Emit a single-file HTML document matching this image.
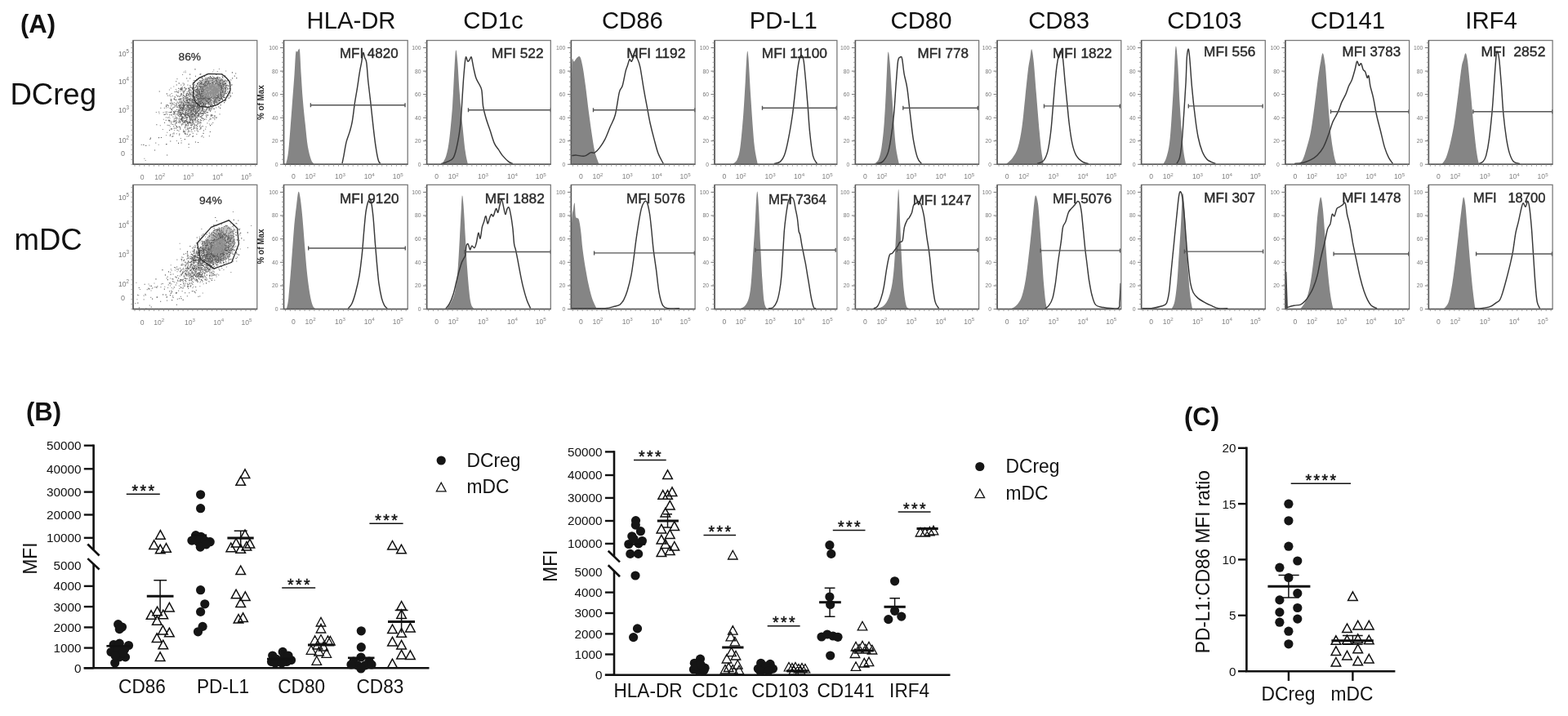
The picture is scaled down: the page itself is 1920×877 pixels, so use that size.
<!DOCTYPE html><html><head><meta charset="utf-8"><title>DCreg vs mDC</title><style>html,body{margin:0;padding:0;background:#fff;width:1920px;height:877px;overflow:hidden}svg{display:block}</style></head><body><svg width="1920" height="877" viewBox="0 0 1920 877" font-family="'Liberation Sans', Arial, sans-serif"><rect width="1920" height="877" fill="#fff"/><text x="25" y="40" font-size="31" fill="#111" text-anchor="start" font-weight="bold">(A)</text><text x="32" y="514.5" font-size="31" fill="#111" text-anchor="start" font-weight="bold">(B)</text><text x="1450" y="521" font-size="31" fill="#111" text-anchor="start" font-weight="bold">(C)</text><text x="12.5" y="128" font-size="36.5" fill="#111" text-anchor="start">DCreg</text><text x="17.5" y="305.7" font-size="36.5" fill="#111" text-anchor="start">mDC</text><text x="430" y="35" font-size="29.3" fill="#111" text-anchor="middle">HLA-DR</text><text x="604" y="35" font-size="29.3" fill="#111" text-anchor="middle">CD1c</text><text x="774.4" y="35" font-size="29.3" fill="#111" text-anchor="middle">CD86</text><text x="959.3" y="35" font-size="29.3" fill="#111" text-anchor="middle">PD-L1</text><text x="1128" y="35" font-size="29.3" fill="#111" text-anchor="middle">CD80</text><text x="1296.6" y="35" font-size="29.3" fill="#111" text-anchor="middle">CD83</text><text x="1474.9" y="35" font-size="29.3" fill="#111" text-anchor="middle">CD103</text><text x="1650.4" y="35" font-size="29.3" fill="#111" text-anchor="middle">CD141</text><text x="1826" y="35" font-size="29.3" fill="#111" text-anchor="middle">IRF4</text><clipPath id="sc0"><rect x="163" y="49.5" width="151.8" height="151.8"/></clipPath><g clip-path="url(#sc0)"><polygon points="241.9,101.6 253.2,95 269.6,95 276.8,101.6 276.2,113.9 269.6,123.2 257.3,128.3 245,126.2 240.9,118" fill="#b4b4b4" opacity="0.8"/><path d="M227.8 132.5h1.1v1.1h-1.1zM222.7 141.8h1.1v1.1h-1.1zM244.6 121.2h1.1v1.1h-1.1zM238.3 128.5h1.1v1.1h-1.1zM227.2 158.5h1.1v1.1h-1.1zM242.5 129.4h1.1v1.1h-1.1zM235.2 127.9h1.1v1.1h-1.1zM239.7 131.1h1.1v1.1h-1.1zM244.7 152.6h1.1v1.1h-1.1zM250 133.9h1.1v1.1h-1.1zM220.1 134.2h1.1v1.1h-1.1zM228.9 135.4h1.1v1.1h-1.1zM240.9 147.2h1.1v1.1h-1.1zM228.4 143.6h1.1v1.1h-1.1zM228.6 155.9h1.1v1.1h-1.1zM248.5 130.7h1.1v1.1h-1.1zM249.3 117.1h1.1v1.1h-1.1zM220.8 121.1h1.1v1.1h-1.1zM216.2 128.3h1.1v1.1h-1.1zM251.5 118.6h1.1v1.1h-1.1zM190.8 136.9h1.1v1.1h-1.1zM228.6 122.3h1.1v1.1h-1.1zM239.6 132.2h1.1v1.1h-1.1zM253.2 117.1h1.1v1.1h-1.1zM243.1 129.7h1.1v1.1h-1.1zM232.3 160.5h1.1v1.1h-1.1zM237.9 159.7h1.1v1.1h-1.1zM236.3 124.2h1.1v1.1h-1.1zM242.4 132.8h1.1v1.1h-1.1zM223 137.1h1.1v1.1h-1.1zM242.4 119.5h1.1v1.1h-1.1zM234.9 149.6h1.1v1.1h-1.1zM228.7 131.7h1.1v1.1h-1.1zM232.6 146.2h1.1v1.1h-1.1zM251.6 124.5h1.1v1.1h-1.1zM240.2 134.3h1.1v1.1h-1.1zM234.3 136.2h1.1v1.1h-1.1zM245.4 126.8h1.1v1.1h-1.1zM253.8 109.8h1.1v1.1h-1.1zM242.3 138.9h1.1v1.1h-1.1zM234 138.9h1.1v1.1h-1.1zM223 90.9h1.1v1.1h-1.1zM225.7 147.5h1.1v1.1h-1.1zM238.9 128.9h1.1v1.1h-1.1zM235.9 142h1.1v1.1h-1.1zM257.8 104.9h1.1v1.1h-1.1zM204.2 161.7h1.1v1.1h-1.1zM229.9 111.2h1.1v1.1h-1.1zM214.6 150.2h1.1v1.1h-1.1zM236.4 140.7h1.1v1.1h-1.1zM223.8 112.8h1.1v1.1h-1.1zM241.4 123.3h1.1v1.1h-1.1zM247.8 144.2h1.1v1.1h-1.1zM239.2 117.1h1.1v1.1h-1.1zM241.3 135.5h1.1v1.1h-1.1zM241.4 133.9h1.1v1.1h-1.1zM204.3 139.7h1.1v1.1h-1.1zM228.6 117.5h1.1v1.1h-1.1zM209.1 133.8h1.1v1.1h-1.1zM251.6 122h1.1v1.1h-1.1zM221.4 123.7h1.1v1.1h-1.1zM241.1 154.2h1.1v1.1h-1.1zM230.1 166.3h1.1v1.1h-1.1zM240.7 130.1h1.1v1.1h-1.1zM235.7 106.3h1.1v1.1h-1.1zM236.9 148.5h1.1v1.1h-1.1zM242.7 112.7h1.1v1.1h-1.1zM225.1 160.6h1.1v1.1h-1.1zM229.6 123.7h1.1v1.1h-1.1zM241.4 138.2h1.1v1.1h-1.1zM236.1 146.6h1.1v1.1h-1.1zM205.6 147h1.1v1.1h-1.1zM222.1 146.9h1.1v1.1h-1.1zM231 134.1h1.1v1.1h-1.1zM249.1 110.5h1.1v1.1h-1.1zM218.5 125.3h1.1v1.1h-1.1zM239.1 146.6h1.1v1.1h-1.1zM212.6 147.7h1.1v1.1h-1.1zM249.9 125.5h1.1v1.1h-1.1zM241.3 137.8h1.1v1.1h-1.1zM222.5 121.4h1.1v1.1h-1.1zM212.9 146.4h1.1v1.1h-1.1zM235.3 116.6h1.1v1.1h-1.1zM217.3 137.4h1.1v1.1h-1.1zM218.4 149.8h1.1v1.1h-1.1zM215.7 163.2h1.1v1.1h-1.1zM236.5 121.2h1.1v1.1h-1.1zM204.6 152.8h1.1v1.1h-1.1zM230.9 125.1h1.1v1.1h-1.1zM247.4 127.9h1.1v1.1h-1.1zM251.3 120.5h1.1v1.1h-1.1zM254.1 130.6h1.1v1.1h-1.1zM225.6 132.2h1.1v1.1h-1.1zM231.9 148.3h1.1v1.1h-1.1zM248.2 108.1h1.1v1.1h-1.1zM224.2 142.4h1.1v1.1h-1.1zM243.9 134.4h1.1v1.1h-1.1zM220.5 141.8h1.1v1.1h-1.1zM241.8 121.9h1.1v1.1h-1.1zM217 136.3h1.1v1.1h-1.1zM212.2 105.4h1.1v1.1h-1.1zM243.3 127.9h1.1v1.1h-1.1zM237.7 136.6h1.1v1.1h-1.1zM226.5 163.2h1.1v1.1h-1.1zM228.7 122.9h1.1v1.1h-1.1zM237.4 129.8h1.1v1.1h-1.1zM219.6 129.8h1.1v1.1h-1.1zM262 113.7h1.1v1.1h-1.1zM257.9 118.4h1.1v1.1h-1.1zM228 144.5h1.1v1.1h-1.1zM237.8 136.5h1.1v1.1h-1.1zM225.4 140h1.1v1.1h-1.1zM225 125.4h1.1v1.1h-1.1zM227.5 139.6h1.1v1.1h-1.1zM233.6 134.5h1.1v1.1h-1.1zM234.8 133.3h1.1v1.1h-1.1zM234.9 125.3h1.1v1.1h-1.1zM217.1 155.6h1.1v1.1h-1.1zM196.8 126.1h1.1v1.1h-1.1zM240 156.2h1.1v1.1h-1.1zM215.7 126.7h1.1v1.1h-1.1zM239.1 127.2h1.1v1.1h-1.1zM253.1 119h1.1v1.1h-1.1zM257.3 118.9h1.1v1.1h-1.1zM230.9 111.6h1.1v1.1h-1.1zM241.3 143.4h1.1v1.1h-1.1zM260.2 149.8h1.1v1.1h-1.1zM238.9 142.5h1.1v1.1h-1.1zM240.1 122.6h1.1v1.1h-1.1zM245.9 125.5h1.1v1.1h-1.1zM218.2 121.3h1.1v1.1h-1.1zM232.8 144.5h1.1v1.1h-1.1zM233.6 112.2h1.1v1.1h-1.1zM249.3 129.3h1.1v1.1h-1.1zM220.6 111.5h1.1v1.1h-1.1zM206.2 146.5h1.1v1.1h-1.1zM235.8 133.4h1.1v1.1h-1.1zM216.4 144.3h1.1v1.1h-1.1zM232.3 133h1.1v1.1h-1.1zM222 146.9h1.1v1.1h-1.1zM228.1 132.2h1.1v1.1h-1.1zM224.7 127.2h1.1v1.1h-1.1zM242.7 126h1.1v1.1h-1.1zM225.4 128.2h1.1v1.1h-1.1zM224.8 144.2h1.1v1.1h-1.1zM221.9 151.8h1.1v1.1h-1.1zM220.3 120.2h1.1v1.1h-1.1zM227.6 132.8h1.1v1.1h-1.1zM212.9 131h1.1v1.1h-1.1zM222.1 144.7h1.1v1.1h-1.1zM243.8 119.4h1.1v1.1h-1.1zM218.6 101.1h1.1v1.1h-1.1zM235.9 124.6h1.1v1.1h-1.1zM233 110.2h1.1v1.1h-1.1zM231.2 134.9h1.1v1.1h-1.1zM243.4 118h1.1v1.1h-1.1zM245.3 130.1h1.1v1.1h-1.1zM231 125.6h1.1v1.1h-1.1zM234 120.3h1.1v1.1h-1.1zM234.3 145.7h1.1v1.1h-1.1zM244.5 115.7h1.1v1.1h-1.1zM235.7 134.9h1.1v1.1h-1.1zM257.8 121.6h1.1v1.1h-1.1zM251.7 154.9h1.1v1.1h-1.1zM241 137.7h1.1v1.1h-1.1zM203.4 138.6h1.1v1.1h-1.1zM238.6 114.3h1.1v1.1h-1.1zM229.3 130.5h1.1v1.1h-1.1zM235.5 135.1h1.1v1.1h-1.1zM234.7 124.6h1.1v1.1h-1.1zM226.7 144.2h1.1v1.1h-1.1zM238.5 121.8h1.1v1.1h-1.1zM221.7 132.6h1.1v1.1h-1.1zM240.8 132.2h1.1v1.1h-1.1zM227 140.7h1.1v1.1h-1.1zM230.2 139.6h1.1v1.1h-1.1zM238.5 133.1h1.1v1.1h-1.1zM241.3 137h1.1v1.1h-1.1zM207.5 148.7h1.1v1.1h-1.1zM230.3 149.3h1.1v1.1h-1.1zM233.8 144.5h1.1v1.1h-1.1zM242.6 125.1h1.1v1.1h-1.1zM220.4 149h1.1v1.1h-1.1zM232.7 129.1h1.1v1.1h-1.1zM233.8 116h1.1v1.1h-1.1zM240.6 129.2h1.1v1.1h-1.1zM210.3 134.6h1.1v1.1h-1.1zM225.8 149.3h1.1v1.1h-1.1zM252.1 114.5h1.1v1.1h-1.1zM257.9 145.2h1.1v1.1h-1.1zM221.6 133.4h1.1v1.1h-1.1zM243.2 129.5h1.1v1.1h-1.1zM238.1 130.2h1.1v1.1h-1.1zM219.5 146.5h1.1v1.1h-1.1zM232.9 142h1.1v1.1h-1.1zM240.6 144h1.1v1.1h-1.1zM241.4 112.4h1.1v1.1h-1.1zM232.7 116.2h1.1v1.1h-1.1zM241.3 136.6h1.1v1.1h-1.1zM242.3 110.7h1.1v1.1h-1.1zM220.1 150.4h1.1v1.1h-1.1zM203 131.4h1.1v1.1h-1.1zM236 133.4h1.1v1.1h-1.1zM221.2 114.8h1.1v1.1h-1.1zM226.9 140.1h1.1v1.1h-1.1zM229 123.5h1.1v1.1h-1.1zM251.1 157.6h1.1v1.1h-1.1zM200.8 131.8h1.1v1.1h-1.1zM246.4 130.4h1.1v1.1h-1.1zM265.2 143.5h1.1v1.1h-1.1zM234.9 102.7h1.1v1.1h-1.1zM263 136.4h1.1v1.1h-1.1zM234 144.3h1.1v1.1h-1.1zM234 132h1.1v1.1h-1.1zM240.8 140.8h1.1v1.1h-1.1zM235.9 124.9h1.1v1.1h-1.1zM237.3 122.8h1.1v1.1h-1.1zM237.7 156.6h1.1v1.1h-1.1zM227.3 119.4h1.1v1.1h-1.1zM245.9 121.3h1.1v1.1h-1.1zM235.7 162.8h1.1v1.1h-1.1zM245 134.4h1.1v1.1h-1.1zM230.3 129.5h1.1v1.1h-1.1zM236.9 128.3h1.1v1.1h-1.1zM235.1 121.1h1.1v1.1h-1.1zM210.9 116.9h1.1v1.1h-1.1zM236.2 142.1h1.1v1.1h-1.1zM248 111.8h1.1v1.1h-1.1zM236.5 111.9h1.1v1.1h-1.1zM245.5 138.8h1.1v1.1h-1.1zM233 142.6h1.1v1.1h-1.1zM228.8 148.5h1.1v1.1h-1.1zM235.2 123h1.1v1.1h-1.1zM223.9 111.5h1.1v1.1h-1.1zM221.3 136.5h1.1v1.1h-1.1zM238.2 143.1h1.1v1.1h-1.1zM236.8 134.6h1.1v1.1h-1.1zM246.5 118.8h1.1v1.1h-1.1zM247.1 165.8h1.1v1.1h-1.1zM236.9 135.5h1.1v1.1h-1.1zM244.4 138.3h1.1v1.1h-1.1zM213.1 118.2h1.1v1.1h-1.1zM221.3 139.9h1.1v1.1h-1.1zM225.8 127.8h1.1v1.1h-1.1zM221.9 138.5h1.1v1.1h-1.1zM236.8 126.1h1.1v1.1h-1.1zM220 156.4h1.1v1.1h-1.1zM224.4 103.8h1.1v1.1h-1.1zM242.1 114.5h1.1v1.1h-1.1zM235.3 125.4h1.1v1.1h-1.1zM215 140.2h1.1v1.1h-1.1zM244.2 136.5h1.1v1.1h-1.1zM246.4 142.3h1.1v1.1h-1.1zM224 132.8h1.1v1.1h-1.1zM224.7 131.2h1.1v1.1h-1.1zM223.8 118.9h1.1v1.1h-1.1zM238.5 128.1h1.1v1.1h-1.1zM227.1 133h1.1v1.1h-1.1zM231.4 143.6h1.1v1.1h-1.1zM240.8 146.7h1.1v1.1h-1.1zM226.5 86.5h1.1v1.1h-1.1zM234.3 140.9h1.1v1.1h-1.1zM225.4 128.3h1.1v1.1h-1.1zM252.6 106.3h1.1v1.1h-1.1zM227.3 158.3h1.1v1.1h-1.1zM229.7 161.4h1.1v1.1h-1.1zM229.4 140.1h1.1v1.1h-1.1zM245.2 117.5h1.1v1.1h-1.1zM250.8 123h1.1v1.1h-1.1zM234.6 148.2h1.1v1.1h-1.1zM243.9 130.6h1.1v1.1h-1.1zM248.3 126.3h1.1v1.1h-1.1zM245.6 93.9h1.1v1.1h-1.1zM236.2 118h1.1v1.1h-1.1zM235 112.3h1.1v1.1h-1.1zM230 124.9h1.1v1.1h-1.1zM227.4 125h1.1v1.1h-1.1zM230 124.2h1.1v1.1h-1.1zM244.8 136.7h1.1v1.1h-1.1zM243.1 129.2h1.1v1.1h-1.1zM208.7 120.8h1.1v1.1h-1.1zM247.2 119.2h1.1v1.1h-1.1zM230.3 129.8h1.1v1.1h-1.1zM221.6 134.8h1.1v1.1h-1.1zM228.3 152.8h1.1v1.1h-1.1zM227.7 146.9h1.1v1.1h-1.1zM247.1 116.7h1.1v1.1h-1.1zM216.7 117.6h1.1v1.1h-1.1zM247.2 128.6h1.1v1.1h-1.1zM230.3 135.4h1.1v1.1h-1.1zM227.4 133h1.1v1.1h-1.1zM229.8 135.9h1.1v1.1h-1.1zM224.3 143.7h1.1v1.1h-1.1zM235.8 124.5h1.1v1.1h-1.1zM224.6 87.7h1.1v1.1h-1.1zM212.6 121.2h1.1v1.1h-1.1zM268.5 139.3h1.1v1.1h-1.1zM212.5 163.5h1.1v1.1h-1.1zM234.5 123.5h1.1v1.1h-1.1zM215 109h1.1v1.1h-1.1zM244.2 124.3h1.1v1.1h-1.1zM227.2 127.4h1.1v1.1h-1.1zM233.6 120.7h1.1v1.1h-1.1zM213.1 159.2h1.1v1.1h-1.1zM242.4 135h1.1v1.1h-1.1zM225 142.4h1.1v1.1h-1.1zM264.1 131.3h1.1v1.1h-1.1zM256 132.7h1.1v1.1h-1.1zM220.3 134.4h1.1v1.1h-1.1zM274.3 115.6h1.1v1.1h-1.1zM219.6 135.1h1.1v1.1h-1.1zM230.2 140.7h1.1v1.1h-1.1zM229.7 129.9h1.1v1.1h-1.1zM228.8 123h1.1v1.1h-1.1zM194.5 138.5h1.1v1.1h-1.1zM214.2 141.9h1.1v1.1h-1.1zM239.1 126.1h1.1v1.1h-1.1zM218.9 136.5h1.1v1.1h-1.1zM242.6 129.9h1.1v1.1h-1.1zM241.3 120.7h1.1v1.1h-1.1zM245.4 127.2h1.1v1.1h-1.1zM248.1 138.9h1.1v1.1h-1.1zM224.4 136.4h1.1v1.1h-1.1zM217.8 136.1h1.1v1.1h-1.1zM239 135.9h1.1v1.1h-1.1zM251.5 123.5h1.1v1.1h-1.1zM232 143.1h1.1v1.1h-1.1zM255.2 147.5h1.1v1.1h-1.1zM253.5 116.7h1.1v1.1h-1.1zM229.3 124.9h1.1v1.1h-1.1zM256.9 112.2h1.1v1.1h-1.1zM220.1 116.7h1.1v1.1h-1.1zM221.3 124.3h1.1v1.1h-1.1zM221.4 124.7h1.1v1.1h-1.1zM236.1 133.7h1.1v1.1h-1.1zM208.8 126.7h1.1v1.1h-1.1zM223.6 128.7h1.1v1.1h-1.1zM246.3 144.1h1.1v1.1h-1.1zM237.4 122.6h1.1v1.1h-1.1zM240 137.9h1.1v1.1h-1.1zM207.7 115.6h1.1v1.1h-1.1zM223.8 125.8h1.1v1.1h-1.1zM196.3 131.8h1.1v1.1h-1.1zM208.4 126.2h1.1v1.1h-1.1zM226.3 154.6h1.1v1.1h-1.1zM263.2 120.4h1.1v1.1h-1.1zM236 128.9h1.1v1.1h-1.1zM257.3 115.4h1.1v1.1h-1.1zM241.9 128.6h1.1v1.1h-1.1zM236.5 130.8h1.1v1.1h-1.1zM227 108.3h1.1v1.1h-1.1zM238.8 144.3h1.1v1.1h-1.1zM240.7 123.4h1.1v1.1h-1.1zM234.4 144h1.1v1.1h-1.1zM240.4 116h1.1v1.1h-1.1zM228.9 113.8h1.1v1.1h-1.1zM243.9 121.1h1.1v1.1h-1.1zM238.2 152.2h1.1v1.1h-1.1zM232.1 126.1h1.1v1.1h-1.1zM238.9 123.8h1.1v1.1h-1.1zM206.9 109.4h1.1v1.1h-1.1zM243.5 118.1h1.1v1.1h-1.1zM218.4 154.4h1.1v1.1h-1.1zM248 134.1h1.1v1.1h-1.1zM239.3 156.5h1.1v1.1h-1.1zM256 151.4h1.1v1.1h-1.1zM218.5 128.4h1.1v1.1h-1.1zM251.8 125.2h1.1v1.1h-1.1zM211.1 126.9h1.1v1.1h-1.1zM220.5 135h1.1v1.1h-1.1zM231.8 146.2h1.1v1.1h-1.1zM233.1 126h1.1v1.1h-1.1zM234.4 115.3h1.1v1.1h-1.1zM234.4 160.8h1.1v1.1h-1.1zM245.2 138.6h1.1v1.1h-1.1zM218.6 121.2h1.1v1.1h-1.1zM211.2 132.3h1.1v1.1h-1.1zM221.5 120.2h1.1v1.1h-1.1zM209.4 125.4h1.1v1.1h-1.1zM242.2 138.3h1.1v1.1h-1.1zM227 138.6h1.1v1.1h-1.1zM236.1 139.9h1.1v1.1h-1.1zM244.4 110.7h1.1v1.1h-1.1zM266.5 118h1.1v1.1h-1.1zM218.1 135.2h1.1v1.1h-1.1zM230.6 155.3h1.1v1.1h-1.1zM234.9 117h1.1v1.1h-1.1zM212.5 144.7h1.1v1.1h-1.1zM246.6 126h1.1v1.1h-1.1zM220 116.9h1.1v1.1h-1.1zM229.6 147.6h1.1v1.1h-1.1zM219.3 135.9h1.1v1.1h-1.1zM224.6 122.8h1.1v1.1h-1.1zM256.1 131.4h1.1v1.1h-1.1zM238.3 115h1.1v1.1h-1.1zM250.1 124.8h1.1v1.1h-1.1zM215.5 147.8h1.1v1.1h-1.1zM228.3 166.5h1.1v1.1h-1.1zM271.5 121.3h1.1v1.1h-1.1zM241.8 141.1h1.1v1.1h-1.1zM242.9 120h1.1v1.1h-1.1zM228.7 154h1.1v1.1h-1.1zM235.3 142.3h1.1v1.1h-1.1zM251.8 140.6h1.1v1.1h-1.1zM238.3 114.8h1.1v1.1h-1.1zM232.7 141.7h1.1v1.1h-1.1zM262.3 145.8h1.1v1.1h-1.1zM237.1 150.8h1.1v1.1h-1.1zM222.7 110.4h1.1v1.1h-1.1zM227.6 143.2h1.1v1.1h-1.1zM228.9 120.4h1.1v1.1h-1.1zM230.6 121.7h1.1v1.1h-1.1zM247.2 112.7h1.1v1.1h-1.1zM239.2 139.1h1.1v1.1h-1.1zM240.8 144.3h1.1v1.1h-1.1zM228.1 152.2h1.1v1.1h-1.1zM220.4 132.4h1.1v1.1h-1.1zM239.8 104.2h1.1v1.1h-1.1zM240.3 129h1.1v1.1h-1.1zM252.1 142.4h1.1v1.1h-1.1zM235 139.4h1.1v1.1h-1.1zM260.7 132.6h1.1v1.1h-1.1zM210 140.5h1.1v1.1h-1.1zM205.2 131.2h1.1v1.1h-1.1zM218.1 113h1.1v1.1h-1.1zM252.1 136.5h1.1v1.1h-1.1zM215.7 149.4h1.1v1.1h-1.1zM230.1 136.3h1.1v1.1h-1.1zM224.6 149.2h1.1v1.1h-1.1zM235.4 126.6h1.1v1.1h-1.1zM246.2 166.7h1.1v1.1h-1.1zM233.2 128.3h1.1v1.1h-1.1zM216.6 125.4h1.1v1.1h-1.1zM215.4 150.7h1.1v1.1h-1.1zM245.8 136.4h1.1v1.1h-1.1zM209.4 133.6h1.1v1.1h-1.1zM237 142.7h1.1v1.1h-1.1zM242.7 124.1h1.1v1.1h-1.1zM236.9 112.6h1.1v1.1h-1.1zM214.3 137.9h1.1v1.1h-1.1zM216.2 128.2h1.1v1.1h-1.1zM218.4 131.7h1.1v1.1h-1.1zM236.5 132.4h1.1v1.1h-1.1zM223.7 111.1h1.1v1.1h-1.1zM223.8 138.6h1.1v1.1h-1.1zM240.1 143.3h1.1v1.1h-1.1zM201.8 136.7h1.1v1.1h-1.1zM238.5 126.9h1.1v1.1h-1.1zM241.4 117.2h1.1v1.1h-1.1zM232 138.6h1.1v1.1h-1.1zM223.8 133.2h1.1v1.1h-1.1zM235.4 131.8h1.1v1.1h-1.1zM267.7 122.2h1.1v1.1h-1.1zM225.9 128.2h1.1v1.1h-1.1zM252.7 115.9h1.1v1.1h-1.1zM209.6 123.5h1.1v1.1h-1.1zM212 137h1.1v1.1h-1.1zM258.7 151.6h1.1v1.1h-1.1zM231.2 131.3h1.1v1.1h-1.1zM230.7 127.3h1.1v1.1h-1.1zM243 150.3h1.1v1.1h-1.1zM259.2 132.3h1.1v1.1h-1.1zM230.3 136.5h1.1v1.1h-1.1zM235.1 149.8h1.1v1.1h-1.1zM235.9 151.4h1.1v1.1h-1.1zM233.2 156.5h1.1v1.1h-1.1zM241.3 107.6h1.1v1.1h-1.1zM210 125.6h1.1v1.1h-1.1zM221.8 136.7h1.1v1.1h-1.1zM225.8 161.6h1.1v1.1h-1.1zM227.8 122.9h1.1v1.1h-1.1zM223.2 138.2h1.1v1.1h-1.1zM234.4 137.5h1.1v1.1h-1.1zM228.7 141.2h1.1v1.1h-1.1zM249.5 144.7h1.1v1.1h-1.1zM224.6 120.7h1.1v1.1h-1.1zM256.1 120.1h1.1v1.1h-1.1zM232.8 115h1.1v1.1h-1.1zM253 134.2h1.1v1.1h-1.1zM237 131.6h1.1v1.1h-1.1zM241.3 120.1h1.1v1.1h-1.1zM251.6 124.8h1.1v1.1h-1.1zM221.1 137.4h1.1v1.1h-1.1zM265.5 100.3h1.1v1.1h-1.1zM231 116.4h1.1v1.1h-1.1zM223.6 138.3h1.1v1.1h-1.1zM241.3 108.2h1.1v1.1h-1.1zM218.7 101.9h1.1v1.1h-1.1zM240.8 134h1.1v1.1h-1.1zM209.2 149.9h1.1v1.1h-1.1zM219 165.2h1.1v1.1h-1.1zM266.7 122.1h1.1v1.1h-1.1zM245.6 142.1h1.1v1.1h-1.1zM199.5 137.3h1.1v1.1h-1.1zM219.9 131.5h1.1v1.1h-1.1zM230 140.2h1.1v1.1h-1.1zM235.8 101.3h1.1v1.1h-1.1zM220.5 116.5h1.1v1.1h-1.1zM194.1 136.6h1.1v1.1h-1.1zM239.5 127h1.1v1.1h-1.1zM209.6 113.9h1.1v1.1h-1.1zM211.4 142.6h1.1v1.1h-1.1zM244.6 127.4h1.1v1.1h-1.1zM238 136h1.1v1.1h-1.1zM230.9 131.8h1.1v1.1h-1.1zM225.3 129h1.1v1.1h-1.1zM229.4 103.6h1.1v1.1h-1.1zM227.8 114h1.1v1.1h-1.1zM228.1 144.6h1.1v1.1h-1.1zM227 118.4h1.1v1.1h-1.1zM225.6 133.8h1.1v1.1h-1.1zM217.9 126.5h1.1v1.1h-1.1zM260.1 128.4h1.1v1.1h-1.1zM243.6 131.4h1.1v1.1h-1.1zM229.4 120.6h1.1v1.1h-1.1zM269.8 119.8h1.1v1.1h-1.1zM257.9 113.1h1.1v1.1h-1.1zM252.6 104h1.1v1.1h-1.1zM243.7 127.2h1.1v1.1h-1.1zM233.3 127.1h1.1v1.1h-1.1zM223.5 127.5h1.1v1.1h-1.1zM234.3 129.7h1.1v1.1h-1.1zM246.7 134h1.1v1.1h-1.1zM226.3 136.3h1.1v1.1h-1.1zM217.6 137.7h1.1v1.1h-1.1zM212.2 139.2h1.1v1.1h-1.1zM221.7 126h1.1v1.1h-1.1zM227.4 121.8h1.1v1.1h-1.1zM231.5 134.2h1.1v1.1h-1.1zM235.2 115.8h1.1v1.1h-1.1zM232 121.2h1.1v1.1h-1.1zM234.8 150.4h1.1v1.1h-1.1zM227.2 148.8h1.1v1.1h-1.1zM254.1 125.9h1.1v1.1h-1.1zM221.5 108.8h1.1v1.1h-1.1zM221.3 146.2h1.1v1.1h-1.1zM230.8 134.1h1.1v1.1h-1.1zM237.6 122.4h1.1v1.1h-1.1zM239 132.7h1.1v1.1h-1.1zM237.7 127.2h1.1v1.1h-1.1zM246.3 116.7h1.1v1.1h-1.1zM217.9 141.1h1.1v1.1h-1.1zM227.3 130.4h1.1v1.1h-1.1zM230.7 110.3h1.1v1.1h-1.1zM237.3 136.8h1.1v1.1h-1.1zM232.2 139.7h1.1v1.1h-1.1zM207.5 144.4h1.1v1.1h-1.1zM250.4 130h1.1v1.1h-1.1zM226.8 127.8h1.1v1.1h-1.1zM221.2 103.6h1.1v1.1h-1.1zM231.3 165.6h1.1v1.1h-1.1zM225.2 123.6h1.1v1.1h-1.1zM242.6 137.9h1.1v1.1h-1.1zM221.7 171.7h1.1v1.1h-1.1zM247 121h1.1v1.1h-1.1zM243.7 139.6h1.1v1.1h-1.1zM220.2 134.7h1.1v1.1h-1.1zM229 136h1.1v1.1h-1.1zM228.5 148.7h1.1v1.1h-1.1zM238.5 125.9h1.1v1.1h-1.1zM219.9 108.7h1.1v1.1h-1.1zM222.6 131h1.1v1.1h-1.1zM207.8 154.4h1.1v1.1h-1.1zM237.3 120.6h1.1v1.1h-1.1zM242.5 147.9h1.1v1.1h-1.1zM250.9 126.8h1.1v1.1h-1.1zM239.8 115.5h1.1v1.1h-1.1zM240.1 130.1h1.1v1.1h-1.1zM240.6 142.5h1.1v1.1h-1.1zM238.8 139.4h1.1v1.1h-1.1zM249 123.7h1.1v1.1h-1.1zM227.6 114.6h1.1v1.1h-1.1zM252.4 137.1h1.1v1.1h-1.1zM218.1 137.1h1.1v1.1h-1.1zM241.8 121.2h1.1v1.1h-1.1zM219.4 142.4h1.1v1.1h-1.1zM237.9 131.8h1.1v1.1h-1.1zM244.8 123.6h1.1v1.1h-1.1zM225.9 154.9h1.1v1.1h-1.1zM242.4 128.5h1.1v1.1h-1.1zM245.1 131.2h1.1v1.1h-1.1zM237.3 151.7h1.1v1.1h-1.1zM222.1 122.9h1.1v1.1h-1.1zM220.4 116.7h1.1v1.1h-1.1zM232.9 130.7h1.1v1.1h-1.1zM211 163.5h1.1v1.1h-1.1zM223.4 127.7h1.1v1.1h-1.1zM233.2 144.3h1.1v1.1h-1.1zM223.6 145.2h1.1v1.1h-1.1zM243.9 133.5h1.1v1.1h-1.1zM250.5 129.7h1.1v1.1h-1.1zM235.4 119.4h1.1v1.1h-1.1zM226.1 107.6h1.1v1.1h-1.1zM218.9 141.8h1.1v1.1h-1.1zM237.8 107.5h1.1v1.1h-1.1zM221.2 145.7h1.1v1.1h-1.1zM220.3 130.2h1.1v1.1h-1.1zM236.3 149.9h1.1v1.1h-1.1zM240.3 163.8h1.1v1.1h-1.1zM207.6 147.7h1.1v1.1h-1.1zM240.8 120.7h1.1v1.1h-1.1zM213.7 151.5h1.1v1.1h-1.1zM228.4 137.6h1.1v1.1h-1.1zM234 110.4h1.1v1.1h-1.1zM216.4 96.1h1.1v1.1h-1.1zM233.1 117.4h1.1v1.1h-1.1zM244 131.4h1.1v1.1h-1.1zM214.8 136.1h1.1v1.1h-1.1zM229.1 132.7h1.1v1.1h-1.1zM242.9 149h1.1v1.1h-1.1zM240.6 121.8h1.1v1.1h-1.1zM228 115h1.1v1.1h-1.1zM224.3 131.8h1.1v1.1h-1.1zM222.1 147.6h1.1v1.1h-1.1zM220.3 139.8h1.1v1.1h-1.1zM214.3 152.6h1.1v1.1h-1.1zM225.1 124.2h1.1v1.1h-1.1zM222 127.8h1.1v1.1h-1.1zM243.3 132.3h1.1v1.1h-1.1zM261.2 119.8h1.1v1.1h-1.1zM221.3 138.5h1.1v1.1h-1.1zM257.5 113h1.1v1.1h-1.1zM227 151.5h1.1v1.1h-1.1zM236.1 134.2h1.1v1.1h-1.1zM245.6 156.6h1.1v1.1h-1.1zM228.1 122.2h1.1v1.1h-1.1zM199.8 145.7h1.1v1.1h-1.1zM212.4 162.3h1.1v1.1h-1.1zM243.5 138.7h1.1v1.1h-1.1zM224.7 128.7h1.1v1.1h-1.1zM245.9 154.9h1.1v1.1h-1.1zM239.5 136.2h1.1v1.1h-1.1zM234.5 140.6h1.1v1.1h-1.1zM238.6 121h1.1v1.1h-1.1zM232.5 137.2h1.1v1.1h-1.1zM235.9 133.7h1.1v1.1h-1.1zM220.9 132h1.1v1.1h-1.1zM253.8 130.8h1.1v1.1h-1.1zM224.2 158.6h1.1v1.1h-1.1zM235.2 166.8h1.1v1.1h-1.1zM226.5 140.6h1.1v1.1h-1.1zM230.2 139.3h1.1v1.1h-1.1zM234.4 113.2h1.1v1.1h-1.1zM234.2 142.2h1.1v1.1h-1.1zM232.4 125h1.1v1.1h-1.1zM248.4 147.1h1.1v1.1h-1.1zM222.5 139h1.1v1.1h-1.1zM258.3 134.2h1.1v1.1h-1.1zM241 149.4h1.1v1.1h-1.1zM249.9 125.8h1.1v1.1h-1.1zM235.5 147.8h1.1v1.1h-1.1zM235.7 135.9h1.1v1.1h-1.1zM237.4 140.1h1.1v1.1h-1.1zM241.3 141.7h1.1v1.1h-1.1zM243.8 129.7h1.1v1.1h-1.1zM248.8 115.9h1.1v1.1h-1.1zM229.9 152.8h1.1v1.1h-1.1zM229.9 119.9h1.1v1.1h-1.1zM224.5 134h1.1v1.1h-1.1zM215.6 122.5h1.1v1.1h-1.1zM239.6 142.6h1.1v1.1h-1.1zM242.4 123.3h1.1v1.1h-1.1zM227.9 115.6h1.1v1.1h-1.1zM235.3 134.9h1.1v1.1h-1.1zM241.5 124.9h1.1v1.1h-1.1zM228.7 128.9h1.1v1.1h-1.1zM213.7 118.7h1.1v1.1h-1.1zM238.1 117.4h1.1v1.1h-1.1zM212.7 120h1.1v1.1h-1.1zM251 118h1.1v1.1h-1.1zM234.8 124.6h1.1v1.1h-1.1zM230.2 129.6h1.1v1.1h-1.1zM210.8 125.9h1.1v1.1h-1.1zM245 142.2h1.1v1.1h-1.1zM242.4 113h1.1v1.1h-1.1zM231.6 141.5h1.1v1.1h-1.1zM222.5 144.4h1.1v1.1h-1.1zM241.1 154.8h1.1v1.1h-1.1zM252.5 132.6h1.1v1.1h-1.1zM244 128.4h1.1v1.1h-1.1zM234.5 141.1h1.1v1.1h-1.1zM252.4 136.5h1.1v1.1h-1.1zM230.6 138.8h1.1v1.1h-1.1zM238.8 145.5h1.1v1.1h-1.1zM246.7 111.1h1.1v1.1h-1.1zM253.1 121.1h1.1v1.1h-1.1zM231.6 133.3h1.1v1.1h-1.1zM236.9 111.6h1.1v1.1h-1.1zM222.9 132.8h1.1v1.1h-1.1zM238.7 135.8h1.1v1.1h-1.1zM250.9 113.4h1.1v1.1h-1.1zM251.2 134.7h1.1v1.1h-1.1zM236.2 139.7h1.1v1.1h-1.1zM235 149.2h1.1v1.1h-1.1zM235.8 157.7h1.1v1.1h-1.1zM236.1 133.9h1.1v1.1h-1.1zM216 143.5h1.1v1.1h-1.1zM236.7 97.9h1.1v1.1h-1.1zM244.2 131.5h1.1v1.1h-1.1zM227.9 134.9h1.1v1.1h-1.1zM225.4 130.7h1.1v1.1h-1.1zM220.8 169h1.1v1.1h-1.1zM225.4 107h1.1v1.1h-1.1zM224.7 121.6h1.1v1.1h-1.1zM222.9 144h1.1v1.1h-1.1zM237.3 145.6h1.1v1.1h-1.1zM208.4 131.7h1.1v1.1h-1.1zM233.8 123.5h1.1v1.1h-1.1zM240.9 143.3h1.1v1.1h-1.1zM221.9 139.8h1.1v1.1h-1.1zM238.3 133.2h1.1v1.1h-1.1zM247.8 102.9h1.1v1.1h-1.1zM242.3 145.7h1.1v1.1h-1.1zM221.7 133.3h1.1v1.1h-1.1zM251.7 122h1.1v1.1h-1.1zM234.7 150.1h1.1v1.1h-1.1zM233.3 114.3h1.1v1.1h-1.1zM259.3 122.9h1.1v1.1h-1.1zM237.5 135.4h1.1v1.1h-1.1zM227.8 134.7h1.1v1.1h-1.1zM257.6 121.8h1.1v1.1h-1.1zM228.3 127.1h1.1v1.1h-1.1zM230 128.8h1.1v1.1h-1.1zM243.5 138h1.1v1.1h-1.1zM246 116.6h1.1v1.1h-1.1zM220.2 128h1.1v1.1h-1.1zM233.2 112.5h1.1v1.1h-1.1zM231.4 114.4h1.1v1.1h-1.1zM238.1 103.3h1.1v1.1h-1.1zM239.4 153.6h1.1v1.1h-1.1zM208.9 129.3h1.1v1.1h-1.1zM206.7 116.7h1.1v1.1h-1.1zM229.6 130.5h1.1v1.1h-1.1zM212.5 149h1.1v1.1h-1.1zM263.2 121.7h1.1v1.1h-1.1zM223 131.3h1.1v1.1h-1.1zM235.7 131.1h1.1v1.1h-1.1zM256.7 123.5h1.1v1.1h-1.1zM249.3 134.4h1.1v1.1h-1.1zM244.7 147.4h1.1v1.1h-1.1zM210 128h1.1v1.1h-1.1zM233.8 129.7h1.1v1.1h-1.1zM231.1 129.1h1.1v1.1h-1.1zM256.8 134.9h1.1v1.1h-1.1zM220.1 130.7h1.1v1.1h-1.1zM244.1 125.3h1.1v1.1h-1.1zM224.5 149.6h1.1v1.1h-1.1zM232.9 145.1h1.1v1.1h-1.1zM245 116.3h1.1v1.1h-1.1zM215.8 172h1.1v1.1h-1.1zM243.3 142.6h1.1v1.1h-1.1zM212.6 146.8h1.1v1.1h-1.1zM214 135.9h1.1v1.1h-1.1zM234.7 143h1.1v1.1h-1.1zM244.3 150.5h1.1v1.1h-1.1zM220.2 124.3h1.1v1.1h-1.1zM220.6 134.4h1.1v1.1h-1.1zM243.8 124.2h1.1v1.1h-1.1zM248.6 167.6h1.1v1.1h-1.1zM240.7 136.9h1.1v1.1h-1.1zM251.6 108h1.1v1.1h-1.1zM237.9 132.1h1.1v1.1h-1.1zM218.7 125.2h1.1v1.1h-1.1zM236.8 119.2h1.1v1.1h-1.1zM195.8 153.2h1.1v1.1h-1.1zM237.4 154.9h1.1v1.1h-1.1zM226.1 160.5h1.1v1.1h-1.1zM233.8 120.6h1.1v1.1h-1.1zM235.1 133.7h1.1v1.1h-1.1zM232.3 141.5h1.1v1.1h-1.1zM206.8 142.7h1.1v1.1h-1.1zM204.7 116.6h1.1v1.1h-1.1zM220.2 109.1h1.1v1.1h-1.1zM235.1 138.9h1.1v1.1h-1.1zM248.8 134.6h1.1v1.1h-1.1zM235.1 122.2h1.1v1.1h-1.1zM241.3 152.1h1.1v1.1h-1.1zM219.4 133.4h1.1v1.1h-1.1zM221.3 130.8h1.1v1.1h-1.1zM245.2 122.8h1.1v1.1h-1.1zM248.8 118.4h1.1v1.1h-1.1zM223 136.5h1.1v1.1h-1.1zM232 134.2h1.1v1.1h-1.1zM237.1 113.7h1.1v1.1h-1.1zM235.1 137.4h1.1v1.1h-1.1zM229 128.3h1.1v1.1h-1.1zM218.5 145.5h1.1v1.1h-1.1zM221.3 136.9h1.1v1.1h-1.1zM224.8 126.9h1.1v1.1h-1.1zM212.7 125h1.1v1.1h-1.1zM208.7 107.4h1.1v1.1h-1.1zM208.9 158.2h1.1v1.1h-1.1zM234.8 131.6h1.1v1.1h-1.1zM222.7 151.2h1.1v1.1h-1.1zM224.7 123.4h1.1v1.1h-1.1zM238.8 122.9h1.1v1.1h-1.1zM238.6 126.2h1.1v1.1h-1.1zM247 121.8h1.1v1.1h-1.1zM237.1 118.6h1.1v1.1h-1.1zM241.3 131.2h1.1v1.1h-1.1zM208.6 117.8h1.1v1.1h-1.1zM236.2 131.9h1.1v1.1h-1.1zM220.7 134.3h1.1v1.1h-1.1zM225.3 120.1h1.1v1.1h-1.1zM244.2 157.9h1.1v1.1h-1.1zM254.4 124h1.1v1.1h-1.1zM250.4 120.1h1.1v1.1h-1.1zM243.1 140.7h1.1v1.1h-1.1zM240.5 135.9h1.1v1.1h-1.1zM219.2 120.6h1.1v1.1h-1.1zM255.8 166.1h1.1v1.1h-1.1zM248.3 137.9h1.1v1.1h-1.1zM214.2 118.3h1.1v1.1h-1.1zM240.3 140.6h1.1v1.1h-1.1zM218.7 138.4h1.1v1.1h-1.1zM207.1 147h1.1v1.1h-1.1zM236.9 155.3h1.1v1.1h-1.1zM226.7 88.2h1.1v1.1h-1.1zM268.8 119.5h1.1v1.1h-1.1zM254.8 130h1.1v1.1h-1.1zM240.9 128.5h1.1v1.1h-1.1zM227.4 131.3h1.1v1.1h-1.1zM229.5 131.4h1.1v1.1h-1.1zM226.4 140.7h1.1v1.1h-1.1zM231.3 138.7h1.1v1.1h-1.1zM244.8 155.8h1.1v1.1h-1.1zM247.2 129.3h1.1v1.1h-1.1zM252.7 134h1.1v1.1h-1.1zM254.9 129.6h1.1v1.1h-1.1zM236.3 147.4h1.1v1.1h-1.1zM235.4 118.8h1.1v1.1h-1.1zM238.5 137.6h1.1v1.1h-1.1zM236.5 135.2h1.1v1.1h-1.1zM230.8 150.1h1.1v1.1h-1.1zM233.3 134h1.1v1.1h-1.1zM214.5 128.9h1.1v1.1h-1.1zM218.9 144.3h1.1v1.1h-1.1zM197 125.5h1.1v1.1h-1.1zM233 145.8h1.1v1.1h-1.1zM231.9 139.9h1.1v1.1h-1.1zM202.9 143.3h1.1v1.1h-1.1zM246.6 142.5h1.1v1.1h-1.1zM233.6 142.3h1.1v1.1h-1.1zM233.6 127.5h1.1v1.1h-1.1zM221.9 129.7h1.1v1.1h-1.1zM247.5 111.9h1.1v1.1h-1.1zM248.5 140.5h1.1v1.1h-1.1zM222.7 125.4h1.1v1.1h-1.1zM218.8 146.9h1.1v1.1h-1.1zM221.6 131h1.1v1.1h-1.1zM216.3 135.9h1.1v1.1h-1.1zM248.8 139.1h1.1v1.1h-1.1zM253.4 150.3h1.1v1.1h-1.1zM222 153.2h1.1v1.1h-1.1zM237.1 114.6h1.1v1.1h-1.1zM228.6 123.6h1.1v1.1h-1.1zM257.3 133.3h1.1v1.1h-1.1zM230.1 126h1.1v1.1h-1.1zM224.8 118.8h1.1v1.1h-1.1zM230.7 137.9h1.1v1.1h-1.1zM230.6 180h1.1v1.1h-1.1zM220 155.4h1.1v1.1h-1.1zM227.5 127.5h1.1v1.1h-1.1zM220.7 130.7h1.1v1.1h-1.1zM225.7 140.2h1.1v1.1h-1.1zM223.6 128.2h1.1v1.1h-1.1zM236.9 140.9h1.1v1.1h-1.1zM245.9 135.5h1.1v1.1h-1.1zM222.6 117.8h1.1v1.1h-1.1zM233.4 136.1h1.1v1.1h-1.1zM223 128.5h1.1v1.1h-1.1zM227.2 121.5h1.1v1.1h-1.1zM233.2 150.4h1.1v1.1h-1.1zM235.1 122.8h1.1v1.1h-1.1zM234.8 136.7h1.1v1.1h-1.1zM221 144.7h1.1v1.1h-1.1zM228.9 118.9h1.1v1.1h-1.1zM218.4 159.8h1.1v1.1h-1.1zM211.5 131.1h1.1v1.1h-1.1zM232.6 136.1h1.1v1.1h-1.1zM216.6 130.3h1.1v1.1h-1.1zM242.4 129.1h1.1v1.1h-1.1zM238.6 129.7h1.1v1.1h-1.1zM250.6 118.4h1.1v1.1h-1.1zM219.2 127.3h1.1v1.1h-1.1zM229.6 150.8h1.1v1.1h-1.1zM232.3 124.3h1.1v1.1h-1.1zM238.3 147h1.1v1.1h-1.1zM242.8 124.1h1.1v1.1h-1.1zM229.9 107.6h1.1v1.1h-1.1zM231 121.8h1.1v1.1h-1.1zM222.5 141.9h1.1v1.1h-1.1zM225.8 147.7h1.1v1.1h-1.1zM228.4 124.8h1.1v1.1h-1.1zM236.4 113.9h1.1v1.1h-1.1zM172.7 176.8h1.1v1.1h-1.1zM177.6 195.9h1.1v1.1h-1.1zM176.3 193.7h1.1v1.1h-1.1zM182.3 177.4h1.1v1.1h-1.1zM190.2 174.6h1.1v1.1h-1.1zM198.8 158h1.1v1.1h-1.1zM210.3 167h1.1v1.1h-1.1zM193.7 176.7h1.1v1.1h-1.1zM203 165.2h1.1v1.1h-1.1zM203.2 176.3h1.1v1.1h-1.1z" fill="#8c8c8c"/><path d="M236 138.8h1.1v1.1h-1.1zM247 121.5h1.1v1.1h-1.1zM200.5 140h1.1v1.1h-1.1zM220.5 139.5h1.1v1.1h-1.1zM231 121h1.1v1.1h-1.1zM241 126.1h1.1v1.1h-1.1zM219.4 130.5h1.1v1.1h-1.1zM221.6 116h1.1v1.1h-1.1zM246.7 140.9h1.1v1.1h-1.1zM212.2 154.2h1.1v1.1h-1.1zM223.8 127.4h1.1v1.1h-1.1zM236.7 125.5h1.1v1.1h-1.1zM232.1 120h1.1v1.1h-1.1zM219.2 139.9h1.1v1.1h-1.1zM223.6 101.5h1.1v1.1h-1.1zM222.7 151.5h1.1v1.1h-1.1zM233.2 152.8h1.1v1.1h-1.1zM244.2 119.7h1.1v1.1h-1.1zM246.7 124.2h1.1v1.1h-1.1zM209.3 151.5h1.1v1.1h-1.1zM221.9 108.6h1.1v1.1h-1.1zM241.8 141.7h1.1v1.1h-1.1zM245.7 138.9h1.1v1.1h-1.1zM241.3 110.9h1.1v1.1h-1.1zM219.6 147.9h1.1v1.1h-1.1zM234.8 107.4h1.1v1.1h-1.1zM231.1 107.4h1.1v1.1h-1.1zM237.5 128.8h1.1v1.1h-1.1zM238 125h1.1v1.1h-1.1zM225.5 134.5h1.1v1.1h-1.1zM230.2 124.8h1.1v1.1h-1.1zM227.2 138h1.1v1.1h-1.1zM230.4 134.3h1.1v1.1h-1.1zM242.1 139.7h1.1v1.1h-1.1zM255.6 132.4h1.1v1.1h-1.1zM215.2 99.2h1.1v1.1h-1.1zM227.8 108.2h1.1v1.1h-1.1zM246.7 138.5h1.1v1.1h-1.1zM233.6 135.2h1.1v1.1h-1.1zM245.3 90.2h1.1v1.1h-1.1zM238.3 118.9h1.1v1.1h-1.1zM236.3 107.2h1.1v1.1h-1.1zM255.8 134.2h1.1v1.1h-1.1zM239.8 118.7h1.1v1.1h-1.1zM226 128.8h1.1v1.1h-1.1zM258 129h1.1v1.1h-1.1zM243.8 113h1.1v1.1h-1.1zM235.3 131.5h1.1v1.1h-1.1zM209 157.2h1.1v1.1h-1.1zM247.2 140.7h1.1v1.1h-1.1zM243 140.3h1.1v1.1h-1.1zM262.4 125.5h1.1v1.1h-1.1zM226.7 163.7h1.1v1.1h-1.1zM230.2 140.9h1.1v1.1h-1.1zM247.8 132.8h1.1v1.1h-1.1zM226.4 149h1.1v1.1h-1.1zM207.7 125.7h1.1v1.1h-1.1zM242.1 126.2h1.1v1.1h-1.1zM215.7 111.3h1.1v1.1h-1.1zM232.1 95.5h1.1v1.1h-1.1zM261.7 143.9h1.1v1.1h-1.1zM247.1 131.7h1.1v1.1h-1.1zM230.7 131h1.1v1.1h-1.1zM267.9 107.8h1.1v1.1h-1.1zM252 114.6h1.1v1.1h-1.1zM263 129h1.1v1.1h-1.1zM214 144.3h1.1v1.1h-1.1zM208.9 136.8h1.1v1.1h-1.1zM257.1 115.7h1.1v1.1h-1.1zM206.5 152.9h1.1v1.1h-1.1zM240.8 129.1h1.1v1.1h-1.1zM240.7 125.7h1.1v1.1h-1.1zM238.2 141.7h1.1v1.1h-1.1zM219 124.5h1.1v1.1h-1.1zM247.4 134.5h1.1v1.1h-1.1zM227.1 119.5h1.1v1.1h-1.1zM232.4 148.7h1.1v1.1h-1.1zM231.6 145.1h1.1v1.1h-1.1zM238.9 136.6h1.1v1.1h-1.1zM239.1 139.1h1.1v1.1h-1.1zM247.4 131.3h1.1v1.1h-1.1zM257 153.1h1.1v1.1h-1.1zM241.6 115.3h1.1v1.1h-1.1zM241.6 120.1h1.1v1.1h-1.1zM224.7 147.6h1.1v1.1h-1.1zM247.6 135.8h1.1v1.1h-1.1zM235.4 129.9h1.1v1.1h-1.1zM237.9 140h1.1v1.1h-1.1zM217.4 140.3h1.1v1.1h-1.1zM208.8 122.7h1.1v1.1h-1.1zM237.4 124.7h1.1v1.1h-1.1zM216.6 124.5h1.1v1.1h-1.1zM254.2 113.5h1.1v1.1h-1.1zM212.9 121h1.1v1.1h-1.1zM215.9 154.8h1.1v1.1h-1.1zM213.2 129.5h1.1v1.1h-1.1zM245.7 129.4h1.1v1.1h-1.1zM257.9 122.1h1.1v1.1h-1.1zM212.8 137.1h1.1v1.1h-1.1zM221.1 114.5h1.1v1.1h-1.1zM203.8 114.3h1.1v1.1h-1.1zM243.2 130.8h1.1v1.1h-1.1zM224 126.3h1.1v1.1h-1.1zM231.1 133.3h1.1v1.1h-1.1zM242.4 125.2h1.1v1.1h-1.1zM222.2 131.2h1.1v1.1h-1.1zM229.8 138.8h1.1v1.1h-1.1zM233.4 122.6h1.1v1.1h-1.1zM250 101.3h1.1v1.1h-1.1zM229 143h1.1v1.1h-1.1zM262 141.6h1.1v1.1h-1.1zM248.8 137.4h1.1v1.1h-1.1zM249.3 129.5h1.1v1.1h-1.1zM226.5 117.9h1.1v1.1h-1.1zM256.7 144.4h1.1v1.1h-1.1zM228.6 143.7h1.1v1.1h-1.1zM244.1 154.2h1.1v1.1h-1.1zM247.7 111.8h1.1v1.1h-1.1zM238.2 109.6h1.1v1.1h-1.1zM235.3 146.2h1.1v1.1h-1.1zM226.9 139.6h1.1v1.1h-1.1zM235.9 166.3h1.1v1.1h-1.1zM232.6 106.5h1.1v1.1h-1.1zM220.9 125.6h1.1v1.1h-1.1zM218.6 121.3h1.1v1.1h-1.1zM244.7 149.3h1.1v1.1h-1.1zM221.2 140.9h1.1v1.1h-1.1zM259.3 140.3h1.1v1.1h-1.1zM238.4 84.3h1.1v1.1h-1.1zM234.6 137.6h1.1v1.1h-1.1zM222.5 124.5h1.1v1.1h-1.1zM236.4 125h1.1v1.1h-1.1zM231.6 122.6h1.1v1.1h-1.1zM239.7 138.7h1.1v1.1h-1.1zM231.8 147.4h1.1v1.1h-1.1zM243.6 105.2h1.1v1.1h-1.1zM249.7 115.5h1.1v1.1h-1.1zM232.8 132.1h1.1v1.1h-1.1zM232.2 164.1h1.1v1.1h-1.1zM223.1 108.3h1.1v1.1h-1.1zM238.2 122h1.1v1.1h-1.1zM217.8 148.7h1.1v1.1h-1.1zM240.2 109.6h1.1v1.1h-1.1zM212.3 135.9h1.1v1.1h-1.1zM231.1 132.8h1.1v1.1h-1.1zM234.4 134.3h1.1v1.1h-1.1zM230.9 142.9h1.1v1.1h-1.1zM237.2 145.2h1.1v1.1h-1.1zM224.5 130.9h1.1v1.1h-1.1zM238.8 120.5h1.1v1.1h-1.1zM252.5 140.4h1.1v1.1h-1.1zM227.6 140h1.1v1.1h-1.1zM244.9 137.3h1.1v1.1h-1.1zM237.4 131.3h1.1v1.1h-1.1zM244.9 123.3h1.1v1.1h-1.1zM194.7 111.5h1.1v1.1h-1.1zM236.3 119.4h1.1v1.1h-1.1zM230.4 130.2h1.1v1.1h-1.1zM220.1 132h1.1v1.1h-1.1zM233.2 128.5h1.1v1.1h-1.1zM229.4 158h1.1v1.1h-1.1zM241 113h1.1v1.1h-1.1zM248 145h1.1v1.1h-1.1zM237.6 141.3h1.1v1.1h-1.1zM234 128.9h1.1v1.1h-1.1zM247.1 98h1.1v1.1h-1.1zM221.9 114.3h1.1v1.1h-1.1zM229.7 128.1h1.1v1.1h-1.1zM253.8 136.9h1.1v1.1h-1.1zM232.1 90.6h1.1v1.1h-1.1zM248.2 125.1h1.1v1.1h-1.1zM219.9 127.7h1.1v1.1h-1.1zM213 137.8h1.1v1.1h-1.1zM226.3 132h1.1v1.1h-1.1zM229.8 121.4h1.1v1.1h-1.1zM240.7 137.3h1.1v1.1h-1.1zM260.7 129.9h1.1v1.1h-1.1zM230.6 176.1h1.1v1.1h-1.1zM226.3 140.6h1.1v1.1h-1.1zM223.7 115.7h1.1v1.1h-1.1zM242.2 123.7h1.1v1.1h-1.1zM241.6 129.4h1.1v1.1h-1.1zM236.5 118.4h1.1v1.1h-1.1zM231.1 117.2h1.1v1.1h-1.1zM249.7 145.9h1.1v1.1h-1.1zM242 130.6h1.1v1.1h-1.1zM241.4 121.6h1.1v1.1h-1.1zM237.1 139.7h1.1v1.1h-1.1zM232.1 149.8h1.1v1.1h-1.1zM253.4 131.9h1.1v1.1h-1.1zM248.9 159.5h1.1v1.1h-1.1zM235.6 145.8h1.1v1.1h-1.1zM203.6 136.6h1.1v1.1h-1.1zM210.2 157.4h1.1v1.1h-1.1zM215.7 103.4h1.1v1.1h-1.1zM239.5 133.5h1.1v1.1h-1.1zM230.5 136.3h1.1v1.1h-1.1zM230.2 159.4h1.1v1.1h-1.1zM223.3 143.1h1.1v1.1h-1.1zM231 125.7h1.1v1.1h-1.1zM216.5 139.1h1.1v1.1h-1.1zM229.4 150.8h1.1v1.1h-1.1zM227.1 141.3h1.1v1.1h-1.1zM229.4 140.6h1.1v1.1h-1.1zM229.7 138.3h1.1v1.1h-1.1zM246.9 125.2h1.1v1.1h-1.1zM213.9 121.7h1.1v1.1h-1.1zM229.8 125.6h1.1v1.1h-1.1zM239.9 125.5h1.1v1.1h-1.1zM205.5 129.1h1.1v1.1h-1.1zM249.3 126.7h1.1v1.1h-1.1zM231.5 114.5h1.1v1.1h-1.1zM207 146.9h1.1v1.1h-1.1zM227.4 123.7h1.1v1.1h-1.1zM243.6 115.4h1.1v1.1h-1.1zM236.8 154.8h1.1v1.1h-1.1zM233.4 132.7h1.1v1.1h-1.1zM212.8 156.6h1.1v1.1h-1.1zM230.2 132.2h1.1v1.1h-1.1zM264.5 125.8h1.1v1.1h-1.1zM230.7 108.1h1.1v1.1h-1.1zM246.6 115.2h1.1v1.1h-1.1zM221.9 139.9h1.1v1.1h-1.1zM218.5 133.8h1.1v1.1h-1.1zM239.7 109.1h1.1v1.1h-1.1zM246.8 120h1.1v1.1h-1.1zM231.8 142.4h1.1v1.1h-1.1zM245 117.3h1.1v1.1h-1.1zM235.5 124.2h1.1v1.1h-1.1zM249.9 136.2h1.1v1.1h-1.1zM219.9 149h1.1v1.1h-1.1zM238.3 141.5h1.1v1.1h-1.1zM250.6 109h1.1v1.1h-1.1zM238.4 134.5h1.1v1.1h-1.1zM240.1 152.8h1.1v1.1h-1.1zM220.6 141.7h1.1v1.1h-1.1zM223.5 119.9h1.1v1.1h-1.1zM232.9 129.6h1.1v1.1h-1.1zM232.5 119.6h1.1v1.1h-1.1zM256.4 146h1.1v1.1h-1.1zM212.4 136.6h1.1v1.1h-1.1zM220.3 157.6h1.1v1.1h-1.1zM222.5 138.8h1.1v1.1h-1.1zM249.7 137.8h1.1v1.1h-1.1zM260.4 115.8h1.1v1.1h-1.1zM236.1 131.6h1.1v1.1h-1.1zM234.9 139.1h1.1v1.1h-1.1zM215.1 128.5h1.1v1.1h-1.1zM212.6 127.3h1.1v1.1h-1.1zM249.1 121h1.1v1.1h-1.1zM236.7 156.9h1.1v1.1h-1.1zM221.4 107.2h1.1v1.1h-1.1zM238.5 97.9h1.1v1.1h-1.1zM208 137h1.1v1.1h-1.1zM222 134.4h1.1v1.1h-1.1zM238.9 129.5h1.1v1.1h-1.1zM226.4 126.7h1.1v1.1h-1.1zM246 147.2h1.1v1.1h-1.1zM226 156.2h1.1v1.1h-1.1zM225.4 139.1h1.1v1.1h-1.1zM229.6 124.8h1.1v1.1h-1.1zM238.6 138.7h1.1v1.1h-1.1zM255.1 119.5h1.1v1.1h-1.1zM233 128.8h1.1v1.1h-1.1zM242.5 134.9h1.1v1.1h-1.1zM215.3 149.6h1.1v1.1h-1.1zM235.9 143.6h1.1v1.1h-1.1zM258.6 130.4h1.1v1.1h-1.1zM247.1 132.5h1.1v1.1h-1.1zM247.9 128.2h1.1v1.1h-1.1zM232.9 121.7h1.1v1.1h-1.1zM243.7 134h1.1v1.1h-1.1zM240.8 131.5h1.1v1.1h-1.1zM245.9 126.6h1.1v1.1h-1.1zM246.6 109.1h1.1v1.1h-1.1zM221.2 125.6h1.1v1.1h-1.1zM250.8 136h1.1v1.1h-1.1zM241.9 128.6h1.1v1.1h-1.1zM233 135.7h1.1v1.1h-1.1zM231.2 157h1.1v1.1h-1.1zM218.2 129h1.1v1.1h-1.1zM251.2 129.3h1.1v1.1h-1.1zM231 142.2h1.1v1.1h-1.1zM209.3 121.6h1.1v1.1h-1.1zM219.4 118h1.1v1.1h-1.1zM228.6 112.2h1.1v1.1h-1.1zM218.3 134.2h1.1v1.1h-1.1zM241.5 148.1h1.1v1.1h-1.1zM222.8 134.3h1.1v1.1h-1.1zM203 129.8h1.1v1.1h-1.1zM251.7 134.4h1.1v1.1h-1.1zM211.2 166.3h1.1v1.1h-1.1zM246.6 119.3h1.1v1.1h-1.1zM219.5 148.6h1.1v1.1h-1.1zM227.2 117.2h1.1v1.1h-1.1zM251.2 138.1h1.1v1.1h-1.1zM232.2 155.9h1.1v1.1h-1.1zM233.9 136.5h1.1v1.1h-1.1zM254 140.6h1.1v1.1h-1.1zM256.2 126.6h1.1v1.1h-1.1zM224.1 116.1h1.1v1.1h-1.1zM224.5 149.2h1.1v1.1h-1.1zM227.1 136.9h1.1v1.1h-1.1zM233.7 142.5h1.1v1.1h-1.1zM230.9 141.1h1.1v1.1h-1.1zM255 115.4h1.1v1.1h-1.1zM235.7 107.2h1.1v1.1h-1.1zM258.3 128h1.1v1.1h-1.1zM230.7 132.5h1.1v1.1h-1.1zM256.2 103.3h1.1v1.1h-1.1zM222.9 132.6h1.1v1.1h-1.1zM235.5 106.9h1.1v1.1h-1.1zM224.2 161.1h1.1v1.1h-1.1zM223.9 139.1h1.1v1.1h-1.1zM239 135.3h1.1v1.1h-1.1zM229.4 139.5h1.1v1.1h-1.1zM223.4 146.8h1.1v1.1h-1.1zM211.2 152h1.1v1.1h-1.1zM250.5 109.2h1.1v1.1h-1.1zM207.7 131.9h1.1v1.1h-1.1zM234.1 146.3h1.1v1.1h-1.1zM213.9 135.5h1.1v1.1h-1.1zM247.3 117.3h1.1v1.1h-1.1zM203.2 128.3h1.1v1.1h-1.1zM222.2 145.5h1.1v1.1h-1.1zM241 157.1h1.1v1.1h-1.1zM235 147.4h1.1v1.1h-1.1zM229.3 150h1.1v1.1h-1.1zM228.9 121.9h1.1v1.1h-1.1zM228 119.6h1.1v1.1h-1.1zM225.9 141.6h1.1v1.1h-1.1zM208.2 164.3h1.1v1.1h-1.1zM242.3 146.1h1.1v1.1h-1.1zM209.5 136.6h1.1v1.1h-1.1zM250.6 116h1.1v1.1h-1.1zM232.8 114.5h1.1v1.1h-1.1zM238.9 124.3h1.1v1.1h-1.1zM209.6 133h1.1v1.1h-1.1zM235.6 112.5h1.1v1.1h-1.1zM224.1 131h1.1v1.1h-1.1zM228.6 128.2h1.1v1.1h-1.1zM213.7 111.9h1.1v1.1h-1.1zM220.2 132.7h1.1v1.1h-1.1zM238.9 144.4h1.1v1.1h-1.1zM248.1 120.3h1.1v1.1h-1.1zM224.9 117.3h1.1v1.1h-1.1zM235.9 116.6h1.1v1.1h-1.1zM242.5 120.6h1.1v1.1h-1.1zM202.7 146.7h1.1v1.1h-1.1zM246.7 113.8h1.1v1.1h-1.1zM258.8 118.8h1.1v1.1h-1.1zM235.5 131.4h1.1v1.1h-1.1zM224.3 128.4h1.1v1.1h-1.1zM228.3 129.6h1.1v1.1h-1.1zM219.2 163.6h1.1v1.1h-1.1zM247 115.4h1.1v1.1h-1.1zM226.6 153.1h1.1v1.1h-1.1zM256.9 128.9h1.1v1.1h-1.1zM219.1 135.2h1.1v1.1h-1.1zM222.9 138.8h1.1v1.1h-1.1zM265.1 108.7h1.1v1.1h-1.1zM239.2 148.8h1.1v1.1h-1.1zM246.6 107.3h1.1v1.1h-1.1zM234.3 153h1.1v1.1h-1.1zM205.2 143.6h1.1v1.1h-1.1zM239.9 122.5h1.1v1.1h-1.1zM229.1 150.9h1.1v1.1h-1.1zM220.9 107.8h1.1v1.1h-1.1zM254 113.3h1.1v1.1h-1.1zM220.7 109.2h1.1v1.1h-1.1zM227.6 108.2h1.1v1.1h-1.1zM204.7 128h1.1v1.1h-1.1zM212.3 148.3h1.1v1.1h-1.1zM253.6 137.3h1.1v1.1h-1.1zM235.7 121.7h1.1v1.1h-1.1zM213.2 139.6h1.1v1.1h-1.1zM226.6 125.5h1.1v1.1h-1.1zM206.3 147.4h1.1v1.1h-1.1zM223.5 149.5h1.1v1.1h-1.1zM241.3 133.4h1.1v1.1h-1.1zM235.6 149.4h1.1v1.1h-1.1zM231.4 149.1h1.1v1.1h-1.1zM228.4 126.2h1.1v1.1h-1.1zM231 134.3h1.1v1.1h-1.1zM224.1 122.1h1.1v1.1h-1.1zM235.8 134.1h1.1v1.1h-1.1zM237.1 129.8h1.1v1.1h-1.1zM233.7 126.8h1.1v1.1h-1.1zM219.9 137.8h1.1v1.1h-1.1zM252.7 90.3h1.1v1.1h-1.1zM236.2 133.4h1.1v1.1h-1.1zM242.2 139.2h1.1v1.1h-1.1zM231.7 128.1h1.1v1.1h-1.1zM222.1 131.1h1.1v1.1h-1.1zM228.5 139.9h1.1v1.1h-1.1zM239 135.5h1.1v1.1h-1.1zM257.7 108.5h1.1v1.1h-1.1zM260 143.4h1.1v1.1h-1.1zM247.6 129.6h1.1v1.1h-1.1zM262.8 118.6h1.1v1.1h-1.1zM236.9 133.7h1.1v1.1h-1.1zM242.5 140.7h1.1v1.1h-1.1zM248.3 132.3h1.1v1.1h-1.1zM245.2 157.2h1.1v1.1h-1.1zM223.9 131.8h1.1v1.1h-1.1zM227.1 142.8h1.1v1.1h-1.1zM239.5 137.3h1.1v1.1h-1.1zM238.9 173.5h1.1v1.1h-1.1zM227.1 121.9h1.1v1.1h-1.1zM233.8 131.9h1.1v1.1h-1.1zM227.5 116.9h1.1v1.1h-1.1zM234.5 122h1.1v1.1h-1.1zM255.2 134.4h1.1v1.1h-1.1zM225.1 129.3h1.1v1.1h-1.1zM238.4 128.9h1.1v1.1h-1.1zM238.9 138.1h1.1v1.1h-1.1zM224.9 117h1.1v1.1h-1.1zM237.5 133.2h1.1v1.1h-1.1zM229.1 130.3h1.1v1.1h-1.1zM225.5 106.5h1.1v1.1h-1.1zM257.1 135.6h1.1v1.1h-1.1zM234 140.1h1.1v1.1h-1.1zM243.9 117.5h1.1v1.1h-1.1zM241.5 150.6h1.1v1.1h-1.1zM233.8 155.2h1.1v1.1h-1.1zM257.2 114.6h1.1v1.1h-1.1zM239.4 115.9h1.1v1.1h-1.1zM251.7 145.5h1.1v1.1h-1.1zM224.8 130h1.1v1.1h-1.1zM238.8 127h1.1v1.1h-1.1zM223.2 146.7h1.1v1.1h-1.1zM232.9 146.6h1.1v1.1h-1.1zM228.2 116.5h1.1v1.1h-1.1zM218.3 107.8h1.1v1.1h-1.1zM221.6 109.7h1.1v1.1h-1.1zM246.4 100.1h1.1v1.1h-1.1zM244.5 108.9h1.1v1.1h-1.1zM238.8 112.1h1.1v1.1h-1.1zM232.9 128.3h1.1v1.1h-1.1zM222.5 133.6h1.1v1.1h-1.1zM222.9 134.9h1.1v1.1h-1.1zM222.4 143.9h1.1v1.1h-1.1zM243.2 141.7h1.1v1.1h-1.1zM226.9 137.9h1.1v1.1h-1.1zM215.3 143.5h1.1v1.1h-1.1zM225.5 149.1h1.1v1.1h-1.1zM237.6 140.4h1.1v1.1h-1.1zM246.9 138h1.1v1.1h-1.1zM233.4 150.5h1.1v1.1h-1.1zM231.4 122.1h1.1v1.1h-1.1zM256.8 160.9h1.1v1.1h-1.1zM245.5 149.9h1.1v1.1h-1.1zM231.6 117.3h1.1v1.1h-1.1zM242.6 109.6h1.1v1.1h-1.1zM207.1 140.2h1.1v1.1h-1.1zM226.5 117.7h1.1v1.1h-1.1zM215.3 121.5h1.1v1.1h-1.1zM234.2 124.6h1.1v1.1h-1.1zM220.7 120.8h1.1v1.1h-1.1zM220.2 140.1h1.1v1.1h-1.1zM216.5 112.4h1.1v1.1h-1.1zM220.1 136.9h1.1v1.1h-1.1zM227.1 147.3h1.1v1.1h-1.1zM232.6 149.9h1.1v1.1h-1.1zM217.7 112.7h1.1v1.1h-1.1zM227.6 135h1.1v1.1h-1.1zM236.9 122.8h1.1v1.1h-1.1zM225.8 163.1h1.1v1.1h-1.1zM235.9 128.4h1.1v1.1h-1.1zM194 168.1h1.1v1.1h-1.1zM217.1 130.7h1.1v1.1h-1.1zM245.6 126.5h1.1v1.1h-1.1zM231.5 150.2h1.1v1.1h-1.1zM240.2 116.4h1.1v1.1h-1.1zM226.9 151.6h1.1v1.1h-1.1zM244.5 132.5h1.1v1.1h-1.1zM246.6 107.6h1.1v1.1h-1.1zM221.8 145.8h1.1v1.1h-1.1zM241.1 133.3h1.1v1.1h-1.1zM242 173.9h1.1v1.1h-1.1zM229.4 157h1.1v1.1h-1.1zM246.3 144.2h1.1v1.1h-1.1zM196.9 168h1.1v1.1h-1.1zM240.8 129.8h1.1v1.1h-1.1zM228.4 128.2h1.1v1.1h-1.1zM241 128.6h1.1v1.1h-1.1zM209 140.2h1.1v1.1h-1.1zM234.9 130.6h1.1v1.1h-1.1zM227.9 145.7h1.1v1.1h-1.1zM201 149.7h1.1v1.1h-1.1zM240.1 104.2h1.1v1.1h-1.1zM219.4 154.8h1.1v1.1h-1.1zM227.1 136.2h1.1v1.1h-1.1zM222.5 142.3h1.1v1.1h-1.1zM258 125.2h1.1v1.1h-1.1zM235.2 141.8h1.1v1.1h-1.1zM243.3 133.9h1.1v1.1h-1.1zM243.2 127.1h1.1v1.1h-1.1zM230.7 125.5h1.1v1.1h-1.1zM229.1 125.5h1.1v1.1h-1.1zM237.6 153.1h1.1v1.1h-1.1zM262.7 141.4h1.1v1.1h-1.1zM223.6 129.1h1.1v1.1h-1.1zM223.9 135.4h1.1v1.1h-1.1zM221.1 146.5h1.1v1.1h-1.1zM233.3 152.4h1.1v1.1h-1.1zM232.9 138h1.1v1.1h-1.1zM254.2 126.6h1.1v1.1h-1.1zM236.2 107.5h1.1v1.1h-1.1zM232.3 104.3h1.1v1.1h-1.1zM220.7 132.1h1.1v1.1h-1.1zM223.6 129.7h1.1v1.1h-1.1zM262.3 122.5h1.1v1.1h-1.1zM236.1 129.1h1.1v1.1h-1.1zM241.8 131.9h1.1v1.1h-1.1zM224.6 133.5h1.1v1.1h-1.1zM224 128.5h1.1v1.1h-1.1zM227 153.4h1.1v1.1h-1.1zM233.1 132.6h1.1v1.1h-1.1zM225.4 110.5h1.1v1.1h-1.1zM229.2 114h1.1v1.1h-1.1zM256.4 123.7h1.1v1.1h-1.1zM259.6 140.9h1.1v1.1h-1.1zM220.5 129.3h1.1v1.1h-1.1zM236.6 136.1h1.1v1.1h-1.1zM238.5 110.3h1.1v1.1h-1.1zM218.3 135.5h1.1v1.1h-1.1zM228.9 148.9h1.1v1.1h-1.1zM224.5 139.4h1.1v1.1h-1.1zM244.1 123.8h1.1v1.1h-1.1zM236.4 138.1h1.1v1.1h-1.1zM214.9 126.4h1.1v1.1h-1.1zM241 136.7h1.1v1.1h-1.1zM236.8 118.9h1.1v1.1h-1.1zM247.6 154.1h1.1v1.1h-1.1zM250.2 129.4h1.1v1.1h-1.1zM213.8 148h1.1v1.1h-1.1zM218.5 138.3h1.1v1.1h-1.1zM215.6 116h1.1v1.1h-1.1zM242.6 125h1.1v1.1h-1.1zM234.2 140.2h1.1v1.1h-1.1zM234.8 130.8h1.1v1.1h-1.1zM242.5 115.2h1.1v1.1h-1.1zM248.3 126.4h1.1v1.1h-1.1zM230.5 141.1h1.1v1.1h-1.1zM201.7 139.6h1.1v1.1h-1.1zM229.7 121.4h1.1v1.1h-1.1zM225.1 102.5h1.1v1.1h-1.1zM256 132.6h1.1v1.1h-1.1zM225.3 111.8h1.1v1.1h-1.1zM228.5 121.4h1.1v1.1h-1.1zM224.4 113.6h1.1v1.1h-1.1zM223.2 146.6h1.1v1.1h-1.1zM236.7 130.2h1.1v1.1h-1.1zM230.2 141.1h1.1v1.1h-1.1zM232.1 131.6h1.1v1.1h-1.1zM245 146.2h1.1v1.1h-1.1zM238.8 145.3h1.1v1.1h-1.1zM228.1 95.4h1.1v1.1h-1.1zM241.4 113.1h1.1v1.1h-1.1zM230.8 128h1.1v1.1h-1.1zM215.2 130.5h1.1v1.1h-1.1zM239.2 116.2h1.1v1.1h-1.1zM240.6 158.7h1.1v1.1h-1.1zM239.7 125h1.1v1.1h-1.1zM218.9 130.6h1.1v1.1h-1.1zM230 149.5h1.1v1.1h-1.1zM220.9 140.4h1.1v1.1h-1.1zM241.4 129.2h1.1v1.1h-1.1zM225 140.1h1.1v1.1h-1.1zM222.8 148.1h1.1v1.1h-1.1zM247.8 139h1.1v1.1h-1.1zM248.9 126.6h1.1v1.1h-1.1zM232.3 137.5h1.1v1.1h-1.1zM224.4 160h1.1v1.1h-1.1zM214.8 146.8h1.1v1.1h-1.1zM228.2 128.2h1.1v1.1h-1.1zM246 111.8h1.1v1.1h-1.1zM232.8 140.6h1.1v1.1h-1.1zM240.6 114.5h1.1v1.1h-1.1zM243 135.6h1.1v1.1h-1.1zM254.7 132.5h1.1v1.1h-1.1zM245.9 128.4h1.1v1.1h-1.1zM227 134.4h1.1v1.1h-1.1zM246.7 134.8h1.1v1.1h-1.1zM227.6 115.4h1.1v1.1h-1.1zM233.3 139.8h1.1v1.1h-1.1zM231.8 114.9h1.1v1.1h-1.1zM235.1 139.3h1.1v1.1h-1.1zM215 156.6h1.1v1.1h-1.1zM228.8 139.7h1.1v1.1h-1.1zM229.5 119.1h1.1v1.1h-1.1zM231.4 113.1h1.1v1.1h-1.1zM257.9 141.6h1.1v1.1h-1.1zM229.2 133.9h1.1v1.1h-1.1zM245.4 132.4h1.1v1.1h-1.1zM233.9 134.5h1.1v1.1h-1.1zM239.3 126.6h1.1v1.1h-1.1zM222.5 131.5h1.1v1.1h-1.1zM245.3 142.6h1.1v1.1h-1.1zM207 158.9h1.1v1.1h-1.1zM235.2 128.7h1.1v1.1h-1.1zM230.9 108.3h1.1v1.1h-1.1zM218.2 110.9h1.1v1.1h-1.1zM239.4 110.8h1.1v1.1h-1.1zM221.3 141.5h1.1v1.1h-1.1zM225.8 144.4h1.1v1.1h-1.1zM234.7 139h1.1v1.1h-1.1zM227.1 147h1.1v1.1h-1.1zM222.7 138.8h1.1v1.1h-1.1zM238.9 141.3h1.1v1.1h-1.1zM236.8 113.2h1.1v1.1h-1.1zM240.9 127.5h1.1v1.1h-1.1zM247 122.7h1.1v1.1h-1.1zM243.4 132h1.1v1.1h-1.1zM224.4 129.5h1.1v1.1h-1.1zM224.2 133h1.1v1.1h-1.1zM227.7 134.2h1.1v1.1h-1.1zM231.6 112.3h1.1v1.1h-1.1zM238.1 146.5h1.1v1.1h-1.1zM235.7 127.7h1.1v1.1h-1.1zM211.7 139.1h1.1v1.1h-1.1zM240.4 131.6h1.1v1.1h-1.1zM226.8 120h1.1v1.1h-1.1zM215.9 145.2h1.1v1.1h-1.1zM225.6 124.1h1.1v1.1h-1.1zM228.6 143.1h1.1v1.1h-1.1zM228.7 128.6h1.1v1.1h-1.1zM225.6 137.7h1.1v1.1h-1.1zM226.7 125.1h1.1v1.1h-1.1zM241.9 116.8h1.1v1.1h-1.1zM230.5 160.3h1.1v1.1h-1.1zM248.3 120.8h1.1v1.1h-1.1zM228.7 163.8h1.1v1.1h-1.1zM239.7 112.4h1.1v1.1h-1.1zM241.7 136h1.1v1.1h-1.1zM259.5 130.6h1.1v1.1h-1.1zM231.8 121.2h1.1v1.1h-1.1zM216.6 159h1.1v1.1h-1.1zM253.1 131.6h1.1v1.1h-1.1zM257.9 140.3h1.1v1.1h-1.1zM231.7 123.4h1.1v1.1h-1.1zM234.6 134.3h1.1v1.1h-1.1zM253.5 106.1h1.1v1.1h-1.1zM241.8 160.3h1.1v1.1h-1.1zM208.7 122.6h1.1v1.1h-1.1zM234.9 128.6h1.1v1.1h-1.1zM252.4 142.7h1.1v1.1h-1.1zM263.4 97.7h1.1v1.1h-1.1zM248.4 127.5h1.1v1.1h-1.1zM228.7 137.9h1.1v1.1h-1.1zM263.9 143.6h1.1v1.1h-1.1zM232.5 109.4h1.1v1.1h-1.1zM246.3 120.3h1.1v1.1h-1.1zM231.3 110.1h1.1v1.1h-1.1zM232.1 144.4h1.1v1.1h-1.1zM225.8 170.1h1.1v1.1h-1.1zM233.9 130.7h1.1v1.1h-1.1zM239.2 133.5h1.1v1.1h-1.1zM226.6 109.6h1.1v1.1h-1.1zM216.1 134h1.1v1.1h-1.1zM248.5 162.8h1.1v1.1h-1.1zM229.6 116.3h1.1v1.1h-1.1zM191.3 152.2h1.1v1.1h-1.1zM221.1 127.8h1.1v1.1h-1.1zM221.6 144.6h1.1v1.1h-1.1zM239.4 134.7h1.1v1.1h-1.1zM220.6 145.4h1.1v1.1h-1.1zM224.5 151.5h1.1v1.1h-1.1zM222.6 106.3h1.1v1.1h-1.1zM232.5 128h1.1v1.1h-1.1zM233.9 158.3h1.1v1.1h-1.1zM243.1 131.3h1.1v1.1h-1.1zM245.3 127h1.1v1.1h-1.1zM219.3 129h1.1v1.1h-1.1zM234.3 144.5h1.1v1.1h-1.1zM233.1 134.6h1.1v1.1h-1.1zM249 136.2h1.1v1.1h-1.1zM240.4 126.5h1.1v1.1h-1.1zM231.1 126.6h1.1v1.1h-1.1zM206.5 137h1.1v1.1h-1.1zM228.6 145.4h1.1v1.1h-1.1zM230.5 152.5h1.1v1.1h-1.1zM243.7 111h1.1v1.1h-1.1zM234.8 152.3h1.1v1.1h-1.1zM223.4 124.5h1.1v1.1h-1.1zM235 108.2h1.1v1.1h-1.1zM246.7 117.4h1.1v1.1h-1.1zM226.2 147.1h1.1v1.1h-1.1zM227.9 148.3h1.1v1.1h-1.1zM215.4 153.7h1.1v1.1h-1.1zM217.5 117.1h1.1v1.1h-1.1zM256 118.3h1.1v1.1h-1.1zM220.1 122.3h1.1v1.1h-1.1zM250.8 118.2h1.1v1.1h-1.1zM248.9 109.4h1.1v1.1h-1.1zM260.3 96.3h1.1v1.1h-1.1zM239.8 139.1h1.1v1.1h-1.1zM237.6 140.8h1.1v1.1h-1.1zM230 115h1.1v1.1h-1.1zM223.2 144.2h1.1v1.1h-1.1zM237 133.1h1.1v1.1h-1.1zM220.9 138.6h1.1v1.1h-1.1zM243 123.9h1.1v1.1h-1.1zM222.1 142.7h1.1v1.1h-1.1zM183.9 168.6h1.1v1.1h-1.1zM189 183.4h1.1v1.1h-1.1zM178.2 177.8h1.1v1.1h-1.1zM175.3 176.8h1.1v1.1h-1.1zM183.3 170h1.1v1.1h-1.1zM203.3 176h1.1v1.1h-1.1zM207.7 165.7h1.1v1.1h-1.1zM208.2 172.4h1.1v1.1h-1.1zM209.7 148.4h1.1v1.1h-1.1zM204.1 189.5h1.1v1.1h-1.1zM218 174.8h1.1v1.1h-1.1zM221.5 174.4h1.1v1.1h-1.1zM251.4 121.6h1.1v1.1h-1.1zM264.5 119.1h1.1v1.1h-1.1zM269.9 111.8h1.1v1.1h-1.1zM283.9 88.3h1.1v1.1h-1.1zM255.8 101.7h1.1v1.1h-1.1zM239.9 119.1h1.1v1.1h-1.1zM247 108.8h1.1v1.1h-1.1zM262 127.3h1.1v1.1h-1.1zM233.8 106.7h1.1v1.1h-1.1zM251.2 130.3h1.1v1.1h-1.1zM256.2 119.6h1.1v1.1h-1.1zM263.8 122.8h1.1v1.1h-1.1zM270.9 119.7h1.1v1.1h-1.1zM271.3 108.2h1.1v1.1h-1.1zM272.9 112.5h1.1v1.1h-1.1zM270.4 114.6h1.1v1.1h-1.1zM276.1 122h1.1v1.1h-1.1zM254.3 126.5h1.1v1.1h-1.1zM269.3 113.2h1.1v1.1h-1.1zM264.9 116.6h1.1v1.1h-1.1zM265.8 125.2h1.1v1.1h-1.1zM238.2 117.9h1.1v1.1h-1.1zM283.1 103.6h1.1v1.1h-1.1zM241.9 117.8h1.1v1.1h-1.1zM263.1 120.5h1.1v1.1h-1.1zM245 106.8h1.1v1.1h-1.1zM260.2 101.2h1.1v1.1h-1.1zM267.4 104.2h1.1v1.1h-1.1zM264 122.5h1.1v1.1h-1.1zM252.4 133.2h1.1v1.1h-1.1zM276.4 103.9h1.1v1.1h-1.1zM247.9 115.8h1.1v1.1h-1.1zM257 92.9h1.1v1.1h-1.1zM255.2 99.8h1.1v1.1h-1.1zM267 118.9h1.1v1.1h-1.1zM264.8 96h1.1v1.1h-1.1zM274.5 112.3h1.1v1.1h-1.1zM272.5 102.8h1.1v1.1h-1.1zM264.3 90.9h1.1v1.1h-1.1zM269.9 98.6h1.1v1.1h-1.1zM263.5 95.5h1.1v1.1h-1.1zM248.5 109.4h1.1v1.1h-1.1zM262.6 95.9h1.1v1.1h-1.1zM270 103.9h1.1v1.1h-1.1zM275.1 101.7h1.1v1.1h-1.1zM259 98.1h1.1v1.1h-1.1zM274.4 99.2h1.1v1.1h-1.1zM243.9 102.7h1.1v1.1h-1.1zM255 121.6h1.1v1.1h-1.1zM270.5 106.6h1.1v1.1h-1.1zM260.3 101.8h1.1v1.1h-1.1zM248.5 108.6h1.1v1.1h-1.1zM251.7 126.2h1.1v1.1h-1.1zM253 103.9h1.1v1.1h-1.1zM245.3 102.4h1.1v1.1h-1.1zM278 107.6h1.1v1.1h-1.1zM239.2 106.2h1.1v1.1h-1.1zM251.8 119.3h1.1v1.1h-1.1zM269.4 103.9h1.1v1.1h-1.1zM243.2 120.6h1.1v1.1h-1.1zM264.2 100.8h1.1v1.1h-1.1zM247.2 128.5h1.1v1.1h-1.1zM268 99.4h1.1v1.1h-1.1zM252.7 122.4h1.1v1.1h-1.1zM243.8 114.3h1.1v1.1h-1.1zM247 132.5h1.1v1.1h-1.1zM250.7 103.6h1.1v1.1h-1.1zM244.9 120.2h1.1v1.1h-1.1zM277.2 98.6h1.1v1.1h-1.1zM270 115.4h1.1v1.1h-1.1zM249.1 123h1.1v1.1h-1.1zM248.3 112h1.1v1.1h-1.1zM251.1 100.7h1.1v1.1h-1.1zM269.1 114.7h1.1v1.1h-1.1zM282.2 97.5h1.1v1.1h-1.1zM270.9 124h1.1v1.1h-1.1zM242.7 121.4h1.1v1.1h-1.1zM244.2 104.7h1.1v1.1h-1.1zM256.4 101.9h1.1v1.1h-1.1zM243.8 111.5h1.1v1.1h-1.1zM249.3 128.5h1.1v1.1h-1.1zM261.8 99.7h1.1v1.1h-1.1zM271.7 110.4h1.1v1.1h-1.1zM255.2 99.1h1.1v1.1h-1.1zM246.3 123.2h1.1v1.1h-1.1zM237.5 100.8h1.1v1.1h-1.1zM245.8 105.6h1.1v1.1h-1.1zM272 121.6h1.1v1.1h-1.1zM239.7 117.3h1.1v1.1h-1.1zM249.5 104.3h1.1v1.1h-1.1zM250.4 119.9h1.1v1.1h-1.1zM258.4 94.9h1.1v1.1h-1.1zM270.9 116.5h1.1v1.1h-1.1zM272.4 94.7h1.1v1.1h-1.1zM253.1 96.9h1.1v1.1h-1.1zM272.6 115.3h1.1v1.1h-1.1zM241.3 107.4h1.1v1.1h-1.1zM240.3 96.7h1.1v1.1h-1.1zM273 105.7h1.1v1.1h-1.1zM270.1 109.8h1.1v1.1h-1.1zM278.2 107.4h1.1v1.1h-1.1zM255.9 121.3h1.1v1.1h-1.1zM267.3 122.3h1.1v1.1h-1.1zM268.9 122.6h1.1v1.1h-1.1zM260.2 100.2h1.1v1.1h-1.1zM276.7 106.8h1.1v1.1h-1.1zM271.1 107.9h1.1v1.1h-1.1zM244.9 105.7h1.1v1.1h-1.1zM249 109.8h1.1v1.1h-1.1zM245.6 114.5h1.1v1.1h-1.1zM253.3 103.5h1.1v1.1h-1.1zM268.7 120h1.1v1.1h-1.1zM268 119.8h1.1v1.1h-1.1zM243.2 111.4h1.1v1.1h-1.1zM274.4 102.5h1.1v1.1h-1.1zM278 97.4h1.1v1.1h-1.1zM252 99.7h1.1v1.1h-1.1zM279.1 104.6h1.1v1.1h-1.1zM269.5 117h1.1v1.1h-1.1zM250.7 127.9h1.1v1.1h-1.1zM259.8 101.4h1.1v1.1h-1.1zM272.6 117.7h1.1v1.1h-1.1zM230.9 125.4h1.1v1.1h-1.1zM271.4 98h1.1v1.1h-1.1zM246.9 111h1.1v1.1h-1.1zM281.2 104.9h1.1v1.1h-1.1zM246.7 95.1h1.1v1.1h-1.1zM269.1 105.7h1.1v1.1h-1.1zM261.3 94.5h1.1v1.1h-1.1zM265.5 119.1h1.1v1.1h-1.1zM263.2 95.9h1.1v1.1h-1.1zM240.4 104.8h1.1v1.1h-1.1zM245.4 116.7h1.1v1.1h-1.1zM271.7 112.8h1.1v1.1h-1.1zM247.4 117.8h1.1v1.1h-1.1zM249.7 115.5h1.1v1.1h-1.1zM247.9 102.6h1.1v1.1h-1.1zM263.9 121h1.1v1.1h-1.1zM252.1 104h1.1v1.1h-1.1zM277.3 118.3h1.1v1.1h-1.1zM269.1 131.8h1.1v1.1h-1.1zM244.8 105.2h1.1v1.1h-1.1zM275.8 102.1h1.1v1.1h-1.1zM266.7 127.3h1.1v1.1h-1.1zM265.8 120.5h1.1v1.1h-1.1zM270.1 101.3h1.1v1.1h-1.1zM273.6 102.9h1.1v1.1h-1.1zM270.5 120.6h1.1v1.1h-1.1zM268 115.9h1.1v1.1h-1.1zM278.3 103.7h1.1v1.1h-1.1zM240.1 112h1.1v1.1h-1.1zM245.2 115.3h1.1v1.1h-1.1zM241.6 108.3h1.1v1.1h-1.1zM263.3 95.3h1.1v1.1h-1.1zM270.8 104.6h1.1v1.1h-1.1zM251.3 96.9h1.1v1.1h-1.1zM250.8 102.7h1.1v1.1h-1.1zM249.7 120.3h1.1v1.1h-1.1zM241 101.8h1.1v1.1h-1.1zM272.3 97.2h1.1v1.1h-1.1zM246.1 100.2h1.1v1.1h-1.1zM275 123.1h1.1v1.1h-1.1zM246.1 120h1.1v1.1h-1.1zM269.5 111.8h1.1v1.1h-1.1zM272.8 104h1.1v1.1h-1.1zM272.3 99.7h1.1v1.1h-1.1zM261.8 118.2h1.1v1.1h-1.1zM271.7 93.3h1.1v1.1h-1.1zM255.1 124.8h1.1v1.1h-1.1zM256.5 93.7h1.1v1.1h-1.1zM259.1 100.4h1.1v1.1h-1.1zM276.7 113.8h1.1v1.1h-1.1zM257.2 122.2h1.1v1.1h-1.1zM253.3 120.4h1.1v1.1h-1.1zM244.2 113.5h1.1v1.1h-1.1zM244.1 126.3h1.1v1.1h-1.1zM259.8 128.2h1.1v1.1h-1.1zM244.5 90.6h1.1v1.1h-1.1zM266.4 116h1.1v1.1h-1.1zM249.3 102h1.1v1.1h-1.1zM274.6 107.1h1.1v1.1h-1.1zM271.9 103.1h1.1v1.1h-1.1zM244.7 109h1.1v1.1h-1.1zM269.8 113h1.1v1.1h-1.1zM273 102.9h1.1v1.1h-1.1zM261.2 124.1h1.1v1.1h-1.1zM258.3 119h1.1v1.1h-1.1zM266 95.8h1.1v1.1h-1.1zM248.7 105.2h1.1v1.1h-1.1zM278.7 104.9h1.1v1.1h-1.1zM281.5 118.2h1.1v1.1h-1.1zM252 123.4h1.1v1.1h-1.1zM244.8 101.8h1.1v1.1h-1.1zM245 118.9h1.1v1.1h-1.1zM263.2 118.1h1.1v1.1h-1.1zM254.2 119.6h1.1v1.1h-1.1zM255 101h1.1v1.1h-1.1zM271.2 90.2h1.1v1.1h-1.1zM269.1 103.2h1.1v1.1h-1.1zM267.3 103.1h1.1v1.1h-1.1zM269.9 105.5h1.1v1.1h-1.1zM249.5 105.6h1.1v1.1h-1.1zM270.5 107.8h1.1v1.1h-1.1zM254.9 101.5h1.1v1.1h-1.1zM263.4 118.9h1.1v1.1h-1.1zM264.6 119.8h1.1v1.1h-1.1zM269.1 120h1.1v1.1h-1.1zM235.5 109h1.1v1.1h-1.1zM249.2 121.5h1.1v1.1h-1.1zM228.9 122.8h1.1v1.1h-1.1zM269.9 106.5h1.1v1.1h-1.1zM269.6 128.1h1.1v1.1h-1.1zM273.1 119h1.1v1.1h-1.1zM272.5 105.6h1.1v1.1h-1.1zM243 111.3h1.1v1.1h-1.1zM282 117h1.1v1.1h-1.1zM245.6 113.8h1.1v1.1h-1.1zM244.7 125.4h1.1v1.1h-1.1zM281.7 108.2h1.1v1.1h-1.1zM248.8 104.7h1.1v1.1h-1.1zM280.4 111h1.1v1.1h-1.1zM243.7 114.2h1.1v1.1h-1.1zM275.5 110.7h1.1v1.1h-1.1zM246.3 101.6h1.1v1.1h-1.1zM270.4 106.9h1.1v1.1h-1.1zM248.3 102.4h1.1v1.1h-1.1zM263 118h1.1v1.1h-1.1zM241.6 128.6h1.1v1.1h-1.1zM246.3 102.7h1.1v1.1h-1.1zM272.2 111h1.1v1.1h-1.1zM269.8 102.6h1.1v1.1h-1.1zM252.9 123.2h1.1v1.1h-1.1zM246.9 130.9h1.1v1.1h-1.1zM247.2 105.4h1.1v1.1h-1.1zM269 120.6h1.1v1.1h-1.1zM261.5 99.2h1.1v1.1h-1.1zM266.3 93.8h1.1v1.1h-1.1zM271.5 106.9h1.1v1.1h-1.1zM269.8 118.2h1.1v1.1h-1.1zM261.8 122.8h1.1v1.1h-1.1zM280.6 115.7h1.1v1.1h-1.1zM255.7 120.6h1.1v1.1h-1.1zM257.2 119.2h1.1v1.1h-1.1zM245.2 106.3h1.1v1.1h-1.1zM262.4 124.3h1.1v1.1h-1.1zM268.9 102.2h1.1v1.1h-1.1zM259.5 95.7h1.1v1.1h-1.1zM271.9 112.1h1.1v1.1h-1.1zM260.2 95.8h1.1v1.1h-1.1zM249.4 104.6h1.1v1.1h-1.1zM261.3 118.6h1.1v1.1h-1.1zM242.6 113.7h1.1v1.1h-1.1zM275.4 107.2h1.1v1.1h-1.1zM246.1 105.2h1.1v1.1h-1.1zM256.4 95.6h1.1v1.1h-1.1zM256.7 123.8h1.1v1.1h-1.1zM273 109.4h1.1v1.1h-1.1zM275 97.4h1.1v1.1h-1.1zM269.8 113.5h1.1v1.1h-1.1zM253.2 102.4h1.1v1.1h-1.1zM257.2 120h1.1v1.1h-1.1zM250.5 99.4h1.1v1.1h-1.1zM276.8 95.3h1.1v1.1h-1.1zM246.6 118.4h1.1v1.1h-1.1zM279.8 100.7h1.1v1.1h-1.1zM275.8 110.3h1.1v1.1h-1.1zM257.5 102h1.1v1.1h-1.1zM268.2 116.2h1.1v1.1h-1.1zM270.9 119h1.1v1.1h-1.1zM262.5 123.2h1.1v1.1h-1.1zM271.9 94.2h1.1v1.1h-1.1zM235.8 122.6h1.1v1.1h-1.1zM244.7 118.7h1.1v1.1h-1.1zM274.1 125.1h1.1v1.1h-1.1zM276.3 113.9h1.1v1.1h-1.1zM261.7 119.1h1.1v1.1h-1.1zM270.6 118.7h1.1v1.1h-1.1zM245.5 123.2h1.1v1.1h-1.1zM264.7 100h1.1v1.1h-1.1zM276 105.2h1.1v1.1h-1.1zM238.8 106.6h1.1v1.1h-1.1zM265.4 95.3h1.1v1.1h-1.1zM268 125.7h1.1v1.1h-1.1zM249.2 120.5h1.1v1.1h-1.1zM268.6 97.7h1.1v1.1h-1.1zM265.9 127.1h1.1v1.1h-1.1zM252.2 98.8h1.1v1.1h-1.1zM265.2 94.5h1.1v1.1h-1.1zM272.4 100.3h1.1v1.1h-1.1zM249.1 103h1.1v1.1h-1.1zM247.7 111.8h1.1v1.1h-1.1zM253.9 125h1.1v1.1h-1.1zM260.5 90h1.1v1.1h-1.1zM257.5 122.3h1.1v1.1h-1.1zM265.9 102.1h1.1v1.1h-1.1zM269.3 98.6h1.1v1.1h-1.1zM256.6 127.4h1.1v1.1h-1.1zM240.5 108.9h1.1v1.1h-1.1zM247.4 113.6h1.1v1.1h-1.1zM244.2 124.7h1.1v1.1h-1.1zM272.6 102.2h1.1v1.1h-1.1zM278.8 116.6h1.1v1.1h-1.1zM272.7 108h1.1v1.1h-1.1zM246.5 120.6h1.1v1.1h-1.1zM247.2 95.8h1.1v1.1h-1.1zM267 117.5h1.1v1.1h-1.1zM244.3 115.8h1.1v1.1h-1.1zM279.7 119.6h1.1v1.1h-1.1zM249.3 128.8h1.1v1.1h-1.1zM274.9 92.3h1.1v1.1h-1.1zM235.7 117.7h1.1v1.1h-1.1zM243.3 105h1.1v1.1h-1.1zM248.8 119.5h1.1v1.1h-1.1zM250.2 118.6h1.1v1.1h-1.1zM251.2 99.5h1.1v1.1h-1.1zM266.4 118.6h1.1v1.1h-1.1zM251.5 99.3h1.1v1.1h-1.1zM251.1 100.3h1.1v1.1h-1.1zM261.5 125.7h1.1v1.1h-1.1zM268 104.1h1.1v1.1h-1.1zM259.4 98.1h1.1v1.1h-1.1zM254.4 124.7h1.1v1.1h-1.1zM266.8 115.1h1.1v1.1h-1.1zM257.3 120.4h1.1v1.1h-1.1zM266.4 116.7h1.1v1.1h-1.1zM237.1 126.9h1.1v1.1h-1.1zM235.9 120.7h1.1v1.1h-1.1zM244.4 94.6h1.1v1.1h-1.1zM264.7 97.3h1.1v1.1h-1.1zM253.6 122h1.1v1.1h-1.1zM266.4 103.6h1.1v1.1h-1.1zM243.9 111.8h1.1v1.1h-1.1zM250.1 93.1h1.1v1.1h-1.1zM265.5 96h1.1v1.1h-1.1zM244.3 109h1.1v1.1h-1.1zM251.8 130.4h1.1v1.1h-1.1zM248.6 111.7h1.1v1.1h-1.1zM270.2 97.2h1.1v1.1h-1.1zM249.7 127.6h1.1v1.1h-1.1zM254.6 120.6h1.1v1.1h-1.1zM270 101.3h1.1v1.1h-1.1zM251.2 121h1.1v1.1h-1.1zM254.4 125.9h1.1v1.1h-1.1zM270.6 117.3h1.1v1.1h-1.1zM277.4 109.4h1.1v1.1h-1.1zM281.3 112.7h1.1v1.1h-1.1zM253.3 95.7h1.1v1.1h-1.1zM267.2 97.3h1.1v1.1h-1.1zM240.4 97.4h1.1v1.1h-1.1zM247.3 133h1.1v1.1h-1.1zM289.2 95.1h1.1v1.1h-1.1zM253.1 123.9h1.1v1.1h-1.1zM244.6 121.3h1.1v1.1h-1.1zM248 110.2h1.1v1.1h-1.1zM266.3 100h1.1v1.1h-1.1zM256.2 118.8h1.1v1.1h-1.1zM275.4 98.6h1.1v1.1h-1.1zM268.1 101.6h1.1v1.1h-1.1zM276.8 104.5h1.1v1.1h-1.1zM248.5 120.8h1.1v1.1h-1.1zM242.7 110.6h1.1v1.1h-1.1zM279.1 97.8h1.1v1.1h-1.1zM270.6 97.7h1.1v1.1h-1.1zM258.4 95.4h1.1v1.1h-1.1zM273.8 104.3h1.1v1.1h-1.1zM256.3 124.5h1.1v1.1h-1.1zM261.7 121.2h1.1v1.1h-1.1zM274.1 119.1h1.1v1.1h-1.1zM272.1 99.7h1.1v1.1h-1.1zM272.6 117.1h1.1v1.1h-1.1zM237.1 110.2h1.1v1.1h-1.1zM248.6 109.6h1.1v1.1h-1.1zM264.2 101.9h1.1v1.1h-1.1zM253.3 100.4h1.1v1.1h-1.1zM270.3 112.1h1.1v1.1h-1.1zM248.3 128.3h1.1v1.1h-1.1zM288.1 89.4h1.1v1.1h-1.1zM249.1 119h1.1v1.1h-1.1zM260.7 96.5h1.1v1.1h-1.1zM243.3 128.4h1.1v1.1h-1.1zM271 105.3h1.1v1.1h-1.1zM264.1 124.3h1.1v1.1h-1.1zM270.6 108.3h1.1v1.1h-1.1zM278.2 112.1h1.1v1.1h-1.1zM251.5 99.7h1.1v1.1h-1.1zM251.6 129.7h1.1v1.1h-1.1zM266.5 117h1.1v1.1h-1.1zM267.8 103.2h1.1v1.1h-1.1zM268.2 100.6h1.1v1.1h-1.1zM274.8 102.1h1.1v1.1h-1.1zM263.2 101.7h1.1v1.1h-1.1zM280.3 113.6h1.1v1.1h-1.1zM242.3 120.2h1.1v1.1h-1.1zM279.2 98.5h1.1v1.1h-1.1zM248.6 111.4h1.1v1.1h-1.1zM248.3 116.3h1.1v1.1h-1.1zM284.1 95.3h1.1v1.1h-1.1zM270.1 115.1h1.1v1.1h-1.1zM247.7 106.7h1.1v1.1h-1.1zM271.9 101.7h1.1v1.1h-1.1zM248.5 130.2h1.1v1.1h-1.1zM248.2 106.5h1.1v1.1h-1.1zM265.4 98.5h1.1v1.1h-1.1zM257.8 132.3h1.1v1.1h-1.1zM267.3 130.3h1.1v1.1h-1.1zM244.2 98.1h1.1v1.1h-1.1zM273.6 104.5h1.1v1.1h-1.1zM269.8 109.3h1.1v1.1h-1.1zM240.7 108.7h1.1v1.1h-1.1zM271.7 120.4h1.1v1.1h-1.1zM262.4 126.7h1.1v1.1h-1.1zM268.2 105.3h1.1v1.1h-1.1zM274.5 113.9h1.1v1.1h-1.1zM286.7 92.6h1.1v1.1h-1.1zM253.7 101.8h1.1v1.1h-1.1zM241.3 108.9h1.1v1.1h-1.1zM246.1 110.3h1.1v1.1h-1.1zM250.3 119.3h1.1v1.1h-1.1zM270.1 111.8h1.1v1.1h-1.1zM245.4 101.3h1.1v1.1h-1.1zM248.8 117.2h1.1v1.1h-1.1zM269.2 101.4h1.1v1.1h-1.1zM235.4 117.6h1.1v1.1h-1.1zM264 98.6h1.1v1.1h-1.1zM269.9 116.5h1.1v1.1h-1.1zM271.1 109.7h1.1v1.1h-1.1zM253.9 98.8h1.1v1.1h-1.1zM251.4 105.3h1.1v1.1h-1.1zM238.9 92.7h1.1v1.1h-1.1zM249.2 121.7h1.1v1.1h-1.1zM271.6 110.5h1.1v1.1h-1.1zM250.6 104.8h1.1v1.1h-1.1zM273.5 98.9h1.1v1.1h-1.1zM231.7 109.5h1.1v1.1h-1.1zM275.2 108.4h1.1v1.1h-1.1zM243.1 109.5h1.1v1.1h-1.1zM253.7 123.2h1.1v1.1h-1.1zM251.8 123.1h1.1v1.1h-1.1zM261.9 132.7h1.1v1.1h-1.1zM274.7 112.2h1.1v1.1h-1.1zM265.3 99.1h1.1v1.1h-1.1zM274.8 119h1.1v1.1h-1.1zM251 122.1h1.1v1.1h-1.1zM251.3 127.1h1.1v1.1h-1.1zM266.1 117.6h1.1v1.1h-1.1zM253.1 119.9h1.1v1.1h-1.1zM260.2 120h1.1v1.1h-1.1zM248.7 114.1h1.1v1.1h-1.1zM256.7 98.2h1.1v1.1h-1.1z" fill="#5a5a5a"/><path d="M250.3 110h1.1v1.1h-1.1zM253.1 110.8h1.1v1.1h-1.1zM265.2 104.3h1.1v1.1h-1.1zM260.8 105.8h1.1v1.1h-1.1zM260.1 87.4h1.1v1.1h-1.1zM257.5 112.4h1.1v1.1h-1.1zM254.7 103.1h1.1v1.1h-1.1zM255.7 107.9h1.1v1.1h-1.1zM260.2 106.3h1.1v1.1h-1.1zM268.9 103h1.1v1.1h-1.1zM259.1 118.1h1.1v1.1h-1.1zM262.4 107.6h1.1v1.1h-1.1zM264.4 111h1.1v1.1h-1.1zM261.4 104.6h1.1v1.1h-1.1zM260.9 108.8h1.1v1.1h-1.1zM256.5 109.1h1.1v1.1h-1.1zM258.9 113.6h1.1v1.1h-1.1zM254.4 110.8h1.1v1.1h-1.1zM241 112.3h1.1v1.1h-1.1zM248.2 109.1h1.1v1.1h-1.1zM255.4 118.4h1.1v1.1h-1.1zM254.5 107.8h1.1v1.1h-1.1zM264.7 101.5h1.1v1.1h-1.1zM262.6 112.2h1.1v1.1h-1.1zM261.6 106.6h1.1v1.1h-1.1zM246.9 115.2h1.1v1.1h-1.1zM268.2 116.2h1.1v1.1h-1.1zM249.5 113.6h1.1v1.1h-1.1zM261.9 113.7h1.1v1.1h-1.1zM243.6 110.6h1.1v1.1h-1.1zM265.7 122.1h1.1v1.1h-1.1zM265.2 113.7h1.1v1.1h-1.1zM269.2 108.4h1.1v1.1h-1.1zM250.6 112.8h1.1v1.1h-1.1zM261.5 107.3h1.1v1.1h-1.1zM251.7 110.2h1.1v1.1h-1.1zM242 108.3h1.1v1.1h-1.1zM257.2 108.2h1.1v1.1h-1.1zM261.8 109.2h1.1v1.1h-1.1zM260.3 102.9h1.1v1.1h-1.1zM260.1 109.5h1.1v1.1h-1.1zM256.1 113.6h1.1v1.1h-1.1zM255.1 107.5h1.1v1.1h-1.1zM257.2 115h1.1v1.1h-1.1zM263.1 114.7h1.1v1.1h-1.1zM256.9 115.4h1.1v1.1h-1.1zM257.4 106.5h1.1v1.1h-1.1zM263 103.8h1.1v1.1h-1.1zM263.2 107.6h1.1v1.1h-1.1zM264 124.9h1.1v1.1h-1.1zM261.5 115.2h1.1v1.1h-1.1zM252.5 114.5h1.1v1.1h-1.1zM237.7 119.1h1.1v1.1h-1.1zM248.9 101.9h1.1v1.1h-1.1zM248.6 123.7h1.1v1.1h-1.1zM256.1 113.6h1.1v1.1h-1.1zM263.9 95.8h1.1v1.1h-1.1zM263.9 109.1h1.1v1.1h-1.1zM257.1 116.3h1.1v1.1h-1.1zM251.4 108.4h1.1v1.1h-1.1zM266.8 111.2h1.1v1.1h-1.1zM272.7 114.4h1.1v1.1h-1.1zM264.2 114.8h1.1v1.1h-1.1zM267.3 105.3h1.1v1.1h-1.1zM268 124.9h1.1v1.1h-1.1zM265.2 107.8h1.1v1.1h-1.1zM260.4 105.6h1.1v1.1h-1.1zM258.7 110.6h1.1v1.1h-1.1zM275.6 122.7h1.1v1.1h-1.1zM261.5 117.5h1.1v1.1h-1.1zM271.1 112.5h1.1v1.1h-1.1zM273 110.9h1.1v1.1h-1.1zM238.1 125.5h1.1v1.1h-1.1zM250.6 107.5h1.1v1.1h-1.1zM266.9 102.1h1.1v1.1h-1.1zM278.4 109.1h1.1v1.1h-1.1zM268.5 98.3h1.1v1.1h-1.1zM258.3 108.5h1.1v1.1h-1.1zM257.9 115h1.1v1.1h-1.1zM255.9 110.4h1.1v1.1h-1.1zM252.2 107.6h1.1v1.1h-1.1zM257.4 104.1h1.1v1.1h-1.1zM272.6 103.9h1.1v1.1h-1.1zM260.1 98h1.1v1.1h-1.1zM245.3 130.4h1.1v1.1h-1.1zM259.6 115.3h1.1v1.1h-1.1zM240.2 110.1h1.1v1.1h-1.1zM259 102.9h1.1v1.1h-1.1zM262.1 105.9h1.1v1.1h-1.1zM256.9 106.1h1.1v1.1h-1.1zM258.6 113.3h1.1v1.1h-1.1zM258.7 118.6h1.1v1.1h-1.1zM264.4 115.3h1.1v1.1h-1.1zM264.5 106.5h1.1v1.1h-1.1zM257.1 119.4h1.1v1.1h-1.1zM266.3 112h1.1v1.1h-1.1zM253 117.9h1.1v1.1h-1.1zM266.1 106.4h1.1v1.1h-1.1zM258.2 115.3h1.1v1.1h-1.1zM256.9 104.4h1.1v1.1h-1.1zM250.6 112.3h1.1v1.1h-1.1zM252.2 108.2h1.1v1.1h-1.1zM258.6 108.2h1.1v1.1h-1.1zM250 129.9h1.1v1.1h-1.1zM260.3 116.3h1.1v1.1h-1.1zM267 112.3h1.1v1.1h-1.1zM257.8 102.5h1.1v1.1h-1.1zM272.5 100.5h1.1v1.1h-1.1zM255.9 118.8h1.1v1.1h-1.1zM259.7 102.8h1.1v1.1h-1.1zM246.6 113h1.1v1.1h-1.1zM243.5 100.1h1.1v1.1h-1.1zM266.8 113.4h1.1v1.1h-1.1zM269.5 110.2h1.1v1.1h-1.1zM261.4 125.9h1.1v1.1h-1.1zM256.1 101.5h1.1v1.1h-1.1zM242.4 102.5h1.1v1.1h-1.1zM251.5 102h1.1v1.1h-1.1zM259.4 113.5h1.1v1.1h-1.1zM259.9 116h1.1v1.1h-1.1zM260.9 113.5h1.1v1.1h-1.1zM259.5 102.7h1.1v1.1h-1.1zM256.8 108.2h1.1v1.1h-1.1zM261.6 103.2h1.1v1.1h-1.1zM265.8 113.3h1.1v1.1h-1.1zM240.5 112h1.1v1.1h-1.1zM265.7 112h1.1v1.1h-1.1zM251 107.8h1.1v1.1h-1.1zM256.3 112.9h1.1v1.1h-1.1zM267.4 124.4h1.1v1.1h-1.1zM276.7 103.6h1.1v1.1h-1.1zM267 105.8h1.1v1.1h-1.1zM262.7 108.9h1.1v1.1h-1.1zM254 113h1.1v1.1h-1.1zM245.9 119h1.1v1.1h-1.1zM257 115.9h1.1v1.1h-1.1zM253.7 116.4h1.1v1.1h-1.1zM248.2 113.5h1.1v1.1h-1.1zM263.6 115.1h1.1v1.1h-1.1zM265.9 110.2h1.1v1.1h-1.1zM252.8 101h1.1v1.1h-1.1zM260.8 117.8h1.1v1.1h-1.1zM267.3 107.1h1.1v1.1h-1.1zM265.4 109.6h1.1v1.1h-1.1zM263.5 111.3h1.1v1.1h-1.1zM241.6 119.2h1.1v1.1h-1.1zM263.2 111.9h1.1v1.1h-1.1zM262.9 115.3h1.1v1.1h-1.1zM255.2 103.5h1.1v1.1h-1.1zM260.4 111h1.1v1.1h-1.1zM258.3 111.6h1.1v1.1h-1.1zM256.3 112h1.1v1.1h-1.1zM266.2 101.1h1.1v1.1h-1.1zM267.9 110.5h1.1v1.1h-1.1zM263 115.2h1.1v1.1h-1.1zM265.5 103.4h1.1v1.1h-1.1zM264.9 112.4h1.1v1.1h-1.1zM245.6 105.3h1.1v1.1h-1.1zM256 112.8h1.1v1.1h-1.1zM257.6 108.2h1.1v1.1h-1.1zM255.5 110h1.1v1.1h-1.1zM263 117.5h1.1v1.1h-1.1zM258.4 95.3h1.1v1.1h-1.1zM263.5 109.7h1.1v1.1h-1.1zM262.2 110h1.1v1.1h-1.1zM264.7 105.2h1.1v1.1h-1.1zM260.5 111.3h1.1v1.1h-1.1zM257.9 106.9h1.1v1.1h-1.1zM275.6 113.7h1.1v1.1h-1.1zM272 93.6h1.1v1.1h-1.1zM262.3 110.6h1.1v1.1h-1.1zM250.5 111.6h1.1v1.1h-1.1zM258.2 111.4h1.1v1.1h-1.1zM258.3 108.9h1.1v1.1h-1.1zM254.5 113.3h1.1v1.1h-1.1zM253.5 107.8h1.1v1.1h-1.1zM255.3 113.6h1.1v1.1h-1.1zM257.3 114.1h1.1v1.1h-1.1zM260.6 106.7h1.1v1.1h-1.1zM255.1 117.3h1.1v1.1h-1.1zM257.9 106.1h1.1v1.1h-1.1zM232.8 105.4h1.1v1.1h-1.1zM258.8 109.6h1.1v1.1h-1.1zM263.9 110.6h1.1v1.1h-1.1zM247.8 113.4h1.1v1.1h-1.1zM252.2 97.9h1.1v1.1h-1.1zM257.8 108.9h1.1v1.1h-1.1zM243 123.7h1.1v1.1h-1.1zM261.2 116.9h1.1v1.1h-1.1zM255.9 117.8h1.1v1.1h-1.1zM267.9 83.9h1.1v1.1h-1.1zM256.9 104.4h1.1v1.1h-1.1zM266.3 108.6h1.1v1.1h-1.1zM264.4 107.5h1.1v1.1h-1.1zM234.9 114.5h1.1v1.1h-1.1zM242.8 95.7h1.1v1.1h-1.1zM265.8 111.2h1.1v1.1h-1.1zM266.8 108.2h1.1v1.1h-1.1zM254 98.1h1.1v1.1h-1.1zM261.2 116.3h1.1v1.1h-1.1zM263 115.4h1.1v1.1h-1.1zM244.1 108.4h1.1v1.1h-1.1zM258.7 113.5h1.1v1.1h-1.1zM260.7 110.5h1.1v1.1h-1.1zM256.6 115h1.1v1.1h-1.1zM262.1 112.9h1.1v1.1h-1.1zM252.3 104.4h1.1v1.1h-1.1zM257.2 107.4h1.1v1.1h-1.1zM266.2 104.7h1.1v1.1h-1.1zM259.6 108.4h1.1v1.1h-1.1zM260.6 104.5h1.1v1.1h-1.1zM253.3 106.6h1.1v1.1h-1.1zM265.5 108.5h1.1v1.1h-1.1zM262.9 106.3h1.1v1.1h-1.1zM248.8 104.7h1.1v1.1h-1.1zM254.2 107.7h1.1v1.1h-1.1zM262.7 112.2h1.1v1.1h-1.1zM268.3 106.2h1.1v1.1h-1.1zM260.6 113h1.1v1.1h-1.1zM273.9 116.5h1.1v1.1h-1.1zM261.5 117.7h1.1v1.1h-1.1zM254.1 111.7h1.1v1.1h-1.1zM264.1 123.8h1.1v1.1h-1.1zM259.5 118.5h1.1v1.1h-1.1zM257.7 104.9h1.1v1.1h-1.1zM263.2 114.6h1.1v1.1h-1.1zM253.7 117.8h1.1v1.1h-1.1zM249.6 106.5h1.1v1.1h-1.1zM260.5 107.9h1.1v1.1h-1.1zM259.9 112.2h1.1v1.1h-1.1zM255 113.6h1.1v1.1h-1.1zM263.9 111.1h1.1v1.1h-1.1zM253.2 113.3h1.1v1.1h-1.1zM262.4 111.4h1.1v1.1h-1.1zM269.2 102.6h1.1v1.1h-1.1zM266.1 110.5h1.1v1.1h-1.1zM261 106.6h1.1v1.1h-1.1zM261.1 114.9h1.1v1.1h-1.1zM262.1 105h1.1v1.1h-1.1zM266.8 111h1.1v1.1h-1.1zM257.5 107.7h1.1v1.1h-1.1zM251.4 115.4h1.1v1.1h-1.1zM266.9 119.7h1.1v1.1h-1.1zM256.9 114.6h1.1v1.1h-1.1zM260 111.3h1.1v1.1h-1.1zM245.2 107.9h1.1v1.1h-1.1zM273.8 117.2h1.1v1.1h-1.1zM272.7 100.8h1.1v1.1h-1.1zM262.8 102.7h1.1v1.1h-1.1zM263.1 105.9h1.1v1.1h-1.1zM261.7 107.5h1.1v1.1h-1.1zM260.3 112.3h1.1v1.1h-1.1zM254.5 113.9h1.1v1.1h-1.1zM283.5 103.2h1.1v1.1h-1.1zM263.3 118.6h1.1v1.1h-1.1zM234.6 117.9h1.1v1.1h-1.1zM252.7 108.7h1.1v1.1h-1.1zM260.7 104.9h1.1v1.1h-1.1zM257.1 119h1.1v1.1h-1.1zM254.3 122.8h1.1v1.1h-1.1zM268.8 108.1h1.1v1.1h-1.1zM261.5 119h1.1v1.1h-1.1zM265.3 113h1.1v1.1h-1.1zM263.4 112.6h1.1v1.1h-1.1zM260.9 107.9h1.1v1.1h-1.1zM261.2 114.8h1.1v1.1h-1.1zM248.2 109.7h1.1v1.1h-1.1zM244.1 101.6h1.1v1.1h-1.1zM265.9 106.2h1.1v1.1h-1.1zM267.4 104.3h1.1v1.1h-1.1zM260.8 110.8h1.1v1.1h-1.1zM259.2 117.2h1.1v1.1h-1.1zM277.4 100.2h1.1v1.1h-1.1zM250 118.8h1.1v1.1h-1.1zM265.4 95.6h1.1v1.1h-1.1zM249.6 105.6h1.1v1.1h-1.1zM265.9 112.3h1.1v1.1h-1.1zM260.1 92.8h1.1v1.1h-1.1zM264.9 107.1h1.1v1.1h-1.1zM252.6 110.5h1.1v1.1h-1.1zM254.3 106.1h1.1v1.1h-1.1zM262.4 117.4h1.1v1.1h-1.1zM248.9 107.4h1.1v1.1h-1.1zM253.9 108.1h1.1v1.1h-1.1zM274.5 101h1.1v1.1h-1.1zM265 106.8h1.1v1.1h-1.1zM263.6 105.2h1.1v1.1h-1.1zM255.6 103.7h1.1v1.1h-1.1zM265.3 112.6h1.1v1.1h-1.1zM262.8 115.6h1.1v1.1h-1.1zM264.5 109.5h1.1v1.1h-1.1zM252 118h1.1v1.1h-1.1zM254 114.4h1.1v1.1h-1.1zM257.2 111.3h1.1v1.1h-1.1zM254.9 107.5h1.1v1.1h-1.1zM255.8 95.6h1.1v1.1h-1.1zM245 94.3h1.1v1.1h-1.1zM258.6 116.9h1.1v1.1h-1.1zM252.5 109.9h1.1v1.1h-1.1zM255.6 105h1.1v1.1h-1.1zM260 110.5h1.1v1.1h-1.1zM266.2 108h1.1v1.1h-1.1zM260.9 109.7h1.1v1.1h-1.1zM264.2 107.7h1.1v1.1h-1.1zM251.7 114h1.1v1.1h-1.1zM263.3 110.1h1.1v1.1h-1.1zM262.3 112.5h1.1v1.1h-1.1zM255.3 104.1h1.1v1.1h-1.1zM252.7 113.1h1.1v1.1h-1.1zM264.9 109.9h1.1v1.1h-1.1zM253 104.8h1.1v1.1h-1.1zM255.6 105.7h1.1v1.1h-1.1zM268.6 119.5h1.1v1.1h-1.1zM260.7 113.6h1.1v1.1h-1.1zM264.5 112.7h1.1v1.1h-1.1zM254.3 110.2h1.1v1.1h-1.1zM252.6 108.1h1.1v1.1h-1.1zM262.7 116.1h1.1v1.1h-1.1zM239.1 105.6h1.1v1.1h-1.1zM263.7 115.9h1.1v1.1h-1.1zM253.2 107h1.1v1.1h-1.1zM264.5 113.6h1.1v1.1h-1.1zM247 93.9h1.1v1.1h-1.1zM259.1 103.4h1.1v1.1h-1.1zM262.1 110.8h1.1v1.1h-1.1zM253.2 112.2h1.1v1.1h-1.1zM253.1 114h1.1v1.1h-1.1zM249.4 112.9h1.1v1.1h-1.1zM258.5 106.7h1.1v1.1h-1.1zM269 110.4h1.1v1.1h-1.1zM251.7 113.8h1.1v1.1h-1.1zM253.9 107.1h1.1v1.1h-1.1zM253.7 119.1h1.1v1.1h-1.1zM254.7 109.3h1.1v1.1h-1.1zM259.3 112.7h1.1v1.1h-1.1zM268.8 113.8h1.1v1.1h-1.1zM251.3 108.4h1.1v1.1h-1.1zM268.9 111.3h1.1v1.1h-1.1zM284 113.6h1.1v1.1h-1.1zM267.4 109.6h1.1v1.1h-1.1zM258.1 106.3h1.1v1.1h-1.1zM262.6 111.2h1.1v1.1h-1.1zM260.5 105.4h1.1v1.1h-1.1zM252.1 116.5h1.1v1.1h-1.1zM265.7 112.5h1.1v1.1h-1.1zM263.6 108.1h1.1v1.1h-1.1zM251.2 109.1h1.1v1.1h-1.1zM257 106.8h1.1v1.1h-1.1zM256.8 116.8h1.1v1.1h-1.1zM264.5 108.2h1.1v1.1h-1.1zM262.4 103.3h1.1v1.1h-1.1zM257 115.8h1.1v1.1h-1.1zM266.7 105.5h1.1v1.1h-1.1zM260.7 118h1.1v1.1h-1.1zM254.3 117.8h1.1v1.1h-1.1zM256.5 114.3h1.1v1.1h-1.1zM261.2 85.2h1.1v1.1h-1.1zM260 104.1h1.1v1.1h-1.1zM251.4 106.4h1.1v1.1h-1.1zM260.6 106.1h1.1v1.1h-1.1zM249.7 112h1.1v1.1h-1.1zM260.6 102.8h1.1v1.1h-1.1zM261.9 106.2h1.1v1.1h-1.1zM279.7 108.1h1.1v1.1h-1.1zM257.6 94.2h1.1v1.1h-1.1zM263.5 116.4h1.1v1.1h-1.1zM260.3 114h1.1v1.1h-1.1zM258.5 112.4h1.1v1.1h-1.1zM259.2 104.6h1.1v1.1h-1.1zM262.8 110.5h1.1v1.1h-1.1zM256.8 105.6h1.1v1.1h-1.1zM249.9 115.8h1.1v1.1h-1.1zM254.2 110.4h1.1v1.1h-1.1zM254 107.3h1.1v1.1h-1.1zM254.9 118.2h1.1v1.1h-1.1zM255.6 113.4h1.1v1.1h-1.1zM240.2 115h1.1v1.1h-1.1zM258.7 102.8h1.1v1.1h-1.1zM266.3 121.7h1.1v1.1h-1.1zM259.4 104.7h1.1v1.1h-1.1zM276.1 86.4h1.1v1.1h-1.1zM251.3 116.7h1.1v1.1h-1.1zM263.7 115.7h1.1v1.1h-1.1zM255.3 124h1.1v1.1h-1.1zM271.7 105.9h1.1v1.1h-1.1zM259.1 105.3h1.1v1.1h-1.1zM267.7 101.6h1.1v1.1h-1.1zM254.7 95h1.1v1.1h-1.1zM260.1 111.9h1.1v1.1h-1.1zM237.8 118h1.1v1.1h-1.1zM253.3 110.8h1.1v1.1h-1.1zM260.7 116.7h1.1v1.1h-1.1zM255 112.7h1.1v1.1h-1.1zM268.1 107.5h1.1v1.1h-1.1zM261.7 116h1.1v1.1h-1.1zM252.7 112.2h1.1v1.1h-1.1zM238.4 106.9h1.1v1.1h-1.1zM261.5 108.3h1.1v1.1h-1.1zM262.7 110.8h1.1v1.1h-1.1zM268.2 114.5h1.1v1.1h-1.1zM229.6 98.6h1.1v1.1h-1.1zM261 115.4h1.1v1.1h-1.1zM251.2 108.4h1.1v1.1h-1.1zM264.3 113.7h1.1v1.1h-1.1zM265.5 111h1.1v1.1h-1.1zM252.9 113.7h1.1v1.1h-1.1zM253.5 109.9h1.1v1.1h-1.1zM261.8 112.4h1.1v1.1h-1.1zM252.9 117.3h1.1v1.1h-1.1zM252 116.7h1.1v1.1h-1.1zM252.9 104.8h1.1v1.1h-1.1zM274.8 118.6h1.1v1.1h-1.1zM257.9 110.5h1.1v1.1h-1.1zM252.4 115.9h1.1v1.1h-1.1zM266.8 114.1h1.1v1.1h-1.1zM262.3 113.2h1.1v1.1h-1.1zM268 108.5h1.1v1.1h-1.1zM248 115.8h1.1v1.1h-1.1zM250.6 114.7h1.1v1.1h-1.1zM258.6 104.2h1.1v1.1h-1.1zM254.3 118.4h1.1v1.1h-1.1zM249.4 128.3h1.1v1.1h-1.1zM250.8 111.8h1.1v1.1h-1.1zM265.6 108.8h1.1v1.1h-1.1zM264.9 113.2h1.1v1.1h-1.1zM267 109.9h1.1v1.1h-1.1zM253 99.2h1.1v1.1h-1.1zM275.7 93.4h1.1v1.1h-1.1zM235.9 112.9h1.1v1.1h-1.1zM253.8 114.6h1.1v1.1h-1.1zM256.5 113.9h1.1v1.1h-1.1zM232.5 106.8h1.1v1.1h-1.1zM262.5 109.9h1.1v1.1h-1.1zM260.9 111.1h1.1v1.1h-1.1zM251.7 101.6h1.1v1.1h-1.1zM264.5 111.8h1.1v1.1h-1.1zM268.1 117.8h1.1v1.1h-1.1zM251.1 116.8h1.1v1.1h-1.1zM260.8 116h1.1v1.1h-1.1zM255.7 106.6h1.1v1.1h-1.1zM262.8 113.5h1.1v1.1h-1.1zM271.5 109.7h1.1v1.1h-1.1zM257.3 109.1h1.1v1.1h-1.1zM264.2 112.7h1.1v1.1h-1.1zM250.6 122.3h1.1v1.1h-1.1zM276.9 104.4h1.1v1.1h-1.1zM258.4 100.7h1.1v1.1h-1.1zM241.8 128.5h1.1v1.1h-1.1zM251 108.5h1.1v1.1h-1.1zM254.9 116.7h1.1v1.1h-1.1zM251.3 113.8h1.1v1.1h-1.1zM262.1 107.7h1.1v1.1h-1.1zM262.4 107.8h1.1v1.1h-1.1zM258.5 106.8h1.1v1.1h-1.1zM259.5 114.4h1.1v1.1h-1.1zM255.8 105.2h1.1v1.1h-1.1zM255.9 105.8h1.1v1.1h-1.1zM252.7 107.1h1.1v1.1h-1.1zM241.5 121.5h1.1v1.1h-1.1zM254.4 112.9h1.1v1.1h-1.1zM257.4 106.3h1.1v1.1h-1.1zM256.8 108.8h1.1v1.1h-1.1zM257.2 106.6h1.1v1.1h-1.1zM250.7 107.2h1.1v1.1h-1.1zM260.6 108.5h1.1v1.1h-1.1zM248.9 116.3h1.1v1.1h-1.1zM262.5 113.5h1.1v1.1h-1.1zM259.7 106.3h1.1v1.1h-1.1zM257.4 115.5h1.1v1.1h-1.1zM258.6 104.3h1.1v1.1h-1.1zM263.9 105.6h1.1v1.1h-1.1zM248.2 106.7h1.1v1.1h-1.1zM260.2 97.9h1.1v1.1h-1.1zM256.8 105.1h1.1v1.1h-1.1zM270.5 117.2h1.1v1.1h-1.1zM262.9 113.1h1.1v1.1h-1.1zM260.6 118h1.1v1.1h-1.1zM241.7 112h1.1v1.1h-1.1zM253.2 109.9h1.1v1.1h-1.1zM264.4 103.2h1.1v1.1h-1.1zM268 105.5h1.1v1.1h-1.1zM250.1 111.6h1.1v1.1h-1.1zM265.9 109h1.1v1.1h-1.1zM266.3 112.7h1.1v1.1h-1.1zM253.3 121.5h1.1v1.1h-1.1zM260.4 110.5h1.1v1.1h-1.1zM252.1 111.1h1.1v1.1h-1.1zM254 112.1h1.1v1.1h-1.1zM263.1 98.2h1.1v1.1h-1.1zM258.7 110.1h1.1v1.1h-1.1zM266.9 106.2h1.1v1.1h-1.1zM257.7 110.5h1.1v1.1h-1.1zM243.6 125.4h1.1v1.1h-1.1zM265.8 108.5h1.1v1.1h-1.1zM281.2 114.2h1.1v1.1h-1.1zM250.1 113h1.1v1.1h-1.1zM256.8 108.3h1.1v1.1h-1.1zM265.7 87h1.1v1.1h-1.1zM259.8 115h1.1v1.1h-1.1zM252.5 122.3h1.1v1.1h-1.1zM272.6 105h1.1v1.1h-1.1zM254.3 108.1h1.1v1.1h-1.1zM250.2 127.9h1.1v1.1h-1.1zM260.3 114.7h1.1v1.1h-1.1zM263.4 113h1.1v1.1h-1.1zM268 115.7h1.1v1.1h-1.1zM262.5 109.5h1.1v1.1h-1.1zM253.5 115.4h1.1v1.1h-1.1zM257.3 104.8h1.1v1.1h-1.1zM260.5 104.3h1.1v1.1h-1.1zM253.8 117.4h1.1v1.1h-1.1zM257.7 105h1.1v1.1h-1.1zM261.5 112.5h1.1v1.1h-1.1zM267.9 111h1.1v1.1h-1.1zM273.2 111.8h1.1v1.1h-1.1zM252.6 116.2h1.1v1.1h-1.1zM260.8 114.8h1.1v1.1h-1.1zM258.3 117.8h1.1v1.1h-1.1zM269.7 99.4h1.1v1.1h-1.1zM254.4 114.4h1.1v1.1h-1.1zM264.2 109.8h1.1v1.1h-1.1zM257.8 114.4h1.1v1.1h-1.1zM252.9 112.4h1.1v1.1h-1.1zM255.7 108.5h1.1v1.1h-1.1zM259.5 109.9h1.1v1.1h-1.1zM263.4 117.3h1.1v1.1h-1.1zM261.5 113.1h1.1v1.1h-1.1zM256.9 117h1.1v1.1h-1.1zM253.9 107h1.1v1.1h-1.1zM254.5 114.2h1.1v1.1h-1.1zM280.8 101.4h1.1v1.1h-1.1zM270.3 112.3h1.1v1.1h-1.1zM252.7 113.2h1.1v1.1h-1.1zM259.8 103.6h1.1v1.1h-1.1zM253.9 113.1h1.1v1.1h-1.1zM254 112.8h1.1v1.1h-1.1zM249.1 102h1.1v1.1h-1.1zM259.2 106.5h1.1v1.1h-1.1zM258.4 113.3h1.1v1.1h-1.1zM258.3 111h1.1v1.1h-1.1zM256.7 107.2h1.1v1.1h-1.1zM261.9 109.5h1.1v1.1h-1.1zM267.6 107.2h1.1v1.1h-1.1zM271 98h1.1v1.1h-1.1zM265 99.8h1.1v1.1h-1.1zM272.2 103.4h1.1v1.1h-1.1zM269.9 103h1.1v1.1h-1.1zM250.4 114.5h1.1v1.1h-1.1zM252 109.9h1.1v1.1h-1.1zM254.2 107.6h1.1v1.1h-1.1zM250.8 112.1h1.1v1.1h-1.1z" fill="#8f8f8f"/><polygon points="236.8,101.6 244,95.4 255.3,90.3 271.7,90.9 277.4,95.4 281.5,100.6 282,110.8 275.8,122.1 265.5,128.3 255.3,131.4 245,130.3 238.8,124.2 236.8,116" fill="none" stroke="#2d2d2d" stroke-width="1.3"/><polygon points="241.9,101.6 253.2,95 269.6,95 276.8,101.6 276.2,113.9 269.6,123.2 257.3,128.3 245,126.2 240.9,118" fill="none" stroke="#555" stroke-width="0.8" stroke-dasharray="2 1.5"/></g><rect x="163" y="49.5" width="151.8" height="151.8" fill="none" stroke="#7a7a7a" stroke-width="1.3"/><path d="M163 49.5V201.3H314.8" stroke="#555" stroke-width="1.5" fill="none"/><path d="M163 52.5h-2.5M163 58.5h-2.5M163 64.4h-2.5M163 70.4h-2.5M163 76.3h-2.5M163 82.3h-2.5M163 88.2h-2.5M163 94.2h-2.5M163 100.1h-2.5M163 106.1h-2.5M163 112h-2.5M163 118h-2.5M163 123.9h-2.5M163 129.9h-2.5M163 135.8h-2.5M163 141.8h-2.5M163 147.7h-2.5M163 153.7h-2.5M163 159.6h-2.5M163 165.6h-2.5M163 171.5h-2.5M163 177.5h-2.5M163 183.4h-2.5M163 189.4h-2.5M163 195.3h-2.5M163 201.3h-2.5M165 201.3v2.5M170.9 201.3v2.5M176.8 201.3v2.5M182.7 201.3v2.5M188.6 201.3v2.5M194.6 201.3v2.5M200.5 201.3v2.5M206.4 201.3v2.5M212.3 201.3v2.5M218.2 201.3v2.5M224.1 201.3v2.5M230 201.3v2.5M235.9 201.3v2.5M241.9 201.3v2.5M247.8 201.3v2.5M253.7 201.3v2.5M259.6 201.3v2.5M265.5 201.3v2.5M271.4 201.3v2.5M277.3 201.3v2.5M283.2 201.3v2.5M289.2 201.3v2.5M295.1 201.3v2.5M301 201.3v2.5M306.9 201.3v2.5M312.8 201.3v2.5" stroke="#8a8a8a" stroke-width="0.8" fill="none"/><text x="218.5" y="73.5" font-size="13" fill="#333" stroke="#333" stroke-width="0.3" textLength="27.5" lengthAdjust="spacingAndGlyphs">86%</text><text x="158" y="68.9" font-size="8.6" fill="#7a7a7a" text-anchor="end">10<tspan dy="-4" font-size="6.3">5</tspan></text><text x="158" y="102.7" font-size="8.6" fill="#7a7a7a" text-anchor="end">10<tspan dy="-4" font-size="6.3">4</tspan></text><text x="158" y="138.1" font-size="8.6" fill="#7a7a7a" text-anchor="end">10<tspan dy="-4" font-size="6.3">3</tspan></text><text x="158" y="174.6" font-size="8.6" fill="#7a7a7a" text-anchor="end">10<tspan dy="-4" font-size="6.3">2</tspan></text><text x="153" y="191" font-size="9" fill="#7a7a7a" text-anchor="end">0</text><text x="174.1" y="219.5" font-size="8.6" fill="#7d7d7d" text-anchor="middle">0</text><text x="195.7" y="219.5" font-size="8.6" fill="#7d7d7d" text-anchor="middle" fill-opacity="0.95">10<tspan dy="-3.6" font-size="6.2">2</tspan></text><text x="230.6" y="219.5" font-size="8.6" fill="#7d7d7d" text-anchor="middle" fill-opacity="0.95">10<tspan dy="-3.6" font-size="6.2">3</tspan></text><text x="266.5" y="219.5" font-size="8.6" fill="#7d7d7d" text-anchor="middle" fill-opacity="0.95">10<tspan dy="-3.6" font-size="6.2">4</tspan></text><text x="301.5" y="219.5" font-size="8.6" fill="#7d7d7d" text-anchor="middle" fill-opacity="0.95">10<tspan dy="-3.6" font-size="6.2">5</tspan></text><text x="323.3" y="125.6" font-size="10.5" font-weight="bold" fill="#2a2a2a" text-anchor="middle" textLength="43" lengthAdjust="spacingAndGlyphs" transform="rotate(-90 323.3 125.6)">% of Max</text><clipPath id="sc1"><rect x="163" y="226.4" width="151.8" height="152.2"/></clipPath><g clip-path="url(#sc1)"><polygon points="247.2,299 260.9,283 278,276.1 286,283 287.1,299 280.3,316.1 263.2,322.9 249.5,313.8" fill="#b4b4b4" opacity="0.8"/><path d="M255.2 309h1.1v1.1h-1.1zM207.2 356.5h1.1v1.1h-1.1zM258.7 300.3h1.1v1.1h-1.1zM268.7 309.8h1.1v1.1h-1.1zM220.6 342.7h1.1v1.1h-1.1zM242.5 321h1.1v1.1h-1.1zM242.9 310.3h1.1v1.1h-1.1zM258 306.1h1.1v1.1h-1.1zM254.9 306.6h1.1v1.1h-1.1zM257.4 312.8h1.1v1.1h-1.1zM263.7 303h1.1v1.1h-1.1zM247.4 316.9h1.1v1.1h-1.1zM229.2 335.7h1.1v1.1h-1.1zM238.5 332.8h1.1v1.1h-1.1zM252.8 297.1h1.1v1.1h-1.1zM263.6 308.8h1.1v1.1h-1.1zM208.8 329.2h1.1v1.1h-1.1zM278.9 285.7h1.1v1.1h-1.1zM271.5 297.5h1.1v1.1h-1.1zM272 311.2h1.1v1.1h-1.1zM217.9 328.9h1.1v1.1h-1.1zM260.7 335.3h1.1v1.1h-1.1zM279.6 306h1.1v1.1h-1.1zM261.2 297h1.1v1.1h-1.1zM244.4 306.9h1.1v1.1h-1.1zM261.8 313.4h1.1v1.1h-1.1zM262.8 312.5h1.1v1.1h-1.1zM240.1 320.6h1.1v1.1h-1.1zM226.7 343.3h1.1v1.1h-1.1zM249.9 335h1.1v1.1h-1.1zM257.4 327.4h1.1v1.1h-1.1zM255.4 287.7h1.1v1.1h-1.1zM259.3 305.4h1.1v1.1h-1.1zM274.7 303.4h1.1v1.1h-1.1zM241.9 322.3h1.1v1.1h-1.1zM257.7 321.1h1.1v1.1h-1.1zM210.9 344.1h1.1v1.1h-1.1zM254 329.3h1.1v1.1h-1.1zM264.1 298.7h1.1v1.1h-1.1zM265.1 304.1h1.1v1.1h-1.1zM266.3 320.9h1.1v1.1h-1.1zM269.4 289.7h1.1v1.1h-1.1zM234.6 314.8h1.1v1.1h-1.1zM268.9 303.8h1.1v1.1h-1.1zM258.9 311.6h1.1v1.1h-1.1zM261.9 297.3h1.1v1.1h-1.1zM272.5 284.6h1.1v1.1h-1.1zM249.7 306.7h1.1v1.1h-1.1zM272.3 304h1.1v1.1h-1.1zM268.7 295.2h1.1v1.1h-1.1zM248.9 325.8h1.1v1.1h-1.1zM245.6 323h1.1v1.1h-1.1zM229 321.2h1.1v1.1h-1.1zM266.2 289.8h1.1v1.1h-1.1zM285.1 297.9h1.1v1.1h-1.1zM209.3 347.3h1.1v1.1h-1.1zM243.5 324.3h1.1v1.1h-1.1zM260.7 298.8h1.1v1.1h-1.1zM266.7 315.6h1.1v1.1h-1.1zM244.6 318.8h1.1v1.1h-1.1zM262.2 342.7h1.1v1.1h-1.1zM258.7 333.3h1.1v1.1h-1.1zM250.4 323.1h1.1v1.1h-1.1zM218.8 349.4h1.1v1.1h-1.1zM248.8 314.9h1.1v1.1h-1.1zM239.3 326.8h1.1v1.1h-1.1zM229.1 330.7h1.1v1.1h-1.1zM237.6 314.1h1.1v1.1h-1.1zM265.7 305.1h1.1v1.1h-1.1zM307.1 275.9h1.1v1.1h-1.1zM264.2 293.9h1.1v1.1h-1.1zM238.3 302.7h1.1v1.1h-1.1zM256.5 326h1.1v1.1h-1.1zM247.9 324.1h1.1v1.1h-1.1zM260.1 294h1.1v1.1h-1.1zM230.4 337.4h1.1v1.1h-1.1zM252.7 311.9h1.1v1.1h-1.1zM242.7 341h1.1v1.1h-1.1zM229.8 333.3h1.1v1.1h-1.1zM254.2 323.8h1.1v1.1h-1.1zM276.4 282.1h1.1v1.1h-1.1zM261.7 305h1.1v1.1h-1.1zM248.1 324h1.1v1.1h-1.1zM244.7 309.9h1.1v1.1h-1.1zM259.5 340.4h1.1v1.1h-1.1zM269.1 294.2h1.1v1.1h-1.1zM249.8 319.8h1.1v1.1h-1.1zM244.5 303.7h1.1v1.1h-1.1zM243.9 335.4h1.1v1.1h-1.1zM259.7 307.5h1.1v1.1h-1.1zM221.4 336.3h1.1v1.1h-1.1zM274.6 314.4h1.1v1.1h-1.1zM237.4 312.9h1.1v1.1h-1.1zM247.1 309.6h1.1v1.1h-1.1zM265.6 308.1h1.1v1.1h-1.1zM292.6 293.9h1.1v1.1h-1.1zM245.2 333h1.1v1.1h-1.1zM255.5 299.5h1.1v1.1h-1.1zM232.8 323.3h1.1v1.1h-1.1zM215.1 359h1.1v1.1h-1.1zM241.7 326.7h1.1v1.1h-1.1zM268 314.1h1.1v1.1h-1.1zM290.9 291.5h1.1v1.1h-1.1zM282.5 309.3h1.1v1.1h-1.1zM231.6 346h1.1v1.1h-1.1zM237.4 335.4h1.1v1.1h-1.1zM256.5 318.7h1.1v1.1h-1.1zM233.8 329.3h1.1v1.1h-1.1zM247.3 316.7h1.1v1.1h-1.1zM259.7 303.9h1.1v1.1h-1.1zM245.1 325.1h1.1v1.1h-1.1zM259.4 314.2h1.1v1.1h-1.1zM258.1 318.4h1.1v1.1h-1.1zM254.6 322.4h1.1v1.1h-1.1zM236.8 325.4h1.1v1.1h-1.1zM266.4 309.8h1.1v1.1h-1.1zM243.3 319.7h1.1v1.1h-1.1zM243.9 333.2h1.1v1.1h-1.1zM237.3 328.9h1.1v1.1h-1.1zM255.6 319.8h1.1v1.1h-1.1zM235.1 316.8h1.1v1.1h-1.1zM284.9 275.9h1.1v1.1h-1.1zM250.6 314.9h1.1v1.1h-1.1zM293.7 304.4h1.1v1.1h-1.1zM232.4 324.4h1.1v1.1h-1.1zM236.1 327.7h1.1v1.1h-1.1zM283 306.4h1.1v1.1h-1.1zM257.6 336.3h1.1v1.1h-1.1zM265.4 322.7h1.1v1.1h-1.1zM234.5 328.3h1.1v1.1h-1.1zM270.1 306.9h1.1v1.1h-1.1zM218.8 343.5h1.1v1.1h-1.1zM257.2 319.7h1.1v1.1h-1.1zM262.2 325.9h1.1v1.1h-1.1zM257.1 312.5h1.1v1.1h-1.1zM231.8 330h1.1v1.1h-1.1zM245.1 322.4h1.1v1.1h-1.1zM259.7 296.9h1.1v1.1h-1.1zM279.1 320.3h1.1v1.1h-1.1zM252.9 304.1h1.1v1.1h-1.1zM228.5 327.6h1.1v1.1h-1.1zM253 318.6h1.1v1.1h-1.1zM245.1 314.5h1.1v1.1h-1.1zM246.8 320h1.1v1.1h-1.1zM260.1 309.7h1.1v1.1h-1.1zM229.7 321.5h1.1v1.1h-1.1zM273.1 295.4h1.1v1.1h-1.1zM247.3 320.3h1.1v1.1h-1.1zM265.9 299h1.1v1.1h-1.1zM252.7 302.2h1.1v1.1h-1.1zM260.2 322.1h1.1v1.1h-1.1zM273 304.8h1.1v1.1h-1.1zM265.2 324.7h1.1v1.1h-1.1zM270.6 317.3h1.1v1.1h-1.1zM224 327.7h1.1v1.1h-1.1zM237.1 317.5h1.1v1.1h-1.1zM265.8 287.5h1.1v1.1h-1.1zM285.4 278.5h1.1v1.1h-1.1zM245 344.2h1.1v1.1h-1.1zM234.7 347.1h1.1v1.1h-1.1zM251.6 314h1.1v1.1h-1.1zM268.6 302h1.1v1.1h-1.1zM282.8 302.5h1.1v1.1h-1.1zM285.7 299.6h1.1v1.1h-1.1zM255 320.6h1.1v1.1h-1.1zM240.3 306.5h1.1v1.1h-1.1zM229.6 336.2h1.1v1.1h-1.1zM244 317.4h1.1v1.1h-1.1zM242.9 307.6h1.1v1.1h-1.1zM271.4 307.4h1.1v1.1h-1.1zM249.2 304.1h1.1v1.1h-1.1zM253.1 308.3h1.1v1.1h-1.1zM240.1 312.5h1.1v1.1h-1.1zM241.4 335h1.1v1.1h-1.1zM260.8 323.4h1.1v1.1h-1.1zM239.6 315.2h1.1v1.1h-1.1zM253.5 331.4h1.1v1.1h-1.1zM259.4 306.9h1.1v1.1h-1.1zM278.9 312.9h1.1v1.1h-1.1zM261.5 317.7h1.1v1.1h-1.1zM235 328.4h1.1v1.1h-1.1zM253.8 329.5h1.1v1.1h-1.1zM242.5 335.9h1.1v1.1h-1.1zM235.9 356.1h1.1v1.1h-1.1zM293 285.9h1.1v1.1h-1.1zM253 318.6h1.1v1.1h-1.1zM249.2 317.1h1.1v1.1h-1.1zM269.6 307.6h1.1v1.1h-1.1zM244.2 341.8h1.1v1.1h-1.1zM209.1 357.7h1.1v1.1h-1.1zM252 309.2h1.1v1.1h-1.1zM262.1 317.3h1.1v1.1h-1.1zM256.4 320.9h1.1v1.1h-1.1zM238.3 321.5h1.1v1.1h-1.1zM238 316h1.1v1.1h-1.1zM237.3 312h1.1v1.1h-1.1zM263.1 314.7h1.1v1.1h-1.1zM248.8 316.7h1.1v1.1h-1.1zM233 336.1h1.1v1.1h-1.1zM236.6 324.8h1.1v1.1h-1.1zM256.2 329.5h1.1v1.1h-1.1zM230.4 334.4h1.1v1.1h-1.1zM238.7 318.6h1.1v1.1h-1.1zM263.8 294.9h1.1v1.1h-1.1zM282.3 299.1h1.1v1.1h-1.1zM229.2 311.1h1.1v1.1h-1.1zM251.9 307.4h1.1v1.1h-1.1zM219.3 352.9h1.1v1.1h-1.1zM246.3 279.9h1.1v1.1h-1.1zM237.6 309.3h1.1v1.1h-1.1zM239.4 337.3h1.1v1.1h-1.1zM238.6 328.2h1.1v1.1h-1.1zM261 334.1h1.1v1.1h-1.1zM224.1 333.1h1.1v1.1h-1.1zM267.8 302.1h1.1v1.1h-1.1zM244.2 324.5h1.1v1.1h-1.1zM261.8 332.5h1.1v1.1h-1.1zM243.2 335.1h1.1v1.1h-1.1zM262.8 306.4h1.1v1.1h-1.1zM281.5 304.4h1.1v1.1h-1.1zM267.2 336.3h1.1v1.1h-1.1zM240.8 315h1.1v1.1h-1.1zM247.9 339.9h1.1v1.1h-1.1zM240.6 323.9h1.1v1.1h-1.1zM255 313.7h1.1v1.1h-1.1zM242.9 326.9h1.1v1.1h-1.1zM237.7 305.1h1.1v1.1h-1.1zM249.8 333.9h1.1v1.1h-1.1zM271.8 296.7h1.1v1.1h-1.1zM228.8 362.1h1.1v1.1h-1.1zM264.5 338.5h1.1v1.1h-1.1zM249.7 336.5h1.1v1.1h-1.1zM261.2 293.5h1.1v1.1h-1.1zM289.2 319.4h1.1v1.1h-1.1zM220 332.1h1.1v1.1h-1.1zM269.9 305.4h1.1v1.1h-1.1zM256.7 330.4h1.1v1.1h-1.1zM240.4 336.1h1.1v1.1h-1.1zM256.6 304.8h1.1v1.1h-1.1zM282.4 305.1h1.1v1.1h-1.1zM255.6 309.4h1.1v1.1h-1.1zM265 275.4h1.1v1.1h-1.1zM263.4 305h1.1v1.1h-1.1zM263.2 309.9h1.1v1.1h-1.1zM247.2 320.6h1.1v1.1h-1.1zM257.3 326.7h1.1v1.1h-1.1zM258.8 313.6h1.1v1.1h-1.1zM280.4 304.5h1.1v1.1h-1.1zM252.1 313.3h1.1v1.1h-1.1zM237.4 320.4h1.1v1.1h-1.1zM250.3 312.6h1.1v1.1h-1.1zM293.2 287.5h1.1v1.1h-1.1zM271.3 328h1.1v1.1h-1.1zM248 315.6h1.1v1.1h-1.1zM274.7 306h1.1v1.1h-1.1zM239.7 329h1.1v1.1h-1.1zM258.7 295.9h1.1v1.1h-1.1zM229.9 328.1h1.1v1.1h-1.1zM254.7 329.8h1.1v1.1h-1.1zM215.9 346.1h1.1v1.1h-1.1zM230.7 328.7h1.1v1.1h-1.1zM236.9 330.8h1.1v1.1h-1.1zM240.4 342.3h1.1v1.1h-1.1zM256.6 308.2h1.1v1.1h-1.1zM209.5 330.7h1.1v1.1h-1.1zM236.5 350.4h1.1v1.1h-1.1zM277.7 311.7h1.1v1.1h-1.1zM240.3 333.4h1.1v1.1h-1.1zM268.9 281.6h1.1v1.1h-1.1zM246.8 312.5h1.1v1.1h-1.1zM249.3 319.8h1.1v1.1h-1.1zM260.4 320.2h1.1v1.1h-1.1zM238.8 317.2h1.1v1.1h-1.1zM243.4 316.9h1.1v1.1h-1.1zM270.8 294.4h1.1v1.1h-1.1zM244.3 321.9h1.1v1.1h-1.1zM253.5 328.8h1.1v1.1h-1.1zM243.1 321.5h1.1v1.1h-1.1zM274.2 291.4h1.1v1.1h-1.1zM249.8 297.2h1.1v1.1h-1.1zM271.9 301.9h1.1v1.1h-1.1zM247.8 309.2h1.1v1.1h-1.1zM258.6 308.5h1.1v1.1h-1.1zM249.6 312.5h1.1v1.1h-1.1zM257.9 312.3h1.1v1.1h-1.1zM238.8 312.4h1.1v1.1h-1.1zM246.4 312.3h1.1v1.1h-1.1zM256.3 295h1.1v1.1h-1.1zM226.1 324h1.1v1.1h-1.1zM258.3 302.5h1.1v1.1h-1.1zM225.6 338.3h1.1v1.1h-1.1zM246 322h1.1v1.1h-1.1zM232 330.6h1.1v1.1h-1.1zM247.7 332h1.1v1.1h-1.1zM223.6 349.7h1.1v1.1h-1.1zM237.1 306.2h1.1v1.1h-1.1zM271.6 309.4h1.1v1.1h-1.1zM220.8 335.5h1.1v1.1h-1.1zM302.9 302.8h1.1v1.1h-1.1zM223.5 344.6h1.1v1.1h-1.1zM252.3 311.8h1.1v1.1h-1.1zM220.6 343.9h1.1v1.1h-1.1zM256 319.8h1.1v1.1h-1.1zM260.2 322.5h1.1v1.1h-1.1zM206.8 346.1h1.1v1.1h-1.1zM266.8 302.4h1.1v1.1h-1.1zM251.9 332.1h1.1v1.1h-1.1zM245.8 321.4h1.1v1.1h-1.1zM275.1 307.7h1.1v1.1h-1.1zM245.8 325.3h1.1v1.1h-1.1zM235.5 333.3h1.1v1.1h-1.1zM255 313.3h1.1v1.1h-1.1zM255.1 318.1h1.1v1.1h-1.1zM205.7 348.3h1.1v1.1h-1.1zM233.7 330h1.1v1.1h-1.1zM237 323.7h1.1v1.1h-1.1zM235.1 338.4h1.1v1.1h-1.1zM265.6 302.3h1.1v1.1h-1.1zM249.7 297.6h1.1v1.1h-1.1zM265.9 321.2h1.1v1.1h-1.1zM260.9 308.7h1.1v1.1h-1.1zM262.5 317.7h1.1v1.1h-1.1zM248.4 316.7h1.1v1.1h-1.1zM282.3 277.7h1.1v1.1h-1.1zM218.2 330.4h1.1v1.1h-1.1zM263.7 299.9h1.1v1.1h-1.1zM251.2 314h1.1v1.1h-1.1zM244.8 303.4h1.1v1.1h-1.1zM247.7 312.5h1.1v1.1h-1.1zM224.3 329h1.1v1.1h-1.1zM261 305.7h1.1v1.1h-1.1zM251.7 284.9h1.1v1.1h-1.1zM235.4 318.6h1.1v1.1h-1.1zM256.4 315.9h1.1v1.1h-1.1zM258.5 302.4h1.1v1.1h-1.1zM258.5 297.7h1.1v1.1h-1.1zM268.8 283.1h1.1v1.1h-1.1zM259.6 326.7h1.1v1.1h-1.1zM250.4 341.4h1.1v1.1h-1.1zM247.1 332.8h1.1v1.1h-1.1zM264.9 303.6h1.1v1.1h-1.1zM284.3 277h1.1v1.1h-1.1zM270.6 321.6h1.1v1.1h-1.1zM223.9 344.4h1.1v1.1h-1.1zM267.7 312.6h1.1v1.1h-1.1zM266.8 313.3h1.1v1.1h-1.1zM273.9 302.6h1.1v1.1h-1.1zM214.3 327.6h1.1v1.1h-1.1zM248.4 320.5h1.1v1.1h-1.1zM244.4 345.5h1.1v1.1h-1.1zM231.5 336.1h1.1v1.1h-1.1zM251.6 310.8h1.1v1.1h-1.1zM251.5 318.8h1.1v1.1h-1.1zM232.7 334.9h1.1v1.1h-1.1zM238.8 337.3h1.1v1.1h-1.1zM239.8 326.5h1.1v1.1h-1.1zM252 313.3h1.1v1.1h-1.1zM263.7 319.8h1.1v1.1h-1.1zM258.7 309.7h1.1v1.1h-1.1zM244.3 350.2h1.1v1.1h-1.1zM262.4 307.7h1.1v1.1h-1.1zM250.8 341.9h1.1v1.1h-1.1zM270.9 274.3h1.1v1.1h-1.1zM249.7 314.1h1.1v1.1h-1.1zM239.2 310.3h1.1v1.1h-1.1zM258.3 320.3h1.1v1.1h-1.1zM229.3 328h1.1v1.1h-1.1zM249.8 336.8h1.1v1.1h-1.1zM254.2 312.7h1.1v1.1h-1.1zM241.5 326.5h1.1v1.1h-1.1zM242.4 310.5h1.1v1.1h-1.1zM203.6 340.3h1.1v1.1h-1.1zM248.9 307.3h1.1v1.1h-1.1zM288.2 301.1h1.1v1.1h-1.1zM289.6 293.2h1.1v1.1h-1.1zM267.6 293.5h1.1v1.1h-1.1zM240.3 308.7h1.1v1.1h-1.1zM253.8 319.9h1.1v1.1h-1.1zM241.8 310.7h1.1v1.1h-1.1zM254.1 324.8h1.1v1.1h-1.1zM259.3 296h1.1v1.1h-1.1zM237.1 304.8h1.1v1.1h-1.1zM238.9 333.7h1.1v1.1h-1.1zM252.7 336h1.1v1.1h-1.1zM251.3 318.5h1.1v1.1h-1.1zM228.1 316.7h1.1v1.1h-1.1zM244.3 362.3h1.1v1.1h-1.1zM241.4 314.2h1.1v1.1h-1.1zM238.9 302.1h1.1v1.1h-1.1zM240.4 331.3h1.1v1.1h-1.1zM241.6 337.5h1.1v1.1h-1.1zM235.8 329.3h1.1v1.1h-1.1zM274.7 302.1h1.1v1.1h-1.1zM234.7 311.6h1.1v1.1h-1.1zM258.8 310.6h1.1v1.1h-1.1zM271.3 300.1h1.1v1.1h-1.1zM237.8 327.9h1.1v1.1h-1.1zM252.9 311.9h1.1v1.1h-1.1zM232.6 320.7h1.1v1.1h-1.1zM216.9 342.6h1.1v1.1h-1.1zM221.4 317.1h1.1v1.1h-1.1zM248.6 347.2h1.1v1.1h-1.1zM243.7 289.5h1.1v1.1h-1.1zM243.7 310.2h1.1v1.1h-1.1zM271.7 303.8h1.1v1.1h-1.1zM253.9 325.5h1.1v1.1h-1.1zM237.9 341.7h1.1v1.1h-1.1zM290.8 311.3h1.1v1.1h-1.1zM247.6 321.9h1.1v1.1h-1.1zM240.1 339h1.1v1.1h-1.1zM298.2 293.6h1.1v1.1h-1.1zM230.8 328h1.1v1.1h-1.1zM246.3 338.4h1.1v1.1h-1.1zM265.5 317.6h1.1v1.1h-1.1zM275.4 304.4h1.1v1.1h-1.1zM224.1 344.4h1.1v1.1h-1.1zM252.9 307.3h1.1v1.1h-1.1zM248.4 318.3h1.1v1.1h-1.1zM251.3 303.5h1.1v1.1h-1.1zM233 315.9h1.1v1.1h-1.1zM263.9 308.7h1.1v1.1h-1.1zM234.6 356.1h1.1v1.1h-1.1zM255.7 321h1.1v1.1h-1.1zM239.5 331.6h1.1v1.1h-1.1zM222 318.7h1.1v1.1h-1.1zM241.3 342.7h1.1v1.1h-1.1zM289.5 273.4h1.1v1.1h-1.1zM234.4 341.9h1.1v1.1h-1.1zM271.8 311.5h1.1v1.1h-1.1zM265.4 284.6h1.1v1.1h-1.1zM264.2 292.5h1.1v1.1h-1.1zM247.9 314.8h1.1v1.1h-1.1zM246.5 319.3h1.1v1.1h-1.1zM219.6 297.7h1.1v1.1h-1.1zM234.4 323.6h1.1v1.1h-1.1zM263.8 302.6h1.1v1.1h-1.1zM282.3 333h1.1v1.1h-1.1zM267.2 300.3h1.1v1.1h-1.1zM274.5 291h1.1v1.1h-1.1zM229.3 312.7h1.1v1.1h-1.1zM276.6 276.7h1.1v1.1h-1.1zM249.9 318.4h1.1v1.1h-1.1zM263.5 304.9h1.1v1.1h-1.1zM252.1 315h1.1v1.1h-1.1zM229.8 318.7h1.1v1.1h-1.1zM230.7 338.4h1.1v1.1h-1.1zM248.7 304.1h1.1v1.1h-1.1zM232.9 336.3h1.1v1.1h-1.1zM236.6 308.2h1.1v1.1h-1.1zM235.4 352h1.1v1.1h-1.1zM243.3 332.9h1.1v1.1h-1.1zM233.7 340.7h1.1v1.1h-1.1zM271.6 301.5h1.1v1.1h-1.1zM254.2 311.9h1.1v1.1h-1.1zM260.7 296.8h1.1v1.1h-1.1zM244.5 326.4h1.1v1.1h-1.1zM259.1 287.4h1.1v1.1h-1.1zM243.3 314.8h1.1v1.1h-1.1zM230.7 336.1h1.1v1.1h-1.1zM256.1 307.6h1.1v1.1h-1.1zM245.5 308.9h1.1v1.1h-1.1zM228 328.4h1.1v1.1h-1.1zM237.3 318h1.1v1.1h-1.1zM250.4 319h1.1v1.1h-1.1zM260.5 298.1h1.1v1.1h-1.1zM232.8 308.5h1.1v1.1h-1.1zM244.8 332.2h1.1v1.1h-1.1zM239.2 300.4h1.1v1.1h-1.1zM241.5 336.8h1.1v1.1h-1.1zM257.5 321.2h1.1v1.1h-1.1zM231.4 341.7h1.1v1.1h-1.1zM243.8 337.7h1.1v1.1h-1.1zM265.8 318.9h1.1v1.1h-1.1zM249 328.4h1.1v1.1h-1.1zM237.4 307h1.1v1.1h-1.1zM223.6 332.6h1.1v1.1h-1.1zM212.1 344.4h1.1v1.1h-1.1zM293.3 279.7h1.1v1.1h-1.1zM270.6 282.8h1.1v1.1h-1.1zM247.6 319.1h1.1v1.1h-1.1zM233.2 323.8h1.1v1.1h-1.1zM217.1 337.1h1.1v1.1h-1.1zM258.2 311.9h1.1v1.1h-1.1zM256.1 329h1.1v1.1h-1.1zM235.5 321.7h1.1v1.1h-1.1zM272.8 301.6h1.1v1.1h-1.1zM275.9 300h1.1v1.1h-1.1zM242.8 317.2h1.1v1.1h-1.1zM229.3 329.1h1.1v1.1h-1.1zM232.9 320.7h1.1v1.1h-1.1zM216.3 317.6h1.1v1.1h-1.1zM246.4 333.4h1.1v1.1h-1.1zM242.1 344.4h1.1v1.1h-1.1zM264.2 319.2h1.1v1.1h-1.1zM247.8 313.3h1.1v1.1h-1.1zM227.2 322.9h1.1v1.1h-1.1zM257 321.3h1.1v1.1h-1.1zM240.8 329h1.1v1.1h-1.1zM272.9 321.6h1.1v1.1h-1.1zM251.6 331.5h1.1v1.1h-1.1zM234.2 310.5h1.1v1.1h-1.1zM244.6 320.6h1.1v1.1h-1.1zM269.5 291.4h1.1v1.1h-1.1zM247.8 313.3h1.1v1.1h-1.1zM224.3 346.5h1.1v1.1h-1.1zM255.6 304.2h1.1v1.1h-1.1zM227.1 335.2h1.1v1.1h-1.1zM257.7 327h1.1v1.1h-1.1zM280.5 292.1h1.1v1.1h-1.1zM242.3 327.7h1.1v1.1h-1.1zM255.7 298.9h1.1v1.1h-1.1zM237.2 307.5h1.1v1.1h-1.1zM213.9 330.5h1.1v1.1h-1.1zM265.7 307.6h1.1v1.1h-1.1zM270.1 315.9h1.1v1.1h-1.1zM252.3 319h1.1v1.1h-1.1zM259.7 315.3h1.1v1.1h-1.1zM230.9 332h1.1v1.1h-1.1zM255.9 315.1h1.1v1.1h-1.1zM265.1 315.2h1.1v1.1h-1.1zM265.6 316.7h1.1v1.1h-1.1zM242.9 308.9h1.1v1.1h-1.1zM254.6 308.8h1.1v1.1h-1.1zM228.9 308.4h1.1v1.1h-1.1zM267 286.2h1.1v1.1h-1.1zM253.7 303.7h1.1v1.1h-1.1zM251.6 320h1.1v1.1h-1.1zM256.1 319.5h1.1v1.1h-1.1zM260 303.7h1.1v1.1h-1.1zM256.1 344.5h1.1v1.1h-1.1zM220.8 362.8h1.1v1.1h-1.1zM251.5 320.9h1.1v1.1h-1.1zM253.5 311.5h1.1v1.1h-1.1zM246.2 303.7h1.1v1.1h-1.1zM256.2 337.6h1.1v1.1h-1.1zM216.8 365.8h1.1v1.1h-1.1zM208.1 345.4h1.1v1.1h-1.1zM261.4 301.8h1.1v1.1h-1.1zM246.8 318.5h1.1v1.1h-1.1zM229 316.2h1.1v1.1h-1.1zM255.4 318.7h1.1v1.1h-1.1zM241.1 311.9h1.1v1.1h-1.1zM263.5 318.5h1.1v1.1h-1.1zM216.5 332.2h1.1v1.1h-1.1zM257.3 303.6h1.1v1.1h-1.1zM275 297.7h1.1v1.1h-1.1zM232 316.5h1.1v1.1h-1.1zM247.9 296.4h1.1v1.1h-1.1zM269.8 316.6h1.1v1.1h-1.1zM254.4 329.4h1.1v1.1h-1.1zM211.5 353.2h1.1v1.1h-1.1zM252.3 343.1h1.1v1.1h-1.1zM237.8 311.9h1.1v1.1h-1.1zM241.4 308.9h1.1v1.1h-1.1zM262.2 309.2h1.1v1.1h-1.1zM242.6 319.4h1.1v1.1h-1.1zM235.8 321.3h1.1v1.1h-1.1zM235.5 348h1.1v1.1h-1.1zM254.9 294.3h1.1v1.1h-1.1zM285.2 282.4h1.1v1.1h-1.1zM274.2 308.9h1.1v1.1h-1.1zM284.9 259h1.1v1.1h-1.1zM208.7 324.2h1.1v1.1h-1.1zM252.8 286.6h1.1v1.1h-1.1zM245.1 317.2h1.1v1.1h-1.1zM240.2 342.5h1.1v1.1h-1.1zM246.6 327.3h1.1v1.1h-1.1zM243.7 314.5h1.1v1.1h-1.1zM225.9 334.7h1.1v1.1h-1.1zM264.4 318.9h1.1v1.1h-1.1zM232 337h1.1v1.1h-1.1zM249.1 319.2h1.1v1.1h-1.1zM238.7 331.7h1.1v1.1h-1.1zM245.6 323.4h1.1v1.1h-1.1zM249.8 323.1h1.1v1.1h-1.1zM249.5 333.6h1.1v1.1h-1.1zM242.2 309h1.1v1.1h-1.1zM273.6 311.3h1.1v1.1h-1.1zM284.2 307.5h1.1v1.1h-1.1zM255.9 314.1h1.1v1.1h-1.1zM226.5 333.7h1.1v1.1h-1.1zM264.9 312.5h1.1v1.1h-1.1zM244.7 302.3h1.1v1.1h-1.1zM264.4 318.4h1.1v1.1h-1.1zM256.5 307.7h1.1v1.1h-1.1zM253.6 314.6h1.1v1.1h-1.1zM236.5 316.4h1.1v1.1h-1.1zM249.4 339.5h1.1v1.1h-1.1zM239.4 314h1.1v1.1h-1.1zM235.3 314.9h1.1v1.1h-1.1zM261.3 328.4h1.1v1.1h-1.1zM249.4 308.5h1.1v1.1h-1.1zM258.1 303.7h1.1v1.1h-1.1zM280.5 284.7h1.1v1.1h-1.1zM246.7 308.2h1.1v1.1h-1.1zM231.7 339.8h1.1v1.1h-1.1zM240.6 325.8h1.1v1.1h-1.1zM261.3 317.4h1.1v1.1h-1.1zM272.6 302.2h1.1v1.1h-1.1zM233.5 323.9h1.1v1.1h-1.1zM247.8 303.7h1.1v1.1h-1.1zM278 314.4h1.1v1.1h-1.1zM239.8 341.7h1.1v1.1h-1.1zM261.7 288.5h1.1v1.1h-1.1zM286.9 275.8h1.1v1.1h-1.1zM245.5 311.2h1.1v1.1h-1.1zM248.1 334.5h1.1v1.1h-1.1zM251.6 311.4h1.1v1.1h-1.1zM229 310.3h1.1v1.1h-1.1zM253.4 316.2h1.1v1.1h-1.1zM250 305.2h1.1v1.1h-1.1zM234.4 340.6h1.1v1.1h-1.1zM252.6 316.2h1.1v1.1h-1.1zM256 339.9h1.1v1.1h-1.1zM244.8 312.4h1.1v1.1h-1.1zM241.2 315.4h1.1v1.1h-1.1zM244.7 335.7h1.1v1.1h-1.1zM258.6 324.4h1.1v1.1h-1.1zM241.7 309.6h1.1v1.1h-1.1zM266.2 307.3h1.1v1.1h-1.1zM240 338.7h1.1v1.1h-1.1zM252.4 312.2h1.1v1.1h-1.1zM228.1 332.7h1.1v1.1h-1.1zM236.1 341.2h1.1v1.1h-1.1zM261.7 310.5h1.1v1.1h-1.1zM243.6 310.4h1.1v1.1h-1.1zM248.3 338.3h1.1v1.1h-1.1zM263.1 316.4h1.1v1.1h-1.1zM223.5 314.9h1.1v1.1h-1.1zM224.8 346.5h1.1v1.1h-1.1zM273.9 308.1h1.1v1.1h-1.1zM247.4 338.9h1.1v1.1h-1.1zM251.2 325.3h1.1v1.1h-1.1zM257.8 332.5h1.1v1.1h-1.1zM227 310.1h1.1v1.1h-1.1zM265.1 326.4h1.1v1.1h-1.1zM249.1 303h1.1v1.1h-1.1zM251.1 316.9h1.1v1.1h-1.1zM238.8 338.3h1.1v1.1h-1.1zM254.5 327.1h1.1v1.1h-1.1zM257.7 321.8h1.1v1.1h-1.1zM243.6 335.9h1.1v1.1h-1.1zM254.3 310.4h1.1v1.1h-1.1zM255.7 325.5h1.1v1.1h-1.1zM223.2 352.6h1.1v1.1h-1.1zM245.4 306.9h1.1v1.1h-1.1zM266.4 308.1h1.1v1.1h-1.1zM238.4 341.2h1.1v1.1h-1.1zM245.6 336.4h1.1v1.1h-1.1zM242.5 332.9h1.1v1.1h-1.1zM255.5 303.2h1.1v1.1h-1.1zM259.8 302.1h1.1v1.1h-1.1zM267.3 296.7h1.1v1.1h-1.1zM246.2 336.1h1.1v1.1h-1.1zM268 292.3h1.1v1.1h-1.1zM251.5 300.8h1.1v1.1h-1.1zM241 321.3h1.1v1.1h-1.1zM252.8 298.3h1.1v1.1h-1.1zM237.2 320.6h1.1v1.1h-1.1zM247.7 358.4h1.1v1.1h-1.1zM243.2 303.9h1.1v1.1h-1.1zM254.4 296.1h1.1v1.1h-1.1zM231.2 358.1h1.1v1.1h-1.1zM286.4 292.2h1.1v1.1h-1.1zM259 301.2h1.1v1.1h-1.1zM252.7 317h1.1v1.1h-1.1zM252.7 302.3h1.1v1.1h-1.1zM250.6 317.7h1.1v1.1h-1.1zM249 332.9h1.1v1.1h-1.1zM237.6 325.2h1.1v1.1h-1.1zM256.8 311.1h1.1v1.1h-1.1zM250.9 323.3h1.1v1.1h-1.1zM251.8 325.5h1.1v1.1h-1.1zM256.9 333.9h1.1v1.1h-1.1zM251.2 301.7h1.1v1.1h-1.1zM245.1 335.4h1.1v1.1h-1.1zM240.6 328.3h1.1v1.1h-1.1zM247.9 318.4h1.1v1.1h-1.1zM243.3 316.3h1.1v1.1h-1.1zM274.5 291.4h1.1v1.1h-1.1zM240.6 313.7h1.1v1.1h-1.1zM232.3 314.4h1.1v1.1h-1.1zM254.4 309h1.1v1.1h-1.1zM271.7 310.6h1.1v1.1h-1.1zM268.4 321.8h1.1v1.1h-1.1zM237.7 308.7h1.1v1.1h-1.1zM254.9 316.6h1.1v1.1h-1.1zM271.9 287.2h1.1v1.1h-1.1zM277.3 300.6h1.1v1.1h-1.1zM231.8 333.9h1.1v1.1h-1.1zM288.1 308.3h1.1v1.1h-1.1zM238 300.2h1.1v1.1h-1.1zM260.1 306.9h1.1v1.1h-1.1zM263.5 327.3h1.1v1.1h-1.1zM254.5 327.7h1.1v1.1h-1.1zM239.1 330.1h1.1v1.1h-1.1zM252.5 286.6h1.1v1.1h-1.1zM256.6 308.2h1.1v1.1h-1.1zM268.3 303.3h1.1v1.1h-1.1zM240.2 310h1.1v1.1h-1.1zM291.3 269.6h1.1v1.1h-1.1zM240 317.6h1.1v1.1h-1.1zM246.6 324h1.1v1.1h-1.1zM249.8 326.2h1.1v1.1h-1.1zM213.3 345.2h1.1v1.1h-1.1zM241.5 330h1.1v1.1h-1.1zM223.9 352h1.1v1.1h-1.1zM252 330.4h1.1v1.1h-1.1zM263 304.5h1.1v1.1h-1.1zM225 336.4h1.1v1.1h-1.1zM229.4 349.4h1.1v1.1h-1.1zM223 333.8h1.1v1.1h-1.1zM245.4 327.2h1.1v1.1h-1.1zM230.6 333.6h1.1v1.1h-1.1zM284.9 292.5h1.1v1.1h-1.1zM207.1 356.1h1.1v1.1h-1.1zM246.5 333.4h1.1v1.1h-1.1zM244.6 307.9h1.1v1.1h-1.1zM220.2 304.5h1.1v1.1h-1.1zM231.8 328h1.1v1.1h-1.1zM227.7 331.6h1.1v1.1h-1.1zM258.6 305.6h1.1v1.1h-1.1zM282.8 292.7h1.1v1.1h-1.1zM237.3 328.3h1.1v1.1h-1.1zM245.2 313.9h1.1v1.1h-1.1zM241.1 304.3h1.1v1.1h-1.1zM270.9 313.4h1.1v1.1h-1.1zM238.9 320.3h1.1v1.1h-1.1zM242.4 318.6h1.1v1.1h-1.1zM266.6 324.2h1.1v1.1h-1.1zM240.9 317.9h1.1v1.1h-1.1zM222.6 356.1h1.1v1.1h-1.1zM241.3 326.6h1.1v1.1h-1.1zM263.1 327.9h1.1v1.1h-1.1zM234.7 344.1h1.1v1.1h-1.1zM256.8 327.3h1.1v1.1h-1.1zM251.8 318.7h1.1v1.1h-1.1zM255.2 303.3h1.1v1.1h-1.1zM254.8 344.2h1.1v1.1h-1.1zM265.9 314h1.1v1.1h-1.1zM251 289.4h1.1v1.1h-1.1zM252.9 319.8h1.1v1.1h-1.1zM273.2 310.9h1.1v1.1h-1.1zM233.3 329.8h1.1v1.1h-1.1zM242.7 315.5h1.1v1.1h-1.1zM232.5 325.4h1.1v1.1h-1.1zM276.9 311.1h1.1v1.1h-1.1zM272.8 319.2h1.1v1.1h-1.1zM240.9 329.2h1.1v1.1h-1.1zM274 311.9h1.1v1.1h-1.1zM274.1 315.4h1.1v1.1h-1.1zM253.7 308.9h1.1v1.1h-1.1zM255.2 321.1h1.1v1.1h-1.1zM219.7 337.6h1.1v1.1h-1.1zM228.8 313.1h1.1v1.1h-1.1zM263.4 311.5h1.1v1.1h-1.1zM229 349.6h1.1v1.1h-1.1zM250.2 327.3h1.1v1.1h-1.1zM270.8 300.8h1.1v1.1h-1.1zM238 326.3h1.1v1.1h-1.1zM258.3 329.5h1.1v1.1h-1.1zM256.6 301.6h1.1v1.1h-1.1zM270.8 311.6h1.1v1.1h-1.1zM251 323.3h1.1v1.1h-1.1zM253.5 325h1.1v1.1h-1.1zM244.2 327.4h1.1v1.1h-1.1zM221.1 330.1h1.1v1.1h-1.1zM265.6 295.7h1.1v1.1h-1.1zM242.9 327.9h1.1v1.1h-1.1zM245.5 294.4h1.1v1.1h-1.1zM209.6 351.9h1.1v1.1h-1.1zM235.8 338.8h1.1v1.1h-1.1zM277.2 296.1h1.1v1.1h-1.1zM240.6 323.8h1.1v1.1h-1.1zM273.4 329.9h1.1v1.1h-1.1zM259.9 311.5h1.1v1.1h-1.1zM224.2 330.5h1.1v1.1h-1.1zM211.5 335.3h1.1v1.1h-1.1zM253.5 318.8h1.1v1.1h-1.1zM234 330h1.1v1.1h-1.1zM241.3 334.4h1.1v1.1h-1.1zM234.3 316.1h1.1v1.1h-1.1zM257.1 340.8h1.1v1.1h-1.1zM238.6 316.5h1.1v1.1h-1.1zM252.5 311.4h1.1v1.1h-1.1zM259.9 322.9h1.1v1.1h-1.1zM251.8 306.1h1.1v1.1h-1.1zM256 310.8h1.1v1.1h-1.1zM253.3 312.3h1.1v1.1h-1.1zM239.8 354.9h1.1v1.1h-1.1zM257.5 304.8h1.1v1.1h-1.1zM239.8 297.3h1.1v1.1h-1.1zM260.2 321.7h1.1v1.1h-1.1zM242.1 328h1.1v1.1h-1.1zM262 335.8h1.1v1.1h-1.1zM248.5 302.6h1.1v1.1h-1.1zM250.1 318.6h1.1v1.1h-1.1zM280.9 306.5h1.1v1.1h-1.1zM285.4 276.1h1.1v1.1h-1.1zM258.6 341.5h1.1v1.1h-1.1zM238 333.9h1.1v1.1h-1.1zM253.6 323.6h1.1v1.1h-1.1zM234.8 327h1.1v1.1h-1.1zM249.5 319.2h1.1v1.1h-1.1zM270.9 299.6h1.1v1.1h-1.1zM271.8 300.9h1.1v1.1h-1.1zM276.9 288.6h1.1v1.1h-1.1zM281.6 273.5h1.1v1.1h-1.1zM233.4 338.7h1.1v1.1h-1.1zM266.1 303.3h1.1v1.1h-1.1zM227.3 337h1.1v1.1h-1.1zM246.1 338.5h1.1v1.1h-1.1zM236.8 318.3h1.1v1.1h-1.1zM240.6 314.3h1.1v1.1h-1.1zM253.9 320.6h1.1v1.1h-1.1zM239.3 325.2h1.1v1.1h-1.1zM252.9 326.6h1.1v1.1h-1.1zM243.5 334.3h1.1v1.1h-1.1zM268.1 298.5h1.1v1.1h-1.1zM232.4 330.2h1.1v1.1h-1.1zM229.7 334.5h1.1v1.1h-1.1zM231.4 341.1h1.1v1.1h-1.1zM229.2 347.7h1.1v1.1h-1.1zM243.1 311.3h1.1v1.1h-1.1zM257.8 310.2h1.1v1.1h-1.1zM265.4 335.2h1.1v1.1h-1.1zM232 343.2h1.1v1.1h-1.1zM249.8 323.4h1.1v1.1h-1.1zM256.7 330.6h1.1v1.1h-1.1zM253.9 310.5h1.1v1.1h-1.1zM263.8 323.7h1.1v1.1h-1.1zM253 329h1.1v1.1h-1.1zM222.7 329.3h1.1v1.1h-1.1zM246.3 337.8h1.1v1.1h-1.1zM218.1 355.6h1.1v1.1h-1.1zM188.4 346.4h1.1v1.1h-1.1zM251.1 332h1.1v1.1h-1.1zM277.2 288.7h1.1v1.1h-1.1zM263.6 318.1h1.1v1.1h-1.1zM257.1 327h1.1v1.1h-1.1zM227.3 321.1h1.1v1.1h-1.1zM269.5 303.5h1.1v1.1h-1.1zM226.5 330h1.1v1.1h-1.1zM255.8 313.9h1.1v1.1h-1.1zM238.1 314.8h1.1v1.1h-1.1zM224.2 323.6h1.1v1.1h-1.1zM246.5 324.9h1.1v1.1h-1.1zM256.3 333.3h1.1v1.1h-1.1zM245.3 308.7h1.1v1.1h-1.1zM261.5 308.7h1.1v1.1h-1.1zM236.6 328.4h1.1v1.1h-1.1zM259.9 287.2h1.1v1.1h-1.1zM245.2 318.5h1.1v1.1h-1.1zM250.4 334.4h1.1v1.1h-1.1zM285 296.7h1.1v1.1h-1.1zM220.5 350.7h1.1v1.1h-1.1zM246.4 289.7h1.1v1.1h-1.1zM241.2 337.1h1.1v1.1h-1.1zM249.2 330.2h1.1v1.1h-1.1zM284.6 284.7h1.1v1.1h-1.1zM227.1 340.7h1.1v1.1h-1.1zM260.4 300.4h1.1v1.1h-1.1zM269.2 288.2h1.1v1.1h-1.1zM253.1 327.8h1.1v1.1h-1.1zM254.1 323.2h1.1v1.1h-1.1zM286.8 302.3h1.1v1.1h-1.1zM279.6 290h1.1v1.1h-1.1zM241.2 325.3h1.1v1.1h-1.1zM255.6 322.8h1.1v1.1h-1.1zM234.8 319.3h1.1v1.1h-1.1zM228.6 330.7h1.1v1.1h-1.1zM248.5 324.1h1.1v1.1h-1.1zM229.3 346.6h1.1v1.1h-1.1zM291.2 287.7h1.1v1.1h-1.1zM226.8 346.6h1.1v1.1h-1.1zM242.5 321.9h1.1v1.1h-1.1zM242.2 312.9h1.1v1.1h-1.1zM244.6 330.6h1.1v1.1h-1.1zM249.4 300.4h1.1v1.1h-1.1zM252.7 336.9h1.1v1.1h-1.1zM272.7 319.4h1.1v1.1h-1.1zM227.7 329.2h1.1v1.1h-1.1zM233.7 332.8h1.1v1.1h-1.1zM244 331h1.1v1.1h-1.1zM280.2 296.5h1.1v1.1h-1.1zM238.5 334.7h1.1v1.1h-1.1zM257.1 304.8h1.1v1.1h-1.1zM237.4 306.7h1.1v1.1h-1.1zM230.7 320.5h1.1v1.1h-1.1zM260.3 328.9h1.1v1.1h-1.1zM234.4 331.3h1.1v1.1h-1.1zM258.3 300.1h1.1v1.1h-1.1zM248.3 302.1h1.1v1.1h-1.1zM241.7 334.1h1.1v1.1h-1.1zM257.2 320.4h1.1v1.1h-1.1zM239.4 316.9h1.1v1.1h-1.1zM266.7 310.7h1.1v1.1h-1.1zM273.4 292.4h1.1v1.1h-1.1zM236.1 334.5h1.1v1.1h-1.1zM255.3 320.8h1.1v1.1h-1.1zM229 340.9h1.1v1.1h-1.1zM269.2 309.7h1.1v1.1h-1.1zM245 339.4h1.1v1.1h-1.1zM246.6 307.6h1.1v1.1h-1.1zM264.6 322.9h1.1v1.1h-1.1zM249.6 311.4h1.1v1.1h-1.1zM283 282.7h1.1v1.1h-1.1zM243 337.2h1.1v1.1h-1.1zM237.9 318.5h1.1v1.1h-1.1zM241.3 323.5h1.1v1.1h-1.1zM237.8 331.4h1.1v1.1h-1.1zM236.2 314.9h1.1v1.1h-1.1zM226.1 340.4h1.1v1.1h-1.1zM165.3 371.1h1.1v1.1h-1.1zM167.4 366.2h1.1v1.1h-1.1zM170.9 354h1.1v1.1h-1.1zM191.7 363.8h1.1v1.1h-1.1zM177.8 361h1.1v1.1h-1.1zM182.7 373.6h1.1v1.1h-1.1zM178.3 377.6h1.1v1.1h-1.1zM175.6 366.3h1.1v1.1h-1.1zM192.3 350h1.1v1.1h-1.1zM186.4 351.7h1.1v1.1h-1.1zM182.6 349.5h1.1v1.1h-1.1zM177.4 359.8h1.1v1.1h-1.1zM184.2 363.8h1.1v1.1h-1.1zM191.2 351.7h1.1v1.1h-1.1zM182.7 353.3h1.1v1.1h-1.1zM205 351.9h1.1v1.1h-1.1zM201.2 350.7h1.1v1.1h-1.1zM208 340.4h1.1v1.1h-1.1zM184.2 378.4h1.1v1.1h-1.1zM204 367.6h1.1v1.1h-1.1zM196.4 351.1h1.1v1.1h-1.1zM185.7 352.9h1.1v1.1h-1.1zM184.8 349.5h1.1v1.1h-1.1zM175.6 361.6h1.1v1.1h-1.1zM168 360.8h1.1v1.1h-1.1zM181.2 352.6h1.1v1.1h-1.1zM169.2 361.2h1.1v1.1h-1.1zM179.7 354.1h1.1v1.1h-1.1zM181.5 347.4h1.1v1.1h-1.1zM184.5 355.5h1.1v1.1h-1.1zM166.4 345.7h1.1v1.1h-1.1zM214.7 358h1.1v1.1h-1.1zM203.8 362.8h1.1v1.1h-1.1zM208.2 332.9h1.1v1.1h-1.1zM197 347.4h1.1v1.1h-1.1zM208 349.5h1.1v1.1h-1.1z" fill="#8c8c8c"/><path d="M260.2 318.7h1.1v1.1h-1.1zM252.4 315.6h1.1v1.1h-1.1zM267.3 308.1h1.1v1.1h-1.1zM272.5 307.4h1.1v1.1h-1.1zM257.8 315.2h1.1v1.1h-1.1zM278.8 308.3h1.1v1.1h-1.1zM243.7 308.5h1.1v1.1h-1.1zM261.5 313.8h1.1v1.1h-1.1zM252.3 316h1.1v1.1h-1.1zM261.5 305.5h1.1v1.1h-1.1zM248.2 318.8h1.1v1.1h-1.1zM226.8 327.9h1.1v1.1h-1.1zM244 319h1.1v1.1h-1.1zM247.6 303.8h1.1v1.1h-1.1zM237.9 356.8h1.1v1.1h-1.1zM237.2 325h1.1v1.1h-1.1zM215.6 339.3h1.1v1.1h-1.1zM243.7 334.6h1.1v1.1h-1.1zM198.6 347h1.1v1.1h-1.1zM234.7 326.3h1.1v1.1h-1.1zM270 301.4h1.1v1.1h-1.1zM250.9 303.4h1.1v1.1h-1.1zM236.8 322.1h1.1v1.1h-1.1zM237.8 327.4h1.1v1.1h-1.1zM243.8 307.8h1.1v1.1h-1.1zM246.5 329.5h1.1v1.1h-1.1zM283.4 291h1.1v1.1h-1.1zM238.1 317.9h1.1v1.1h-1.1zM231 343.2h1.1v1.1h-1.1zM263.7 316.2h1.1v1.1h-1.1zM245.6 302h1.1v1.1h-1.1zM274.5 299h1.1v1.1h-1.1zM210.4 341.2h1.1v1.1h-1.1zM232.5 337.5h1.1v1.1h-1.1zM231.3 334.5h1.1v1.1h-1.1zM254.3 315.8h1.1v1.1h-1.1zM232.5 321.1h1.1v1.1h-1.1zM253.2 299.1h1.1v1.1h-1.1zM272.1 315.8h1.1v1.1h-1.1zM222.4 324.1h1.1v1.1h-1.1zM269.3 308h1.1v1.1h-1.1zM280.7 310.9h1.1v1.1h-1.1zM248.6 317.7h1.1v1.1h-1.1zM253.1 310.5h1.1v1.1h-1.1zM239 324.3h1.1v1.1h-1.1zM243.1 316.3h1.1v1.1h-1.1zM269.1 298.5h1.1v1.1h-1.1zM247.9 337.8h1.1v1.1h-1.1zM238.2 314.3h1.1v1.1h-1.1zM254.3 328h1.1v1.1h-1.1zM242.7 315.2h1.1v1.1h-1.1zM234.4 314.3h1.1v1.1h-1.1zM227.5 341.2h1.1v1.1h-1.1zM243.8 317h1.1v1.1h-1.1zM250.8 342.1h1.1v1.1h-1.1zM240.5 338.4h1.1v1.1h-1.1zM278.5 314h1.1v1.1h-1.1zM256.1 336.5h1.1v1.1h-1.1zM229.7 321.8h1.1v1.1h-1.1zM243.9 312.9h1.1v1.1h-1.1zM252.8 300.6h1.1v1.1h-1.1zM237.5 318.7h1.1v1.1h-1.1zM242.2 324.7h1.1v1.1h-1.1zM209.5 355.4h1.1v1.1h-1.1zM283.7 295.2h1.1v1.1h-1.1zM251.7 312.3h1.1v1.1h-1.1zM241.6 335h1.1v1.1h-1.1zM229.5 326.6h1.1v1.1h-1.1zM262.4 285h1.1v1.1h-1.1zM244.2 318.9h1.1v1.1h-1.1zM287.3 296.7h1.1v1.1h-1.1zM244.4 319.6h1.1v1.1h-1.1zM277 287.8h1.1v1.1h-1.1zM243.9 291.6h1.1v1.1h-1.1zM252.1 293.9h1.1v1.1h-1.1zM226.2 325.5h1.1v1.1h-1.1zM261.9 318.1h1.1v1.1h-1.1zM247.5 344.4h1.1v1.1h-1.1zM255.5 312.7h1.1v1.1h-1.1zM254.8 329.9h1.1v1.1h-1.1zM248.2 305.8h1.1v1.1h-1.1zM275.1 300.1h1.1v1.1h-1.1zM261.8 315.4h1.1v1.1h-1.1zM238.8 338h1.1v1.1h-1.1zM258.9 342.9h1.1v1.1h-1.1zM237.4 318.1h1.1v1.1h-1.1zM239.6 332.6h1.1v1.1h-1.1zM236.1 328.7h1.1v1.1h-1.1zM235.8 318.9h1.1v1.1h-1.1zM241.1 315.4h1.1v1.1h-1.1zM232.6 338.9h1.1v1.1h-1.1zM235.7 311.9h1.1v1.1h-1.1zM237 319.5h1.1v1.1h-1.1zM257.1 305.9h1.1v1.1h-1.1zM273.1 312.7h1.1v1.1h-1.1zM249.4 299.5h1.1v1.1h-1.1zM234.2 340.8h1.1v1.1h-1.1zM234.3 320.4h1.1v1.1h-1.1zM262.5 302h1.1v1.1h-1.1zM241.4 299h1.1v1.1h-1.1zM265.6 280.1h1.1v1.1h-1.1zM258.9 296.2h1.1v1.1h-1.1zM243.7 327.4h1.1v1.1h-1.1zM214.4 338.6h1.1v1.1h-1.1zM252.8 332.6h1.1v1.1h-1.1zM251.6 339.6h1.1v1.1h-1.1zM237.4 314.3h1.1v1.1h-1.1zM268.9 310.5h1.1v1.1h-1.1zM262.4 301.4h1.1v1.1h-1.1zM247 329.9h1.1v1.1h-1.1zM251.4 313.6h1.1v1.1h-1.1zM261.1 304.2h1.1v1.1h-1.1zM242.7 306.4h1.1v1.1h-1.1zM262.3 336.3h1.1v1.1h-1.1zM224.9 317.8h1.1v1.1h-1.1zM248.6 305.1h1.1v1.1h-1.1zM231.7 321h1.1v1.1h-1.1zM236.6 340.3h1.1v1.1h-1.1zM207.5 346.7h1.1v1.1h-1.1zM235.5 334.8h1.1v1.1h-1.1zM222.2 314.5h1.1v1.1h-1.1zM248 324.8h1.1v1.1h-1.1zM264.2 286h1.1v1.1h-1.1zM271.2 319h1.1v1.1h-1.1zM247.1 334.8h1.1v1.1h-1.1zM252.6 341.6h1.1v1.1h-1.1zM233.4 319.9h1.1v1.1h-1.1zM292.4 281.1h1.1v1.1h-1.1zM261.9 310.6h1.1v1.1h-1.1zM245.1 322.1h1.1v1.1h-1.1zM255.5 329.1h1.1v1.1h-1.1zM260.2 300.1h1.1v1.1h-1.1zM261.4 325.7h1.1v1.1h-1.1zM270.2 310h1.1v1.1h-1.1zM243.5 319.3h1.1v1.1h-1.1zM239.8 308.6h1.1v1.1h-1.1zM263.5 295.3h1.1v1.1h-1.1zM258.2 318.4h1.1v1.1h-1.1zM229.7 313.1h1.1v1.1h-1.1zM268.2 306.5h1.1v1.1h-1.1zM258.1 297.9h1.1v1.1h-1.1zM237.4 306.5h1.1v1.1h-1.1zM255.5 331.6h1.1v1.1h-1.1zM224.6 337.8h1.1v1.1h-1.1zM276.4 316.1h1.1v1.1h-1.1zM262.4 316.5h1.1v1.1h-1.1zM261.2 275.3h1.1v1.1h-1.1zM246.7 313h1.1v1.1h-1.1zM265.3 312.8h1.1v1.1h-1.1zM272.5 282.7h1.1v1.1h-1.1zM228.6 331.3h1.1v1.1h-1.1zM235.3 323.8h1.1v1.1h-1.1zM243.5 306.3h1.1v1.1h-1.1zM250.6 312.2h1.1v1.1h-1.1zM254.3 300.6h1.1v1.1h-1.1zM230 324h1.1v1.1h-1.1zM240.9 314.6h1.1v1.1h-1.1zM247.3 315.2h1.1v1.1h-1.1zM237.2 329.2h1.1v1.1h-1.1zM257.9 320.2h1.1v1.1h-1.1zM258.1 302.5h1.1v1.1h-1.1zM261.6 292h1.1v1.1h-1.1zM288.2 284.1h1.1v1.1h-1.1zM242.2 320.4h1.1v1.1h-1.1zM256.4 304.3h1.1v1.1h-1.1zM252.8 311.9h1.1v1.1h-1.1zM248 300.1h1.1v1.1h-1.1zM268 296.6h1.1v1.1h-1.1zM255.5 295.5h1.1v1.1h-1.1zM235.2 316.6h1.1v1.1h-1.1zM259.9 307.1h1.1v1.1h-1.1zM280.7 294.4h1.1v1.1h-1.1zM246.5 295h1.1v1.1h-1.1zM264.1 336.5h1.1v1.1h-1.1zM266.6 297.3h1.1v1.1h-1.1zM243.7 317.8h1.1v1.1h-1.1zM241.4 318h1.1v1.1h-1.1zM243.2 323.4h1.1v1.1h-1.1zM253.7 293.7h1.1v1.1h-1.1zM223.4 332.6h1.1v1.1h-1.1zM248.5 325.4h1.1v1.1h-1.1zM258.8 325.3h1.1v1.1h-1.1zM254.2 309.5h1.1v1.1h-1.1zM250.4 330.9h1.1v1.1h-1.1zM238.8 312.5h1.1v1.1h-1.1zM251.9 311h1.1v1.1h-1.1zM244 303.5h1.1v1.1h-1.1zM227 335.1h1.1v1.1h-1.1zM252.7 324.1h1.1v1.1h-1.1zM239.1 350.9h1.1v1.1h-1.1zM242.5 317.8h1.1v1.1h-1.1zM264.6 313h1.1v1.1h-1.1zM248 295h1.1v1.1h-1.1zM272.5 313.1h1.1v1.1h-1.1zM240.2 318.4h1.1v1.1h-1.1zM233 316.1h1.1v1.1h-1.1zM286.4 294.7h1.1v1.1h-1.1zM245.5 306h1.1v1.1h-1.1zM242.3 308.3h1.1v1.1h-1.1zM251 318.4h1.1v1.1h-1.1zM243.3 315h1.1v1.1h-1.1zM228.3 337.3h1.1v1.1h-1.1zM224.9 340.2h1.1v1.1h-1.1zM258.7 298.8h1.1v1.1h-1.1zM245.1 302.4h1.1v1.1h-1.1zM262.7 313.4h1.1v1.1h-1.1zM250 329.8h1.1v1.1h-1.1zM276 293.4h1.1v1.1h-1.1zM249 307.6h1.1v1.1h-1.1zM227.2 344.2h1.1v1.1h-1.1zM265 317.9h1.1v1.1h-1.1zM273.1 311.1h1.1v1.1h-1.1zM242.4 330.5h1.1v1.1h-1.1zM282.3 291.8h1.1v1.1h-1.1zM236.9 302.2h1.1v1.1h-1.1zM251.7 326.7h1.1v1.1h-1.1zM258.5 309.2h1.1v1.1h-1.1zM259.7 318.2h1.1v1.1h-1.1zM261.2 311.9h1.1v1.1h-1.1zM280.2 317.1h1.1v1.1h-1.1zM265.2 314.2h1.1v1.1h-1.1zM246.6 304.6h1.1v1.1h-1.1zM248.5 307.6h1.1v1.1h-1.1zM252.6 324.9h1.1v1.1h-1.1zM273.6 314.2h1.1v1.1h-1.1zM269.4 303.7h1.1v1.1h-1.1zM260.4 331.6h1.1v1.1h-1.1zM235.1 311.6h1.1v1.1h-1.1zM253.5 318.6h1.1v1.1h-1.1zM281.4 290.2h1.1v1.1h-1.1zM266.4 293.8h1.1v1.1h-1.1zM221.4 342.3h1.1v1.1h-1.1zM258.3 321.9h1.1v1.1h-1.1zM235.2 303.3h1.1v1.1h-1.1zM269.5 311.5h1.1v1.1h-1.1zM245.3 327.8h1.1v1.1h-1.1zM269.1 295.6h1.1v1.1h-1.1zM236.4 320.4h1.1v1.1h-1.1zM230.1 352.7h1.1v1.1h-1.1zM226.2 320.6h1.1v1.1h-1.1zM226.6 330.9h1.1v1.1h-1.1zM255.4 318.5h1.1v1.1h-1.1zM232.3 313.4h1.1v1.1h-1.1zM239.3 318.9h1.1v1.1h-1.1zM216.1 326.5h1.1v1.1h-1.1zM279.8 302.8h1.1v1.1h-1.1zM273.3 297.9h1.1v1.1h-1.1zM243.3 323.1h1.1v1.1h-1.1zM234.1 342.7h1.1v1.1h-1.1zM284.9 304.8h1.1v1.1h-1.1zM261.3 302.8h1.1v1.1h-1.1zM224.5 310.8h1.1v1.1h-1.1zM233.3 342.4h1.1v1.1h-1.1zM259 310.7h1.1v1.1h-1.1zM249.7 312h1.1v1.1h-1.1zM248.1 313.2h1.1v1.1h-1.1zM273.4 293.1h1.1v1.1h-1.1zM241.1 338.5h1.1v1.1h-1.1zM268 308.9h1.1v1.1h-1.1zM222.7 342.6h1.1v1.1h-1.1zM238.7 343.2h1.1v1.1h-1.1zM252.9 311.1h1.1v1.1h-1.1zM271.1 306.6h1.1v1.1h-1.1zM267 318.2h1.1v1.1h-1.1zM238 336.7h1.1v1.1h-1.1zM252.3 324.2h1.1v1.1h-1.1zM238.5 314.2h1.1v1.1h-1.1zM274.7 300.2h1.1v1.1h-1.1zM200.8 353.6h1.1v1.1h-1.1zM228.1 335.5h1.1v1.1h-1.1zM265.4 294.7h1.1v1.1h-1.1zM235 315.7h1.1v1.1h-1.1zM261 311h1.1v1.1h-1.1zM264.8 302.6h1.1v1.1h-1.1zM256.3 321.7h1.1v1.1h-1.1zM276.3 295.3h1.1v1.1h-1.1zM229.9 328.9h1.1v1.1h-1.1zM245 336h1.1v1.1h-1.1zM242.4 362.7h1.1v1.1h-1.1zM249.4 296h1.1v1.1h-1.1zM281.4 280h1.1v1.1h-1.1zM278.3 305.7h1.1v1.1h-1.1zM259 333.6h1.1v1.1h-1.1zM275.4 306.6h1.1v1.1h-1.1zM239.3 329h1.1v1.1h-1.1zM262.2 313.7h1.1v1.1h-1.1zM263.1 314h1.1v1.1h-1.1zM289.9 293.4h1.1v1.1h-1.1zM242.8 309.3h1.1v1.1h-1.1zM288.6 272.9h1.1v1.1h-1.1zM267.1 320h1.1v1.1h-1.1zM244.7 306.4h1.1v1.1h-1.1zM254.1 296.9h1.1v1.1h-1.1zM268.2 296.5h1.1v1.1h-1.1zM267.9 295.4h1.1v1.1h-1.1zM270.8 311h1.1v1.1h-1.1zM236.6 336.3h1.1v1.1h-1.1zM242 297.5h1.1v1.1h-1.1zM284.2 309.4h1.1v1.1h-1.1zM232.8 350.3h1.1v1.1h-1.1zM248.6 319.2h1.1v1.1h-1.1zM294.1 284.8h1.1v1.1h-1.1zM213.3 327h1.1v1.1h-1.1zM280.7 306.3h1.1v1.1h-1.1zM220.4 342h1.1v1.1h-1.1zM222.2 334.9h1.1v1.1h-1.1zM245.8 337.6h1.1v1.1h-1.1zM242 312.1h1.1v1.1h-1.1zM222.1 317.1h1.1v1.1h-1.1zM242.7 337h1.1v1.1h-1.1zM220.7 347.9h1.1v1.1h-1.1zM223.7 342.1h1.1v1.1h-1.1zM262.8 307.9h1.1v1.1h-1.1zM256 329.9h1.1v1.1h-1.1zM235 316.7h1.1v1.1h-1.1zM240.5 307.8h1.1v1.1h-1.1zM261.4 302.5h1.1v1.1h-1.1zM234.1 337.3h1.1v1.1h-1.1zM245.4 329.3h1.1v1.1h-1.1zM259.6 304.4h1.1v1.1h-1.1zM252.9 332.6h1.1v1.1h-1.1zM258 309.7h1.1v1.1h-1.1zM254 315.6h1.1v1.1h-1.1zM264.4 312.2h1.1v1.1h-1.1zM266.8 313.2h1.1v1.1h-1.1zM259.3 315.6h1.1v1.1h-1.1zM235.5 307.2h1.1v1.1h-1.1zM249.9 319h1.1v1.1h-1.1zM246.9 342.8h1.1v1.1h-1.1zM237.6 336h1.1v1.1h-1.1zM250.5 337.9h1.1v1.1h-1.1zM254.5 302.9h1.1v1.1h-1.1zM230.2 348h1.1v1.1h-1.1zM233 331.1h1.1v1.1h-1.1zM270 300.1h1.1v1.1h-1.1zM241.3 344.6h1.1v1.1h-1.1zM243.2 324.8h1.1v1.1h-1.1zM253.3 294.8h1.1v1.1h-1.1zM246 342.1h1.1v1.1h-1.1zM240.1 341.6h1.1v1.1h-1.1zM271.6 289.2h1.1v1.1h-1.1zM275.6 293.8h1.1v1.1h-1.1zM233.6 310.9h1.1v1.1h-1.1zM243.7 335.8h1.1v1.1h-1.1zM211.5 364h1.1v1.1h-1.1zM205.9 332.3h1.1v1.1h-1.1zM243.4 312.6h1.1v1.1h-1.1zM246 306.1h1.1v1.1h-1.1zM198.4 330.1h1.1v1.1h-1.1zM221.4 324.2h1.1v1.1h-1.1zM258 302h1.1v1.1h-1.1zM265.4 302.5h1.1v1.1h-1.1zM244.5 334h1.1v1.1h-1.1zM230.4 350.2h1.1v1.1h-1.1zM302.7 284.3h1.1v1.1h-1.1zM246.8 304.1h1.1v1.1h-1.1zM237 321.1h1.1v1.1h-1.1zM256 296.7h1.1v1.1h-1.1zM251.1 318.1h1.1v1.1h-1.1zM242.6 312h1.1v1.1h-1.1zM248.3 322h1.1v1.1h-1.1zM254 299.8h1.1v1.1h-1.1zM233.1 324.4h1.1v1.1h-1.1zM280.7 308.8h1.1v1.1h-1.1zM250.3 327.4h1.1v1.1h-1.1zM257.6 307.8h1.1v1.1h-1.1zM252.6 328.4h1.1v1.1h-1.1zM242.2 318.5h1.1v1.1h-1.1zM245 315.4h1.1v1.1h-1.1zM289.9 293.3h1.1v1.1h-1.1zM246.6 323.6h1.1v1.1h-1.1zM266.1 309.7h1.1v1.1h-1.1zM265 283.2h1.1v1.1h-1.1zM240.8 307.2h1.1v1.1h-1.1zM233.2 349.2h1.1v1.1h-1.1zM251.4 329.9h1.1v1.1h-1.1zM243.7 329.3h1.1v1.1h-1.1zM254.3 331.6h1.1v1.1h-1.1zM240 328h1.1v1.1h-1.1zM251 328.5h1.1v1.1h-1.1zM266.9 284.9h1.1v1.1h-1.1zM247.6 307.1h1.1v1.1h-1.1zM215.8 358.1h1.1v1.1h-1.1zM267.2 309.4h1.1v1.1h-1.1zM276.7 299.8h1.1v1.1h-1.1zM220.1 343.7h1.1v1.1h-1.1zM254.2 324.5h1.1v1.1h-1.1zM235 332.5h1.1v1.1h-1.1zM272.1 305.5h1.1v1.1h-1.1zM275.9 306h1.1v1.1h-1.1zM221.4 365.1h1.1v1.1h-1.1zM225.6 348.5h1.1v1.1h-1.1zM229.6 312.7h1.1v1.1h-1.1zM227 334.5h1.1v1.1h-1.1zM247.8 320.5h1.1v1.1h-1.1zM237 328.3h1.1v1.1h-1.1zM273.1 315.6h1.1v1.1h-1.1zM255.9 304h1.1v1.1h-1.1zM295.2 291.3h1.1v1.1h-1.1zM275.1 304.6h1.1v1.1h-1.1zM235.4 338h1.1v1.1h-1.1zM238.6 358.2h1.1v1.1h-1.1zM237 316.5h1.1v1.1h-1.1zM266.1 311h1.1v1.1h-1.1zM230.4 315.7h1.1v1.1h-1.1zM271.9 304.6h1.1v1.1h-1.1zM282.7 303.9h1.1v1.1h-1.1zM215.8 372.7h1.1v1.1h-1.1zM220 328h1.1v1.1h-1.1zM289.1 304.9h1.1v1.1h-1.1zM243.8 318.5h1.1v1.1h-1.1zM252 346.3h1.1v1.1h-1.1zM276.8 283.6h1.1v1.1h-1.1zM233.9 338.5h1.1v1.1h-1.1zM243.2 320.9h1.1v1.1h-1.1zM252.8 313h1.1v1.1h-1.1zM269.7 321.3h1.1v1.1h-1.1zM242.5 317.4h1.1v1.1h-1.1zM248.4 304.8h1.1v1.1h-1.1zM242.5 327.1h1.1v1.1h-1.1zM243.2 325.3h1.1v1.1h-1.1zM255.8 310.1h1.1v1.1h-1.1zM227.1 324.9h1.1v1.1h-1.1zM266.2 321.1h1.1v1.1h-1.1zM253.4 298.6h1.1v1.1h-1.1zM256.7 324.1h1.1v1.1h-1.1zM252.3 312.7h1.1v1.1h-1.1zM282.4 304.1h1.1v1.1h-1.1zM282.6 300.1h1.1v1.1h-1.1zM246.1 312.6h1.1v1.1h-1.1zM263.2 265.9h1.1v1.1h-1.1zM244.8 321.2h1.1v1.1h-1.1zM266.3 302.5h1.1v1.1h-1.1zM240.3 343.5h1.1v1.1h-1.1zM244.7 338.3h1.1v1.1h-1.1zM217.3 343.7h1.1v1.1h-1.1zM273.1 306.9h1.1v1.1h-1.1zM275.3 313.4h1.1v1.1h-1.1zM232.3 301.1h1.1v1.1h-1.1zM268 296.3h1.1v1.1h-1.1zM249 305.6h1.1v1.1h-1.1zM256.2 306.5h1.1v1.1h-1.1zM244.6 317.8h1.1v1.1h-1.1zM249.6 320.8h1.1v1.1h-1.1zM271.2 312.1h1.1v1.1h-1.1zM223.6 366.8h1.1v1.1h-1.1zM262.2 293.8h1.1v1.1h-1.1zM232.4 326.7h1.1v1.1h-1.1zM242.6 334.3h1.1v1.1h-1.1zM239.1 313.7h1.1v1.1h-1.1zM258.2 307.1h1.1v1.1h-1.1zM251.5 318.8h1.1v1.1h-1.1zM240.3 335.1h1.1v1.1h-1.1zM237.3 325.6h1.1v1.1h-1.1zM246.5 327.8h1.1v1.1h-1.1zM254.3 310.6h1.1v1.1h-1.1zM256.5 303.9h1.1v1.1h-1.1zM259.3 296.5h1.1v1.1h-1.1zM211.4 341.5h1.1v1.1h-1.1zM246.2 324.1h1.1v1.1h-1.1zM249.6 308.6h1.1v1.1h-1.1zM238.5 313.2h1.1v1.1h-1.1zM246.8 322.1h1.1v1.1h-1.1zM221.3 351.8h1.1v1.1h-1.1zM285.3 294.3h1.1v1.1h-1.1zM269.8 314.2h1.1v1.1h-1.1zM238.2 331.4h1.1v1.1h-1.1zM270.2 317h1.1v1.1h-1.1zM243.4 320.2h1.1v1.1h-1.1zM257 310.4h1.1v1.1h-1.1zM225.6 332.1h1.1v1.1h-1.1zM250.3 304.4h1.1v1.1h-1.1zM275 299.7h1.1v1.1h-1.1zM243.8 317.6h1.1v1.1h-1.1zM229.2 350.8h1.1v1.1h-1.1zM256.8 328.4h1.1v1.1h-1.1zM267.2 292.4h1.1v1.1h-1.1zM264.5 304.4h1.1v1.1h-1.1zM236.3 333.4h1.1v1.1h-1.1zM241.9 317.8h1.1v1.1h-1.1zM236.3 327.9h1.1v1.1h-1.1zM243.3 307.6h1.1v1.1h-1.1zM264.3 293.3h1.1v1.1h-1.1zM235.8 337.6h1.1v1.1h-1.1zM252.5 299.6h1.1v1.1h-1.1zM224.2 347.2h1.1v1.1h-1.1zM267.1 304h1.1v1.1h-1.1zM259.2 328.1h1.1v1.1h-1.1zM244 338.4h1.1v1.1h-1.1zM246.9 322.1h1.1v1.1h-1.1zM252.7 312.9h1.1v1.1h-1.1zM228.3 322.8h1.1v1.1h-1.1zM281 293.8h1.1v1.1h-1.1zM250 295.5h1.1v1.1h-1.1zM272.5 299.8h1.1v1.1h-1.1zM255.8 297.1h1.1v1.1h-1.1zM232.2 325.9h1.1v1.1h-1.1zM224.3 319h1.1v1.1h-1.1zM233.8 346.2h1.1v1.1h-1.1zM268.9 312.3h1.1v1.1h-1.1zM234.2 317.3h1.1v1.1h-1.1zM249.7 320.5h1.1v1.1h-1.1zM229.3 327.4h1.1v1.1h-1.1zM245.4 315.7h1.1v1.1h-1.1zM254 308h1.1v1.1h-1.1zM226.1 358.2h1.1v1.1h-1.1zM236.2 336.7h1.1v1.1h-1.1zM244.2 315.8h1.1v1.1h-1.1zM257.7 303.3h1.1v1.1h-1.1zM258.3 324.9h1.1v1.1h-1.1zM242.8 321.9h1.1v1.1h-1.1zM237.3 313h1.1v1.1h-1.1zM222.5 322.4h1.1v1.1h-1.1zM236.4 330.1h1.1v1.1h-1.1zM230.2 319.8h1.1v1.1h-1.1zM260.4 301.8h1.1v1.1h-1.1zM266.5 301.3h1.1v1.1h-1.1zM267.1 315.3h1.1v1.1h-1.1zM234.5 333.3h1.1v1.1h-1.1zM247.7 310h1.1v1.1h-1.1zM256.1 337.4h1.1v1.1h-1.1zM235.9 345.2h1.1v1.1h-1.1zM242.7 319.6h1.1v1.1h-1.1zM249.8 305h1.1v1.1h-1.1zM246.7 337.6h1.1v1.1h-1.1zM221.9 336.5h1.1v1.1h-1.1zM245.2 331.6h1.1v1.1h-1.1zM278.5 293.6h1.1v1.1h-1.1zM245.9 317h1.1v1.1h-1.1zM275.7 309.5h1.1v1.1h-1.1zM255 302.5h1.1v1.1h-1.1zM241.7 309.3h1.1v1.1h-1.1zM241.1 310.3h1.1v1.1h-1.1zM285.7 268.8h1.1v1.1h-1.1zM271.9 308.3h1.1v1.1h-1.1zM246.7 310.7h1.1v1.1h-1.1zM241.6 315h1.1v1.1h-1.1zM220.4 332.2h1.1v1.1h-1.1zM250.9 333.4h1.1v1.1h-1.1zM262.7 310.4h1.1v1.1h-1.1zM234 322.6h1.1v1.1h-1.1zM242.2 338.7h1.1v1.1h-1.1zM268.5 297.8h1.1v1.1h-1.1zM266.4 293.2h1.1v1.1h-1.1zM233.8 324.3h1.1v1.1h-1.1zM229.7 315.3h1.1v1.1h-1.1zM281.2 282.4h1.1v1.1h-1.1zM264.5 304h1.1v1.1h-1.1zM259.1 319.1h1.1v1.1h-1.1zM273.1 298.7h1.1v1.1h-1.1zM242.4 337.5h1.1v1.1h-1.1zM262.3 288.5h1.1v1.1h-1.1zM243.9 309.1h1.1v1.1h-1.1zM242.1 338.1h1.1v1.1h-1.1zM245.4 330.2h1.1v1.1h-1.1zM243.2 327.6h1.1v1.1h-1.1zM288.9 287.7h1.1v1.1h-1.1zM238.2 335.9h1.1v1.1h-1.1zM255 305.2h1.1v1.1h-1.1zM267.2 286.9h1.1v1.1h-1.1zM256 308.8h1.1v1.1h-1.1zM273.8 317.1h1.1v1.1h-1.1zM236.3 313.8h1.1v1.1h-1.1zM229.1 307.4h1.1v1.1h-1.1zM244.5 337.7h1.1v1.1h-1.1zM260.8 323h1.1v1.1h-1.1zM235.2 326.2h1.1v1.1h-1.1zM228.9 327.2h1.1v1.1h-1.1zM258.7 311.7h1.1v1.1h-1.1zM226.7 334.5h1.1v1.1h-1.1zM216.3 329.3h1.1v1.1h-1.1zM283.7 305.1h1.1v1.1h-1.1zM251.9 301h1.1v1.1h-1.1zM226.1 342.9h1.1v1.1h-1.1zM248.8 321h1.1v1.1h-1.1zM246.8 311.2h1.1v1.1h-1.1zM273.8 320.8h1.1v1.1h-1.1zM221 341.9h1.1v1.1h-1.1zM256 304.9h1.1v1.1h-1.1zM255.3 324.6h1.1v1.1h-1.1zM268.7 320.4h1.1v1.1h-1.1zM272.2 309.7h1.1v1.1h-1.1zM246.7 335.8h1.1v1.1h-1.1zM249.2 318.1h1.1v1.1h-1.1zM282.1 295.2h1.1v1.1h-1.1zM204.6 338.5h1.1v1.1h-1.1zM228.9 307.9h1.1v1.1h-1.1zM243.9 306h1.1v1.1h-1.1zM261.3 300.2h1.1v1.1h-1.1zM258.7 337.4h1.1v1.1h-1.1zM268.2 287.3h1.1v1.1h-1.1zM239.2 317.9h1.1v1.1h-1.1zM260.7 313.4h1.1v1.1h-1.1zM270.7 326h1.1v1.1h-1.1zM269.1 302.7h1.1v1.1h-1.1zM229.5 325.5h1.1v1.1h-1.1zM269.2 325.6h1.1v1.1h-1.1zM242.7 337.4h1.1v1.1h-1.1zM231.9 347.2h1.1v1.1h-1.1zM259.9 317.3h1.1v1.1h-1.1zM264.2 304.1h1.1v1.1h-1.1zM253 310.9h1.1v1.1h-1.1zM252.5 305.4h1.1v1.1h-1.1zM208.5 335.6h1.1v1.1h-1.1zM268.9 297.3h1.1v1.1h-1.1zM236.8 309.8h1.1v1.1h-1.1zM218.1 340.3h1.1v1.1h-1.1zM247.4 327.5h1.1v1.1h-1.1zM254.5 319.6h1.1v1.1h-1.1zM250.9 321h1.1v1.1h-1.1zM236.4 339.7h1.1v1.1h-1.1zM277.9 307.2h1.1v1.1h-1.1zM243.4 317.9h1.1v1.1h-1.1zM236.4 327.5h1.1v1.1h-1.1zM252.4 319.3h1.1v1.1h-1.1zM267.9 305.7h1.1v1.1h-1.1zM240.7 290.4h1.1v1.1h-1.1zM251 318.4h1.1v1.1h-1.1zM260.4 336.8h1.1v1.1h-1.1zM232.5 327.1h1.1v1.1h-1.1zM255.9 314.5h1.1v1.1h-1.1zM270.6 304.5h1.1v1.1h-1.1zM250 317.1h1.1v1.1h-1.1zM236 317.9h1.1v1.1h-1.1zM227.3 335.8h1.1v1.1h-1.1zM233.9 319.4h1.1v1.1h-1.1zM226.8 340.6h1.1v1.1h-1.1zM235.1 328h1.1v1.1h-1.1zM237.9 335.8h1.1v1.1h-1.1zM241.9 322.7h1.1v1.1h-1.1zM259 319.4h1.1v1.1h-1.1zM236.2 318.3h1.1v1.1h-1.1zM212.7 351.3h1.1v1.1h-1.1zM253.1 322.4h1.1v1.1h-1.1zM257.7 302h1.1v1.1h-1.1zM262.6 292.6h1.1v1.1h-1.1zM264.2 310.6h1.1v1.1h-1.1zM240.2 336.7h1.1v1.1h-1.1zM288.3 287.2h1.1v1.1h-1.1zM272.3 300.7h1.1v1.1h-1.1zM268.9 291.4h1.1v1.1h-1.1zM242.7 329.6h1.1v1.1h-1.1zM238.3 318.9h1.1v1.1h-1.1zM271.5 313.1h1.1v1.1h-1.1zM268.4 330.3h1.1v1.1h-1.1zM285.6 274.5h1.1v1.1h-1.1zM242.7 317.2h1.1v1.1h-1.1zM223.1 342.5h1.1v1.1h-1.1zM236.5 317h1.1v1.1h-1.1zM257 324h1.1v1.1h-1.1zM243.1 340.1h1.1v1.1h-1.1zM261.4 290.5h1.1v1.1h-1.1zM270.6 289h1.1v1.1h-1.1zM263.7 320.1h1.1v1.1h-1.1zM254 292.9h1.1v1.1h-1.1zM260.3 324h1.1v1.1h-1.1zM247.4 319.3h1.1v1.1h-1.1zM262.3 329h1.1v1.1h-1.1zM236.9 306.7h1.1v1.1h-1.1zM252.3 297.3h1.1v1.1h-1.1zM248.4 286.3h1.1v1.1h-1.1zM246.3 315.2h1.1v1.1h-1.1zM221.2 330.6h1.1v1.1h-1.1zM201.9 336.3h1.1v1.1h-1.1zM236.8 316h1.1v1.1h-1.1zM252.6 326.9h1.1v1.1h-1.1zM247 296.8h1.1v1.1h-1.1zM271.7 293.3h1.1v1.1h-1.1zM234.1 313.9h1.1v1.1h-1.1zM271.1 290.4h1.1v1.1h-1.1zM270.4 304.2h1.1v1.1h-1.1zM204.8 342.1h1.1v1.1h-1.1zM263.4 294.9h1.1v1.1h-1.1zM245.6 338.7h1.1v1.1h-1.1zM259.6 316.3h1.1v1.1h-1.1zM249.1 309.8h1.1v1.1h-1.1zM239.3 329.8h1.1v1.1h-1.1zM210.1 367.1h1.1v1.1h-1.1zM242.3 334.4h1.1v1.1h-1.1zM268.3 317.4h1.1v1.1h-1.1zM247 324.5h1.1v1.1h-1.1zM240.9 342.7h1.1v1.1h-1.1zM233.5 334.8h1.1v1.1h-1.1zM267 316.7h1.1v1.1h-1.1zM219 365.2h1.1v1.1h-1.1zM251.3 318.5h1.1v1.1h-1.1zM223.1 334.3h1.1v1.1h-1.1zM168.3 370.6h1.1v1.1h-1.1zM176.6 347.7h1.1v1.1h-1.1zM169.9 376.4h1.1v1.1h-1.1zM184.7 375.4h1.1v1.1h-1.1zM186.1 365.6h1.1v1.1h-1.1zM169.7 351.9h1.1v1.1h-1.1zM189.3 351.2h1.1v1.1h-1.1zM203.6 363.7h1.1v1.1h-1.1zM191.4 351.3h1.1v1.1h-1.1zM210.1 356.9h1.1v1.1h-1.1zM211.1 362.2h1.1v1.1h-1.1zM191.8 363.3h1.1v1.1h-1.1zM184.6 350h1.1v1.1h-1.1zM196.1 368.7h1.1v1.1h-1.1zM190.4 341.3h1.1v1.1h-1.1zM181.6 353.3h1.1v1.1h-1.1zM202.6 360.6h1.1v1.1h-1.1zM199.1 360.3h1.1v1.1h-1.1zM225.4 350h1.1v1.1h-1.1zM207.9 361.1h1.1v1.1h-1.1zM208.7 359h1.1v1.1h-1.1zM214.8 348.4h1.1v1.1h-1.1zM202.5 360.4h1.1v1.1h-1.1zM258.4 299.5h1.1v1.1h-1.1zM271 309.8h1.1v1.1h-1.1zM265.6 316.6h1.1v1.1h-1.1zM283.7 283.3h1.1v1.1h-1.1zM286.7 305.6h1.1v1.1h-1.1zM256.7 317.1h1.1v1.1h-1.1zM265.1 313.9h1.1v1.1h-1.1zM279.5 288.5h1.1v1.1h-1.1zM278 295.6h1.1v1.1h-1.1zM272.3 288h1.1v1.1h-1.1zM257.6 297.9h1.1v1.1h-1.1zM250.9 316h1.1v1.1h-1.1zM265.2 324h1.1v1.1h-1.1zM270.2 285.9h1.1v1.1h-1.1zM270.7 282.1h1.1v1.1h-1.1zM275.2 313.4h1.1v1.1h-1.1zM258.6 301.8h1.1v1.1h-1.1zM283.9 296.8h1.1v1.1h-1.1zM263.2 317.3h1.1v1.1h-1.1zM251.8 329.9h1.1v1.1h-1.1zM248.1 331.4h1.1v1.1h-1.1zM268.5 286.9h1.1v1.1h-1.1zM284.5 288.1h1.1v1.1h-1.1zM281.9 316.9h1.1v1.1h-1.1zM285.6 295h1.1v1.1h-1.1zM259.3 312.7h1.1v1.1h-1.1zM276.5 301.9h1.1v1.1h-1.1zM259.4 296.1h1.1v1.1h-1.1zM273.3 290h1.1v1.1h-1.1zM257.8 297.6h1.1v1.1h-1.1zM259.1 320.2h1.1v1.1h-1.1zM264.4 289.6h1.1v1.1h-1.1zM261 297h1.1v1.1h-1.1zM255.8 284.9h1.1v1.1h-1.1zM259.4 335.2h1.1v1.1h-1.1zM283.1 288.4h1.1v1.1h-1.1zM277.4 295.9h1.1v1.1h-1.1zM269 312.3h1.1v1.1h-1.1zM255.5 319.7h1.1v1.1h-1.1zM251.9 303.1h1.1v1.1h-1.1zM259.3 316h1.1v1.1h-1.1zM275.4 294h1.1v1.1h-1.1zM269.4 289.3h1.1v1.1h-1.1zM252.3 308.8h1.1v1.1h-1.1zM245.9 309.1h1.1v1.1h-1.1zM273.4 285.6h1.1v1.1h-1.1zM250.6 314.2h1.1v1.1h-1.1zM279.3 300.8h1.1v1.1h-1.1zM277.1 296.7h1.1v1.1h-1.1zM254.9 304.7h1.1v1.1h-1.1zM268.2 286.7h1.1v1.1h-1.1zM269 288.3h1.1v1.1h-1.1zM248.9 307h1.1v1.1h-1.1zM257.8 296.6h1.1v1.1h-1.1zM260.7 321.4h1.1v1.1h-1.1zM267.5 292h1.1v1.1h-1.1zM275.3 302.6h1.1v1.1h-1.1zM274.1 293.1h1.1v1.1h-1.1zM288.8 309.1h1.1v1.1h-1.1zM265.8 292.6h1.1v1.1h-1.1zM266.2 281.5h1.1v1.1h-1.1zM265.1 287.6h1.1v1.1h-1.1zM257.4 310.1h1.1v1.1h-1.1zM256.9 299.3h1.1v1.1h-1.1zM268.7 285.5h1.1v1.1h-1.1zM245.3 318.7h1.1v1.1h-1.1zM279.8 309h1.1v1.1h-1.1zM247.8 305.8h1.1v1.1h-1.1zM273.2 311.9h1.1v1.1h-1.1zM268 281.9h1.1v1.1h-1.1zM251.9 300.3h1.1v1.1h-1.1zM256 306h1.1v1.1h-1.1zM279.9 308.6h1.1v1.1h-1.1zM281 301.7h1.1v1.1h-1.1zM271.5 287.7h1.1v1.1h-1.1zM270.1 285.5h1.1v1.1h-1.1zM267.9 287.6h1.1v1.1h-1.1zM280.9 300.7h1.1v1.1h-1.1zM257.2 297.4h1.1v1.1h-1.1zM260.8 284h1.1v1.1h-1.1zM273.2 309h1.1v1.1h-1.1zM279.7 287.6h1.1v1.1h-1.1zM282 284.1h1.1v1.1h-1.1zM285.8 306.1h1.1v1.1h-1.1zM275 287h1.1v1.1h-1.1zM284.2 302h1.1v1.1h-1.1zM256 289.1h1.1v1.1h-1.1zM268.5 318.3h1.1v1.1h-1.1zM273 321.1h1.1v1.1h-1.1zM270.3 313.6h1.1v1.1h-1.1zM253.8 303h1.1v1.1h-1.1zM277.5 310.3h1.1v1.1h-1.1zM275.1 303.9h1.1v1.1h-1.1zM258.4 303.3h1.1v1.1h-1.1zM251 305.8h1.1v1.1h-1.1zM250.6 302.6h1.1v1.1h-1.1zM264 290.8h1.1v1.1h-1.1zM272.8 310.2h1.1v1.1h-1.1zM268.5 283.5h1.1v1.1h-1.1zM280.4 285.1h1.1v1.1h-1.1zM257.4 300.7h1.1v1.1h-1.1zM280.6 295.3h1.1v1.1h-1.1zM276 297.7h1.1v1.1h-1.1zM253.7 316.7h1.1v1.1h-1.1zM261.2 312.5h1.1v1.1h-1.1zM264.1 290.3h1.1v1.1h-1.1zM257.9 311.1h1.1v1.1h-1.1zM273.3 289.6h1.1v1.1h-1.1zM262.3 294.7h1.1v1.1h-1.1zM267.6 291.8h1.1v1.1h-1.1zM264.7 318.4h1.1v1.1h-1.1zM264.9 270h1.1v1.1h-1.1zM261.6 312.2h1.1v1.1h-1.1zM264 293.7h1.1v1.1h-1.1zM282 294.5h1.1v1.1h-1.1zM258.7 293.5h1.1v1.1h-1.1zM255.6 319.4h1.1v1.1h-1.1zM260.5 294.1h1.1v1.1h-1.1zM282 287.8h1.1v1.1h-1.1zM251.1 300.4h1.1v1.1h-1.1zM272.5 289h1.1v1.1h-1.1zM254.2 312.4h1.1v1.1h-1.1zM256.9 298.2h1.1v1.1h-1.1zM255.4 301.7h1.1v1.1h-1.1zM269.3 289.6h1.1v1.1h-1.1zM264.4 320h1.1v1.1h-1.1zM278.7 297h1.1v1.1h-1.1zM265.6 292.5h1.1v1.1h-1.1zM279.8 311.5h1.1v1.1h-1.1zM253.1 306.8h1.1v1.1h-1.1zM256.3 315.5h1.1v1.1h-1.1zM273.6 285.6h1.1v1.1h-1.1zM261.8 284.9h1.1v1.1h-1.1zM255.8 323h1.1v1.1h-1.1zM246.3 306.7h1.1v1.1h-1.1zM250.7 298.4h1.1v1.1h-1.1zM270.2 309.9h1.1v1.1h-1.1zM270.5 317.5h1.1v1.1h-1.1zM268.5 289.6h1.1v1.1h-1.1zM273 286.6h1.1v1.1h-1.1zM282.3 297.9h1.1v1.1h-1.1zM279.1 300.1h1.1v1.1h-1.1zM274.4 304.7h1.1v1.1h-1.1zM277 306.9h1.1v1.1h-1.1zM276.2 288.3h1.1v1.1h-1.1zM267.7 288.6h1.1v1.1h-1.1zM270.9 309.1h1.1v1.1h-1.1zM257.2 315.8h1.1v1.1h-1.1zM257.4 317.3h1.1v1.1h-1.1zM261.5 295.8h1.1v1.1h-1.1zM284.4 301.4h1.1v1.1h-1.1zM257.8 321h1.1v1.1h-1.1zM276.2 306.4h1.1v1.1h-1.1zM270.4 290.7h1.1v1.1h-1.1zM264.9 281.2h1.1v1.1h-1.1zM269.9 289.4h1.1v1.1h-1.1zM284.9 310.8h1.1v1.1h-1.1zM284.9 319.4h1.1v1.1h-1.1zM257.3 320h1.1v1.1h-1.1zM252 322.8h1.1v1.1h-1.1zM249.5 310.9h1.1v1.1h-1.1zM276.4 302.9h1.1v1.1h-1.1zM258.9 290.4h1.1v1.1h-1.1zM258.4 301.5h1.1v1.1h-1.1zM254.8 317.8h1.1v1.1h-1.1zM267.3 273.9h1.1v1.1h-1.1zM268 315.9h1.1v1.1h-1.1zM252.1 316.7h1.1v1.1h-1.1zM274.5 305.9h1.1v1.1h-1.1zM278 309.9h1.1v1.1h-1.1zM252.5 311.6h1.1v1.1h-1.1zM255.5 310.1h1.1v1.1h-1.1zM250.6 297.3h1.1v1.1h-1.1zM273.7 309.4h1.1v1.1h-1.1zM278.2 313.7h1.1v1.1h-1.1zM255.2 306.6h1.1v1.1h-1.1zM245.6 306.8h1.1v1.1h-1.1zM279.5 287.6h1.1v1.1h-1.1zM275.5 302.1h1.1v1.1h-1.1zM254.1 305.1h1.1v1.1h-1.1zM274.2 311.3h1.1v1.1h-1.1zM269.1 290.7h1.1v1.1h-1.1zM265.6 316.9h1.1v1.1h-1.1zM271.5 284.4h1.1v1.1h-1.1zM275.7 285.7h1.1v1.1h-1.1zM269.7 318.4h1.1v1.1h-1.1zM280.1 309h1.1v1.1h-1.1zM260.1 321.7h1.1v1.1h-1.1zM257.3 326.6h1.1v1.1h-1.1zM278 279.2h1.1v1.1h-1.1zM280.7 292.2h1.1v1.1h-1.1zM278.9 290.3h1.1v1.1h-1.1zM290 284.7h1.1v1.1h-1.1zM278.9 302.3h1.1v1.1h-1.1zM260.4 314h1.1v1.1h-1.1zM273.9 323.3h1.1v1.1h-1.1zM254.2 305.3h1.1v1.1h-1.1zM245.4 301.9h1.1v1.1h-1.1zM283 291.1h1.1v1.1h-1.1zM250.3 305.6h1.1v1.1h-1.1zM248.2 329.6h1.1v1.1h-1.1zM274.3 293h1.1v1.1h-1.1zM246.7 315.9h1.1v1.1h-1.1zM261.1 314.6h1.1v1.1h-1.1zM251.4 300.1h1.1v1.1h-1.1zM285.5 301h1.1v1.1h-1.1zM249.3 312h1.1v1.1h-1.1zM282.2 297.8h1.1v1.1h-1.1zM264.2 316.7h1.1v1.1h-1.1zM270.3 291.3h1.1v1.1h-1.1zM258.5 308.4h1.1v1.1h-1.1zM254.1 297.7h1.1v1.1h-1.1zM258.2 301.9h1.1v1.1h-1.1zM258.6 311.5h1.1v1.1h-1.1zM271.6 308.7h1.1v1.1h-1.1zM261.2 323.6h1.1v1.1h-1.1zM262.3 313.1h1.1v1.1h-1.1zM260.3 312.5h1.1v1.1h-1.1zM278.6 295.4h1.1v1.1h-1.1zM276 304.8h1.1v1.1h-1.1zM258.7 315.3h1.1v1.1h-1.1zM268.2 287h1.1v1.1h-1.1zM280.2 306.6h1.1v1.1h-1.1zM260 296.9h1.1v1.1h-1.1zM253.8 316h1.1v1.1h-1.1zM270.3 290h1.1v1.1h-1.1zM253.8 310.9h1.1v1.1h-1.1zM256.2 310.6h1.1v1.1h-1.1zM276.1 319.7h1.1v1.1h-1.1zM244.4 304.9h1.1v1.1h-1.1zM270.7 290.9h1.1v1.1h-1.1zM255.3 311.5h1.1v1.1h-1.1zM275.5 288.1h1.1v1.1h-1.1zM265.9 326.7h1.1v1.1h-1.1zM281.3 295h1.1v1.1h-1.1zM255.7 311h1.1v1.1h-1.1zM276.1 303.3h1.1v1.1h-1.1zM266 318.4h1.1v1.1h-1.1zM267 319h1.1v1.1h-1.1zM286.5 280.5h1.1v1.1h-1.1zM265 320.9h1.1v1.1h-1.1zM264.3 318.4h1.1v1.1h-1.1zM276.6 304.2h1.1v1.1h-1.1zM253.4 321.5h1.1v1.1h-1.1zM276.4 301.1h1.1v1.1h-1.1zM276.8 297.2h1.1v1.1h-1.1zM257.3 297.5h1.1v1.1h-1.1zM257.6 313.6h1.1v1.1h-1.1zM270 315.6h1.1v1.1h-1.1zM265.9 314.1h1.1v1.1h-1.1zM276.9 305.9h1.1v1.1h-1.1zM279.9 279.2h1.1v1.1h-1.1zM258.3 300.7h1.1v1.1h-1.1zM275.9 309.7h1.1v1.1h-1.1zM278.8 296.3h1.1v1.1h-1.1zM267.8 279.9h1.1v1.1h-1.1zM253.5 313.9h1.1v1.1h-1.1zM269.7 314.4h1.1v1.1h-1.1zM248.3 313h1.1v1.1h-1.1zM259.2 293.8h1.1v1.1h-1.1zM251.3 318.3h1.1v1.1h-1.1zM253.9 309.6h1.1v1.1h-1.1zM277.5 302.6h1.1v1.1h-1.1zM260 313.5h1.1v1.1h-1.1zM271.7 289.6h1.1v1.1h-1.1zM277.4 288.6h1.1v1.1h-1.1zM268 285.4h1.1v1.1h-1.1zM258 311.6h1.1v1.1h-1.1zM277 302.3h1.1v1.1h-1.1zM273.2 279.4h1.1v1.1h-1.1zM274.3 286.9h1.1v1.1h-1.1zM272.4 284.2h1.1v1.1h-1.1zM275 290.7h1.1v1.1h-1.1zM270.1 287.3h1.1v1.1h-1.1zM279.9 289.6h1.1v1.1h-1.1zM272.2 310.2h1.1v1.1h-1.1zM274.6 288h1.1v1.1h-1.1zM268.8 311.8h1.1v1.1h-1.1zM269.6 289h1.1v1.1h-1.1zM271.9 290.6h1.1v1.1h-1.1zM270.4 310.9h1.1v1.1h-1.1zM267.5 280.7h1.1v1.1h-1.1zM272.3 310.1h1.1v1.1h-1.1zM263.8 315.1h1.1v1.1h-1.1zM278 292.6h1.1v1.1h-1.1zM255.8 316.4h1.1v1.1h-1.1zM267.5 313.9h1.1v1.1h-1.1zM269.3 314.7h1.1v1.1h-1.1zM263.2 312.9h1.1v1.1h-1.1zM249.2 309.4h1.1v1.1h-1.1zM278.5 303h1.1v1.1h-1.1zM256.9 313.8h1.1v1.1h-1.1zM258.4 303.3h1.1v1.1h-1.1zM257.5 314.2h1.1v1.1h-1.1zM270.7 287.2h1.1v1.1h-1.1zM267.3 290.8h1.1v1.1h-1.1zM242.6 327.9h1.1v1.1h-1.1zM292.2 311.6h1.1v1.1h-1.1zM275.1 286.1h1.1v1.1h-1.1zM277.3 281.5h1.1v1.1h-1.1zM244.9 323.7h1.1v1.1h-1.1zM263.6 312.8h1.1v1.1h-1.1zM280.9 309h1.1v1.1h-1.1zM271.5 316.8h1.1v1.1h-1.1zM249.6 297.6h1.1v1.1h-1.1zM273.2 315.9h1.1v1.1h-1.1zM274.3 291.3h1.1v1.1h-1.1zM276.3 321.5h1.1v1.1h-1.1zM272 292.2h1.1v1.1h-1.1zM258.6 300.1h1.1v1.1h-1.1zM266.4 317.7h1.1v1.1h-1.1zM254.5 308.2h1.1v1.1h-1.1zM261.6 278.9h1.1v1.1h-1.1zM256.3 316.8h1.1v1.1h-1.1zM278.3 289.4h1.1v1.1h-1.1zM270.7 280.4h1.1v1.1h-1.1zM258.5 298.9h1.1v1.1h-1.1zM261.2 314.4h1.1v1.1h-1.1zM264.6 312.9h1.1v1.1h-1.1zM262.5 275.6h1.1v1.1h-1.1zM253.5 295.6h1.1v1.1h-1.1zM275.5 304.8h1.1v1.1h-1.1zM270.3 284.6h1.1v1.1h-1.1zM265.8 281.8h1.1v1.1h-1.1zM254.5 315.8h1.1v1.1h-1.1zM258.4 298.8h1.1v1.1h-1.1zM258.8 327h1.1v1.1h-1.1zM261.4 293.4h1.1v1.1h-1.1zM250.3 314.3h1.1v1.1h-1.1zM284.8 300.8h1.1v1.1h-1.1zM258.2 310.6h1.1v1.1h-1.1zM280.4 314h1.1v1.1h-1.1zM261.7 281.4h1.1v1.1h-1.1zM260.1 312.9h1.1v1.1h-1.1zM275.3 294.6h1.1v1.1h-1.1zM278.6 291.9h1.1v1.1h-1.1zM287.1 281.5h1.1v1.1h-1.1zM279 303.7h1.1v1.1h-1.1zM262.5 312.4h1.1v1.1h-1.1zM275.3 301.6h1.1v1.1h-1.1zM279.4 291.1h1.1v1.1h-1.1zM272.9 289.7h1.1v1.1h-1.1zM265.7 313.9h1.1v1.1h-1.1zM256 315.2h1.1v1.1h-1.1zM280.6 298.8h1.1v1.1h-1.1zM256.9 325.5h1.1v1.1h-1.1zM277.3 288.5h1.1v1.1h-1.1zM247.7 314h1.1v1.1h-1.1zM289.5 310.4h1.1v1.1h-1.1zM252.3 314.1h1.1v1.1h-1.1zM288.6 316h1.1v1.1h-1.1zM258.8 299.4h1.1v1.1h-1.1zM282.2 306.3h1.1v1.1h-1.1zM243.3 323.4h1.1v1.1h-1.1zM267.4 286h1.1v1.1h-1.1zM262.8 289.3h1.1v1.1h-1.1zM257.2 293.7h1.1v1.1h-1.1zM274.6 304.9h1.1v1.1h-1.1zM276.6 309.6h1.1v1.1h-1.1zM263 288.5h1.1v1.1h-1.1zM271.3 311.3h1.1v1.1h-1.1zM263.6 286.3h1.1v1.1h-1.1zM261.7 292.2h1.1v1.1h-1.1zM270 291.4h1.1v1.1h-1.1zM275.1 305h1.1v1.1h-1.1zM275.1 291.7h1.1v1.1h-1.1zM264.8 289.5h1.1v1.1h-1.1zM254.7 303.8h1.1v1.1h-1.1zM276.1 289.9h1.1v1.1h-1.1zM254.8 305.4h1.1v1.1h-1.1zM278.8 304.9h1.1v1.1h-1.1zM268 279.8h1.1v1.1h-1.1zM258.4 297.4h1.1v1.1h-1.1zM275.8 275.7h1.1v1.1h-1.1zM259.4 310.4h1.1v1.1h-1.1zM258.6 285.9h1.1v1.1h-1.1zM253.6 316.9h1.1v1.1h-1.1zM257.6 302.8h1.1v1.1h-1.1zM286.7 298.2h1.1v1.1h-1.1zM278.5 290.8h1.1v1.1h-1.1zM265.8 311.9h1.1v1.1h-1.1zM279.5 298h1.1v1.1h-1.1zM260 311.3h1.1v1.1h-1.1zM252.7 307.2h1.1v1.1h-1.1zM269.1 317.3h1.1v1.1h-1.1zM279.2 296.9h1.1v1.1h-1.1zM262.7 280.8h1.1v1.1h-1.1zM260.8 288.1h1.1v1.1h-1.1zM275.6 315h1.1v1.1h-1.1zM273.2 308.2h1.1v1.1h-1.1zM261.5 293.1h1.1v1.1h-1.1zM266.3 286.7h1.1v1.1h-1.1zM281.5 293h1.1v1.1h-1.1zM261.6 314.1h1.1v1.1h-1.1zM256.9 311.5h1.1v1.1h-1.1zM262.6 318.1h1.1v1.1h-1.1zM279.5 318.1h1.1v1.1h-1.1zM278.9 292.6h1.1v1.1h-1.1zM245.4 303h1.1v1.1h-1.1zM280.4 290.8h1.1v1.1h-1.1zM251.8 295.6h1.1v1.1h-1.1zM274.7 294.2h1.1v1.1h-1.1zM290.8 304.4h1.1v1.1h-1.1zM273.2 307.5h1.1v1.1h-1.1zM235.4 307.5h1.1v1.1h-1.1zM257.6 311.7h1.1v1.1h-1.1zM291.8 280.1h1.1v1.1h-1.1zM274.3 310.9h1.1v1.1h-1.1zM274.3 304.9h1.1v1.1h-1.1zM249.2 312.9h1.1v1.1h-1.1zM256.2 310.3h1.1v1.1h-1.1zM261.4 314.6h1.1v1.1h-1.1zM253.9 322.6h1.1v1.1h-1.1zM259.5 318.3h1.1v1.1h-1.1zM276.1 293.8h1.1v1.1h-1.1zM260.8 294.5h1.1v1.1h-1.1zM268 288.5h1.1v1.1h-1.1zM257.9 304.7h1.1v1.1h-1.1zM264.4 293h1.1v1.1h-1.1zM278.6 301.7h1.1v1.1h-1.1zM257.8 302.1h1.1v1.1h-1.1zM258 304.1h1.1v1.1h-1.1zM262.3 329h1.1v1.1h-1.1zM243.3 312.3h1.1v1.1h-1.1zM262.4 312.3h1.1v1.1h-1.1zM261 287h1.1v1.1h-1.1zM277.6 305.9h1.1v1.1h-1.1zM269.2 290.4h1.1v1.1h-1.1zM261 312.7h1.1v1.1h-1.1zM270.8 283.9h1.1v1.1h-1.1zM255.8 315.6h1.1v1.1h-1.1zM279.4 295.3h1.1v1.1h-1.1zM266.5 291.4h1.1v1.1h-1.1zM263.3 316.5h1.1v1.1h-1.1zM240.9 302.8h1.1v1.1h-1.1zM267.5 315h1.1v1.1h-1.1zM246.7 287.7h1.1v1.1h-1.1zM256.3 311.8h1.1v1.1h-1.1zM251.7 314h1.1v1.1h-1.1zM255.3 318.5h1.1v1.1h-1.1zM274.8 303.2h1.1v1.1h-1.1zM272.7 291.4h1.1v1.1h-1.1zM257 312.6h1.1v1.1h-1.1zM265.2 292.4h1.1v1.1h-1.1zM268.6 286.6h1.1v1.1h-1.1z" fill="#5a5a5a"/><path d="M261.3 298.6h1.1v1.1h-1.1zM260.3 306.1h1.1v1.1h-1.1zM269.8 297.8h1.1v1.1h-1.1zM267.6 297.9h1.1v1.1h-1.1zM263.2 315.4h1.1v1.1h-1.1zM263.3 304.1h1.1v1.1h-1.1zM259.4 291.9h1.1v1.1h-1.1zM262.7 302.1h1.1v1.1h-1.1zM270.4 305h1.1v1.1h-1.1zM274.7 295.2h1.1v1.1h-1.1zM276.9 304.9h1.1v1.1h-1.1zM272.5 304.4h1.1v1.1h-1.1zM264.4 311.8h1.1v1.1h-1.1zM263.1 300.2h1.1v1.1h-1.1zM261.8 300.3h1.1v1.1h-1.1zM265.5 299.3h1.1v1.1h-1.1zM271 297h1.1v1.1h-1.1zM270.5 283.5h1.1v1.1h-1.1zM260.8 306.6h1.1v1.1h-1.1zM261.5 300.4h1.1v1.1h-1.1zM267.4 309.2h1.1v1.1h-1.1zM250.1 322.7h1.1v1.1h-1.1zM273.4 297.9h1.1v1.1h-1.1zM267.7 300.8h1.1v1.1h-1.1zM262.3 303.5h1.1v1.1h-1.1zM271.1 302.8h1.1v1.1h-1.1zM271.3 292.5h1.1v1.1h-1.1zM267.7 296.7h1.1v1.1h-1.1zM267.2 293.3h1.1v1.1h-1.1zM272.9 306.2h1.1v1.1h-1.1zM266 303.7h1.1v1.1h-1.1zM273.7 305.3h1.1v1.1h-1.1zM283.6 296.4h1.1v1.1h-1.1zM262.1 302.4h1.1v1.1h-1.1zM272.5 293.6h1.1v1.1h-1.1zM272.3 300.6h1.1v1.1h-1.1zM274.4 309.6h1.1v1.1h-1.1zM265.3 308.2h1.1v1.1h-1.1zM275 297.6h1.1v1.1h-1.1zM264.4 305.8h1.1v1.1h-1.1zM262.6 305h1.1v1.1h-1.1zM263.4 303.4h1.1v1.1h-1.1zM268.2 301.6h1.1v1.1h-1.1zM262.6 307.2h1.1v1.1h-1.1zM269.6 304.9h1.1v1.1h-1.1zM267.5 296.5h1.1v1.1h-1.1zM262.1 315.3h1.1v1.1h-1.1zM271.6 317h1.1v1.1h-1.1zM263.7 302h1.1v1.1h-1.1zM262.7 301.3h1.1v1.1h-1.1zM263.7 308.2h1.1v1.1h-1.1zM260.9 299.3h1.1v1.1h-1.1zM264.9 298.1h1.1v1.1h-1.1zM276 309.7h1.1v1.1h-1.1zM262.2 297.2h1.1v1.1h-1.1zM272.3 307.6h1.1v1.1h-1.1zM263.9 303.5h1.1v1.1h-1.1zM268.6 300.2h1.1v1.1h-1.1zM252.7 298h1.1v1.1h-1.1zM266.7 308.6h1.1v1.1h-1.1zM263.8 299.7h1.1v1.1h-1.1zM272.3 302.7h1.1v1.1h-1.1zM262.1 299.1h1.1v1.1h-1.1zM284.8 296.3h1.1v1.1h-1.1zM267 304.7h1.1v1.1h-1.1zM270 295.8h1.1v1.1h-1.1zM260.5 321.6h1.1v1.1h-1.1zM271.8 308h1.1v1.1h-1.1zM276.7 302.6h1.1v1.1h-1.1zM279 278.4h1.1v1.1h-1.1zM273.3 295.3h1.1v1.1h-1.1zM274.2 302.7h1.1v1.1h-1.1zM269.5 296.9h1.1v1.1h-1.1zM260.4 306.9h1.1v1.1h-1.1zM264.7 300.4h1.1v1.1h-1.1zM260.6 302.4h1.1v1.1h-1.1zM270.6 293.1h1.1v1.1h-1.1zM265 302.2h1.1v1.1h-1.1zM280 290.3h1.1v1.1h-1.1zM267 308.4h1.1v1.1h-1.1zM267.6 305.4h1.1v1.1h-1.1zM264 302.8h1.1v1.1h-1.1zM269.1 303.1h1.1v1.1h-1.1zM283.4 316.8h1.1v1.1h-1.1zM276.2 312.2h1.1v1.1h-1.1zM262.3 304.7h1.1v1.1h-1.1zM262.5 307.3h1.1v1.1h-1.1zM273.4 297.5h1.1v1.1h-1.1zM271.1 293.4h1.1v1.1h-1.1zM262.6 297.1h1.1v1.1h-1.1zM260.7 289.8h1.1v1.1h-1.1zM264.8 302.7h1.1v1.1h-1.1zM254.9 309.5h1.1v1.1h-1.1zM271.8 296.2h1.1v1.1h-1.1zM266.2 300.9h1.1v1.1h-1.1zM270 302.2h1.1v1.1h-1.1zM262.5 305.3h1.1v1.1h-1.1zM261.6 295.5h1.1v1.1h-1.1zM270.1 295.6h1.1v1.1h-1.1zM276.7 309.1h1.1v1.1h-1.1zM272.2 308.2h1.1v1.1h-1.1zM253.4 297.4h1.1v1.1h-1.1zM272.3 300.3h1.1v1.1h-1.1zM279.9 305h1.1v1.1h-1.1zM264.2 296.8h1.1v1.1h-1.1zM266.4 302.9h1.1v1.1h-1.1zM269 313.9h1.1v1.1h-1.1zM261.2 302h1.1v1.1h-1.1zM270.6 298.4h1.1v1.1h-1.1zM252.3 304.1h1.1v1.1h-1.1zM262.8 306.9h1.1v1.1h-1.1zM269.9 303.4h1.1v1.1h-1.1zM275.6 297.5h1.1v1.1h-1.1zM264.8 295.7h1.1v1.1h-1.1zM277.7 302.7h1.1v1.1h-1.1zM269.9 302.3h1.1v1.1h-1.1zM271.9 303.5h1.1v1.1h-1.1zM268.4 299.9h1.1v1.1h-1.1zM259.4 287.9h1.1v1.1h-1.1zM266.7 298.4h1.1v1.1h-1.1zM267.3 310.7h1.1v1.1h-1.1zM268.5 306.6h1.1v1.1h-1.1zM267.4 299.2h1.1v1.1h-1.1zM275.8 305h1.1v1.1h-1.1zM273.6 307.8h1.1v1.1h-1.1zM262.3 309.2h1.1v1.1h-1.1zM265 298.1h1.1v1.1h-1.1zM259.5 308.1h1.1v1.1h-1.1zM271.5 284.4h1.1v1.1h-1.1zM271.9 294.1h1.1v1.1h-1.1zM267.6 292.9h1.1v1.1h-1.1zM272.4 299.9h1.1v1.1h-1.1zM269.9 303.7h1.1v1.1h-1.1zM262.2 308.2h1.1v1.1h-1.1zM275.9 303.3h1.1v1.1h-1.1zM270 307.4h1.1v1.1h-1.1zM262 297.1h1.1v1.1h-1.1zM259.6 305.1h1.1v1.1h-1.1zM261.7 304.8h1.1v1.1h-1.1zM261.7 304h1.1v1.1h-1.1zM272.1 295.3h1.1v1.1h-1.1zM265.3 317.3h1.1v1.1h-1.1zM269.1 294h1.1v1.1h-1.1zM270.2 304h1.1v1.1h-1.1zM268.2 305.7h1.1v1.1h-1.1zM265.1 305.3h1.1v1.1h-1.1zM268.3 294.5h1.1v1.1h-1.1zM263.3 298.5h1.1v1.1h-1.1zM270 304.8h1.1v1.1h-1.1zM261.1 308.7h1.1v1.1h-1.1zM270.8 303.4h1.1v1.1h-1.1zM260.4 310.9h1.1v1.1h-1.1zM263.6 311.7h1.1v1.1h-1.1zM271.3 301.4h1.1v1.1h-1.1zM262.7 307.9h1.1v1.1h-1.1zM263.8 309.8h1.1v1.1h-1.1zM267.4 328.6h1.1v1.1h-1.1zM271 305.9h1.1v1.1h-1.1zM271 308.9h1.1v1.1h-1.1zM258.2 304.6h1.1v1.1h-1.1zM266.4 296.7h1.1v1.1h-1.1zM262.5 295.6h1.1v1.1h-1.1zM271.3 292.9h1.1v1.1h-1.1zM275.8 315.7h1.1v1.1h-1.1zM263.9 312.4h1.1v1.1h-1.1zM269.4 295.2h1.1v1.1h-1.1zM272.2 301.3h1.1v1.1h-1.1zM271.2 309.1h1.1v1.1h-1.1zM266.8 312.6h1.1v1.1h-1.1zM273.6 294.6h1.1v1.1h-1.1zM264.9 305h1.1v1.1h-1.1zM265.7 291.5h1.1v1.1h-1.1zM269.4 299h1.1v1.1h-1.1zM251.3 314.2h1.1v1.1h-1.1zM268.4 306.3h1.1v1.1h-1.1zM259.6 296.3h1.1v1.1h-1.1zM264.6 307.2h1.1v1.1h-1.1zM256.9 311.6h1.1v1.1h-1.1zM282.4 290h1.1v1.1h-1.1zM265.7 305.9h1.1v1.1h-1.1zM264.3 307.5h1.1v1.1h-1.1zM269.1 299.2h1.1v1.1h-1.1zM267 312.4h1.1v1.1h-1.1zM270.2 297h1.1v1.1h-1.1zM273.4 289.9h1.1v1.1h-1.1zM266.9 305.1h1.1v1.1h-1.1zM259.9 303.2h1.1v1.1h-1.1zM269 294.4h1.1v1.1h-1.1zM274.2 290.5h1.1v1.1h-1.1zM271.8 303h1.1v1.1h-1.1zM249.7 298h1.1v1.1h-1.1zM272.7 302.9h1.1v1.1h-1.1zM272.9 300.2h1.1v1.1h-1.1zM272.3 304.7h1.1v1.1h-1.1zM265.7 308.1h1.1v1.1h-1.1zM270.3 298.7h1.1v1.1h-1.1zM275.7 293.3h1.1v1.1h-1.1zM264.8 310.9h1.1v1.1h-1.1zM271.5 297.7h1.1v1.1h-1.1zM272.9 300.2h1.1v1.1h-1.1zM268.2 305.7h1.1v1.1h-1.1zM261.2 304.8h1.1v1.1h-1.1zM269.2 302.5h1.1v1.1h-1.1zM259.3 301.5h1.1v1.1h-1.1zM268.9 304.6h1.1v1.1h-1.1zM265.6 295.6h1.1v1.1h-1.1zM281.9 307.5h1.1v1.1h-1.1zM260.9 327.3h1.1v1.1h-1.1zM261.5 301h1.1v1.1h-1.1zM268.6 300.4h1.1v1.1h-1.1zM267.5 277.9h1.1v1.1h-1.1zM270.4 305.4h1.1v1.1h-1.1zM270 292.6h1.1v1.1h-1.1zM258.5 287.3h1.1v1.1h-1.1zM267.7 308.6h1.1v1.1h-1.1zM269.6 288.9h1.1v1.1h-1.1zM261.9 317.4h1.1v1.1h-1.1zM266.1 301.8h1.1v1.1h-1.1zM271.7 299.4h1.1v1.1h-1.1zM267.8 305.5h1.1v1.1h-1.1zM264.8 310h1.1v1.1h-1.1zM268.3 308.3h1.1v1.1h-1.1zM263.5 294.8h1.1v1.1h-1.1zM257.5 299.7h1.1v1.1h-1.1zM272.7 304.3h1.1v1.1h-1.1zM250.3 303.8h1.1v1.1h-1.1zM268.2 296.2h1.1v1.1h-1.1zM269.7 304.1h1.1v1.1h-1.1zM275 302.3h1.1v1.1h-1.1zM262.3 305.1h1.1v1.1h-1.1zM267.1 307.3h1.1v1.1h-1.1zM263.3 307.7h1.1v1.1h-1.1zM269.6 308.5h1.1v1.1h-1.1zM266 301.2h1.1v1.1h-1.1zM264.3 303h1.1v1.1h-1.1zM266.5 287.7h1.1v1.1h-1.1zM270.1 294.4h1.1v1.1h-1.1zM261.3 302.5h1.1v1.1h-1.1zM274.9 298.2h1.1v1.1h-1.1zM269.9 293.6h1.1v1.1h-1.1zM275.5 318.3h1.1v1.1h-1.1zM268.1 301h1.1v1.1h-1.1zM274.2 295.7h1.1v1.1h-1.1zM261.7 311.2h1.1v1.1h-1.1zM267.7 304.6h1.1v1.1h-1.1zM276.2 296.4h1.1v1.1h-1.1zM265.6 297.3h1.1v1.1h-1.1zM272.4 297.3h1.1v1.1h-1.1zM244.5 296.7h1.1v1.1h-1.1zM264.2 298h1.1v1.1h-1.1zM265.3 299.6h1.1v1.1h-1.1zM276 301.1h1.1v1.1h-1.1zM270.8 301.1h1.1v1.1h-1.1zM266.8 301.2h1.1v1.1h-1.1zM267.5 305.4h1.1v1.1h-1.1zM262.4 306.5h1.1v1.1h-1.1zM261.2 305.2h1.1v1.1h-1.1zM268.3 307.7h1.1v1.1h-1.1zM272.6 301.3h1.1v1.1h-1.1zM263 308.2h1.1v1.1h-1.1zM271.7 302.7h1.1v1.1h-1.1zM271.1 293.1h1.1v1.1h-1.1zM271.6 299.8h1.1v1.1h-1.1zM275.2 298.3h1.1v1.1h-1.1zM266.9 309.5h1.1v1.1h-1.1zM271.7 295h1.1v1.1h-1.1zM265.9 308.5h1.1v1.1h-1.1zM290 314.6h1.1v1.1h-1.1zM258.5 307.9h1.1v1.1h-1.1zM267.5 294h1.1v1.1h-1.1zM264.2 309.1h1.1v1.1h-1.1zM269.1 296.6h1.1v1.1h-1.1zM266.2 303.5h1.1v1.1h-1.1zM270.7 296.9h1.1v1.1h-1.1zM268.3 304.3h1.1v1.1h-1.1zM269.7 309.2h1.1v1.1h-1.1zM265.7 301.7h1.1v1.1h-1.1zM263.7 289.8h1.1v1.1h-1.1zM267.8 298.8h1.1v1.1h-1.1zM268.4 292.6h1.1v1.1h-1.1zM276.9 300.7h1.1v1.1h-1.1zM268.8 299.6h1.1v1.1h-1.1zM269.8 295h1.1v1.1h-1.1zM265.7 307.1h1.1v1.1h-1.1zM265.9 294.9h1.1v1.1h-1.1zM263.7 309.5h1.1v1.1h-1.1zM271 296.8h1.1v1.1h-1.1zM265.7 295.5h1.1v1.1h-1.1zM249.2 310.5h1.1v1.1h-1.1zM267.9 293.4h1.1v1.1h-1.1zM267.6 293.5h1.1v1.1h-1.1zM262.2 302h1.1v1.1h-1.1zM259.7 304.5h1.1v1.1h-1.1zM265.4 302.4h1.1v1.1h-1.1zM264.9 307h1.1v1.1h-1.1zM269.7 297.8h1.1v1.1h-1.1zM256.2 305.8h1.1v1.1h-1.1zM287.2 293.4h1.1v1.1h-1.1zM270.3 304.8h1.1v1.1h-1.1zM267.8 304.1h1.1v1.1h-1.1zM272.9 300.2h1.1v1.1h-1.1zM256.6 315.1h1.1v1.1h-1.1zM269.4 307h1.1v1.1h-1.1zM275.2 298.5h1.1v1.1h-1.1zM273.1 305.2h1.1v1.1h-1.1zM262.6 299.4h1.1v1.1h-1.1zM268.6 293.3h1.1v1.1h-1.1zM272.5 308.5h1.1v1.1h-1.1zM280.3 304.9h1.1v1.1h-1.1zM267.5 286.8h1.1v1.1h-1.1zM268.9 295.6h1.1v1.1h-1.1zM261.8 302.6h1.1v1.1h-1.1zM276.6 284.9h1.1v1.1h-1.1zM268.6 304.3h1.1v1.1h-1.1zM264.4 305.5h1.1v1.1h-1.1zM259.1 321.6h1.1v1.1h-1.1zM260.6 307h1.1v1.1h-1.1zM263.5 311.8h1.1v1.1h-1.1zM275 302.1h1.1v1.1h-1.1zM262.1 307.2h1.1v1.1h-1.1zM270.9 311.3h1.1v1.1h-1.1zM270.7 290.4h1.1v1.1h-1.1zM267.5 304.3h1.1v1.1h-1.1zM260.9 310h1.1v1.1h-1.1zM259 305.9h1.1v1.1h-1.1zM269.5 299.8h1.1v1.1h-1.1zM261.4 307.2h1.1v1.1h-1.1zM266.6 302.7h1.1v1.1h-1.1zM255.9 294.2h1.1v1.1h-1.1zM265.1 310.9h1.1v1.1h-1.1zM254 299.2h1.1v1.1h-1.1zM272.8 300.6h1.1v1.1h-1.1zM262.4 303.6h1.1v1.1h-1.1zM260.3 304.6h1.1v1.1h-1.1zM268.7 305.4h1.1v1.1h-1.1zM261.5 307.1h1.1v1.1h-1.1zM270.3 295h1.1v1.1h-1.1zM267.8 293.2h1.1v1.1h-1.1zM276.8 326.5h1.1v1.1h-1.1zM263 303.9h1.1v1.1h-1.1zM268.8 305.5h1.1v1.1h-1.1zM272.1 313.1h1.1v1.1h-1.1zM260.6 320.7h1.1v1.1h-1.1zM260.6 302.3h1.1v1.1h-1.1zM266.3 300h1.1v1.1h-1.1zM268.6 302.8h1.1v1.1h-1.1zM260.7 276.4h1.1v1.1h-1.1zM285.1 290.1h1.1v1.1h-1.1zM262.6 295.7h1.1v1.1h-1.1zM262.3 309.6h1.1v1.1h-1.1zM270.4 301.4h1.1v1.1h-1.1zM274 296.8h1.1v1.1h-1.1zM262.2 302.6h1.1v1.1h-1.1zM263.4 306.6h1.1v1.1h-1.1zM267.1 295.4h1.1v1.1h-1.1zM270.6 293.9h1.1v1.1h-1.1zM263.9 302.1h1.1v1.1h-1.1zM270.9 297.6h1.1v1.1h-1.1zM274.9 297.6h1.1v1.1h-1.1zM272.2 316.3h1.1v1.1h-1.1zM266.8 305.8h1.1v1.1h-1.1zM275.2 288.6h1.1v1.1h-1.1zM262.5 304h1.1v1.1h-1.1zM256.5 322.8h1.1v1.1h-1.1zM255.9 312.2h1.1v1.1h-1.1zM263.1 311.4h1.1v1.1h-1.1zM271.5 295.7h1.1v1.1h-1.1zM270.6 302.1h1.1v1.1h-1.1zM275.9 287.5h1.1v1.1h-1.1zM265.2 296.5h1.1v1.1h-1.1zM265.4 293.5h1.1v1.1h-1.1zM266 295.5h1.1v1.1h-1.1zM272.6 303.9h1.1v1.1h-1.1zM254.5 297.3h1.1v1.1h-1.1zM255.8 309.9h1.1v1.1h-1.1zM266.1 304.4h1.1v1.1h-1.1zM273.9 292.4h1.1v1.1h-1.1zM273.8 298.7h1.1v1.1h-1.1zM278.5 296.3h1.1v1.1h-1.1zM265.2 305.2h1.1v1.1h-1.1zM261.4 304.9h1.1v1.1h-1.1zM248.3 317.8h1.1v1.1h-1.1zM267.9 288.5h1.1v1.1h-1.1zM260.9 317.7h1.1v1.1h-1.1zM257.9 297.9h1.1v1.1h-1.1zM258.6 306.9h1.1v1.1h-1.1zM267 309.9h1.1v1.1h-1.1zM273 293.5h1.1v1.1h-1.1zM259 303.8h1.1v1.1h-1.1zM264.7 298.6h1.1v1.1h-1.1zM261.1 317.4h1.1v1.1h-1.1zM270.1 300.6h1.1v1.1h-1.1zM260.9 305.9h1.1v1.1h-1.1zM261.2 309h1.1v1.1h-1.1zM267.6 308.5h1.1v1.1h-1.1zM270.4 304.2h1.1v1.1h-1.1zM267.5 306.3h1.1v1.1h-1.1zM284.1 291.2h1.1v1.1h-1.1zM275.2 290.2h1.1v1.1h-1.1zM281.9 307.1h1.1v1.1h-1.1zM259.3 308.1h1.1v1.1h-1.1zM271.3 305.5h1.1v1.1h-1.1zM274.2 297.8h1.1v1.1h-1.1zM263.3 307.3h1.1v1.1h-1.1zM261.6 301.6h1.1v1.1h-1.1zM263 299.8h1.1v1.1h-1.1zM266.9 293.8h1.1v1.1h-1.1zM271.8 298.9h1.1v1.1h-1.1zM271.1 302.7h1.1v1.1h-1.1zM267.3 311.4h1.1v1.1h-1.1zM264.6 300.3h1.1v1.1h-1.1zM283.9 290.3h1.1v1.1h-1.1zM268.7 306.9h1.1v1.1h-1.1zM280.5 301.9h1.1v1.1h-1.1zM273.7 303.1h1.1v1.1h-1.1zM268.7 308.3h1.1v1.1h-1.1zM265 299.2h1.1v1.1h-1.1zM285.3 280.8h1.1v1.1h-1.1zM272.4 302.3h1.1v1.1h-1.1zM279 285.7h1.1v1.1h-1.1zM270.1 302.4h1.1v1.1h-1.1zM263.2 304.4h1.1v1.1h-1.1zM262.9 285.8h1.1v1.1h-1.1zM269.7 305.4h1.1v1.1h-1.1zM275.4 298.3h1.1v1.1h-1.1zM270.5 301.5h1.1v1.1h-1.1zM261 308.9h1.1v1.1h-1.1zM259.2 304.1h1.1v1.1h-1.1zM268.5 304.7h1.1v1.1h-1.1zM257.7 294h1.1v1.1h-1.1zM268.4 304.2h1.1v1.1h-1.1zM262.3 310.6h1.1v1.1h-1.1zM270.1 296.6h1.1v1.1h-1.1zM260 295.5h1.1v1.1h-1.1zM268.6 306h1.1v1.1h-1.1zM270.5 295.7h1.1v1.1h-1.1zM268.2 306.1h1.1v1.1h-1.1zM240.8 321.3h1.1v1.1h-1.1zM261.1 304.1h1.1v1.1h-1.1zM281.1 297.9h1.1v1.1h-1.1zM263.2 301.8h1.1v1.1h-1.1zM267.1 306.8h1.1v1.1h-1.1zM265.6 301.8h1.1v1.1h-1.1zM266.8 298.6h1.1v1.1h-1.1zM265.4 296.6h1.1v1.1h-1.1zM273.4 281.4h1.1v1.1h-1.1zM265.4 308.1h1.1v1.1h-1.1zM251.7 318.3h1.1v1.1h-1.1zM263.3 309.4h1.1v1.1h-1.1zM266.3 297.8h1.1v1.1h-1.1zM260.3 301.8h1.1v1.1h-1.1zM271.7 297.5h1.1v1.1h-1.1zM266.1 296.9h1.1v1.1h-1.1zM268.2 296.3h1.1v1.1h-1.1zM267.9 298.7h1.1v1.1h-1.1zM256.5 304h1.1v1.1h-1.1zM262.6 300.6h1.1v1.1h-1.1zM270.2 300h1.1v1.1h-1.1zM273 298.5h1.1v1.1h-1.1zM259.4 301.4h1.1v1.1h-1.1zM268.8 296.2h1.1v1.1h-1.1zM271 312.2h1.1v1.1h-1.1zM262.9 306.8h1.1v1.1h-1.1zM264.7 299.5h1.1v1.1h-1.1zM278.4 307.1h1.1v1.1h-1.1zM271 308.6h1.1v1.1h-1.1zM262.6 296.8h1.1v1.1h-1.1zM256.9 299.6h1.1v1.1h-1.1zM266 288.7h1.1v1.1h-1.1zM268.6 299.4h1.1v1.1h-1.1zM265.4 308.7h1.1v1.1h-1.1zM261.9 298.3h1.1v1.1h-1.1zM269.1 308.1h1.1v1.1h-1.1zM269.7 299.8h1.1v1.1h-1.1zM278.5 269.4h1.1v1.1h-1.1zM258.3 312.3h1.1v1.1h-1.1zM265 308.8h1.1v1.1h-1.1zM263.4 303.6h1.1v1.1h-1.1zM263.2 306.3h1.1v1.1h-1.1zM266.5 291.2h1.1v1.1h-1.1zM267.1 309.6h1.1v1.1h-1.1zM259.6 297.2h1.1v1.1h-1.1zM273.7 300.9h1.1v1.1h-1.1zM255.4 312.6h1.1v1.1h-1.1zM260.6 306.6h1.1v1.1h-1.1zM260.7 306.2h1.1v1.1h-1.1zM265.6 303.4h1.1v1.1h-1.1zM272.8 299h1.1v1.1h-1.1zM259.4 290.6h1.1v1.1h-1.1zM272 298.6h1.1v1.1h-1.1zM270.2 296.2h1.1v1.1h-1.1zM264.8 301.4h1.1v1.1h-1.1zM269.8 293.6h1.1v1.1h-1.1zM282.6 288.6h1.1v1.1h-1.1zM263.9 305.9h1.1v1.1h-1.1zM263.1 308h1.1v1.1h-1.1zM263.3 299.5h1.1v1.1h-1.1zM261.4 304.2h1.1v1.1h-1.1zM260.5 305.4h1.1v1.1h-1.1zM271.7 299.6h1.1v1.1h-1.1zM270 301.1h1.1v1.1h-1.1zM268.3 300.2h1.1v1.1h-1.1zM270.7 296.9h1.1v1.1h-1.1zM269 307h1.1v1.1h-1.1zM265.4 298.5h1.1v1.1h-1.1zM262.2 303.8h1.1v1.1h-1.1zM262.5 303h1.1v1.1h-1.1zM263.2 305.8h1.1v1.1h-1.1zM254.2 303.5h1.1v1.1h-1.1zM258.8 307.9h1.1v1.1h-1.1zM265.9 299.3h1.1v1.1h-1.1zM270.6 284.5h1.1v1.1h-1.1zM273.6 305.4h1.1v1.1h-1.1zM258.7 307.2h1.1v1.1h-1.1zM264.8 307.5h1.1v1.1h-1.1zM268.5 301.7h1.1v1.1h-1.1zM267.9 296.5h1.1v1.1h-1.1zM247.9 318.7h1.1v1.1h-1.1zM259.5 295.2h1.1v1.1h-1.1zM264.4 297.2h1.1v1.1h-1.1zM260.4 306.4h1.1v1.1h-1.1zM262.9 300.5h1.1v1.1h-1.1zM268.2 301.4h1.1v1.1h-1.1zM272.6 302.2h1.1v1.1h-1.1zM258.5 308h1.1v1.1h-1.1zM272.1 297.1h1.1v1.1h-1.1zM275 302.3h1.1v1.1h-1.1zM286.9 298.3h1.1v1.1h-1.1zM270.5 307.7h1.1v1.1h-1.1zM274.8 295.7h1.1v1.1h-1.1zM273.2 300h1.1v1.1h-1.1zM265.5 299.7h1.1v1.1h-1.1zM264.6 303.6h1.1v1.1h-1.1zM259.5 307.8h1.1v1.1h-1.1zM270.9 308.2h1.1v1.1h-1.1zM263.2 295.5h1.1v1.1h-1.1zM266.6 297.2h1.1v1.1h-1.1zM266.6 304.6h1.1v1.1h-1.1zM264.5 283.2h1.1v1.1h-1.1zM271.6 292.3h1.1v1.1h-1.1zM269.1 305.8h1.1v1.1h-1.1zM263.5 289.8h1.1v1.1h-1.1zM272.7 302.3h1.1v1.1h-1.1zM279.8 295.6h1.1v1.1h-1.1zM265.3 304.5h1.1v1.1h-1.1zM274.3 300.8h1.1v1.1h-1.1zM262.7 301.7h1.1v1.1h-1.1zM265.5 296.6h1.1v1.1h-1.1zM256.7 312h1.1v1.1h-1.1zM266.9 309.1h1.1v1.1h-1.1zM249.9 304.2h1.1v1.1h-1.1zM255 302.2h1.1v1.1h-1.1zM270.1 294.4h1.1v1.1h-1.1zM266.6 302.1h1.1v1.1h-1.1zM265.4 315.7h1.1v1.1h-1.1z" fill="#8f8f8f"/><polygon points="241.5,297.8 258.6,278.4 280.3,269.8 290.5,279.6 292.4,299 283.7,321.3 262,329.1 245.4,317.2" fill="none" stroke="#2d2d2d" stroke-width="1.3"/><polygon points="247.2,299 260.9,283 278,276.1 286,283 287.1,299 280.3,316.1 263.2,322.9 249.5,313.8" fill="none" stroke="#555" stroke-width="0.8" stroke-dasharray="2 1.5"/></g><rect x="163" y="226.4" width="151.8" height="152.2" fill="none" stroke="#7a7a7a" stroke-width="1.3"/><path d="M163 226.4V378.6H314.8" stroke="#555" stroke-width="1.5" fill="none"/><path d="M163 229.4h-2.5M163 235.4h-2.5M163 241.3h-2.5M163 247.3h-2.5M163 253.3h-2.5M163 259.2h-2.5M163 265.2h-2.5M163 271.2h-2.5M163 277.1h-2.5M163 283.1h-2.5M163 289.1h-2.5M163 295h-2.5M163 301h-2.5M163 307h-2.5M163 313h-2.5M163 318.9h-2.5M163 324.9h-2.5M163 330.9h-2.5M163 336.8h-2.5M163 342.8h-2.5M163 348.8h-2.5M163 354.7h-2.5M163 360.7h-2.5M163 366.7h-2.5M163 372.6h-2.5M163 378.6h-2.5M165 378.6v2.5M170.9 378.6v2.5M176.8 378.6v2.5M182.7 378.6v2.5M188.6 378.6v2.5M194.6 378.6v2.5M200.5 378.6v2.5M206.4 378.6v2.5M212.3 378.6v2.5M218.2 378.6v2.5M224.1 378.6v2.5M230 378.6v2.5M235.9 378.6v2.5M241.9 378.6v2.5M247.8 378.6v2.5M253.7 378.6v2.5M259.6 378.6v2.5M265.5 378.6v2.5M271.4 378.6v2.5M277.3 378.6v2.5M283.2 378.6v2.5M289.2 378.6v2.5M295.1 378.6v2.5M301 378.6v2.5M306.9 378.6v2.5M312.8 378.6v2.5" stroke="#8a8a8a" stroke-width="0.8" fill="none"/><text x="244" y="249.5" font-size="13" fill="#333" stroke="#333" stroke-width="0.3" textLength="27.8" lengthAdjust="spacingAndGlyphs">94%</text><text x="158" y="245.1" font-size="8.6" fill="#7a7a7a" text-anchor="end">10<tspan dy="-4" font-size="6.3">5</tspan></text><text x="158" y="279.3" font-size="8.6" fill="#7a7a7a" text-anchor="end">10<tspan dy="-4" font-size="6.3">4</tspan></text><text x="158" y="314.7" font-size="8.6" fill="#7a7a7a" text-anchor="end">10<tspan dy="-4" font-size="6.3">3</tspan></text><text x="158" y="351.2" font-size="8.6" fill="#7a7a7a" text-anchor="end">10<tspan dy="-4" font-size="6.3">2</tspan></text><text x="153" y="367.9" font-size="9" fill="#7a7a7a" text-anchor="end">0</text><text x="174.2" y="397.5" font-size="8.6" fill="#7d7d7d" text-anchor="middle">0</text><text x="194.7" y="397.5" font-size="8.6" fill="#7d7d7d" text-anchor="middle" fill-opacity="0.95">10<tspan dy="-3.6" font-size="6.2">2</tspan></text><text x="232.4" y="397.5" font-size="8.6" fill="#7d7d7d" text-anchor="middle" fill-opacity="0.95">10<tspan dy="-3.6" font-size="6.2">3</tspan></text><text x="267.7" y="397.5" font-size="8.6" fill="#7d7d7d" text-anchor="middle" fill-opacity="0.95">10<tspan dy="-3.6" font-size="6.2">4</tspan></text><text x="302" y="397.5" font-size="8.6" fill="#7d7d7d" text-anchor="middle" fill-opacity="0.95">10<tspan dy="-3.6" font-size="6.2">5</tspan></text><text x="323.3" y="302" font-size="10.5" font-weight="bold" fill="#2a2a2a" text-anchor="middle" textLength="43" lengthAdjust="spacingAndGlyphs" transform="rotate(-90 323.3 302)">% of Max</text><clipPath id="c0_347"><rect x="347.5" y="49.5" width="151.7" height="151.8"/></clipPath><g clip-path="url(#c0_347)"><path d="M350.3 200.1 C350.8 197.4 352.1 195 353.3 183.7 C354.5 172.4 356.2 147.8 357.4 132.4 C358.6 117 359.7 102.6 360.5 91.3 C361.3 80 361.6 69.2 362.2 64.6 C362.8 60 363.6 64.3 364.2 63.6 C364.8 62.9 365.2 60.7 365.7 60.5 C366.1 60.4 366.6 57.4 367.1 62.6 C367.6 67.7 368.1 81.4 368.7 91.3 C369.4 101.2 369.9 111.8 370.8 122.1 C371.6 132.4 372.8 143.3 373.9 152.9 C374.9 162.5 375.7 172.4 376.9 179.6 C378.1 186.8 379.9 192.6 381.1 196 C382.2 199.4 383.6 199.4 384.1 200.1 L384.1 201.3 L350.3 201.3 Z" fill="#858585"/><path d="M419 200.1 C419.4 198.4 420.2 194.3 421.1 189.8 C421.9 185.4 423 178.2 424.2 173.4 C425.4 168.6 427.1 165.2 428.3 161.1 C429.5 157 430.3 154.6 431.3 148.8 C432.4 143 433.4 133 434.4 126.2 C435.4 119.4 436.5 114.2 437.5 107.7 C438.5 101.2 439.7 92.3 440.6 87.2 C441.4 82.1 441.9 80.7 442.6 76.9 C443.3 73.2 444 65.7 444.7 64.6 C445.4 63.6 446 68.7 446.7 70.8 C447.4 72.8 448.1 72.2 448.8 76.9 C449.5 81.7 450 91.3 450.8 99.5 C451.7 107.7 452.9 117 453.9 126.2 C454.9 135.4 456 146 457 154.9 C458 163.8 459 172.7 460.1 179.6 C461.1 186.4 462.2 192.6 463.2 196 C464.1 199.4 465.2 199.4 465.6 200.1" fill="none" stroke="#383838" stroke-width="1.45" stroke-linejoin="round"/></g><path d="M380.4 128.7H496M380.4 126.2v5M496 126.2v5" stroke="#555" stroke-width="1.4" fill="none"/><rect x="347.5" y="49.5" width="151.7" height="151.8" fill="none" stroke="#7a7a7a" stroke-width="1.3"/><path d="M347.5 49.5V201.3H499.2" stroke="#555" stroke-width="1.5" fill="none"/><path d="M347.5 52.5h-2.5M347.5 58.5h-2.5M347.5 64.4h-2.5M347.5 70.4h-2.5M347.5 76.3h-2.5M347.5 82.3h-2.5M347.5 88.2h-2.5M347.5 94.2h-2.5M347.5 100.1h-2.5M347.5 106.1h-2.5M347.5 112h-2.5M347.5 118h-2.5M347.5 123.9h-2.5M347.5 129.9h-2.5M347.5 135.8h-2.5M347.5 141.8h-2.5M347.5 147.7h-2.5M347.5 153.7h-2.5M347.5 159.6h-2.5M347.5 165.6h-2.5M347.5 171.5h-2.5M347.5 177.5h-2.5M347.5 183.4h-2.5M347.5 189.4h-2.5M347.5 195.3h-2.5M347.5 201.3h-2.5M349.5 201.3v2.5M355.4 201.3v2.5M361.3 201.3v2.5M367.2 201.3v2.5M373.1 201.3v2.5M379 201.3v2.5M384.9 201.3v2.5M390.9 201.3v2.5M396.8 201.3v2.5M402.7 201.3v2.5M408.6 201.3v2.5M414.5 201.3v2.5M420.4 201.3v2.5M426.3 201.3v2.5M432.2 201.3v2.5M438.1 201.3v2.5M444 201.3v2.5M449.9 201.3v2.5M455.8 201.3v2.5M461.8 201.3v2.5M467.7 201.3v2.5M473.6 201.3v2.5M479.5 201.3v2.5M485.4 201.3v2.5M491.3 201.3v2.5M497.2 201.3v2.5" stroke="#8a8a8a" stroke-width="0.8" fill="none"/><text x="340.5" y="203.7" font-size="6.8" fill="#7a7a7a" text-anchor="end">0</text><path d="M347.5 201.3h-4.5" stroke="#777" stroke-width="1"/><text x="340.5" y="175.1" font-size="6.8" fill="#7a7a7a" text-anchor="end">20</text><path d="M347.5 172.7h-4.5" stroke="#777" stroke-width="1"/><text x="340.5" y="146.6" font-size="6.8" fill="#7a7a7a" text-anchor="end">40</text><path d="M347.5 144.2h-4.5" stroke="#777" stroke-width="1"/><text x="340.5" y="118" font-size="6.8" fill="#7a7a7a" text-anchor="end">60</text><path d="M347.5 115.6h-4.5" stroke="#777" stroke-width="1"/><text x="340.5" y="89.5" font-size="6.8" fill="#7a7a7a" text-anchor="end">80</text><path d="M347.5 87.1h-4.5" stroke="#777" stroke-width="1"/><text x="340.5" y="60.9" font-size="6.8" fill="#7a7a7a" text-anchor="end">100</text><path d="M347.5 58.5h-4.5" stroke="#777" stroke-width="1"/><text x="359.5" y="219.3" font-size="8.6" fill="#7d7d7d" text-anchor="middle">0</text><text x="380.1" y="219.3" font-size="8.6" fill="#7d7d7d" text-anchor="middle" fill-opacity="0.95">10<tspan dy="-3.6" font-size="6.2">2</tspan></text><text x="416.4" y="219.3" font-size="8.6" fill="#7d7d7d" text-anchor="middle" fill-opacity="0.95">10<tspan dy="-3.6" font-size="6.2">3</tspan></text><text x="452.3" y="219.3" font-size="8.6" fill="#7d7d7d" text-anchor="middle" fill-opacity="0.95">10<tspan dy="-3.6" font-size="6.2">4</tspan></text><text x="487.2" y="219.3" font-size="8.6" fill="#7d7d7d" text-anchor="middle" fill-opacity="0.95">10<tspan dy="-3.6" font-size="6.2">5</tspan></text><text x="415.9" y="70.8" font-size="16" fill="#2a2a2a" stroke="#2a2a2a" stroke-width="0.4" textLength="71.8" lengthAdjust="spacingAndGlyphs" xml:space="preserve">MFI 4820</text><clipPath id="c0_522"><rect x="522.6" y="49.5" width="151.7" height="151.8"/></clipPath><g clip-path="url(#c0_522)"><path d="M541.4 200.7 C542.3 199 545 195.6 546.4 190.6 C547.9 185.6 548.9 180.6 550.2 170.6 C551.4 160.5 552.9 145.1 554 130.4 C555 115.8 555.8 94.3 556.5 82.8 C557.2 71.3 557.6 62.7 558.2 61.4 C558.8 60.2 559.5 66.7 560.2 75.2 C561 83.8 561.7 99.5 562.7 112.9 C563.8 126.2 565.3 143.4 566.5 155.5 C567.7 167.6 568.7 178.1 569.8 185.6 C570.8 193.1 572.3 198.1 572.8 200.7 L572.8 201.3 L541.4 201.3 Z" fill="#858585"/><path d="M540.2 200.5 C541.4 200.1 545.2 199.4 547.7 198.1 C550.2 196.9 553.1 196.9 555.2 193.1 C557.3 189.4 558.8 182.7 560.2 175.6 C561.7 168.5 562.9 160.9 564 150.5 C565 140 565.8 123.3 566.5 112.9 C567.2 102.4 567.6 94.9 568.3 87.8 C568.9 80.7 569.5 72.3 570.3 70.2 C571 68.1 571.9 74.8 572.8 75.2 C573.6 75.7 574.5 73.6 575.3 72.7 C576 71.9 576.5 68.6 577.3 70.2 C578 71.9 578.9 78.6 579.8 82.8 C580.7 86.9 581.7 92 582.8 95.3 C583.9 98.7 585.4 100.3 586.6 102.8 C587.7 105.3 589 105.8 589.8 110.4 C590.7 115 590.7 124.6 591.6 130.4 C592.5 136.3 593.9 140.5 595.3 145.5 C596.8 150.5 598.7 155.5 600.4 160.5 C602 165.5 603.7 171.8 605.4 175.6 C607 179.3 608.7 180.6 610.4 183.1 C612.1 185.6 613.3 188.1 615.4 190.6 C617.5 193.1 620.8 196.5 622.9 198.1 C625 199.8 627.1 200.1 627.9 200.5" fill="none" stroke="#383838" stroke-width="1.45" stroke-linejoin="round"/></g><path d="M573.5 134.7H674.3M573.5 132.2v5M674.3 132.2v5" stroke="#555" stroke-width="1.4" fill="none"/><rect x="522.6" y="49.5" width="151.7" height="151.8" fill="none" stroke="#7a7a7a" stroke-width="1.3"/><path d="M522.6 49.5V201.3H674.3" stroke="#555" stroke-width="1.5" fill="none"/><path d="M522.6 52.5h-2.5M522.6 58.5h-2.5M522.6 64.4h-2.5M522.6 70.4h-2.5M522.6 76.3h-2.5M522.6 82.3h-2.5M522.6 88.2h-2.5M522.6 94.2h-2.5M522.6 100.1h-2.5M522.6 106.1h-2.5M522.6 112h-2.5M522.6 118h-2.5M522.6 123.9h-2.5M522.6 129.9h-2.5M522.6 135.8h-2.5M522.6 141.8h-2.5M522.6 147.7h-2.5M522.6 153.7h-2.5M522.6 159.6h-2.5M522.6 165.6h-2.5M522.6 171.5h-2.5M522.6 177.5h-2.5M522.6 183.4h-2.5M522.6 189.4h-2.5M522.6 195.3h-2.5M522.6 201.3h-2.5M524.6 201.3v2.5M530.5 201.3v2.5M536.4 201.3v2.5M542.3 201.3v2.5M548.2 201.3v2.5M554.1 201.3v2.5M560 201.3v2.5M566 201.3v2.5M571.9 201.3v2.5M577.8 201.3v2.5M583.7 201.3v2.5M589.6 201.3v2.5M595.5 201.3v2.5M601.4 201.3v2.5M607.3 201.3v2.5M613.2 201.3v2.5M619.1 201.3v2.5M625 201.3v2.5M630.9 201.3v2.5M636.9 201.3v2.5M642.8 201.3v2.5M648.7 201.3v2.5M654.6 201.3v2.5M660.5 201.3v2.5M666.4 201.3v2.5M672.3 201.3v2.5" stroke="#8a8a8a" stroke-width="0.8" fill="none"/><text x="515.6" y="203.7" font-size="6.8" fill="#7a7a7a" text-anchor="end">0</text><path d="M522.6 201.3h-4.5" stroke="#777" stroke-width="1"/><text x="515.6" y="175.1" font-size="6.8" fill="#7a7a7a" text-anchor="end">20</text><path d="M522.6 172.7h-4.5" stroke="#777" stroke-width="1"/><text x="515.6" y="146.6" font-size="6.8" fill="#7a7a7a" text-anchor="end">40</text><path d="M522.6 144.2h-4.5" stroke="#777" stroke-width="1"/><text x="515.6" y="118" font-size="6.8" fill="#7a7a7a" text-anchor="end">60</text><path d="M522.6 115.6h-4.5" stroke="#777" stroke-width="1"/><text x="515.6" y="89.5" font-size="6.8" fill="#7a7a7a" text-anchor="end">80</text><path d="M522.6 87.1h-4.5" stroke="#777" stroke-width="1"/><text x="515.6" y="60.9" font-size="6.8" fill="#7a7a7a" text-anchor="end">100</text><path d="M522.6 58.5h-4.5" stroke="#777" stroke-width="1"/><text x="534.6" y="219.3" font-size="8.6" fill="#7d7d7d" text-anchor="middle">0</text><text x="555.2" y="219.3" font-size="8.6" fill="#7d7d7d" text-anchor="middle" fill-opacity="0.95">10<tspan dy="-3.6" font-size="6.2">2</tspan></text><text x="591.5" y="219.3" font-size="8.6" fill="#7d7d7d" text-anchor="middle" fill-opacity="0.95">10<tspan dy="-3.6" font-size="6.2">3</tspan></text><text x="627.4" y="219.3" font-size="8.6" fill="#7d7d7d" text-anchor="middle" fill-opacity="0.95">10<tspan dy="-3.6" font-size="6.2">4</tspan></text><text x="662.3" y="219.3" font-size="8.6" fill="#7d7d7d" text-anchor="middle" fill-opacity="0.95">10<tspan dy="-3.6" font-size="6.2">5</tspan></text><text x="602.1" y="70.7" font-size="16" fill="#2a2a2a" stroke="#2a2a2a" stroke-width="0.4" textLength="63.5" lengthAdjust="spacingAndGlyphs" xml:space="preserve">MFI 522</text><clipPath id="c0_699"><rect x="699.4" y="49.5" width="151.7" height="151.8"/></clipPath><g clip-path="url(#c0_699)"><path d="M700.2 200.7 C700.2 181 699.7 103.7 700.2 82.8 C700.7 61.9 701.6 77.5 703.2 75.2 C704.7 72.9 707.8 68.1 709.5 69 C711.1 69.8 712 74.2 713.2 80.3 C714.5 86.3 715.7 96.1 717 105.3 C718.2 114.5 719.5 125.8 720.7 135.4 C722 145.1 723.3 154.7 724.5 163 C725.8 171.4 726.8 179.3 728.3 185.6 C729.7 191.9 732.5 198.1 733.3 200.7 L733.3 201.3 L700.2 201.3 Z" fill="#858585"/><path d="M700.2 190.6 C701.1 190.5 703.1 190 705.7 190.1 C708.3 190.2 712.8 191.7 715.7 191.1 C718.7 190.6 721.2 187.6 723.3 186.9 C725.3 186.1 726.4 187.9 728.3 186.9 C730.2 185.8 732.5 183.3 734.5 180.6 C736.6 177.9 738.7 174.7 740.8 170.6 C742.9 166.4 745 160.5 747.1 155.5 C749.2 150.5 751.5 147.6 753.4 140.5 C755.2 133.4 756.9 118.7 758.4 112.9 C759.8 107 760.9 109.5 762.1 105.3 C763.4 101.2 764.9 92 765.9 87.8 C766.9 83.6 767.6 82.8 768.4 80.3 C769.2 77.8 770.1 73.6 770.9 72.7 C771.7 71.9 772.4 76.1 773.4 75.2 C774.5 74.4 775.9 68.1 777.2 67.7 C778.4 67.3 779.8 70.2 780.9 72.7 C782.1 75.2 782.7 76.5 784 82.8 C785.2 89 787.1 102.4 788.5 110.4 C789.8 118.3 791 123.7 792.2 130.4 C793.5 137.1 794.5 143.8 796 150.5 C797.5 157.2 799.3 164.3 801 170.6 C802.7 176.8 804.1 183.1 806 188.1 C807.9 193.1 811.3 198.4 812.3 200.5" fill="none" stroke="#383838" stroke-width="1.45" stroke-linejoin="round"/></g><path d="M726.5 134.7H850.7M726.5 132.2v5M850.7 132.2v5" stroke="#555" stroke-width="1.4" fill="none"/><rect x="699.4" y="49.5" width="151.7" height="151.8" fill="none" stroke="#7a7a7a" stroke-width="1.3"/><path d="M699.4 49.5V201.3H851.1" stroke="#555" stroke-width="1.5" fill="none"/><path d="M699.4 52.5h-2.5M699.4 58.5h-2.5M699.4 64.4h-2.5M699.4 70.4h-2.5M699.4 76.3h-2.5M699.4 82.3h-2.5M699.4 88.2h-2.5M699.4 94.2h-2.5M699.4 100.1h-2.5M699.4 106.1h-2.5M699.4 112h-2.5M699.4 118h-2.5M699.4 123.9h-2.5M699.4 129.9h-2.5M699.4 135.8h-2.5M699.4 141.8h-2.5M699.4 147.7h-2.5M699.4 153.7h-2.5M699.4 159.6h-2.5M699.4 165.6h-2.5M699.4 171.5h-2.5M699.4 177.5h-2.5M699.4 183.4h-2.5M699.4 189.4h-2.5M699.4 195.3h-2.5M699.4 201.3h-2.5M701.4 201.3v2.5M707.3 201.3v2.5M713.2 201.3v2.5M719.1 201.3v2.5M725 201.3v2.5M730.9 201.3v2.5M736.8 201.3v2.5M742.8 201.3v2.5M748.7 201.3v2.5M754.6 201.3v2.5M760.5 201.3v2.5M766.4 201.3v2.5M772.3 201.3v2.5M778.2 201.3v2.5M784.1 201.3v2.5M790 201.3v2.5M795.9 201.3v2.5M801.8 201.3v2.5M807.7 201.3v2.5M813.7 201.3v2.5M819.6 201.3v2.5M825.5 201.3v2.5M831.4 201.3v2.5M837.3 201.3v2.5M843.2 201.3v2.5M849.1 201.3v2.5" stroke="#8a8a8a" stroke-width="0.8" fill="none"/><text x="692.4" y="203.7" font-size="6.8" fill="#7a7a7a" text-anchor="end">0</text><path d="M699.4 201.3h-4.5" stroke="#777" stroke-width="1"/><text x="692.4" y="175.1" font-size="6.8" fill="#7a7a7a" text-anchor="end">20</text><path d="M699.4 172.7h-4.5" stroke="#777" stroke-width="1"/><text x="692.4" y="146.6" font-size="6.8" fill="#7a7a7a" text-anchor="end">40</text><path d="M699.4 144.2h-4.5" stroke="#777" stroke-width="1"/><text x="692.4" y="118" font-size="6.8" fill="#7a7a7a" text-anchor="end">60</text><path d="M699.4 115.6h-4.5" stroke="#777" stroke-width="1"/><text x="692.4" y="89.5" font-size="6.8" fill="#7a7a7a" text-anchor="end">80</text><path d="M699.4 87.1h-4.5" stroke="#777" stroke-width="1"/><text x="692.4" y="60.9" font-size="6.8" fill="#7a7a7a" text-anchor="end">100</text><path d="M699.4 58.5h-4.5" stroke="#777" stroke-width="1"/><text x="711.4" y="219.3" font-size="8.6" fill="#7d7d7d" text-anchor="middle">0</text><text x="732" y="219.3" font-size="8.6" fill="#7d7d7d" text-anchor="middle" fill-opacity="0.95">10<tspan dy="-3.6" font-size="6.2">2</tspan></text><text x="768.3" y="219.3" font-size="8.6" fill="#7d7d7d" text-anchor="middle" fill-opacity="0.95">10<tspan dy="-3.6" font-size="6.2">3</tspan></text><text x="804.2" y="219.3" font-size="8.6" fill="#7d7d7d" text-anchor="middle" fill-opacity="0.95">10<tspan dy="-3.6" font-size="6.2">4</tspan></text><text x="839.1" y="219.3" font-size="8.6" fill="#7d7d7d" text-anchor="middle" fill-opacity="0.95">10<tspan dy="-3.6" font-size="6.2">5</tspan></text><text x="767.2" y="70.7" font-size="16" fill="#2a2a2a" stroke="#2a2a2a" stroke-width="0.4" textLength="72.2" lengthAdjust="spacingAndGlyphs" xml:space="preserve">MFI 1192</text><clipPath id="c0_875"><rect x="875" y="49.5" width="149.9" height="151.8"/></clipPath><g clip-path="url(#c0_875)"><path d="M897.6 200.7 C898.5 199.8 901.2 199 902.6 195.6 C904.1 192.3 905.1 189.8 906.4 180.6 C907.7 171.4 909.1 153.8 910.2 140.5 C911.2 127.1 911.9 112.9 912.7 100.3 C913.4 87.8 914.1 70.2 914.7 65.2 C915.3 60.2 915.7 62.3 916.4 70.2 C917.1 78.2 918.1 99.5 918.9 112.9 C919.8 126.2 920.6 139.2 921.4 150.5 C922.3 161.8 922.9 172.2 924 180.6 C925 188.9 927.1 197.3 927.7 200.7 L927.7 201.3 L897.6 201.3 Z" fill="#858585"/><path d="M947.8 200.5 C949 200.1 953.2 199.8 955.3 198.1 C957.4 196.5 958.7 195.2 960.3 190.6 C962 186 963.7 178.9 965.3 170.6 C967 162.2 968.9 150.9 970.4 140.5 C971.8 130 973.1 117 974.1 107.9 C975.2 98.7 975.8 91.3 976.6 85.3 C977.5 79.2 978.3 74.4 979.1 71.5 C980 68.6 980.8 67.1 981.6 67.7 C982.5 68.3 983.3 69.8 984.2 75.2 C985 80.7 985.8 91.1 986.7 100.3 C987.5 109.5 988.3 120 989.2 130.4 C990 140.9 990.6 153 991.7 163 C992.7 173.1 994 184.4 995.4 190.6 C996.9 196.9 999.6 198.9 1000.5 200.5" fill="none" stroke="#383838" stroke-width="1.45" stroke-linejoin="round"/></g><path d="M933.5 132.2H1024.3M933.5 129.7v5M1024.3 129.7v5" stroke="#555" stroke-width="1.4" fill="none"/><rect x="875" y="49.5" width="149.9" height="151.8" fill="none" stroke="#7a7a7a" stroke-width="1.3"/><path d="M875 49.5V201.3H1024.9" stroke="#555" stroke-width="1.5" fill="none"/><path d="M875 52.5h-2.5M875 58.5h-2.5M875 64.4h-2.5M875 70.4h-2.5M875 76.3h-2.5M875 82.3h-2.5M875 88.2h-2.5M875 94.2h-2.5M875 100.1h-2.5M875 106.1h-2.5M875 112h-2.5M875 118h-2.5M875 123.9h-2.5M875 129.9h-2.5M875 135.8h-2.5M875 141.8h-2.5M875 147.7h-2.5M875 153.7h-2.5M875 159.6h-2.5M875 165.6h-2.5M875 171.5h-2.5M875 177.5h-2.5M875 183.4h-2.5M875 189.4h-2.5M875 195.3h-2.5M875 201.3h-2.5M877 201.3v2.5M882.8 201.3v2.5M888.7 201.3v2.5M894.5 201.3v2.5M900.3 201.3v2.5M906.2 201.3v2.5M912 201.3v2.5M917.9 201.3v2.5M923.7 201.3v2.5M929.5 201.3v2.5M935.4 201.3v2.5M941.2 201.3v2.5M947 201.3v2.5M952.9 201.3v2.5M958.7 201.3v2.5M964.5 201.3v2.5M970.4 201.3v2.5M976.2 201.3v2.5M982 201.3v2.5M987.9 201.3v2.5M993.7 201.3v2.5M999.6 201.3v2.5M1005.4 201.3v2.5M1011.2 201.3v2.5M1017.1 201.3v2.5M1022.9 201.3v2.5" stroke="#8a8a8a" stroke-width="0.8" fill="none"/><text x="868" y="203.7" font-size="6.8" fill="#7a7a7a" text-anchor="end">0</text><path d="M875 201.3h-4.5" stroke="#777" stroke-width="1"/><text x="868" y="175.1" font-size="6.8" fill="#7a7a7a" text-anchor="end">20</text><path d="M875 172.7h-4.5" stroke="#777" stroke-width="1"/><text x="868" y="146.6" font-size="6.8" fill="#7a7a7a" text-anchor="end">40</text><path d="M875 144.2h-4.5" stroke="#777" stroke-width="1"/><text x="868" y="118" font-size="6.8" fill="#7a7a7a" text-anchor="end">60</text><path d="M875 115.6h-4.5" stroke="#777" stroke-width="1"/><text x="868" y="89.5" font-size="6.8" fill="#7a7a7a" text-anchor="end">80</text><path d="M875 87.1h-4.5" stroke="#777" stroke-width="1"/><text x="868" y="60.9" font-size="6.8" fill="#7a7a7a" text-anchor="end">100</text><path d="M875 58.5h-4.5" stroke="#777" stroke-width="1"/><text x="886.8" y="219.3" font-size="8.6" fill="#7d7d7d" text-anchor="middle">0</text><text x="907.2" y="219.3" font-size="8.6" fill="#7d7d7d" text-anchor="middle" fill-opacity="0.95">10<tspan dy="-3.6" font-size="6.2">2</tspan></text><text x="943.1" y="219.3" font-size="8.6" fill="#7d7d7d" text-anchor="middle" fill-opacity="0.95">10<tspan dy="-3.6" font-size="6.2">3</tspan></text><text x="978.6" y="219.3" font-size="8.6" fill="#7d7d7d" text-anchor="middle" fill-opacity="0.95">10<tspan dy="-3.6" font-size="6.2">4</tspan></text><text x="1013.1" y="219.3" font-size="8.6" fill="#7d7d7d" text-anchor="middle" fill-opacity="0.95">10<tspan dy="-3.6" font-size="6.2">5</tspan></text><text x="932.7" y="70.7" font-size="16" fill="#2a2a2a" stroke="#2a2a2a" stroke-width="0.4" textLength="80.3" lengthAdjust="spacingAndGlyphs" xml:space="preserve">MFI 11100</text><clipPath id="c0_1047"><rect x="1047.4" y="49.5" width="151.2" height="151.8"/></clipPath><g clip-path="url(#c0_1047)"><path d="M1070.7 200.7 C1071.5 199.8 1074.2 199 1075.7 195.6 C1077.2 192.3 1078.3 188.1 1079.5 180.6 C1080.6 173.1 1081.8 163 1082.7 150.5 C1083.7 137.9 1084.5 119.6 1085.2 105.3 C1086 91.1 1086.5 70.2 1087.2 65.2 C1087.9 60.2 1088.7 67.3 1089.5 75.2 C1090.3 83.2 1091.2 100.3 1092 112.9 C1092.8 125.4 1093.7 139.2 1094.5 150.5 C1095.3 161.8 1096 172.2 1097 180.6 C1098.1 188.9 1100.2 197.3 1100.8 200.7 L1100.8 201.3 L1070.7 201.3 Z" fill="#858585"/><path d="M1073.2 200.5 C1074.4 200.1 1078.4 200.2 1080.7 198.1 C1083 196.1 1085.3 192.7 1087 188.1 C1088.7 183.5 1089.5 178.5 1090.7 170.6 C1092 162.6 1093.5 151.3 1094.5 140.5 C1095.6 129.6 1096.2 116.2 1097 105.3 C1097.9 94.5 1098.7 81.1 1099.5 75.2 C1100.4 69.4 1101.2 70.9 1102 70.2 C1102.9 69.6 1103.7 68.1 1104.5 71.5 C1105.4 74.8 1106 84.2 1107.1 90.3 C1108.1 96.4 1109.6 99.5 1110.8 107.9 C1112.1 116.2 1113.3 130 1114.6 140.5 C1115.8 150.9 1116.9 161.8 1118.3 170.6 C1119.8 179.3 1121.7 188.1 1123.4 193.1 C1125 198.1 1127.5 199.3 1128.4 200.5" fill="none" stroke="#383838" stroke-width="1.45" stroke-linejoin="round"/></g><path d="M1105.8 132.2H1197.3M1105.8 129.7v5M1197.3 129.7v5" stroke="#555" stroke-width="1.4" fill="none"/><rect x="1047.4" y="49.5" width="151.2" height="151.8" fill="none" stroke="#7a7a7a" stroke-width="1.3"/><path d="M1047.4 49.5V201.3H1198.6" stroke="#555" stroke-width="1.5" fill="none"/><path d="M1047.4 52.5h-2.5M1047.4 58.5h-2.5M1047.4 64.4h-2.5M1047.4 70.4h-2.5M1047.4 76.3h-2.5M1047.4 82.3h-2.5M1047.4 88.2h-2.5M1047.4 94.2h-2.5M1047.4 100.1h-2.5M1047.4 106.1h-2.5M1047.4 112h-2.5M1047.4 118h-2.5M1047.4 123.9h-2.5M1047.4 129.9h-2.5M1047.4 135.8h-2.5M1047.4 141.8h-2.5M1047.4 147.7h-2.5M1047.4 153.7h-2.5M1047.4 159.6h-2.5M1047.4 165.6h-2.5M1047.4 171.5h-2.5M1047.4 177.5h-2.5M1047.4 183.4h-2.5M1047.4 189.4h-2.5M1047.4 195.3h-2.5M1047.4 201.3h-2.5M1049.4 201.3v2.5M1055.3 201.3v2.5M1061.2 201.3v2.5M1067.1 201.3v2.5M1073 201.3v2.5M1078.8 201.3v2.5M1084.7 201.3v2.5M1090.6 201.3v2.5M1096.5 201.3v2.5M1102.4 201.3v2.5M1108.3 201.3v2.5M1114.2 201.3v2.5M1120.1 201.3v2.5M1125.9 201.3v2.5M1131.8 201.3v2.5M1137.7 201.3v2.5M1143.6 201.3v2.5M1149.5 201.3v2.5M1155.4 201.3v2.5M1161.3 201.3v2.5M1167.2 201.3v2.5M1173 201.3v2.5M1178.9 201.3v2.5M1184.8 201.3v2.5M1190.7 201.3v2.5M1196.6 201.3v2.5" stroke="#8a8a8a" stroke-width="0.8" fill="none"/><text x="1040.4" y="203.7" font-size="6.8" fill="#7a7a7a" text-anchor="end">0</text><path d="M1047.4 201.3h-4.5" stroke="#777" stroke-width="1"/><text x="1040.4" y="175.1" font-size="6.8" fill="#7a7a7a" text-anchor="end">20</text><path d="M1047.4 172.7h-4.5" stroke="#777" stroke-width="1"/><text x="1040.4" y="146.6" font-size="6.8" fill="#7a7a7a" text-anchor="end">40</text><path d="M1047.4 144.2h-4.5" stroke="#777" stroke-width="1"/><text x="1040.4" y="118" font-size="6.8" fill="#7a7a7a" text-anchor="end">60</text><path d="M1047.4 115.6h-4.5" stroke="#777" stroke-width="1"/><text x="1040.4" y="89.5" font-size="6.8" fill="#7a7a7a" text-anchor="end">80</text><path d="M1047.4 87.1h-4.5" stroke="#777" stroke-width="1"/><text x="1040.4" y="60.9" font-size="6.8" fill="#7a7a7a" text-anchor="end">100</text><path d="M1047.4 58.5h-4.5" stroke="#777" stroke-width="1"/><text x="1059.3" y="219.3" font-size="8.6" fill="#7d7d7d" text-anchor="middle">0</text><text x="1079.9" y="219.3" font-size="8.6" fill="#7d7d7d" text-anchor="middle" fill-opacity="0.95">10<tspan dy="-3.6" font-size="6.2">2</tspan></text><text x="1116" y="219.3" font-size="8.6" fill="#7d7d7d" text-anchor="middle" fill-opacity="0.95">10<tspan dy="-3.6" font-size="6.2">3</tspan></text><text x="1151.9" y="219.3" font-size="8.6" fill="#7d7d7d" text-anchor="middle" fill-opacity="0.95">10<tspan dy="-3.6" font-size="6.2">4</tspan></text><text x="1186.7" y="219.3" font-size="8.6" fill="#7d7d7d" text-anchor="middle" fill-opacity="0.95">10<tspan dy="-3.6" font-size="6.2">5</tspan></text><text x="1123.4" y="70.7" font-size="16" fill="#2a2a2a" stroke="#2a2a2a" stroke-width="0.4" textLength="62.7" lengthAdjust="spacingAndGlyphs" xml:space="preserve">MFI 778</text><clipPath id="c0_1221"><rect x="1221.1" y="49.5" width="151.7" height="151.8"/></clipPath><g clip-path="url(#c0_1221)"><path d="M1232.6 200.7 C1233.9 199.4 1237.8 196.5 1240.1 193.1 C1242.4 189.8 1244.5 186.9 1246.4 180.6 C1248.3 174.3 1250 165.5 1251.4 155.5 C1252.9 145.5 1253.9 132.1 1255.2 120.4 C1256.4 108.7 1257.9 93.6 1258.9 85.3 C1260 76.9 1260.7 74.4 1261.4 70.2 C1262.2 66 1262.5 59.4 1263.2 60.2 C1263.9 61 1264.8 66 1265.7 75.2 C1266.7 84.4 1267.8 101.2 1269 115.4 C1270.1 129.6 1271.7 148.8 1272.7 160.5 C1273.8 172.2 1274.4 178.9 1275.2 185.6 C1276.1 192.3 1277.3 198.1 1277.8 200.7 L1277.8 201.3 L1232.6 201.3 Z" fill="#858585"/><path d="M1270.2 200.5 C1271.5 199.9 1275.7 199.4 1277.8 196.9 C1279.8 194.4 1281.3 191.2 1282.8 185.6 C1284.2 180 1285.5 171.4 1286.5 163 C1287.6 154.7 1288.2 145.1 1289 135.4 C1289.9 125.8 1290.7 114.5 1291.5 105.3 C1292.4 96.1 1293.2 86.5 1294.1 80.3 C1294.9 74 1295.7 70.6 1296.6 67.7 C1297.4 64.8 1298.2 61.9 1299.1 62.7 C1299.9 63.5 1300.7 66.5 1301.6 72.7 C1302.4 79 1303.3 91.5 1304.1 100.3 C1304.9 109.1 1305.8 117 1306.6 125.4 C1307.4 133.8 1308.1 142.1 1309.1 150.5 C1310.1 158.8 1311.4 168.9 1312.9 175.6 C1314.3 182.3 1315.8 186.9 1317.9 190.6 C1320 194.4 1322.9 196.5 1325.4 198.1 C1327.9 199.8 1331.7 200.1 1332.9 200.5" fill="none" stroke="#383838" stroke-width="1.45" stroke-linejoin="round"/></g><path d="M1278.5 129.9H1371.3M1278.5 127.4v5M1371.3 127.4v5" stroke="#555" stroke-width="1.4" fill="none"/><rect x="1221.1" y="49.5" width="151.7" height="151.8" fill="none" stroke="#7a7a7a" stroke-width="1.3"/><path d="M1221.1 49.5V201.3H1372.8" stroke="#555" stroke-width="1.5" fill="none"/><path d="M1221.1 52.5h-2.5M1221.1 58.5h-2.5M1221.1 64.4h-2.5M1221.1 70.4h-2.5M1221.1 76.3h-2.5M1221.1 82.3h-2.5M1221.1 88.2h-2.5M1221.1 94.2h-2.5M1221.1 100.1h-2.5M1221.1 106.1h-2.5M1221.1 112h-2.5M1221.1 118h-2.5M1221.1 123.9h-2.5M1221.1 129.9h-2.5M1221.1 135.8h-2.5M1221.1 141.8h-2.5M1221.1 147.7h-2.5M1221.1 153.7h-2.5M1221.1 159.6h-2.5M1221.1 165.6h-2.5M1221.1 171.5h-2.5M1221.1 177.5h-2.5M1221.1 183.4h-2.5M1221.1 189.4h-2.5M1221.1 195.3h-2.5M1221.1 201.3h-2.5M1223.1 201.3v2.5M1229 201.3v2.5M1234.9 201.3v2.5M1240.8 201.3v2.5M1246.7 201.3v2.5M1252.6 201.3v2.5M1258.5 201.3v2.5M1264.5 201.3v2.5M1270.4 201.3v2.5M1276.3 201.3v2.5M1282.2 201.3v2.5M1288.1 201.3v2.5M1294 201.3v2.5M1299.9 201.3v2.5M1305.8 201.3v2.5M1311.7 201.3v2.5M1317.6 201.3v2.5M1323.5 201.3v2.5M1329.4 201.3v2.5M1335.4 201.3v2.5M1341.3 201.3v2.5M1347.2 201.3v2.5M1353.1 201.3v2.5M1359 201.3v2.5M1364.9 201.3v2.5M1370.8 201.3v2.5" stroke="#8a8a8a" stroke-width="0.8" fill="none"/><text x="1214.1" y="203.7" font-size="6.8" fill="#7a7a7a" text-anchor="end">0</text><path d="M1221.1 201.3h-4.5" stroke="#777" stroke-width="1"/><text x="1214.1" y="175.1" font-size="6.8" fill="#7a7a7a" text-anchor="end">20</text><path d="M1221.1 172.7h-4.5" stroke="#777" stroke-width="1"/><text x="1214.1" y="146.6" font-size="6.8" fill="#7a7a7a" text-anchor="end">40</text><path d="M1221.1 144.2h-4.5" stroke="#777" stroke-width="1"/><text x="1214.1" y="118" font-size="6.8" fill="#7a7a7a" text-anchor="end">60</text><path d="M1221.1 115.6h-4.5" stroke="#777" stroke-width="1"/><text x="1214.1" y="89.5" font-size="6.8" fill="#7a7a7a" text-anchor="end">80</text><path d="M1221.1 87.1h-4.5" stroke="#777" stroke-width="1"/><text x="1214.1" y="60.9" font-size="6.8" fill="#7a7a7a" text-anchor="end">100</text><path d="M1221.1 58.5h-4.5" stroke="#777" stroke-width="1"/><text x="1233.1" y="219.3" font-size="8.6" fill="#7d7d7d" text-anchor="middle">0</text><text x="1253.7" y="219.3" font-size="8.6" fill="#7d7d7d" text-anchor="middle" fill-opacity="0.95">10<tspan dy="-3.6" font-size="6.2">2</tspan></text><text x="1290" y="219.3" font-size="8.6" fill="#7d7d7d" text-anchor="middle" fill-opacity="0.95">10<tspan dy="-3.6" font-size="6.2">3</tspan></text><text x="1325.9" y="219.3" font-size="8.6" fill="#7d7d7d" text-anchor="middle" fill-opacity="0.95">10<tspan dy="-3.6" font-size="6.2">4</tspan></text><text x="1360.8" y="219.3" font-size="8.6" fill="#7d7d7d" text-anchor="middle" fill-opacity="0.95">10<tspan dy="-3.6" font-size="6.2">5</tspan></text><text x="1289" y="70.7" font-size="16" fill="#2a2a2a" stroke="#2a2a2a" stroke-width="0.4" textLength="72.7" lengthAdjust="spacingAndGlyphs" xml:space="preserve">MFI 1822</text><clipPath id="c0_1397"><rect x="1397.6" y="49.5" width="151.7" height="151.8"/></clipPath><g clip-path="url(#c0_1397)"><path d="M1424.5 200.7 C1425.1 199.4 1427 197.3 1428.2 193.1 C1429.5 188.9 1431 183.5 1432 175.6 C1433 167.6 1433.7 157.2 1434.5 145.5 C1435.3 133.8 1436.2 120 1437 105.3 C1437.9 90.7 1438.7 62.7 1439.5 57.7 C1440.4 52.7 1441.2 64 1442 75.2 C1442.9 86.5 1443.7 110.8 1444.5 125.4 C1445.4 140 1446.2 152.6 1447.1 163 C1447.9 173.5 1448.7 181.8 1449.6 188.1 C1450.4 194.4 1451.7 198.6 1452.1 200.7 L1452.1 201.3 L1424.5 201.3 Z" fill="#858585"/><path d="M1440.8 200.5 C1441.4 199.3 1443.5 197.3 1444.5 193.1 C1445.6 189 1446.2 184.3 1447.1 175.6 C1447.9 166.8 1448.7 153 1449.6 140.5 C1450.4 127.9 1451.4 112 1452.1 100.3 C1452.7 88.6 1452.8 76.9 1453.3 70.2 C1453.9 63.5 1454.7 59.4 1455.3 60.2 C1456 61 1456.4 67.3 1457.1 75.2 C1457.8 83.2 1458.5 96.6 1459.6 107.9 C1460.6 119.1 1462.1 132.9 1463.4 143 C1464.6 153 1465.7 160.9 1467.1 168 C1468.6 175.2 1470.3 181 1472.1 185.6 C1474 190.2 1475.7 193.2 1478.4 195.6 C1481.1 198.1 1486.8 199.7 1488.4 200.5" fill="none" stroke="#383838" stroke-width="1.45" stroke-linejoin="round"/></g><path d="M1455.3 129.9H1546.1M1455.3 127.4v5M1546.1 127.4v5" stroke="#555" stroke-width="1.4" fill="none"/><rect x="1397.6" y="49.5" width="151.7" height="151.8" fill="none" stroke="#7a7a7a" stroke-width="1.3"/><path d="M1397.6 49.5V201.3H1549.3" stroke="#555" stroke-width="1.5" fill="none"/><path d="M1397.6 52.5h-2.5M1397.6 58.5h-2.5M1397.6 64.4h-2.5M1397.6 70.4h-2.5M1397.6 76.3h-2.5M1397.6 82.3h-2.5M1397.6 88.2h-2.5M1397.6 94.2h-2.5M1397.6 100.1h-2.5M1397.6 106.1h-2.5M1397.6 112h-2.5M1397.6 118h-2.5M1397.6 123.9h-2.5M1397.6 129.9h-2.5M1397.6 135.8h-2.5M1397.6 141.8h-2.5M1397.6 147.7h-2.5M1397.6 153.7h-2.5M1397.6 159.6h-2.5M1397.6 165.6h-2.5M1397.6 171.5h-2.5M1397.6 177.5h-2.5M1397.6 183.4h-2.5M1397.6 189.4h-2.5M1397.6 195.3h-2.5M1397.6 201.3h-2.5M1399.6 201.3v2.5M1405.5 201.3v2.5M1411.4 201.3v2.5M1417.3 201.3v2.5M1423.2 201.3v2.5M1429.1 201.3v2.5M1435 201.3v2.5M1441 201.3v2.5M1446.9 201.3v2.5M1452.8 201.3v2.5M1458.7 201.3v2.5M1464.6 201.3v2.5M1470.5 201.3v2.5M1476.4 201.3v2.5M1482.3 201.3v2.5M1488.2 201.3v2.5M1494.1 201.3v2.5M1500 201.3v2.5M1505.9 201.3v2.5M1511.9 201.3v2.5M1517.8 201.3v2.5M1523.7 201.3v2.5M1529.6 201.3v2.5M1535.5 201.3v2.5M1541.4 201.3v2.5M1547.3 201.3v2.5" stroke="#8a8a8a" stroke-width="0.8" fill="none"/><text x="1390.6" y="203.7" font-size="6.8" fill="#7a7a7a" text-anchor="end">0</text><path d="M1397.6 201.3h-4.5" stroke="#777" stroke-width="1"/><text x="1390.6" y="175.1" font-size="6.8" fill="#7a7a7a" text-anchor="end">20</text><path d="M1397.6 172.7h-4.5" stroke="#777" stroke-width="1"/><text x="1390.6" y="146.6" font-size="6.8" fill="#7a7a7a" text-anchor="end">40</text><path d="M1397.6 144.2h-4.5" stroke="#777" stroke-width="1"/><text x="1390.6" y="118" font-size="6.8" fill="#7a7a7a" text-anchor="end">60</text><path d="M1397.6 115.6h-4.5" stroke="#777" stroke-width="1"/><text x="1390.6" y="89.5" font-size="6.8" fill="#7a7a7a" text-anchor="end">80</text><path d="M1397.6 87.1h-4.5" stroke="#777" stroke-width="1"/><text x="1390.6" y="60.9" font-size="6.8" fill="#7a7a7a" text-anchor="end">100</text><path d="M1397.6 58.5h-4.5" stroke="#777" stroke-width="1"/><text x="1409.6" y="219.3" font-size="8.6" fill="#7d7d7d" text-anchor="middle">0</text><text x="1430.2" y="219.3" font-size="8.6" fill="#7d7d7d" text-anchor="middle" fill-opacity="0.95">10<tspan dy="-3.6" font-size="6.2">2</tspan></text><text x="1466.5" y="219.3" font-size="8.6" fill="#7d7d7d" text-anchor="middle" fill-opacity="0.95">10<tspan dy="-3.6" font-size="6.2">3</tspan></text><text x="1502.4" y="219.3" font-size="8.6" fill="#7d7d7d" text-anchor="middle" fill-opacity="0.95">10<tspan dy="-3.6" font-size="6.2">4</tspan></text><text x="1537.3" y="219.3" font-size="8.6" fill="#7d7d7d" text-anchor="middle" fill-opacity="0.95">10<tspan dy="-3.6" font-size="6.2">5</tspan></text><text x="1474.1" y="69" font-size="16" fill="#2a2a2a" stroke="#2a2a2a" stroke-width="0.4" textLength="63.2" lengthAdjust="spacingAndGlyphs" xml:space="preserve">MFI 556</text><clipPath id="c0_1573"><rect x="1573.9" y="49.5" width="151.7" height="151.8"/></clipPath><g clip-path="url(#c0_1573)"><path d="M1590.2 200.7 C1591 199.8 1593.5 199 1595.2 195.6 C1596.9 192.3 1598.5 186.4 1600.2 180.6 C1601.9 174.7 1603.5 169.7 1605.2 160.5 C1606.9 151.3 1608.8 136.3 1610.2 125.4 C1611.7 114.5 1612.8 103.7 1614 95.3 C1615.2 86.9 1616.3 80.3 1617.3 75.2 C1618.2 70.2 1618.8 64.4 1619.8 65.2 C1620.7 66 1621.8 72.3 1622.8 80.3 C1623.7 88.2 1624.4 102 1625.3 112.9 C1626.1 123.7 1626.9 135.9 1627.8 145.5 C1628.6 155.1 1629.2 162.6 1630.3 170.6 C1631.3 178.5 1633 188.1 1634.1 193.1 C1635.1 198.1 1636.1 199.4 1636.6 200.7 L1636.6 201.3 L1590.2 201.3 Z" fill="#858585"/><path d="M1585.1 200.5 C1586.8 200.3 1591.8 200.2 1595.2 199.4 C1598.5 198.6 1602.3 197.1 1605.2 195.6 C1608.1 194.2 1610.2 193.1 1612.7 190.6 C1615.2 188.1 1618 184.8 1620.3 180.6 C1622.6 176.4 1624.7 170.6 1626.5 165.5 C1628.4 160.5 1630.1 154.3 1631.5 150.5 C1633 146.7 1634.1 145.5 1635.3 143 C1636.6 140.5 1637.8 138.4 1639.1 135.4 C1640.3 132.5 1641.4 128.8 1642.8 125.4 C1644.3 122.1 1646.4 118.7 1647.9 115.4 C1649.3 112 1650.4 108.3 1651.6 105.3 C1652.9 102.4 1654.1 101.2 1655.4 97.8 C1656.6 94.5 1658.1 89 1659.1 85.3 C1660.2 81.5 1660.8 76.1 1661.6 75.2 C1662.5 74.4 1663.3 79.8 1664.2 80.3 C1665 80.7 1665.8 76.9 1666.7 77.8 C1667.5 78.6 1668.3 83.6 1669.2 85.3 C1670 86.9 1670.8 86.1 1671.7 87.8 C1672.5 89.5 1673.5 94.5 1674.2 95.3 C1674.9 96.1 1675.3 91.1 1675.9 92.8 C1676.6 94.5 1677 100.7 1677.9 105.3 C1678.9 109.9 1680.5 114.5 1681.7 120.4 C1683 126.2 1684 133.8 1685.5 140.5 C1686.9 147.1 1688.8 153.8 1690.5 160.5 C1692.2 167.2 1693.8 175.2 1695.5 180.6 C1697.2 186 1698.8 189.8 1700.5 193.1 C1702.2 196.4 1704.7 199.3 1705.5 200.5" fill="none" stroke="#383838" stroke-width="1.45" stroke-linejoin="round"/></g><path d="M1629.5 136.7H1725.1M1629.5 134.2v5M1725.1 134.2v5" stroke="#555" stroke-width="1.4" fill="none"/><rect x="1573.9" y="49.5" width="151.7" height="151.8" fill="none" stroke="#7a7a7a" stroke-width="1.3"/><path d="M1573.9 49.5V201.3H1725.6" stroke="#555" stroke-width="1.5" fill="none"/><path d="M1573.9 52.5h-2.5M1573.9 58.5h-2.5M1573.9 64.4h-2.5M1573.9 70.4h-2.5M1573.9 76.3h-2.5M1573.9 82.3h-2.5M1573.9 88.2h-2.5M1573.9 94.2h-2.5M1573.9 100.1h-2.5M1573.9 106.1h-2.5M1573.9 112h-2.5M1573.9 118h-2.5M1573.9 123.9h-2.5M1573.9 129.9h-2.5M1573.9 135.8h-2.5M1573.9 141.8h-2.5M1573.9 147.7h-2.5M1573.9 153.7h-2.5M1573.9 159.6h-2.5M1573.9 165.6h-2.5M1573.9 171.5h-2.5M1573.9 177.5h-2.5M1573.9 183.4h-2.5M1573.9 189.4h-2.5M1573.9 195.3h-2.5M1573.9 201.3h-2.5M1575.9 201.3v2.5M1581.8 201.3v2.5M1587.7 201.3v2.5M1593.6 201.3v2.5M1599.5 201.3v2.5M1605.4 201.3v2.5M1611.3 201.3v2.5M1617.3 201.3v2.5M1623.2 201.3v2.5M1629.1 201.3v2.5M1635 201.3v2.5M1640.9 201.3v2.5M1646.8 201.3v2.5M1652.7 201.3v2.5M1658.6 201.3v2.5M1664.5 201.3v2.5M1670.4 201.3v2.5M1676.3 201.3v2.5M1682.2 201.3v2.5M1688.2 201.3v2.5M1694.1 201.3v2.5M1700 201.3v2.5M1705.9 201.3v2.5M1711.8 201.3v2.5M1717.7 201.3v2.5M1723.6 201.3v2.5" stroke="#8a8a8a" stroke-width="0.8" fill="none"/><text x="1566.9" y="203.7" font-size="6.8" fill="#7a7a7a" text-anchor="end">0</text><path d="M1573.9 201.3h-4.5" stroke="#777" stroke-width="1"/><text x="1566.9" y="175.1" font-size="6.8" fill="#7a7a7a" text-anchor="end">20</text><path d="M1573.9 172.7h-4.5" stroke="#777" stroke-width="1"/><text x="1566.9" y="146.6" font-size="6.8" fill="#7a7a7a" text-anchor="end">40</text><path d="M1573.9 144.2h-4.5" stroke="#777" stroke-width="1"/><text x="1566.9" y="118" font-size="6.8" fill="#7a7a7a" text-anchor="end">60</text><path d="M1573.9 115.6h-4.5" stroke="#777" stroke-width="1"/><text x="1566.9" y="89.5" font-size="6.8" fill="#7a7a7a" text-anchor="end">80</text><path d="M1573.9 87.1h-4.5" stroke="#777" stroke-width="1"/><text x="1566.9" y="60.9" font-size="6.8" fill="#7a7a7a" text-anchor="end">100</text><path d="M1573.9 58.5h-4.5" stroke="#777" stroke-width="1"/><text x="1585.9" y="219.3" font-size="8.6" fill="#7d7d7d" text-anchor="middle">0</text><text x="1606.5" y="219.3" font-size="8.6" fill="#7d7d7d" text-anchor="middle" fill-opacity="0.95">10<tspan dy="-3.6" font-size="6.2">2</tspan></text><text x="1642.8" y="219.3" font-size="8.6" fill="#7d7d7d" text-anchor="middle" fill-opacity="0.95">10<tspan dy="-3.6" font-size="6.2">3</tspan></text><text x="1678.7" y="219.3" font-size="8.6" fill="#7d7d7d" text-anchor="middle" fill-opacity="0.95">10<tspan dy="-3.6" font-size="6.2">4</tspan></text><text x="1713.6" y="219.3" font-size="8.6" fill="#7d7d7d" text-anchor="middle" fill-opacity="0.95">10<tspan dy="-3.6" font-size="6.2">5</tspan></text><text x="1643.6" y="69" font-size="16" fill="#2a2a2a" stroke="#2a2a2a" stroke-width="0.4" textLength="71.5" lengthAdjust="spacingAndGlyphs" xml:space="preserve">MFI 3783</text><clipPath id="c0_1749"><rect x="1749.4" y="49.5" width="151.7" height="151.8"/></clipPath><g clip-path="url(#c0_1749)"><path d="M1765.7 200.7 C1766.6 199.4 1769.1 197.3 1770.7 193.1 C1772.4 188.9 1774.1 182.7 1775.8 175.6 C1777.4 168.5 1779.1 160.9 1780.8 150.5 C1782.5 140 1784.3 124.2 1785.8 112.9 C1787.3 101.6 1788.5 89.5 1789.6 82.8 C1790.6 76.1 1791.2 75.7 1792.1 72.7 C1792.9 69.8 1793.7 64.8 1794.6 65.2 C1795.4 65.6 1796 67.3 1797.1 75.2 C1798.1 83.2 1799.6 99.5 1800.8 112.9 C1802.1 126.2 1803.4 143 1804.6 155.5 C1805.9 168 1807.3 180.6 1808.4 188.1 C1809.4 195.6 1810.5 198.6 1810.9 200.7 L1810.9 201.3 L1765.7 201.3 Z" fill="#858585"/><path d="M1810.9 200.5 C1811.7 200.1 1814.4 199.8 1815.9 198.1 C1817.4 196.5 1818.4 195.2 1819.7 190.6 C1820.9 186 1822.2 179.8 1823.4 170.6 C1824.7 161.4 1826.1 147.1 1827.2 135.4 C1828.2 123.7 1828.9 111.6 1829.7 100.3 C1830.5 89 1831.5 73.8 1832.2 67.7 C1832.9 61.7 1833.3 62.7 1834 64 C1834.6 65.2 1835.2 68.3 1836 75.2 C1836.7 82.1 1837.6 94.5 1838.5 105.3 C1839.3 116.2 1839.9 129.6 1841 140.5 C1842 151.3 1843.5 162.6 1844.7 170.6 C1846 178.5 1847 183.5 1848.5 188.1 C1850 192.7 1851.4 196.1 1853.5 198.1 C1855.6 200.2 1859.8 200.1 1861 200.5" fill="none" stroke="#383838" stroke-width="1.45" stroke-linejoin="round"/></g><path d="M1803.9 136.7H1900.7M1803.9 134.2v5M1900.7 134.2v5" stroke="#555" stroke-width="1.4" fill="none"/><rect x="1749.4" y="49.5" width="151.7" height="151.8" fill="none" stroke="#7a7a7a" stroke-width="1.3"/><path d="M1749.4 49.5V201.3H1901.1" stroke="#555" stroke-width="1.5" fill="none"/><path d="M1749.4 52.5h-2.5M1749.4 58.5h-2.5M1749.4 64.4h-2.5M1749.4 70.4h-2.5M1749.4 76.3h-2.5M1749.4 82.3h-2.5M1749.4 88.2h-2.5M1749.4 94.2h-2.5M1749.4 100.1h-2.5M1749.4 106.1h-2.5M1749.4 112h-2.5M1749.4 118h-2.5M1749.4 123.9h-2.5M1749.4 129.9h-2.5M1749.4 135.8h-2.5M1749.4 141.8h-2.5M1749.4 147.7h-2.5M1749.4 153.7h-2.5M1749.4 159.6h-2.5M1749.4 165.6h-2.5M1749.4 171.5h-2.5M1749.4 177.5h-2.5M1749.4 183.4h-2.5M1749.4 189.4h-2.5M1749.4 195.3h-2.5M1749.4 201.3h-2.5M1751.4 201.3v2.5M1757.3 201.3v2.5M1763.2 201.3v2.5M1769.1 201.3v2.5M1775 201.3v2.5M1780.9 201.3v2.5M1786.8 201.3v2.5M1792.8 201.3v2.5M1798.7 201.3v2.5M1804.6 201.3v2.5M1810.5 201.3v2.5M1816.4 201.3v2.5M1822.3 201.3v2.5M1828.2 201.3v2.5M1834.1 201.3v2.5M1840 201.3v2.5M1845.9 201.3v2.5M1851.8 201.3v2.5M1857.7 201.3v2.5M1863.7 201.3v2.5M1869.6 201.3v2.5M1875.5 201.3v2.5M1881.4 201.3v2.5M1887.3 201.3v2.5M1893.2 201.3v2.5M1899.1 201.3v2.5" stroke="#8a8a8a" stroke-width="0.8" fill="none"/><text x="1742.4" y="203.7" font-size="6.8" fill="#7a7a7a" text-anchor="end">0</text><path d="M1749.4 201.3h-4.5" stroke="#777" stroke-width="1"/><text x="1742.4" y="175.1" font-size="6.8" fill="#7a7a7a" text-anchor="end">20</text><path d="M1749.4 172.7h-4.5" stroke="#777" stroke-width="1"/><text x="1742.4" y="146.6" font-size="6.8" fill="#7a7a7a" text-anchor="end">40</text><path d="M1749.4 144.2h-4.5" stroke="#777" stroke-width="1"/><text x="1742.4" y="118" font-size="6.8" fill="#7a7a7a" text-anchor="end">60</text><path d="M1749.4 115.6h-4.5" stroke="#777" stroke-width="1"/><text x="1742.4" y="89.5" font-size="6.8" fill="#7a7a7a" text-anchor="end">80</text><path d="M1749.4 87.1h-4.5" stroke="#777" stroke-width="1"/><text x="1742.4" y="60.9" font-size="6.8" fill="#7a7a7a" text-anchor="end">100</text><path d="M1749.4 58.5h-4.5" stroke="#777" stroke-width="1"/><text x="1761.4" y="219.3" font-size="8.6" fill="#7d7d7d" text-anchor="middle">0</text><text x="1782" y="219.3" font-size="8.6" fill="#7d7d7d" text-anchor="middle" fill-opacity="0.95">10<tspan dy="-3.6" font-size="6.2">2</tspan></text><text x="1818.3" y="219.3" font-size="8.6" fill="#7d7d7d" text-anchor="middle" fill-opacity="0.95">10<tspan dy="-3.6" font-size="6.2">3</tspan></text><text x="1854.2" y="219.3" font-size="8.6" fill="#7d7d7d" text-anchor="middle" fill-opacity="0.95">10<tspan dy="-3.6" font-size="6.2">4</tspan></text><text x="1889.1" y="219.3" font-size="8.6" fill="#7d7d7d" text-anchor="middle" fill-opacity="0.95">10<tspan dy="-3.6" font-size="6.2">5</tspan></text><text x="1813.4" y="69" font-size="16" fill="#2a2a2a" stroke="#2a2a2a" stroke-width="0.4" textLength="79" lengthAdjust="spacingAndGlyphs" xml:space="preserve">MFI  2852</text><clipPath id="c1_347"><rect x="347.5" y="226.4" width="151.7" height="152.2"/></clipPath><g clip-path="url(#c1_347)"><path d="M351 378.1 C351.4 375.9 352.3 374.1 353.3 365.1 C354.2 356.1 355.6 338.5 356.7 324.1 C357.8 309.6 359.1 290.6 360.1 278.4 C361.2 266.3 362.2 258.3 363.1 251.1 C364 243.8 364.6 236.6 365.4 235.1 C366.1 233.6 366.8 236.6 367.6 241.9 C368.5 247.3 369.5 257.1 370.4 267 C371.3 276.9 372.2 289.8 373.1 301.2 C374.1 312.6 375 325.6 376.1 335.5 C377.2 345.3 378.4 354.1 379.5 360.5 C380.6 367 381.8 371.3 382.9 374.2 C384.1 377.2 385.8 377.5 386.4 378.1 L386.4 378.6 L351 378.6 Z" fill="#858585"/><path d="M426.3 377.8 C427 376.8 429.3 375.2 430.8 372 C432.4 368.7 433.9 364 435.4 358.3 C436.9 352.6 438.6 345.7 440 337.7 C441.3 329.8 442.4 319.5 443.4 310.4 C444.3 301.2 444.9 291.4 445.7 283 C446.4 274.6 447.2 265.9 447.9 260.2 C448.7 254.5 449.5 251.4 450.2 248.8 C451 246.1 451.7 244.2 452.5 244.2 C453.3 244.2 454 245 454.8 248.8 C455.5 252.6 456.3 259 457.1 267 C457.8 275 458.6 287.2 459.3 296.7 C460.1 306.2 460.9 315.7 461.6 324.1 C462.4 332.4 463 340 463.9 346.9 C464.9 353.7 466.2 360.5 467.3 365.1 C468.5 369.7 469.6 372.1 470.7 374.2 C471.9 376.3 473.6 377.2 474.2 377.8" fill="none" stroke="#383838" stroke-width="1.45" stroke-linejoin="round"/></g><path d="M377.7 304H496.3M377.7 301.5v5M496.3 301.5v5" stroke="#555" stroke-width="1.4" fill="none"/><rect x="347.5" y="226.4" width="151.7" height="152.2" fill="none" stroke="#7a7a7a" stroke-width="1.3"/><path d="M347.5 226.4V378.6H499.2" stroke="#555" stroke-width="1.5" fill="none"/><path d="M347.5 229.4h-2.5M347.5 235.4h-2.5M347.5 241.3h-2.5M347.5 247.3h-2.5M347.5 253.3h-2.5M347.5 259.2h-2.5M347.5 265.2h-2.5M347.5 271.2h-2.5M347.5 277.1h-2.5M347.5 283.1h-2.5M347.5 289.1h-2.5M347.5 295h-2.5M347.5 301h-2.5M347.5 307h-2.5M347.5 313h-2.5M347.5 318.9h-2.5M347.5 324.9h-2.5M347.5 330.9h-2.5M347.5 336.8h-2.5M347.5 342.8h-2.5M347.5 348.8h-2.5M347.5 354.7h-2.5M347.5 360.7h-2.5M347.5 366.7h-2.5M347.5 372.6h-2.5M347.5 378.6h-2.5M349.5 378.6v2.5M355.4 378.6v2.5M361.3 378.6v2.5M367.2 378.6v2.5M373.1 378.6v2.5M379 378.6v2.5M384.9 378.6v2.5M390.9 378.6v2.5M396.8 378.6v2.5M402.7 378.6v2.5M408.6 378.6v2.5M414.5 378.6v2.5M420.4 378.6v2.5M426.3 378.6v2.5M432.2 378.6v2.5M438.1 378.6v2.5M444 378.6v2.5M449.9 378.6v2.5M455.8 378.6v2.5M461.8 378.6v2.5M467.7 378.6v2.5M473.6 378.6v2.5M479.5 378.6v2.5M485.4 378.6v2.5M491.3 378.6v2.5M497.2 378.6v2.5" stroke="#8a8a8a" stroke-width="0.8" fill="none"/><text x="340.5" y="381" font-size="6.8" fill="#7a7a7a" text-anchor="end">0</text><path d="M347.5 378.6h-4.5" stroke="#777" stroke-width="1"/><text x="340.5" y="352.4" font-size="6.8" fill="#7a7a7a" text-anchor="end">20</text><path d="M347.5 350h-4.5" stroke="#777" stroke-width="1"/><text x="340.5" y="323.7" font-size="6.8" fill="#7a7a7a" text-anchor="end">40</text><path d="M347.5 321.3h-4.5" stroke="#777" stroke-width="1"/><text x="340.5" y="295.1" font-size="6.8" fill="#7a7a7a" text-anchor="end">60</text><path d="M347.5 292.7h-4.5" stroke="#777" stroke-width="1"/><text x="340.5" y="266.4" font-size="6.8" fill="#7a7a7a" text-anchor="end">80</text><path d="M347.5 264h-4.5" stroke="#777" stroke-width="1"/><text x="340.5" y="237.8" font-size="6.8" fill="#7a7a7a" text-anchor="end">100</text><path d="M347.5 235.4h-4.5" stroke="#777" stroke-width="1"/><text x="359.5" y="396.6" font-size="8.6" fill="#7d7d7d" text-anchor="middle">0</text><text x="380.1" y="396.6" font-size="8.6" fill="#7d7d7d" text-anchor="middle" fill-opacity="0.95">10<tspan dy="-3.6" font-size="6.2">2</tspan></text><text x="416.4" y="396.6" font-size="8.6" fill="#7d7d7d" text-anchor="middle" fill-opacity="0.95">10<tspan dy="-3.6" font-size="6.2">3</tspan></text><text x="452.3" y="396.6" font-size="8.6" fill="#7d7d7d" text-anchor="middle" fill-opacity="0.95">10<tspan dy="-3.6" font-size="6.2">4</tspan></text><text x="487.2" y="396.6" font-size="8.6" fill="#7d7d7d" text-anchor="middle" fill-opacity="0.95">10<tspan dy="-3.6" font-size="6.2">5</tspan></text><text x="416" y="249.2" font-size="16" fill="#2a2a2a" stroke="#2a2a2a" stroke-width="0.4" textLength="72.5" lengthAdjust="spacingAndGlyphs" xml:space="preserve">MFI 9120</text><clipPath id="c1_522"><rect x="522.6" y="226.4" width="151.7" height="152.2"/></clipPath><g clip-path="url(#c1_522)"><path d="M547 378.1 C548 376.7 551 373.3 552.7 369.6 C554.4 365.9 555.9 362.8 557.3 356 C558.6 349.1 559.7 339.6 560.7 328.6 C561.6 317.6 562.3 302 563 289.8 C563.7 277.7 564.3 264 564.8 255.6 C565.3 247.2 565.5 240.4 565.9 239.6 C566.4 238.9 566.9 242.7 567.5 251 C568.2 259.4 569.1 276.9 569.8 289.8 C570.6 302.7 571.3 317.6 572.1 328.6 C572.9 339.6 573.6 348.7 574.4 356 C575.1 363.2 575.7 368.2 576.7 371.9 C577.6 375.6 579.5 377.1 580.1 378.1 L580.1 378.6 L547 378.6 Z" fill="#858585"/><path d="M545.9 377.8 C546.6 376.8 548.9 374.8 550.4 371.9 C552 369 553.7 364.7 555 360.5 C556.3 356.3 557.3 351.4 558.4 346.8 C559.6 342.3 560.7 337.3 561.8 333.1 C563 329 564.3 324.4 565.3 321.7 C566.2 319.1 566.8 318.7 567.5 317.2 C568.3 315.7 569.2 315.3 569.8 312.6 C570.4 310 570.4 303.5 571 301.2 C571.5 298.9 572.5 298.2 573.2 298.9 C574 299.7 574.8 305.4 575.5 305.8 C576.3 306.2 576.8 301.6 577.8 301.2 C578.7 300.8 580.3 304.3 581.2 303.5 C582.2 302.7 582.7 299.7 583.5 296.7 C584.3 293.6 585 286 585.8 285.3 C586.5 284.5 587.3 293.2 588.1 292.1 C588.8 291 589.6 281.8 590.3 278.4 C591.1 275 591.9 273.9 592.6 271.6 C593.4 269.3 594.1 264.4 594.9 264.7 C595.7 265.1 596.4 273.5 597.2 273.9 C597.9 274.2 598.7 268.9 599.5 267 C600.2 265.1 601 262.8 601.7 262.5 C602.5 262.1 603.1 265.9 604 264.7 C605 263.6 606.5 256.4 607.4 255.6 C608.4 254.8 609 260.9 609.7 260.2 C610.5 259.4 611.2 253.7 612 251 C612.8 248.4 613.5 243.8 614.3 244.2 C615 244.6 615.8 250.3 616.6 253.3 C617.3 256.4 618.1 262.1 618.8 262.5 C619.6 262.8 620.4 256.9 621.1 255.6 C621.9 254.3 622.6 252.9 623.4 254.5 C624.2 256 624.9 260.4 625.7 264.7 C626.5 269.1 627.3 275 628 280.7 C628.6 286.4 629 294.8 629.6 298.9 C630.1 303.1 630.7 302.7 631.4 305.8 C632.1 308.8 632.7 312.2 633.7 317.2 C634.6 322.1 636 329.7 637.1 335.4 C638.2 341.1 639.2 346.1 640.5 351.4 C641.8 356.7 643.6 363 645.1 367.4 C646.6 371.7 648.9 375.9 649.6 377.6" fill="none" stroke="#383838" stroke-width="1.45" stroke-linejoin="round"/></g><path d="M569.1 308.5H674.3M569.1 306v5M674.3 306v5" stroke="#555" stroke-width="1.4" fill="none"/><rect x="522.6" y="226.4" width="151.7" height="152.2" fill="none" stroke="#7a7a7a" stroke-width="1.3"/><path d="M522.6 226.4V378.6H674.3" stroke="#555" stroke-width="1.5" fill="none"/><path d="M522.6 229.4h-2.5M522.6 235.4h-2.5M522.6 241.3h-2.5M522.6 247.3h-2.5M522.6 253.3h-2.5M522.6 259.2h-2.5M522.6 265.2h-2.5M522.6 271.2h-2.5M522.6 277.1h-2.5M522.6 283.1h-2.5M522.6 289.1h-2.5M522.6 295h-2.5M522.6 301h-2.5M522.6 307h-2.5M522.6 313h-2.5M522.6 318.9h-2.5M522.6 324.9h-2.5M522.6 330.9h-2.5M522.6 336.8h-2.5M522.6 342.8h-2.5M522.6 348.8h-2.5M522.6 354.7h-2.5M522.6 360.7h-2.5M522.6 366.7h-2.5M522.6 372.6h-2.5M522.6 378.6h-2.5M524.6 378.6v2.5M530.5 378.6v2.5M536.4 378.6v2.5M542.3 378.6v2.5M548.2 378.6v2.5M554.1 378.6v2.5M560 378.6v2.5M566 378.6v2.5M571.9 378.6v2.5M577.8 378.6v2.5M583.7 378.6v2.5M589.6 378.6v2.5M595.5 378.6v2.5M601.4 378.6v2.5M607.3 378.6v2.5M613.2 378.6v2.5M619.1 378.6v2.5M625 378.6v2.5M630.9 378.6v2.5M636.9 378.6v2.5M642.8 378.6v2.5M648.7 378.6v2.5M654.6 378.6v2.5M660.5 378.6v2.5M666.4 378.6v2.5M672.3 378.6v2.5" stroke="#8a8a8a" stroke-width="0.8" fill="none"/><text x="515.6" y="381" font-size="6.8" fill="#7a7a7a" text-anchor="end">0</text><path d="M522.6 378.6h-4.5" stroke="#777" stroke-width="1"/><text x="515.6" y="352.4" font-size="6.8" fill="#7a7a7a" text-anchor="end">20</text><path d="M522.6 350h-4.5" stroke="#777" stroke-width="1"/><text x="515.6" y="323.7" font-size="6.8" fill="#7a7a7a" text-anchor="end">40</text><path d="M522.6 321.3h-4.5" stroke="#777" stroke-width="1"/><text x="515.6" y="295.1" font-size="6.8" fill="#7a7a7a" text-anchor="end">60</text><path d="M522.6 292.7h-4.5" stroke="#777" stroke-width="1"/><text x="515.6" y="266.4" font-size="6.8" fill="#7a7a7a" text-anchor="end">80</text><path d="M522.6 264h-4.5" stroke="#777" stroke-width="1"/><text x="515.6" y="237.8" font-size="6.8" fill="#7a7a7a" text-anchor="end">100</text><path d="M522.6 235.4h-4.5" stroke="#777" stroke-width="1"/><text x="534.6" y="396.6" font-size="8.6" fill="#7d7d7d" text-anchor="middle">0</text><text x="555.2" y="396.6" font-size="8.6" fill="#7d7d7d" text-anchor="middle" fill-opacity="0.95">10<tspan dy="-3.6" font-size="6.2">2</tspan></text><text x="591.5" y="396.6" font-size="8.6" fill="#7d7d7d" text-anchor="middle" fill-opacity="0.95">10<tspan dy="-3.6" font-size="6.2">3</tspan></text><text x="627.4" y="396.6" font-size="8.6" fill="#7d7d7d" text-anchor="middle" fill-opacity="0.95">10<tspan dy="-3.6" font-size="6.2">4</tspan></text><text x="662.3" y="396.6" font-size="8.6" fill="#7d7d7d" text-anchor="middle" fill-opacity="0.95">10<tspan dy="-3.6" font-size="6.2">5</tspan></text><text x="593.8" y="249.2" font-size="16" fill="#2a2a2a" stroke="#2a2a2a" stroke-width="0.4" textLength="73" lengthAdjust="spacingAndGlyphs" xml:space="preserve">MFI 1882</text><clipPath id="c1_699"><rect x="699.4" y="226.4" width="151.7" height="152.2"/></clipPath><g clip-path="url(#c1_699)"><path d="M699.8 378.1 C699.8 361.5 699.7 298.8 700 278.4 C700.4 258 701.5 260.6 702.1 255.6 C702.7 250.7 703.2 247.2 703.7 248.8 C704.1 250.3 704.3 261.7 704.8 264.7 C705.3 267.8 706 266.3 706.6 267 C707.3 267.8 708.2 266.6 708.9 269.3 C709.7 272 710.4 276.9 711.2 283 C712 289.1 712.5 298.2 713.5 305.8 C714.4 313.4 715.8 321.7 716.9 328.6 C718.1 335.4 719 340.7 720.3 346.8 C721.7 352.9 723.2 359.9 724.9 365.1 C726.6 370.3 729.6 375.9 730.6 378.1 L730.6 378.6 L699.8 378.6 Z" fill="#858585"/><path d="M699.8 377.8 C702.8 377.8 711.2 377.8 718.1 377.8 C724.9 377.8 735.2 378 740.9 377.6 C746.6 377.2 749.2 376.1 752.3 375.3 C755.3 374.6 757.2 374.4 759.1 373.1 C761 371.7 762.1 370.2 763.7 367.4 C765.2 364.5 766.7 360.9 768.2 356 C769.7 351 771.5 344.5 772.8 337.7 C774.1 330.9 775.3 321.7 776.2 314.9 C777.2 308.1 777.5 303.5 778.5 296.7 C779.4 289.8 780.8 280.7 781.9 273.9 C783 267 784.2 260 785.3 255.6 C786.5 251.2 787.6 249 788.7 247.6 C789.9 246.3 791 245.2 792.2 247.6 C793.3 250.1 794.6 256.6 795.6 262.5 C796.5 268.3 797.1 275.8 797.9 283 C798.6 290.2 799.2 297.8 800.1 305.8 C801.1 313.8 802.4 322.1 803.6 330.9 C804.7 339.6 805.7 351 807 358.2 C808.3 365.5 809.7 371 811.6 374.2 C813.5 377.4 815 377 818.4 377.6 C821.8 378.2 829.8 377.8 832.1 377.8" fill="none" stroke="#383838" stroke-width="1.45" stroke-linejoin="round"/></g><path d="M727.6 309.9H850.3M727.6 307.4v5M850.3 307.4v5" stroke="#555" stroke-width="1.4" fill="none"/><rect x="699.4" y="226.4" width="151.7" height="152.2" fill="none" stroke="#7a7a7a" stroke-width="1.3"/><path d="M699.4 226.4V378.6H851.1" stroke="#555" stroke-width="1.5" fill="none"/><path d="M699.4 229.4h-2.5M699.4 235.4h-2.5M699.4 241.3h-2.5M699.4 247.3h-2.5M699.4 253.3h-2.5M699.4 259.2h-2.5M699.4 265.2h-2.5M699.4 271.2h-2.5M699.4 277.1h-2.5M699.4 283.1h-2.5M699.4 289.1h-2.5M699.4 295h-2.5M699.4 301h-2.5M699.4 307h-2.5M699.4 313h-2.5M699.4 318.9h-2.5M699.4 324.9h-2.5M699.4 330.9h-2.5M699.4 336.8h-2.5M699.4 342.8h-2.5M699.4 348.8h-2.5M699.4 354.7h-2.5M699.4 360.7h-2.5M699.4 366.7h-2.5M699.4 372.6h-2.5M699.4 378.6h-2.5M701.4 378.6v2.5M707.3 378.6v2.5M713.2 378.6v2.5M719.1 378.6v2.5M725 378.6v2.5M730.9 378.6v2.5M736.8 378.6v2.5M742.8 378.6v2.5M748.7 378.6v2.5M754.6 378.6v2.5M760.5 378.6v2.5M766.4 378.6v2.5M772.3 378.6v2.5M778.2 378.6v2.5M784.1 378.6v2.5M790 378.6v2.5M795.9 378.6v2.5M801.8 378.6v2.5M807.7 378.6v2.5M813.7 378.6v2.5M819.6 378.6v2.5M825.5 378.6v2.5M831.4 378.6v2.5M837.3 378.6v2.5M843.2 378.6v2.5M849.1 378.6v2.5" stroke="#8a8a8a" stroke-width="0.8" fill="none"/><text x="692.4" y="381" font-size="6.8" fill="#7a7a7a" text-anchor="end">0</text><path d="M699.4 378.6h-4.5" stroke="#777" stroke-width="1"/><text x="692.4" y="352.4" font-size="6.8" fill="#7a7a7a" text-anchor="end">20</text><path d="M699.4 350h-4.5" stroke="#777" stroke-width="1"/><text x="692.4" y="323.7" font-size="6.8" fill="#7a7a7a" text-anchor="end">40</text><path d="M699.4 321.3h-4.5" stroke="#777" stroke-width="1"/><text x="692.4" y="295.1" font-size="6.8" fill="#7a7a7a" text-anchor="end">60</text><path d="M699.4 292.7h-4.5" stroke="#777" stroke-width="1"/><text x="692.4" y="266.4" font-size="6.8" fill="#7a7a7a" text-anchor="end">80</text><path d="M699.4 264h-4.5" stroke="#777" stroke-width="1"/><text x="692.4" y="237.8" font-size="6.8" fill="#7a7a7a" text-anchor="end">100</text><path d="M699.4 235.4h-4.5" stroke="#777" stroke-width="1"/><text x="711.4" y="396.6" font-size="8.6" fill="#7d7d7d" text-anchor="middle">0</text><text x="732" y="396.6" font-size="8.6" fill="#7d7d7d" text-anchor="middle" fill-opacity="0.95">10<tspan dy="-3.6" font-size="6.2">2</tspan></text><text x="768.3" y="396.6" font-size="8.6" fill="#7d7d7d" text-anchor="middle" fill-opacity="0.95">10<tspan dy="-3.6" font-size="6.2">3</tspan></text><text x="804.2" y="396.6" font-size="8.6" fill="#7d7d7d" text-anchor="middle" fill-opacity="0.95">10<tspan dy="-3.6" font-size="6.2">4</tspan></text><text x="839.1" y="396.6" font-size="8.6" fill="#7d7d7d" text-anchor="middle" fill-opacity="0.95">10<tspan dy="-3.6" font-size="6.2">5</tspan></text><text x="767.1" y="249.2" font-size="16" fill="#2a2a2a" stroke="#2a2a2a" stroke-width="0.4" textLength="71.8" lengthAdjust="spacingAndGlyphs" xml:space="preserve">MFI 5076</text><clipPath id="c1_875"><rect x="875" y="226.4" width="149.9" height="152.2"/></clipPath><g clip-path="url(#c1_875)"><path d="M906.8 378.1 C907.7 377.4 910.7 376.4 912.5 374.2 C914.2 372 915.8 369.6 917 365.1 C918.2 360.5 918.9 355.6 919.7 346.8 C920.6 338.1 921.3 324 922 312.6 C922.8 301.2 923.6 289.8 924.3 278.4 C925 267 925.6 251.4 926.1 244.2 C926.7 237 927 233.2 927.5 235.1 C928 237 928.5 244.6 929.1 255.6 C929.7 266.6 930.4 286.8 931.2 301.2 C931.9 315.7 932.7 330.9 933.4 342.3 C934.2 353.7 934.8 363.7 935.7 369.6 C936.6 375.6 938.2 376.7 938.7 378.1 L938.7 378.6 L906.8 378.6 Z" fill="#858585"/><path d="M941 377.8 C941.9 377.6 944.9 377.8 946.7 376.5 C948.4 375.1 949.9 373.1 951.2 369.6 C952.6 366.2 953.7 361.3 954.6 356 C955.6 350.6 956.3 344.9 956.9 337.7 C957.6 330.5 957.9 321.7 958.5 312.6 C959.1 303.5 959.7 291.3 960.3 283 C961 274.6 961.8 268.5 962.6 262.5 C963.5 256.4 964.4 249.9 965.4 246.5 C966.3 243.1 967.3 242.3 968.3 241.9 C969.4 241.5 970.8 241.9 971.7 244.2 C972.7 246.5 973.3 251.8 974 255.6 C974.8 259.4 975.6 262.5 976.3 267 C977 271.6 977.6 279.6 978.1 283 C978.7 286.4 979.1 284.5 979.7 287.5 C980.4 290.6 981.2 297 982 301.2 C982.8 305.4 983.5 308.8 984.3 312.6 C985 316.4 985.8 319.8 986.6 324 C987.3 328.2 988.1 333.1 988.8 337.7 C989.6 342.3 990.4 346.8 991.1 351.4 C991.9 356 992.5 360.9 993.4 365.1 C994.3 369.3 995.4 374.4 996.4 376.5 C997.3 378.6 998.7 377.6 999.1 377.8" fill="none" stroke="#383838" stroke-width="1.45" stroke-linejoin="round"/></g><path d="M925 306.2H1023.1M925 303.7v5M1023.1 303.7v5" stroke="#555" stroke-width="1.4" fill="none"/><rect x="875" y="226.4" width="149.9" height="152.2" fill="none" stroke="#7a7a7a" stroke-width="1.3"/><path d="M875 226.4V378.6H1024.9" stroke="#555" stroke-width="1.5" fill="none"/><path d="M875 229.4h-2.5M875 235.4h-2.5M875 241.3h-2.5M875 247.3h-2.5M875 253.3h-2.5M875 259.2h-2.5M875 265.2h-2.5M875 271.2h-2.5M875 277.1h-2.5M875 283.1h-2.5M875 289.1h-2.5M875 295h-2.5M875 301h-2.5M875 307h-2.5M875 313h-2.5M875 318.9h-2.5M875 324.9h-2.5M875 330.9h-2.5M875 336.8h-2.5M875 342.8h-2.5M875 348.8h-2.5M875 354.7h-2.5M875 360.7h-2.5M875 366.7h-2.5M875 372.6h-2.5M875 378.6h-2.5M877 378.6v2.5M882.8 378.6v2.5M888.7 378.6v2.5M894.5 378.6v2.5M900.3 378.6v2.5M906.2 378.6v2.5M912 378.6v2.5M917.9 378.6v2.5M923.7 378.6v2.5M929.5 378.6v2.5M935.4 378.6v2.5M941.2 378.6v2.5M947 378.6v2.5M952.9 378.6v2.5M958.7 378.6v2.5M964.5 378.6v2.5M970.4 378.6v2.5M976.2 378.6v2.5M982 378.6v2.5M987.9 378.6v2.5M993.7 378.6v2.5M999.6 378.6v2.5M1005.4 378.6v2.5M1011.2 378.6v2.5M1017.1 378.6v2.5M1022.9 378.6v2.5" stroke="#8a8a8a" stroke-width="0.8" fill="none"/><text x="868" y="381" font-size="6.8" fill="#7a7a7a" text-anchor="end">0</text><path d="M875 378.6h-4.5" stroke="#777" stroke-width="1"/><text x="868" y="352.4" font-size="6.8" fill="#7a7a7a" text-anchor="end">20</text><path d="M875 350h-4.5" stroke="#777" stroke-width="1"/><text x="868" y="323.7" font-size="6.8" fill="#7a7a7a" text-anchor="end">40</text><path d="M875 321.3h-4.5" stroke="#777" stroke-width="1"/><text x="868" y="295.1" font-size="6.8" fill="#7a7a7a" text-anchor="end">60</text><path d="M875 292.7h-4.5" stroke="#777" stroke-width="1"/><text x="868" y="266.4" font-size="6.8" fill="#7a7a7a" text-anchor="end">80</text><path d="M875 264h-4.5" stroke="#777" stroke-width="1"/><text x="868" y="237.8" font-size="6.8" fill="#7a7a7a" text-anchor="end">100</text><path d="M875 235.4h-4.5" stroke="#777" stroke-width="1"/><text x="886.8" y="396.6" font-size="8.6" fill="#7d7d7d" text-anchor="middle">0</text><text x="907.2" y="396.6" font-size="8.6" fill="#7d7d7d" text-anchor="middle" fill-opacity="0.95">10<tspan dy="-3.6" font-size="6.2">2</tspan></text><text x="943.1" y="396.6" font-size="8.6" fill="#7d7d7d" text-anchor="middle" fill-opacity="0.95">10<tspan dy="-3.6" font-size="6.2">3</tspan></text><text x="978.6" y="396.6" font-size="8.6" fill="#7d7d7d" text-anchor="middle" fill-opacity="0.95">10<tspan dy="-3.6" font-size="6.2">4</tspan></text><text x="1013.1" y="396.6" font-size="8.6" fill="#7d7d7d" text-anchor="middle" fill-opacity="0.95">10<tspan dy="-3.6" font-size="6.2">5</tspan></text><text x="941" y="249.9" font-size="16" fill="#2a2a2a" stroke="#2a2a2a" stroke-width="0.4" textLength="70.7" lengthAdjust="spacingAndGlyphs" xml:space="preserve">MFI 7364</text><clipPath id="c1_1047"><rect x="1047.4" y="226.4" width="151.2" height="152.2"/></clipPath><g clip-path="url(#c1_1047)"><path d="M1074.4 378.1 C1075.7 377.4 1080.1 376.4 1082.3 374.2 C1084.6 372 1086.3 369.6 1088.1 365.1 C1089.8 360.5 1091.4 354.4 1092.6 346.8 C1093.8 339.2 1094.5 330.9 1095.3 319.5 C1096.2 308.1 1096.9 291.7 1097.6 278.4 C1098.3 265.1 1099 246.9 1099.5 239.6 C1099.9 232.4 1100.1 228.6 1100.6 235.1 C1101.1 241.5 1101.8 263.6 1102.4 278.4 C1103.1 293.2 1103.7 311.1 1104.5 324 C1105.2 336.9 1105.9 347.6 1106.8 356 C1107.6 364.3 1108.7 370.5 1109.7 374.2 C1110.8 377.9 1112.6 377.4 1113.1 378.1 L1113.1 378.6 L1074.4 378.6 Z" fill="#858585"/><path d="M1069.8 377.8 C1070.6 377.4 1072.8 377.5 1074.4 375.3 C1075.9 373.2 1077.6 369.1 1078.9 365.1 C1080.3 361.1 1081.2 357.5 1082.3 351.4 C1083.5 345.3 1084.6 335 1085.8 328.6 C1086.9 322.1 1088.1 315.7 1089.2 312.6 C1090.3 309.6 1091.5 311.5 1092.6 310.3 C1093.8 309.2 1094.9 307.3 1096 305.8 C1097.2 304.3 1098.5 302.7 1099.5 301.2 C1100.4 299.7 1100.8 297.8 1101.7 296.7 C1102.7 295.5 1104.2 297.4 1105.2 294.4 C1106.1 291.3 1106.5 282.6 1107.4 278.4 C1108.4 274.2 1109.9 271.2 1110.9 269.3 C1111.8 267.4 1112.2 268.5 1113.1 267 C1114.1 265.5 1115.6 262.8 1116.6 260.2 C1117.5 257.5 1117.9 252.9 1118.8 251 C1119.8 249.1 1121.3 249.5 1122.3 248.8 C1123.2 248 1123.6 246.1 1124.5 246.5 C1125.5 246.9 1126.8 248 1128 251 C1129.1 254.1 1130.2 258.3 1131.4 264.7 C1132.5 271.2 1133.7 281.8 1134.8 289.8 C1135.9 297.8 1137.1 303.1 1138.2 312.6 C1139.4 322.1 1140.5 337.3 1141.6 346.8 C1142.8 356.3 1143.7 364.5 1145.1 369.6 C1146.4 374.8 1148.9 376.4 1149.6 377.8" fill="none" stroke="#383838" stroke-width="1.45" stroke-linejoin="round"/></g><path d="M1098.3 306.2H1197.1M1098.3 303.7v5M1197.1 303.7v5" stroke="#555" stroke-width="1.4" fill="none"/><rect x="1047.4" y="226.4" width="151.2" height="152.2" fill="none" stroke="#7a7a7a" stroke-width="1.3"/><path d="M1047.4 226.4V378.6H1198.6" stroke="#555" stroke-width="1.5" fill="none"/><path d="M1047.4 229.4h-2.5M1047.4 235.4h-2.5M1047.4 241.3h-2.5M1047.4 247.3h-2.5M1047.4 253.3h-2.5M1047.4 259.2h-2.5M1047.4 265.2h-2.5M1047.4 271.2h-2.5M1047.4 277.1h-2.5M1047.4 283.1h-2.5M1047.4 289.1h-2.5M1047.4 295h-2.5M1047.4 301h-2.5M1047.4 307h-2.5M1047.4 313h-2.5M1047.4 318.9h-2.5M1047.4 324.9h-2.5M1047.4 330.9h-2.5M1047.4 336.8h-2.5M1047.4 342.8h-2.5M1047.4 348.8h-2.5M1047.4 354.7h-2.5M1047.4 360.7h-2.5M1047.4 366.7h-2.5M1047.4 372.6h-2.5M1047.4 378.6h-2.5M1049.4 378.6v2.5M1055.3 378.6v2.5M1061.2 378.6v2.5M1067.1 378.6v2.5M1073 378.6v2.5M1078.8 378.6v2.5M1084.7 378.6v2.5M1090.6 378.6v2.5M1096.5 378.6v2.5M1102.4 378.6v2.5M1108.3 378.6v2.5M1114.2 378.6v2.5M1120.1 378.6v2.5M1125.9 378.6v2.5M1131.8 378.6v2.5M1137.7 378.6v2.5M1143.6 378.6v2.5M1149.5 378.6v2.5M1155.4 378.6v2.5M1161.3 378.6v2.5M1167.2 378.6v2.5M1173 378.6v2.5M1178.9 378.6v2.5M1184.8 378.6v2.5M1190.7 378.6v2.5M1196.6 378.6v2.5" stroke="#8a8a8a" stroke-width="0.8" fill="none"/><text x="1040.4" y="381" font-size="6.8" fill="#7a7a7a" text-anchor="end">0</text><path d="M1047.4 378.6h-4.5" stroke="#777" stroke-width="1"/><text x="1040.4" y="352.4" font-size="6.8" fill="#7a7a7a" text-anchor="end">20</text><path d="M1047.4 350h-4.5" stroke="#777" stroke-width="1"/><text x="1040.4" y="323.7" font-size="6.8" fill="#7a7a7a" text-anchor="end">40</text><path d="M1047.4 321.3h-4.5" stroke="#777" stroke-width="1"/><text x="1040.4" y="295.1" font-size="6.8" fill="#7a7a7a" text-anchor="end">60</text><path d="M1047.4 292.7h-4.5" stroke="#777" stroke-width="1"/><text x="1040.4" y="266.4" font-size="6.8" fill="#7a7a7a" text-anchor="end">80</text><path d="M1047.4 264h-4.5" stroke="#777" stroke-width="1"/><text x="1040.4" y="237.8" font-size="6.8" fill="#7a7a7a" text-anchor="end">100</text><path d="M1047.4 235.4h-4.5" stroke="#777" stroke-width="1"/><text x="1059.3" y="396.6" font-size="8.6" fill="#7d7d7d" text-anchor="middle">0</text><text x="1079.9" y="396.6" font-size="8.6" fill="#7d7d7d" text-anchor="middle" fill-opacity="0.95">10<tspan dy="-3.6" font-size="6.2">2</tspan></text><text x="1116" y="396.6" font-size="8.6" fill="#7d7d7d" text-anchor="middle" fill-opacity="0.95">10<tspan dy="-3.6" font-size="6.2">3</tspan></text><text x="1151.9" y="396.6" font-size="8.6" fill="#7d7d7d" text-anchor="middle" fill-opacity="0.95">10<tspan dy="-3.6" font-size="6.2">4</tspan></text><text x="1186.7" y="396.6" font-size="8.6" fill="#7d7d7d" text-anchor="middle" fill-opacity="0.95">10<tspan dy="-3.6" font-size="6.2">5</tspan></text><text x="1117.7" y="251" font-size="16" fill="#2a2a2a" stroke="#2a2a2a" stroke-width="0.4" textLength="71.8" lengthAdjust="spacingAndGlyphs" xml:space="preserve">MFI 1247</text><clipPath id="c1_1221"><rect x="1221.1" y="226.4" width="151.7" height="152.2"/></clipPath><g clip-path="url(#c1_1221)"><path d="M1238.8 378.1 C1239.9 377.3 1243.5 375.6 1245.6 373.1 C1247.7 370.5 1249.6 367.9 1251.3 362.8 C1253 357.7 1254.5 350.6 1255.9 342.3 C1257.3 333.9 1258.5 323.3 1259.7 312.6 C1261 302 1262.3 289.4 1263.4 278.4 C1264.5 267.4 1265.8 252.9 1266.6 246.5 C1267.4 240 1267.7 238.9 1268.4 239.6 C1269.2 240.4 1270.3 244.6 1271.2 251 C1272 257.5 1272.7 268.2 1273.4 278.4 C1274.2 288.7 1275 301.2 1275.7 312.6 C1276.5 324 1277.2 337.3 1278 346.8 C1278.8 356.3 1279.6 364.4 1280.3 369.6 C1281 374.8 1281.8 376.7 1282.1 378.1 L1282.1 378.6 L1238.8 378.6 Z" fill="#858585"/><path d="M1279.8 377.8 C1280.6 377.2 1282.9 376.3 1284.4 374.2 C1285.9 372.1 1287.6 369.6 1288.9 365.1 C1290.3 360.5 1291.2 354.4 1292.4 346.8 C1293.5 339.2 1294.6 327.8 1295.8 319.5 C1296.9 311.1 1298.3 303.5 1299.2 296.7 C1300.2 289.8 1300.5 282.6 1301.5 278.4 C1302.4 274.2 1303.8 274.6 1304.9 271.6 C1306 268.5 1307.2 262.8 1308.3 260.2 C1309.5 257.5 1310.8 256.8 1311.7 255.6 C1312.7 254.5 1313.2 254.3 1314 253.3 C1314.9 252.4 1315.8 251 1316.8 249.9 C1317.7 248.8 1318.9 246.7 1319.7 246.5 C1320.6 246.3 1321.2 246.5 1322 248.8 C1322.8 251 1323.5 254.5 1324.3 260.2 C1325 265.9 1325.8 275.4 1326.6 283 C1327.3 290.6 1328.1 298.9 1328.8 305.8 C1329.6 312.6 1330.4 317.9 1331.1 324 C1331.9 330.1 1332.5 336.2 1333.4 342.3 C1334.4 348.4 1335.5 355.4 1336.8 360.5 C1338.2 365.6 1339.1 370.4 1341.4 373.1 C1343.7 375.7 1346 375.7 1350.5 376.5 C1355.1 377.2 1365.3 378.8 1368.8 377.6 C1372.2 376.5 1370.5 374.8 1371 369.6 C1371.6 364.5 1372 350.6 1372.2 346.8" fill="none" stroke="#383838" stroke-width="1.45" stroke-linejoin="round"/></g><path d="M1274.1 306.9H1371.5M1274.1 304.4v5M1371.5 304.4v5" stroke="#555" stroke-width="1.4" fill="none"/><rect x="1221.1" y="226.4" width="151.7" height="152.2" fill="none" stroke="#7a7a7a" stroke-width="1.3"/><path d="M1221.1 226.4V378.6H1372.8" stroke="#555" stroke-width="1.5" fill="none"/><path d="M1221.1 229.4h-2.5M1221.1 235.4h-2.5M1221.1 241.3h-2.5M1221.1 247.3h-2.5M1221.1 253.3h-2.5M1221.1 259.2h-2.5M1221.1 265.2h-2.5M1221.1 271.2h-2.5M1221.1 277.1h-2.5M1221.1 283.1h-2.5M1221.1 289.1h-2.5M1221.1 295h-2.5M1221.1 301h-2.5M1221.1 307h-2.5M1221.1 313h-2.5M1221.1 318.9h-2.5M1221.1 324.9h-2.5M1221.1 330.9h-2.5M1221.1 336.8h-2.5M1221.1 342.8h-2.5M1221.1 348.8h-2.5M1221.1 354.7h-2.5M1221.1 360.7h-2.5M1221.1 366.7h-2.5M1221.1 372.6h-2.5M1221.1 378.6h-2.5M1223.1 378.6v2.5M1229 378.6v2.5M1234.9 378.6v2.5M1240.8 378.6v2.5M1246.7 378.6v2.5M1252.6 378.6v2.5M1258.5 378.6v2.5M1264.5 378.6v2.5M1270.4 378.6v2.5M1276.3 378.6v2.5M1282.2 378.6v2.5M1288.1 378.6v2.5M1294 378.6v2.5M1299.9 378.6v2.5M1305.8 378.6v2.5M1311.7 378.6v2.5M1317.6 378.6v2.5M1323.5 378.6v2.5M1329.4 378.6v2.5M1335.4 378.6v2.5M1341.3 378.6v2.5M1347.2 378.6v2.5M1353.1 378.6v2.5M1359 378.6v2.5M1364.9 378.6v2.5M1370.8 378.6v2.5" stroke="#8a8a8a" stroke-width="0.8" fill="none"/><text x="1214.1" y="381" font-size="6.8" fill="#7a7a7a" text-anchor="end">0</text><path d="M1221.1 378.6h-4.5" stroke="#777" stroke-width="1"/><text x="1214.1" y="352.4" font-size="6.8" fill="#7a7a7a" text-anchor="end">20</text><path d="M1221.1 350h-4.5" stroke="#777" stroke-width="1"/><text x="1214.1" y="323.7" font-size="6.8" fill="#7a7a7a" text-anchor="end">40</text><path d="M1221.1 321.3h-4.5" stroke="#777" stroke-width="1"/><text x="1214.1" y="295.1" font-size="6.8" fill="#7a7a7a" text-anchor="end">60</text><path d="M1221.1 292.7h-4.5" stroke="#777" stroke-width="1"/><text x="1214.1" y="266.4" font-size="6.8" fill="#7a7a7a" text-anchor="end">80</text><path d="M1221.1 264h-4.5" stroke="#777" stroke-width="1"/><text x="1214.1" y="237.8" font-size="6.8" fill="#7a7a7a" text-anchor="end">100</text><path d="M1221.1 235.4h-4.5" stroke="#777" stroke-width="1"/><text x="1233.1" y="396.6" font-size="8.6" fill="#7d7d7d" text-anchor="middle">0</text><text x="1253.7" y="396.6" font-size="8.6" fill="#7d7d7d" text-anchor="middle" fill-opacity="0.95">10<tspan dy="-3.6" font-size="6.2">2</tspan></text><text x="1290" y="396.6" font-size="8.6" fill="#7d7d7d" text-anchor="middle" fill-opacity="0.95">10<tspan dy="-3.6" font-size="6.2">3</tspan></text><text x="1325.9" y="396.6" font-size="8.6" fill="#7d7d7d" text-anchor="middle" fill-opacity="0.95">10<tspan dy="-3.6" font-size="6.2">4</tspan></text><text x="1360.8" y="396.6" font-size="8.6" fill="#7d7d7d" text-anchor="middle" fill-opacity="0.95">10<tspan dy="-3.6" font-size="6.2">5</tspan></text><text x="1288.9" y="249.2" font-size="16" fill="#2a2a2a" stroke="#2a2a2a" stroke-width="0.4" textLength="72.5" lengthAdjust="spacingAndGlyphs" xml:space="preserve">MFI 5076</text><clipPath id="c1_1397"><rect x="1397.6" y="226.4" width="151.7" height="152.2"/></clipPath><g clip-path="url(#c1_1397)"><path d="M1434.9 378.1 C1435.5 376.7 1437.2 374.8 1438.3 369.6 C1439.4 364.4 1440.4 356.3 1441.3 346.8 C1442.2 337.3 1442.8 324 1443.6 312.6 C1444.3 301.2 1445.1 291 1445.8 278.4 C1446.6 265.9 1447.4 241.2 1448.1 237.4 C1448.9 233.6 1449.6 245.7 1450.4 255.6 C1451.2 265.5 1451.8 282.6 1452.7 296.7 C1453.5 310.7 1454.6 328.6 1455.4 340 C1456.3 351.4 1456.9 358.7 1457.7 365.1 C1458.5 371.4 1459.6 375.9 1460 378.1 L1460 378.6 L1434.9 378.6 Z" fill="#858585"/><path d="M1398.4 377.8 C1400.3 377.8 1406 378 1409.8 377.6 C1413.6 377.2 1418.2 376.3 1421.2 375.3 C1424.2 374.4 1426.3 374.8 1428.1 371.9 C1429.8 369.1 1430.5 364.3 1431.5 358.2 C1432.4 352.2 1432.8 344.9 1433.8 335.4 C1434.7 325.9 1436 312.6 1437.2 301.2 C1438.3 289.8 1439.5 277.3 1440.6 267 C1441.7 256.8 1442.7 245 1443.6 239.6 C1444.4 234.3 1445.1 234.3 1445.8 235.1 C1446.6 235.8 1447.4 238.9 1448.1 244.2 C1448.9 249.5 1449.6 258.3 1450.4 267 C1451.2 275.8 1451.9 287.2 1452.7 296.7 C1453.4 306.2 1454.1 315.7 1455 324 C1455.8 332.4 1456.7 341.1 1457.7 346.8 C1458.7 352.5 1459.6 355.2 1461.1 358.2 C1462.6 361.3 1464.7 363.2 1466.8 365.1 C1468.9 367 1471 368.1 1473.7 369.6 C1476.3 371.2 1479.7 372.9 1482.8 374.2 C1485.8 375.5 1488.5 377 1491.9 377.6 C1495.3 378.2 1501.4 377.8 1503.3 377.8" fill="none" stroke="#383838" stroke-width="1.45" stroke-linejoin="round"/></g><path d="M1450.4 308.1H1546.6M1450.4 305.6v5M1546.6 305.6v5" stroke="#555" stroke-width="1.4" fill="none"/><rect x="1397.6" y="226.4" width="151.7" height="152.2" fill="none" stroke="#7a7a7a" stroke-width="1.3"/><path d="M1397.6 226.4V378.6H1549.3" stroke="#555" stroke-width="1.5" fill="none"/><path d="M1397.6 229.4h-2.5M1397.6 235.4h-2.5M1397.6 241.3h-2.5M1397.6 247.3h-2.5M1397.6 253.3h-2.5M1397.6 259.2h-2.5M1397.6 265.2h-2.5M1397.6 271.2h-2.5M1397.6 277.1h-2.5M1397.6 283.1h-2.5M1397.6 289.1h-2.5M1397.6 295h-2.5M1397.6 301h-2.5M1397.6 307h-2.5M1397.6 313h-2.5M1397.6 318.9h-2.5M1397.6 324.9h-2.5M1397.6 330.9h-2.5M1397.6 336.8h-2.5M1397.6 342.8h-2.5M1397.6 348.8h-2.5M1397.6 354.7h-2.5M1397.6 360.7h-2.5M1397.6 366.7h-2.5M1397.6 372.6h-2.5M1397.6 378.6h-2.5M1399.6 378.6v2.5M1405.5 378.6v2.5M1411.4 378.6v2.5M1417.3 378.6v2.5M1423.2 378.6v2.5M1429.1 378.6v2.5M1435 378.6v2.5M1441 378.6v2.5M1446.9 378.6v2.5M1452.8 378.6v2.5M1458.7 378.6v2.5M1464.6 378.6v2.5M1470.5 378.6v2.5M1476.4 378.6v2.5M1482.3 378.6v2.5M1488.2 378.6v2.5M1494.1 378.6v2.5M1500 378.6v2.5M1505.9 378.6v2.5M1511.9 378.6v2.5M1517.8 378.6v2.5M1523.7 378.6v2.5M1529.6 378.6v2.5M1535.5 378.6v2.5M1541.4 378.6v2.5M1547.3 378.6v2.5" stroke="#8a8a8a" stroke-width="0.8" fill="none"/><text x="1390.6" y="381" font-size="6.8" fill="#7a7a7a" text-anchor="end">0</text><path d="M1397.6 378.6h-4.5" stroke="#777" stroke-width="1"/><text x="1390.6" y="352.4" font-size="6.8" fill="#7a7a7a" text-anchor="end">20</text><path d="M1397.6 350h-4.5" stroke="#777" stroke-width="1"/><text x="1390.6" y="323.7" font-size="6.8" fill="#7a7a7a" text-anchor="end">40</text><path d="M1397.6 321.3h-4.5" stroke="#777" stroke-width="1"/><text x="1390.6" y="295.1" font-size="6.8" fill="#7a7a7a" text-anchor="end">60</text><path d="M1397.6 292.7h-4.5" stroke="#777" stroke-width="1"/><text x="1390.6" y="266.4" font-size="6.8" fill="#7a7a7a" text-anchor="end">80</text><path d="M1397.6 264h-4.5" stroke="#777" stroke-width="1"/><text x="1390.6" y="237.8" font-size="6.8" fill="#7a7a7a" text-anchor="end">100</text><path d="M1397.6 235.4h-4.5" stroke="#777" stroke-width="1"/><text x="1409.6" y="396.6" font-size="8.6" fill="#7d7d7d" text-anchor="middle">0</text><text x="1430.2" y="396.6" font-size="8.6" fill="#7d7d7d" text-anchor="middle" fill-opacity="0.95">10<tspan dy="-3.6" font-size="6.2">2</tspan></text><text x="1466.5" y="396.6" font-size="8.6" fill="#7d7d7d" text-anchor="middle" fill-opacity="0.95">10<tspan dy="-3.6" font-size="6.2">3</tspan></text><text x="1502.4" y="396.6" font-size="8.6" fill="#7d7d7d" text-anchor="middle" fill-opacity="0.95">10<tspan dy="-3.6" font-size="6.2">4</tspan></text><text x="1537.3" y="396.6" font-size="8.6" fill="#7d7d7d" text-anchor="middle" fill-opacity="0.95">10<tspan dy="-3.6" font-size="6.2">5</tspan></text><text x="1474.3" y="247.6" font-size="16" fill="#2a2a2a" stroke="#2a2a2a" stroke-width="0.4" textLength="62.7" lengthAdjust="spacingAndGlyphs" xml:space="preserve">MFI 307</text><clipPath id="c1_1573"><rect x="1573.9" y="226.4" width="151.7" height="152.2"/></clipPath><g clip-path="url(#c1_1573)"><path d="M1592.5 378.1 C1593.4 376.7 1596.5 373.4 1598.2 369.7 C1599.9 366 1601.3 362.1 1602.7 356 C1604.1 349.9 1605.4 342.3 1606.6 333.2 C1607.9 324.1 1609.2 312.3 1610.3 301.2 C1611.3 290.2 1612.1 276.1 1613 267 C1613.9 257.9 1615 250.7 1615.7 246.5 C1616.5 242.3 1616.9 240.4 1617.6 241.9 C1618.2 243.5 1619 247.6 1619.8 255.6 C1620.7 263.6 1621.6 277.7 1622.6 289.8 C1623.5 302 1624.5 316.8 1625.5 328.6 C1626.6 340.4 1627.8 352.3 1629 360.5 C1630.1 368.8 1631.8 375.2 1632.4 378.1 L1632.4 378.6 L1592.5 378.6 Z" fill="#858585"/><path d="M1574.2 377.8 C1574.8 377.5 1575.9 376.7 1577.6 376.1 C1579.3 375.5 1582 374.7 1584.5 374.2 C1587 373.7 1590.2 374 1592.5 373.1 C1594.7 372.1 1596.3 370.6 1598.2 368.5 C1600.1 366.4 1602.2 363.4 1603.9 360.5 C1605.6 357.7 1606.9 355.2 1608.4 351.4 C1610 347.6 1611.5 343.8 1613 337.7 C1614.5 331.7 1616 321.8 1617.6 314.9 C1619.1 308.1 1620.8 302.4 1622.1 296.7 C1623.4 291 1624.4 284.5 1625.5 280.7 C1626.7 276.9 1628 276.9 1629 273.9 C1629.9 270.8 1630.4 264 1631.2 262.5 C1632.1 260.9 1633 265.9 1634 264.7 C1634.9 263.6 1635.9 257.5 1636.9 255.6 C1638 253.7 1639.2 254.1 1640.4 253.3 C1641.5 252.6 1642.6 251.8 1643.8 251.1 C1644.9 250.3 1646.3 246.9 1647.2 248.8 C1648.2 250.7 1648.7 258.7 1649.5 262.5 C1650.2 266.3 1651 268.2 1651.8 271.6 C1652.5 275 1653.3 278.8 1654.1 283 C1654.8 287.2 1655.6 292.5 1656.3 296.7 C1657.1 300.9 1657.7 303.5 1658.6 308.1 C1659.6 312.6 1660.9 318.7 1662 324.1 C1663.2 329.4 1664.1 334.7 1665.5 340 C1666.8 345.3 1668.5 351.4 1670 356 C1671.5 360.5 1673.1 364.3 1674.6 367.4 C1676.1 370.4 1677.2 372.5 1679.1 374.2 C1681 376 1684.8 377.2 1686 377.8" fill="none" stroke="#383838" stroke-width="1.45" stroke-linejoin="round"/><path d="M1574.5 378.6L1574.7 333L1576.1 377.6" fill="none" stroke="#3c3c3c" stroke-width="1.5"/></g><path d="M1633.1 311H1724.8M1633.1 308.5v5M1724.8 308.5v5" stroke="#555" stroke-width="1.4" fill="none"/><rect x="1573.9" y="226.4" width="151.7" height="152.2" fill="none" stroke="#7a7a7a" stroke-width="1.3"/><path d="M1573.9 226.4V378.6H1725.6" stroke="#555" stroke-width="1.5" fill="none"/><path d="M1573.9 229.4h-2.5M1573.9 235.4h-2.5M1573.9 241.3h-2.5M1573.9 247.3h-2.5M1573.9 253.3h-2.5M1573.9 259.2h-2.5M1573.9 265.2h-2.5M1573.9 271.2h-2.5M1573.9 277.1h-2.5M1573.9 283.1h-2.5M1573.9 289.1h-2.5M1573.9 295h-2.5M1573.9 301h-2.5M1573.9 307h-2.5M1573.9 313h-2.5M1573.9 318.9h-2.5M1573.9 324.9h-2.5M1573.9 330.9h-2.5M1573.9 336.8h-2.5M1573.9 342.8h-2.5M1573.9 348.8h-2.5M1573.9 354.7h-2.5M1573.9 360.7h-2.5M1573.9 366.7h-2.5M1573.9 372.6h-2.5M1573.9 378.6h-2.5M1575.9 378.6v2.5M1581.8 378.6v2.5M1587.7 378.6v2.5M1593.6 378.6v2.5M1599.5 378.6v2.5M1605.4 378.6v2.5M1611.3 378.6v2.5M1617.3 378.6v2.5M1623.2 378.6v2.5M1629.1 378.6v2.5M1635 378.6v2.5M1640.9 378.6v2.5M1646.8 378.6v2.5M1652.7 378.6v2.5M1658.6 378.6v2.5M1664.5 378.6v2.5M1670.4 378.6v2.5M1676.3 378.6v2.5M1682.2 378.6v2.5M1688.2 378.6v2.5M1694.1 378.6v2.5M1700 378.6v2.5M1705.9 378.6v2.5M1711.8 378.6v2.5M1717.7 378.6v2.5M1723.6 378.6v2.5" stroke="#8a8a8a" stroke-width="0.8" fill="none"/><text x="1566.9" y="381" font-size="6.8" fill="#7a7a7a" text-anchor="end">0</text><path d="M1573.9 378.6h-4.5" stroke="#777" stroke-width="1"/><text x="1566.9" y="352.4" font-size="6.8" fill="#7a7a7a" text-anchor="end">20</text><path d="M1573.9 350h-4.5" stroke="#777" stroke-width="1"/><text x="1566.9" y="323.7" font-size="6.8" fill="#7a7a7a" text-anchor="end">40</text><path d="M1573.9 321.3h-4.5" stroke="#777" stroke-width="1"/><text x="1566.9" y="295.1" font-size="6.8" fill="#7a7a7a" text-anchor="end">60</text><path d="M1573.9 292.7h-4.5" stroke="#777" stroke-width="1"/><text x="1566.9" y="266.4" font-size="6.8" fill="#7a7a7a" text-anchor="end">80</text><path d="M1573.9 264h-4.5" stroke="#777" stroke-width="1"/><text x="1566.9" y="237.8" font-size="6.8" fill="#7a7a7a" text-anchor="end">100</text><path d="M1573.9 235.4h-4.5" stroke="#777" stroke-width="1"/><text x="1585.9" y="396.6" font-size="8.6" fill="#7d7d7d" text-anchor="middle">0</text><text x="1606.5" y="396.6" font-size="8.6" fill="#7d7d7d" text-anchor="middle" fill-opacity="0.95">10<tspan dy="-3.6" font-size="6.2">2</tspan></text><text x="1642.8" y="396.6" font-size="8.6" fill="#7d7d7d" text-anchor="middle" fill-opacity="0.95">10<tspan dy="-3.6" font-size="6.2">3</tspan></text><text x="1678.7" y="396.6" font-size="8.6" fill="#7d7d7d" text-anchor="middle" fill-opacity="0.95">10<tspan dy="-3.6" font-size="6.2">4</tspan></text><text x="1713.6" y="396.6" font-size="8.6" fill="#7d7d7d" text-anchor="middle" fill-opacity="0.95">10<tspan dy="-3.6" font-size="6.2">5</tspan></text><text x="1643.3" y="247.6" font-size="16" fill="#2a2a2a" stroke="#2a2a2a" stroke-width="0.4" textLength="72.3" lengthAdjust="spacingAndGlyphs" xml:space="preserve">MFI 1478</text><clipPath id="c1_1749"><rect x="1749.4" y="226.4" width="151.7" height="152.2"/></clipPath><g clip-path="url(#c1_1749)"><path d="M1768.1 378.1 C1769.1 376.7 1772.1 374.9 1773.8 369.7 C1775.5 364.5 1776.8 356.4 1778.4 346.9 C1779.9 337.4 1781.4 324.8 1782.9 312.6 C1784.4 300.5 1786.2 284.9 1787.5 273.9 C1788.8 262.8 1790.1 251.8 1790.9 246.5 C1791.7 241.2 1791.9 241.2 1792.5 241.9 C1793.1 242.7 1793.6 245 1794.3 251.1 C1795 257.1 1795.7 267 1796.6 278.4 C1797.6 289.8 1798.9 306.6 1800 319.5 C1801.2 332.4 1802.4 346.2 1803.5 356 C1804.5 365.8 1805.9 374.4 1806.4 378.1 L1806.4 378.6 L1768.1 378.6 Z" fill="#858585"/><path d="M1804.6 377.8 C1806.1 377.8 1810.3 378.1 1813.7 377.7 C1817.1 377.3 1822.1 376.5 1825.1 375.4 C1828.2 374.2 1830.1 372.1 1832 370.8 C1833.9 369.5 1835.2 369.5 1836.5 367.4 C1837.9 365.3 1838.6 362.4 1840 358.3 C1841.3 354.1 1843 348 1844.5 342.3 C1846 336.6 1847.7 329.8 1849.1 324.1 C1850.4 318.3 1851.4 314.5 1852.5 308.1 C1853.6 301.6 1854.8 291.4 1855.9 285.3 C1857.1 279.2 1858.2 276.5 1859.3 271.6 C1860.5 266.6 1861.8 259.4 1862.8 255.6 C1863.7 251.8 1864.2 249.2 1865 248.8 C1865.9 248.4 1867.1 253.7 1868 253.3 C1869 253 1869.9 246.1 1870.7 246.5 C1871.6 246.9 1872.3 250.3 1873 255.6 C1873.8 260.9 1874.5 268.9 1875.3 278.4 C1876.1 287.9 1876.8 301.2 1877.6 312.6 C1878.4 324.1 1879.1 337.4 1879.9 346.9 C1880.6 356.4 1881.2 364.5 1882.2 369.7 C1883.1 374.8 1885 376.4 1885.6 377.8" fill="none" stroke="#383838" stroke-width="1.45" stroke-linejoin="round"/></g><path d="M1807.6 311H1900.4M1807.6 308.5v5M1900.4 308.5v5" stroke="#555" stroke-width="1.4" fill="none"/><rect x="1749.4" y="226.4" width="151.7" height="152.2" fill="none" stroke="#7a7a7a" stroke-width="1.3"/><path d="M1749.4 226.4V378.6H1901.1" stroke="#555" stroke-width="1.5" fill="none"/><path d="M1749.4 229.4h-2.5M1749.4 235.4h-2.5M1749.4 241.3h-2.5M1749.4 247.3h-2.5M1749.4 253.3h-2.5M1749.4 259.2h-2.5M1749.4 265.2h-2.5M1749.4 271.2h-2.5M1749.4 277.1h-2.5M1749.4 283.1h-2.5M1749.4 289.1h-2.5M1749.4 295h-2.5M1749.4 301h-2.5M1749.4 307h-2.5M1749.4 313h-2.5M1749.4 318.9h-2.5M1749.4 324.9h-2.5M1749.4 330.9h-2.5M1749.4 336.8h-2.5M1749.4 342.8h-2.5M1749.4 348.8h-2.5M1749.4 354.7h-2.5M1749.4 360.7h-2.5M1749.4 366.7h-2.5M1749.4 372.6h-2.5M1749.4 378.6h-2.5M1751.4 378.6v2.5M1757.3 378.6v2.5M1763.2 378.6v2.5M1769.1 378.6v2.5M1775 378.6v2.5M1780.9 378.6v2.5M1786.8 378.6v2.5M1792.8 378.6v2.5M1798.7 378.6v2.5M1804.6 378.6v2.5M1810.5 378.6v2.5M1816.4 378.6v2.5M1822.3 378.6v2.5M1828.2 378.6v2.5M1834.1 378.6v2.5M1840 378.6v2.5M1845.9 378.6v2.5M1851.8 378.6v2.5M1857.7 378.6v2.5M1863.7 378.6v2.5M1869.6 378.6v2.5M1875.5 378.6v2.5M1881.4 378.6v2.5M1887.3 378.6v2.5M1893.2 378.6v2.5M1899.1 378.6v2.5" stroke="#8a8a8a" stroke-width="0.8" fill="none"/><text x="1742.4" y="381" font-size="6.8" fill="#7a7a7a" text-anchor="end">0</text><path d="M1749.4 378.6h-4.5" stroke="#777" stroke-width="1"/><text x="1742.4" y="352.4" font-size="6.8" fill="#7a7a7a" text-anchor="end">20</text><path d="M1749.4 350h-4.5" stroke="#777" stroke-width="1"/><text x="1742.4" y="323.7" font-size="6.8" fill="#7a7a7a" text-anchor="end">40</text><path d="M1749.4 321.3h-4.5" stroke="#777" stroke-width="1"/><text x="1742.4" y="295.1" font-size="6.8" fill="#7a7a7a" text-anchor="end">60</text><path d="M1749.4 292.7h-4.5" stroke="#777" stroke-width="1"/><text x="1742.4" y="266.4" font-size="6.8" fill="#7a7a7a" text-anchor="end">80</text><path d="M1749.4 264h-4.5" stroke="#777" stroke-width="1"/><text x="1742.4" y="237.8" font-size="6.8" fill="#7a7a7a" text-anchor="end">100</text><path d="M1749.4 235.4h-4.5" stroke="#777" stroke-width="1"/><text x="1761.4" y="396.6" font-size="8.6" fill="#7d7d7d" text-anchor="middle">0</text><text x="1782" y="396.6" font-size="8.6" fill="#7d7d7d" text-anchor="middle" fill-opacity="0.95">10<tspan dy="-3.6" font-size="6.2">2</tspan></text><text x="1818.3" y="396.6" font-size="8.6" fill="#7d7d7d" text-anchor="middle" fill-opacity="0.95">10<tspan dy="-3.6" font-size="6.2">3</tspan></text><text x="1854.2" y="396.6" font-size="8.6" fill="#7d7d7d" text-anchor="middle" fill-opacity="0.95">10<tspan dy="-3.6" font-size="6.2">4</tspan></text><text x="1889.1" y="396.6" font-size="8.6" fill="#7d7d7d" text-anchor="middle" fill-opacity="0.95">10<tspan dy="-3.6" font-size="6.2">5</tspan></text><text x="1804.1" y="247.6" font-size="16" fill="#2a2a2a" stroke="#2a2a2a" stroke-width="0.4" textLength="88.3" lengthAdjust="spacingAndGlyphs" xml:space="preserve">MFI   18700</text><path d="M114.6 544.5V673.3" stroke="#111" stroke-width="2.6"/><path d="M114.6 690.6V818.3" stroke="#111" stroke-width="2.6"/><path d="M102.8 545.7H114.6" stroke="#111" stroke-width="2.4"/><text x="99.5" y="551.1" font-size="15.3" fill="#111" text-anchor="end">50000</text><path d="M102.8 574.3H114.6" stroke="#111" stroke-width="2.4"/><text x="99.5" y="579.7" font-size="15.3" fill="#111" text-anchor="end">40000</text><path d="M102.8 602.6H114.6" stroke="#111" stroke-width="2.4"/><text x="99.5" y="608" font-size="15.3" fill="#111" text-anchor="end">30000</text><path d="M102.8 630.5H114.6" stroke="#111" stroke-width="2.4"/><text x="99.5" y="635.9" font-size="15.3" fill="#111" text-anchor="end">20000</text><path d="M102.8 658.8H114.6" stroke="#111" stroke-width="2.4"/><text x="99.5" y="664.2" font-size="15.3" fill="#111" text-anchor="end">10000</text><text x="99.5" y="698.1" font-size="15.3" fill="#111" text-anchor="end">5000</text><path d="M102.8 717.9H114.6" stroke="#111" stroke-width="2.4"/><text x="99.5" y="723.3" font-size="15.3" fill="#111" text-anchor="end">4000</text><path d="M102.8 743.1H114.6" stroke="#111" stroke-width="2.4"/><text x="99.5" y="748.5" font-size="15.3" fill="#111" text-anchor="end">3000</text><path d="M102.8 768.4H114.6" stroke="#111" stroke-width="2.4"/><text x="99.5" y="773.8" font-size="15.3" fill="#111" text-anchor="end">2000</text><path d="M102.8 793.6H114.6" stroke="#111" stroke-width="2.4"/><text x="99.5" y="799" font-size="15.3" fill="#111" text-anchor="end">1000</text><path d="M102.8 818.3H114.6" stroke="#111" stroke-width="2.4"/><text x="99.5" y="823.7" font-size="15.3" fill="#111" text-anchor="end">0</text><path d="M107.3 666.5L121.6 680.5" stroke="#111" stroke-width="2.6"/><path d="M107.3 684.1L121.6 697.5" stroke="#111" stroke-width="2.6"/><path d="M102.7 818.3H525.5" stroke="#111" stroke-width="2.6"/><text x="44.5" y="684" font-size="24.3" fill="#111" text-anchor="middle" textLength="38.9" lengthAdjust="spacingAndGlyphs" transform="rotate(-90 44.5 684)">MFI</text><text x="174" y="848.5" font-size="24.3" fill="#111" text-anchor="middle" textLength="57.8" lengthAdjust="spacingAndGlyphs">CD86</text><text x="273" y="848.5" font-size="24.3" fill="#111" text-anchor="middle" textLength="64.1" lengthAdjust="spacingAndGlyphs">PD-L1</text><text x="369.2" y="848.5" font-size="24.3" fill="#111" text-anchor="middle" textLength="57.8" lengthAdjust="spacingAndGlyphs">CD80</text><text x="465.4" y="848.5" font-size="24.3" fill="#111" text-anchor="middle" textLength="57.8" lengthAdjust="spacingAndGlyphs">CD83</text><g fill="#151515"><circle cx="144.7" cy="764.7" r="5.6"/><circle cx="149.5" cy="768" r="5.6"/><circle cx="146.3" cy="770.6" r="5.6"/><circle cx="139.1" cy="789.7" r="5.6"/><circle cx="146.3" cy="788.1" r="5.6"/><circle cx="157.5" cy="790.5" r="5.6"/><circle cx="136" cy="798.5" r="5.6"/><circle cx="143.9" cy="796.9" r="5.6"/><circle cx="152.7" cy="795.3" r="5.6"/><circle cx="153.5" cy="804.9" r="5.6"/><circle cx="146.3" cy="804.9" r="5.6"/><circle cx="140.7" cy="812" r="5.6"/><circle cx="150" cy="800" r="5.6"/><circle cx="141" cy="803" r="5.6"/></g><path d="M130.4 791.3H161.5" stroke="#111" stroke-width="2.6"/><path d="M196.1 710.7V749M188.3 710.7H204.2" stroke="#111" stroke-width="1.5" fill="none"/><path d="M179.8 730.2H212.5" stroke="#111" stroke-width="3"/><path d="M207.4 738.4L201.6 749L213.2 749ZM192.6 743.2L186.8 753.8L198.4 753.8ZM185.1 747.7L179.3 758.3L190.9 758.3ZM199.8 747.2L194 757.8L205.6 757.8ZM192.3 754.7L186.5 765.3L198.1 765.3ZM199.5 766.4L193.7 777L205.3 777ZM207.4 769.2L201.6 779.8L213.2 779.8ZM192.1 775.9L186.3 786.5L197.9 786.5ZM199.8 784.2L194 794.8L205.6 794.8ZM196.1 798.8L190.3 809.4L201.9 809.4ZM196.4 649.6L190.6 660.2L202.2 660.2ZM188.6 661.9L182.8 672.5L194.4 672.5ZM196.3 667.2L190.5 677.8L202.1 677.8ZM203.5 665.6L197.7 676.2L209.3 676.2Z" fill="none" stroke="#111" stroke-width="1.5" stroke-linejoin="miter"/><path d="M154.8 605.2H195.8" stroke="#111" stroke-width="1.5"/><text x="175.3" y="607.8" font-size="19.5" fill="#111" stroke="#111" stroke-width="0.45" text-anchor="middle" textLength="27.6" lengthAdjust="spacing">***</text><g fill="#151515"><circle cx="245.6" cy="605.8" r="5.6"/><circle cx="245.6" cy="622.7" r="5.6"/><circle cx="239.7" cy="655.7" r="5.6"/><circle cx="246" cy="657.3" r="5.6"/><circle cx="234.9" cy="662.1" r="5.6"/><circle cx="242.9" cy="663.7" r="5.6"/><circle cx="250.8" cy="662.1" r="5.6"/><circle cx="257.2" cy="663.7" r="5.6"/><circle cx="245.3" cy="670.1" r="5.6"/><circle cx="252.4" cy="666.9" r="5.6"/><circle cx="245.6" cy="722.7" r="5.6"/><circle cx="250.8" cy="739.8" r="5.6"/><circle cx="245.6" cy="749.4" r="5.6"/><circle cx="248.1" cy="767.4" r="5.6"/><circle cx="242.5" cy="773.8" r="5.6"/></g><path d="M234 655.7H253.2" stroke="#111" stroke-width="2.6"/><path d="M294.7 650.2V668M286.7 650.2H302.7" stroke="#111" stroke-width="1.5" fill="none"/><path d="M278.4 659H310.7" stroke="#111" stroke-width="3"/><path d="M300 574.9L294.2 585.5L305.8 585.5ZM294.7 583.7L288.9 594.3L300.5 594.3ZM300 649.1L294.2 659.7L305.8 659.7ZM289.1 659.5L283.3 670.1L294.9 670.1ZM305.9 660.3L300.1 670.9L311.7 670.9ZM282.8 665.1L277 675.7L288.6 675.7ZM294.7 666.7L288.9 677.3L300.5 677.3ZM301.9 663.5L296.1 674.1L307.7 674.1ZM294.7 693L288.9 703.6L300.5 703.6ZM289.1 722.2L283.3 732.8L294.9 732.8ZM300.3 724.9L294.5 735.5L306.1 735.5ZM294.7 732.9L288.9 743.5L300.5 743.5ZM292 752.5L286.2 763.1L297.8 763.1ZM297.6 750.9L291.8 761.5L303.4 761.5Z" fill="none" stroke="#111" stroke-width="1.5" stroke-linejoin="miter"/><g fill="#151515"><circle cx="346.2" cy="798.4" r="5.6"/><circle cx="333.7" cy="803" r="5.6"/><circle cx="356.5" cy="808.5" r="5.6"/><circle cx="332.5" cy="810.5" r="5.6"/><circle cx="342.8" cy="810.5" r="5.6"/><circle cx="351" cy="810.5" r="5.6"/><circle cx="338" cy="807" r="5.6"/><circle cx="348" cy="805" r="5.6"/><circle cx="353" cy="803" r="5.6"/><circle cx="337" cy="812" r="5.6"/><circle cx="345" cy="812" r="5.6"/></g><path d="M327 807H360" stroke="#111" stroke-width="2.6"/><path d="M393 756.4L387.2 767L398.8 767ZM393 764.4L387.2 775L398.8 775ZM393 777.5L387.2 788.1L398.8 788.1ZM385.6 778.7L379.8 789.3L391.4 789.3ZM401.5 778.9L395.7 789.5L407.3 789.5ZM404.4 779.4L398.6 790L410.2 790ZM381 790.7L375.2 801.3L386.8 801.3ZM390.5 792.4L384.7 803L396.3 803ZM399.8 794.7L394 805.3L405.6 805.3ZM387.8 803.8L382 814.4L393.6 814.4ZM396 786.4L390.2 797L401.8 797ZM389 784.4L383.2 795L394.8 795Z" fill="none" stroke="#111" stroke-width="1.3" stroke-linejoin="miter"/><path d="M377 789.9H409.5" stroke="#111" stroke-width="3"/><path d="M345.2 720H386.2" stroke="#111" stroke-width="1.5"/><text x="365.7" y="722.6" font-size="19.5" fill="#111" stroke="#111" stroke-width="0.45" text-anchor="middle" textLength="27.6" lengthAdjust="spacing">***</text><g fill="#151515"><circle cx="442.3" cy="772.8" r="5.6"/><circle cx="442.3" cy="792.7" r="5.6"/><circle cx="433" cy="810" r="5.6"/><circle cx="442" cy="805" r="5.6"/><circle cx="452" cy="810" r="5.6"/><circle cx="438" cy="815" r="5.6"/><circle cx="447" cy="815" r="5.6"/><circle cx="442" cy="819" r="5.6"/><circle cx="430" cy="814" r="5.6"/><circle cx="455" cy="814" r="5.6"/></g><path d="M426 805.8H458.5" stroke="#111" stroke-width="2.6"/><path d="M491.6 747.4V775M483.6 747.4H499.6" stroke="#111" stroke-width="1.5" fill="none"/><path d="M475 761.4H508" stroke="#111" stroke-width="3"/><path d="M480.5 662.5L474.7 673.1L486.3 673.1ZM491.5 667.2L485.7 677.8L497.3 677.8ZM491.6 736.5L485.8 747.1L497.4 747.1ZM491.6 746.8L485.8 757.4L497.4 757.4ZM480.5 765L474.7 775.6L486.3 775.6ZM502.4 763.3L496.6 773.9L508.2 773.9ZM491.6 769.6L485.8 780.2L497.4 780.2ZM480.5 780.4L474.7 791L486.3 791ZM491.6 784.4L485.8 795L497.4 795ZM491.6 796.4L485.8 807L497.4 807ZM502.4 796.9L496.6 807.5L508.2 807.5ZM480.5 807.2L474.7 817.8L486.3 817.8Z" fill="none" stroke="#111" stroke-width="1.5" stroke-linejoin="miter"/><path d="M452.4 641.2H493.6" stroke="#111" stroke-width="1.5"/><text x="473" y="643.8" font-size="19.5" fill="#111" stroke="#111" stroke-width="0.45" text-anchor="middle" textLength="27.6" lengthAdjust="spacing">***</text><g fill="#151515"><circle cx="540.2" cy="564" r="5.6"/></g><text x="571.6" y="571.8" font-size="24.3" fill="#111" text-anchor="start" textLength="65.9" lengthAdjust="spacingAndGlyphs">DCreg</text><path d="M540.2 591.2L534.4 601.8L546 601.8Z" fill="none" stroke="#111" stroke-width="1.3" stroke-linejoin="miter"/><text x="571.6" y="604.2" font-size="24.3" fill="#111" text-anchor="start" textLength="51.9" lengthAdjust="spacingAndGlyphs">mDC</text><path d="M752 552.2V681.4" stroke="#111" stroke-width="2.6"/><path d="M752 699.1V826.8" stroke="#111" stroke-width="2.6"/><path d="M740.9 553.4H752" stroke="#111" stroke-width="2.4"/><text x="737.5" y="558.8" font-size="15.3" fill="#111" text-anchor="end">50000</text><path d="M740.9 582H752" stroke="#111" stroke-width="2.4"/><text x="737.5" y="587.4" font-size="15.3" fill="#111" text-anchor="end">40000</text><path d="M740.9 609.9H752" stroke="#111" stroke-width="2.4"/><text x="737.5" y="615.3" font-size="15.3" fill="#111" text-anchor="end">30000</text><path d="M740.9 638H752" stroke="#111" stroke-width="2.4"/><text x="737.5" y="643.4" font-size="15.3" fill="#111" text-anchor="end">20000</text><path d="M740.9 665.9H752" stroke="#111" stroke-width="2.4"/><text x="737.5" y="671.3" font-size="15.3" fill="#111" text-anchor="end">10000</text><text x="737.5" y="706.3" font-size="15.3" fill="#111" text-anchor="end">5000</text><path d="M740.9 725.6H752" stroke="#111" stroke-width="2.4"/><text x="737.5" y="731" font-size="15.3" fill="#111" text-anchor="end">4000</text><path d="M740.9 751H752" stroke="#111" stroke-width="2.4"/><text x="737.5" y="756.4" font-size="15.3" fill="#111" text-anchor="end">3000</text><path d="M740.9 776.4H752" stroke="#111" stroke-width="2.4"/><text x="737.5" y="781.8" font-size="15.3" fill="#111" text-anchor="end">2000</text><path d="M740.9 801.5H752" stroke="#111" stroke-width="2.4"/><text x="737.5" y="806.9" font-size="15.3" fill="#111" text-anchor="end">1000</text><path d="M740.9 826.8H752" stroke="#111" stroke-width="2.4"/><text x="737.5" y="832.2" font-size="15.3" fill="#111" text-anchor="end">0</text><path d="M744.7 674.7L759 688.4" stroke="#111" stroke-width="2.6"/><path d="M744.7 692.2L759 706.3" stroke="#111" stroke-width="2.6"/><path d="M740.9 826.8H1163.5" stroke="#111" stroke-width="2.6"/><text x="682.2" y="693.2" font-size="24.3" fill="#111" text-anchor="middle" textLength="38.9" lengthAdjust="spacingAndGlyphs" transform="rotate(-90 682.2 693.2)">MFI</text><text x="793.5" y="854.4" font-size="24.3" fill="#111" text-anchor="middle" textLength="84.1" lengthAdjust="spacingAndGlyphs">HLA-DR</text><text x="875.4" y="854.4" font-size="24.3" fill="#111" text-anchor="middle" textLength="56.5" lengthAdjust="spacingAndGlyphs">CD1c</text><text x="955.3" y="854.4" font-size="24.3" fill="#111" text-anchor="middle" textLength="70.3" lengthAdjust="spacingAndGlyphs">CD103</text><text x="1035.6" y="854.4" font-size="24.3" fill="#111" text-anchor="middle" textLength="70.3" lengthAdjust="spacingAndGlyphs">CD141</text><text x="1113.6" y="854.4" font-size="24.3" fill="#111" text-anchor="middle" textLength="49" lengthAdjust="spacingAndGlyphs">IRF4</text><g fill="#151515"><circle cx="778.5" cy="637.6" r="5.6"/><circle cx="778.3" cy="643.1" r="5.6"/><circle cx="784.4" cy="650.7" r="5.6"/><circle cx="773.8" cy="656.8" r="5.6"/><circle cx="786.4" cy="662.5" r="5.6"/><circle cx="769.8" cy="666.5" r="5.6"/><circle cx="782" cy="665.9" r="5.6"/><circle cx="771.8" cy="678.4" r="5.6"/><circle cx="781.6" cy="678.4" r="5.6"/><circle cx="776" cy="660" r="5.6"/><circle cx="778" cy="705" r="5.6"/><circle cx="780.5" cy="769.9" r="5.6"/><circle cx="775.6" cy="780.6" r="5.6"/></g><path d="M765.8 666.5H790.3" stroke="#111" stroke-width="2.6"/><path d="M817.5 629.8V646M812 629.8H823M812 646H823" stroke="#111" stroke-width="1.5" fill="none"/><path d="M804.8 638H830.9" stroke="#111" stroke-width="3"/><path d="M817.5 575.9L811.7 586.5L823.3 586.5ZM811.7 600.6L805.9 611.2L817.5 611.2ZM823 596.9L817.2 607.5L828.8 607.5ZM817.5 600.6L811.7 611.2L823.3 611.2ZM820.3 613.4L814.5 624L826.1 624ZM814.8 622.4L809 633L820.6 633ZM825.8 638.9L820 649.5L831.6 649.5ZM809.9 642.4L804.1 653L815.7 653ZM820.3 648.9L814.5 659.5L826.1 659.5ZM809.9 655.3L804.1 665.9L815.7 665.9ZM814.8 660.8L809 671.4L820.6 671.4ZM825.8 663.5L820 674.1L831.6 674.1ZM809.9 670.8L804.1 681.4L815.7 681.4ZM820.3 669L814.5 679.6L826.1 679.6Z" fill="none" stroke="#111" stroke-width="1.5" stroke-linejoin="miter"/><path d="M776 563.4H815.7" stroke="#111" stroke-width="1.5"/><text x="795.9" y="566" font-size="19.5" fill="#111" stroke="#111" stroke-width="0.45" text-anchor="middle" textLength="27.6" lengthAdjust="spacing">***</text><g fill="#151515"><circle cx="857.5" cy="807.1" r="5.6"/><circle cx="850.3" cy="812.3" r="5.6"/><circle cx="863.1" cy="818.2" r="5.6"/><circle cx="849.4" cy="820" r="5.6"/><circle cx="856.3" cy="822.5" r="5.6"/><circle cx="862" cy="821" r="5.6"/><circle cx="853" cy="816" r="5.6"/><circle cx="858" cy="814" r="5.6"/></g><path d="M897.3 674.4L891.5 685L903.1 685ZM897.3 766.6L891.5 777.2L903.1 777.2ZM894.8 774.3L889 784.9L900.6 784.9ZM899.9 780.3L894.1 790.9L905.7 790.9ZM895.6 793.1L889.8 803.7L901.4 803.7ZM892.2 811.9L886.4 822.5L898 822.5ZM903.3 808.5L897.5 819.1L909.1 819.1ZM897.3 814.4L891.5 825L903.1 825ZM890 801.4L884.2 812L895.8 812ZM901 797.4L895.2 808L906.8 808ZM888 814.4L882.2 825L893.8 825ZM905 815.4L899.2 826L910.8 826Z" fill="none" stroke="#111" stroke-width="1.3" stroke-linejoin="miter"/><path d="M884.2 793H910.5" stroke="#111" stroke-width="3"/><path d="M861.5 655.5H901.1" stroke="#111" stroke-width="1.5"/><text x="881.3" y="658.1" font-size="19.5" fill="#111" stroke="#111" stroke-width="0.45" text-anchor="middle" textLength="27.6" lengthAdjust="spacing">***</text><g fill="#151515"><circle cx="931.7" cy="812.3" r="5.6"/><circle cx="943.1" cy="813.4" r="5.6"/><circle cx="928.3" cy="819.1" r="5.6"/><circle cx="946.5" cy="819.1" r="5.6"/><circle cx="935.1" cy="820.3" r="5.6"/><circle cx="938" cy="816" r="5.6"/><circle cx="931" cy="822" r="5.6"/><circle cx="941" cy="822" r="5.6"/></g><path d="M966 811.4L960.2 822L971.8 822ZM970 812.4L964.2 823L975.8 823ZM974 811.4L968.2 822L979.8 822ZM978 813.4L972.2 824L983.8 824ZM982 812.4L976.2 823L987.8 823ZM986 813.4L980.2 824L991.8 824ZM972 815.4L966.2 826L977.8 826ZM980 815.4L974.2 826L985.8 826Z" fill="none" stroke="#111" stroke-width="1.2" stroke-linejoin="miter"/><path d="M963 821.5H990" stroke="#111" stroke-width="2.4"/><path d="M939.7 766.7H979.6" stroke="#111" stroke-width="1.5"/><text x="959.7" y="769.3" font-size="19.5" fill="#111" stroke="#111" stroke-width="0.45" text-anchor="middle" textLength="27.6" lengthAdjust="spacing">***</text><path d="M1016.1 720.3V755.2M1009.7 720.3H1022.5M1009.7 755.2H1022.5" stroke="#111" stroke-width="1.5" fill="none"/><g fill="#151515"><circle cx="1015.9" cy="667.7" r="5.6"/><circle cx="1017.8" cy="678.4" r="5.6"/><circle cx="1015.9" cy="731" r="5.6"/><circle cx="1016.7" cy="740.5" r="5.6"/><circle cx="1006" cy="780" r="5.6"/><circle cx="1013" cy="777" r="5.6"/><circle cx="1020" cy="779" r="5.6"/><circle cx="1026" cy="780.3" r="5.6"/><circle cx="1016.7" cy="803" r="5.6"/></g><path d="M1003.1 737.7H1029.8" stroke="#111" stroke-width="3"/><path d="M1056 761.3L1050.2 771.9L1061.8 771.9ZM1048 786.4L1042.2 797L1053.8 797ZM1056 785.4L1050.2 796L1061.8 796ZM1064 786.4L1058.2 797L1069.8 797ZM1052 789.4L1046.2 800L1057.8 800ZM1060 789.4L1054.2 800L1065.8 800ZM1047 794.9L1041.2 805.5L1052.8 805.5ZM1064 805.1L1058.2 815.7L1069.8 815.7ZM1058.3 806.4L1052.5 817L1064.1 817ZM1048 810.8L1042.2 821.4L1053.8 821.4ZM1068 790.4L1062.2 801L1073.8 801Z" fill="none" stroke="#111" stroke-width="1.3" stroke-linejoin="miter"/><path d="M1043.5 797H1069.7" stroke="#111" stroke-width="3"/><path d="M1019.8 649.6H1059.5" stroke="#111" stroke-width="1.5"/><text x="1039.7" y="652.2" font-size="19.5" fill="#111" stroke="#111" stroke-width="0.45" text-anchor="middle" textLength="27.6" lengthAdjust="spacing">***</text><path d="M1095.6 732.8V743M1089.4 732.8H1102" stroke="#111" stroke-width="1.5" fill="none"/><g fill="#151515"><circle cx="1095.6" cy="711.8" r="5.6"/><circle cx="1095.6" cy="748.3" r="5.6"/><circle cx="1103.8" cy="755.1" r="5.6"/><circle cx="1087.8" cy="758.6" r="5.6"/></g><path d="M1082.5 743.3H1108.8" stroke="#111" stroke-width="3"/><path d="M1132.7 646.4L1126.9 657L1138.5 657ZM1127 646.4L1121.2 657L1132.8 657ZM1143 644.2L1137.2 654.8L1148.8 654.8ZM1138.4 645.3L1132.6 655.9L1144.2 655.9Z" fill="none" stroke="#111" stroke-width="1.3" stroke-linejoin="miter"/><path d="M1122.5 647.5H1148.7" stroke="#111" stroke-width="3"/><path d="M1099.7 626.9H1139.6" stroke="#111" stroke-width="1.5"/><text x="1119.7" y="629.5" font-size="19.5" fill="#111" stroke="#111" stroke-width="0.45" text-anchor="middle" textLength="27.6" lengthAdjust="spacing">***</text><g fill="#151515"><circle cx="1199.8" cy="571.5" r="5.6"/></g><text x="1231.5" y="579.3" font-size="24.3" fill="#111" text-anchor="start" textLength="65.9" lengthAdjust="spacingAndGlyphs">DCreg</text><path d="M1199.8 599.1L1194 609.7L1205.6 609.7Z" fill="none" stroke="#111" stroke-width="1.3" stroke-linejoin="miter"/><text x="1231.5" y="612.1" font-size="24.3" fill="#111" text-anchor="start" textLength="51.9" lengthAdjust="spacingAndGlyphs">mDC</text><path d="M1526.4 547.6V822.3H1708.4" stroke="#111" stroke-width="2.6" fill="none"/><path d="M1516 548.8H1526.4" stroke="#111" stroke-width="2.4"/><text x="1513.5" y="554.2" font-size="15.3" fill="#111" text-anchor="end">20</text><path d="M1516 617.1H1526.4" stroke="#111" stroke-width="2.4"/><text x="1513.5" y="622.5" font-size="15.3" fill="#111" text-anchor="end">15</text><path d="M1516 685.4H1526.4" stroke="#111" stroke-width="2.4"/><text x="1513.5" y="690.8" font-size="15.3" fill="#111" text-anchor="end">10</text><path d="M1516 753.8H1526.4" stroke="#111" stroke-width="2.4"/><text x="1513.5" y="759.2" font-size="15.3" fill="#111" text-anchor="end">5</text><path d="M1516 822.2H1526.4" stroke="#111" stroke-width="2.4"/><text x="1513.5" y="827.6" font-size="15.3" fill="#111" text-anchor="end">0</text><path d="M1577.9 822.3V833.9" stroke="#111" stroke-width="2.4"/><path d="M1656.4 822.3V833.9" stroke="#111" stroke-width="2.4"/><text x="1577.5" y="857.8" font-size="24.3" fill="#111" text-anchor="middle" textLength="65.9" lengthAdjust="spacingAndGlyphs">DCreg</text><text x="1655.5" y="857.8" font-size="24.3" fill="#111" text-anchor="middle" textLength="51.9" lengthAdjust="spacingAndGlyphs">mDC</text><text x="1481" y="688.2" font-size="24.3" fill="#111" text-anchor="middle" transform="rotate(-90 1481 688.2)" textLength="224" lengthAdjust="spacingAndGlyphs">PD-L1:CD86 MFI ratio</text><path d="M1580.7 592.2H1654" stroke="#111" stroke-width="1.5"/><text x="1617.3" y="594.8" font-size="19.5" fill="#111" stroke="#111" stroke-width="0.45" text-anchor="middle" textLength="37.6" lengthAdjust="spacing">****</text><path d="M1577.9 704.5V732.1M1565.5 704.5H1590.7M1565.5 732.1H1590.7" stroke="#111" stroke-width="1.5" fill="none"/><g fill="#151515"><circle cx="1577.9" cy="617.2" r="5.6"/><circle cx="1577.9" cy="637.8" r="5.6"/><circle cx="1577.9" cy="669.2" r="5.6"/><circle cx="1588.8" cy="687" r="5.6"/><circle cx="1566.9" cy="695.2" r="5.6"/><circle cx="1577.9" cy="707.5" r="5.6"/><circle cx="1588.8" cy="726.7" r="5.6"/><circle cx="1566.9" cy="734.9" r="5.6"/><circle cx="1588.8" cy="744.5" r="5.6"/><circle cx="1566.9" cy="749.9" r="5.6"/><circle cx="1588.8" cy="758.1" r="5.6"/><circle cx="1566.9" cy="762.2" r="5.6"/><circle cx="1577.9" cy="773.2" r="5.6"/><circle cx="1577.9" cy="788.8" r="5.6"/></g><path d="M1552.4 718.2H1604.4" stroke="#111" stroke-width="3"/><path d="M1656.4 778.4V789.3M1644 778.4H1668.7M1644 789.3H1668.7" stroke="#111" stroke-width="1.5" fill="none"/><path d="M1656.4 724.8L1650.6 735.4L1662.2 735.4ZM1649.5 764L1643.7 774.6L1655.3 774.6ZM1662.7 760.4L1656.9 771L1668.5 771ZM1676.3 760.4L1670.5 771L1682.1 771ZM1635.9 778.7L1630.1 789.3L1641.7 789.3ZM1649.5 778.2L1643.7 788.8L1655.3 788.8ZM1662.7 776.8L1656.9 787.4L1668.5 787.4ZM1676.3 778.2L1670.5 788.8L1682.1 788.8ZM1635.9 791.9L1630.1 802.5L1641.7 802.5ZM1662.7 789.1L1656.9 799.7L1668.5 799.7ZM1649.5 797.3L1643.7 807.9L1655.3 807.9ZM1635.9 805.5L1630.1 816.1L1641.7 816.1ZM1662.7 804.2L1656.9 814.8L1668.5 814.8ZM1676.3 801.4L1670.5 812L1682.1 812Z" fill="none" stroke="#111" stroke-width="1.5" stroke-linejoin="miter"/><path d="M1630.4 784.7H1681.8" stroke="#111" stroke-width="3"/></svg></body></html>
